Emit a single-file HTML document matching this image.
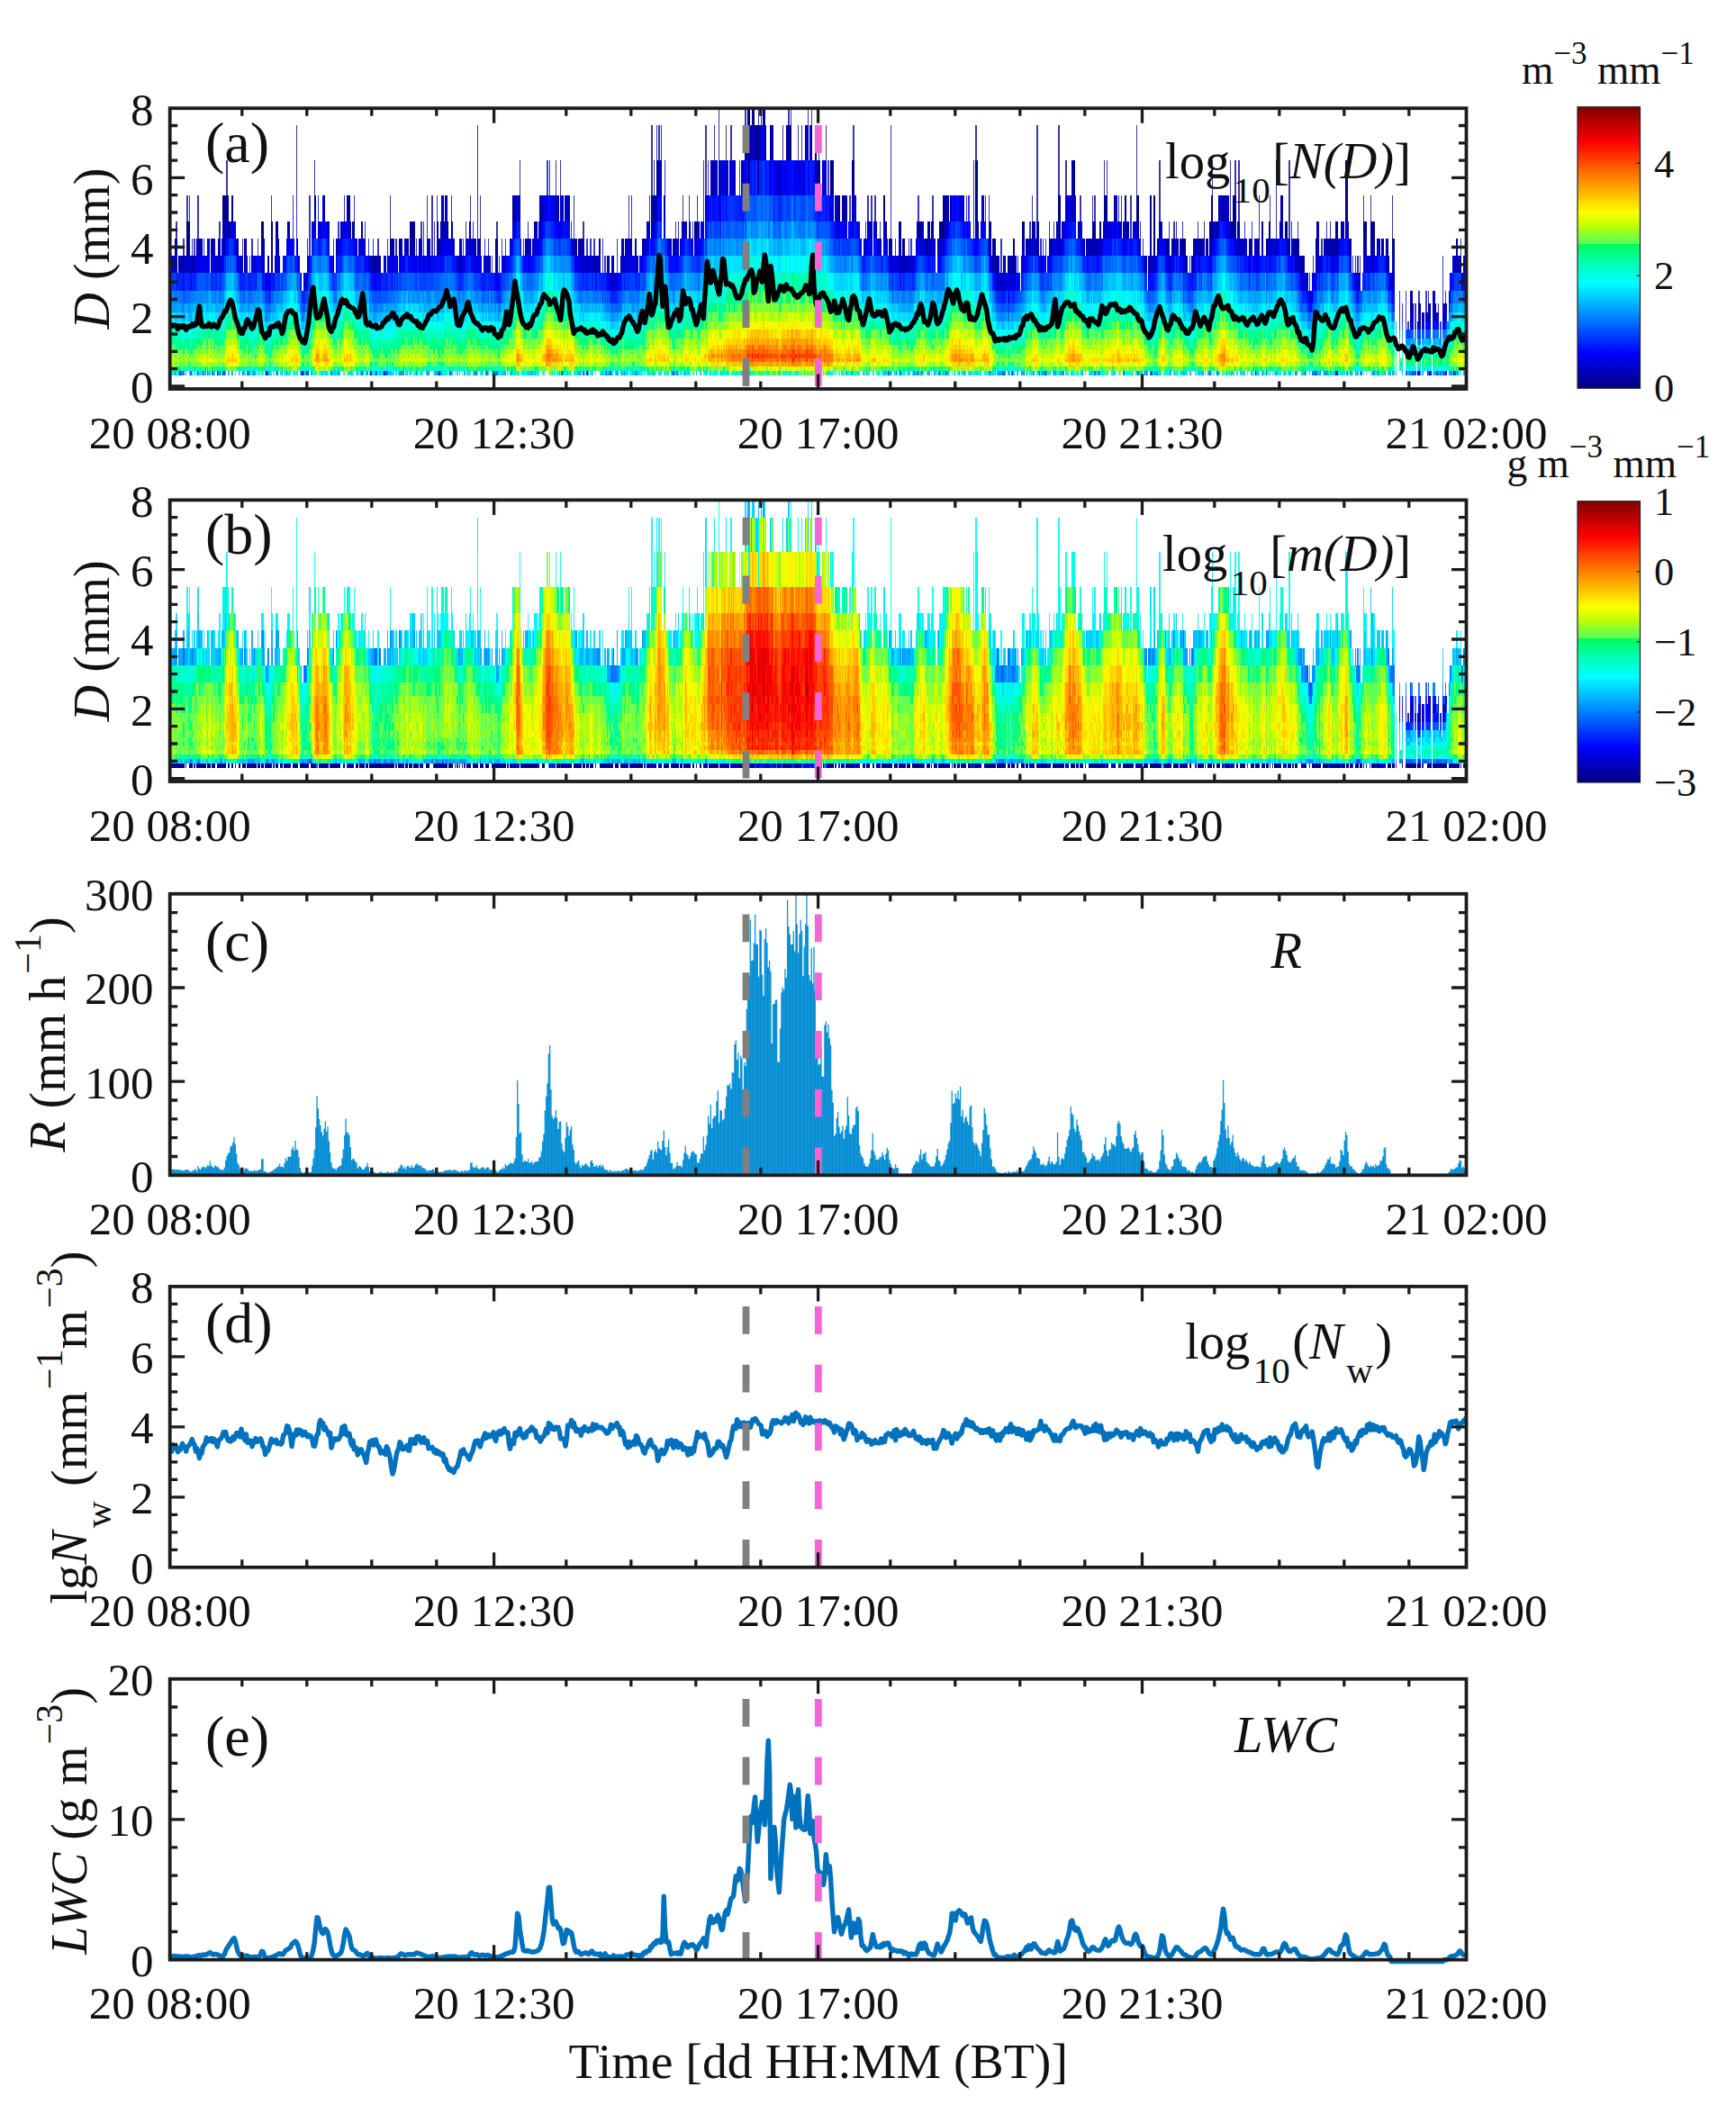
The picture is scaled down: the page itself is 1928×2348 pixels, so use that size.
<!DOCTYPE html>
<html lang="en"><head><meta charset="utf-8"><title>Figure</title><style>html,body{margin:0;padding:0;background:#fff}svg{display:block}</style></head><body>
<svg width="1928" height="2348" viewBox="0 0 1928 2348" font-family="'Liberation Serif', 'Times New Roman', serif" fill="#111">
<defs>
<clipPath id="clipa"><rect x="188.7" y="120.2" width="1439.8" height="311.8"/></clipPath>
<clipPath id="clipb"><rect x="188.7" y="555.4" width="1439.8" height="312.6"/></clipPath>
<clipPath id="clipc"><rect x="188.7" y="992.8" width="1439.8" height="312.5"/></clipPath>
<clipPath id="clipd"><rect x="188.7" y="1428.9" width="1439.8" height="311.9"/></clipPath>
<clipPath id="clipe"><rect x="188.7" y="1864.8" width="1439.8" height="311.9"/></clipPath>
<linearGradient id="jet" x1="0" y1="1" x2="0" y2="0"><stop offset="0.0000" stop-color="#000080"/><stop offset="0.1250" stop-color="#0000ff"/><stop offset="0.3750" stop-color="#00ffff"/><stop offset="0.4263" stop-color="#00ffc8"/><stop offset="0.4596" stop-color="#00ffa0"/><stop offset="0.5120" stop-color="#00fa5a"/><stop offset="0.5121" stop-color="#5fff55"/><stop offset="0.5228" stop-color="#64ff50"/><stop offset="0.5430" stop-color="#82ff37"/><stop offset="0.5760" stop-color="#beff00"/><stop offset="0.6245" stop-color="#ffff00"/><stop offset="0.8750" stop-color="#ff0000"/><stop offset="1.0000" stop-color="#800000"/></linearGradient>
</defs>
<rect width="1928" height="2348" fill="#fff"/>
<g clip-path="url(#clipa)" shape-rendering="crispEdges" fill="none">
<g transform="translate(188.7,414.5) scale(1.33315,1)" stroke-width="5">
<path stroke="#0000d9" d="M1035,0h1M1040,0h1"/>
<path stroke="#0000f2" d="M904,0h1M972,0h1M1049,0h1M1069,0h1"/>
<path stroke="#000dff" d="M39,0h1M80,0h1M110,0h1M178,0h1M817,0h1M971,0h1M1039,0h1"/>
<path stroke="#0026ff" d="M8,0h1M167,0h1M224,0h1M347,0h1M1047,0h1M1050,0h1M1062,0h2"/>
<path stroke="#0040ff" d="M27,0h1M115,0h1M171,0h1M179,0h1M363,0h1M366,0h1M388,0h1M598,0h1M694,0h1M729,0h1M1037,0h1M1055,0h1"/>
<path stroke="#0059ff" d="M44,0h1M69,0h1M114,0h1M181,0h1M269,0h1M640,0h1M646,0h1M701,0h1M711,0h1M813,0h1M822,0h1M913,0h1M953,0h1M955,0h1M1006,0h1M1029,0h1M1032,0h1M1061,0h1M1070,0h1"/>
<path stroke="#0073ff" d="M17,0h1M31,0h1M35,0h1M45,0h1M60,0h1M64,0h2M89,0h1M109,0h1M113,0h1M160,0h1M172,0h1M180,0h1M192,0h1M194,0h1M233,0h1M254,0h1M263,0h1M272,0h1M326,0h1M344,0h1M372,0h1M419,0h1M608,0h1M622,0h1M636,0h1M693,0h1M724,0h1M760,0h1M770,0h1M794,0h1M806,0h1M872,0h1M910,0h1M945,0h1M951,0h1M992,0h1M1034,0h1M1048,0h1M1053,0h1M1058,0h1M1060,0h1M1072,0h1"/>
<path stroke="#008cff" d="M4,0h1M10,0h2M23,0h1M41,0h1M51,0h1M81,0h1M93,0h1M97,0h1M111,0h1M156,0h1M159,0h1M205,0h1M215,0h1M223,0h1M252,0h1M264,0h1M270,0h2M276,0h1M367,0h1M378,0h1M418,0h1M422,0h1M568,0h1M580,0h1M619,0h1M682,0h1M691,0h1M695,0h1M709,0h1M726,0h1M728,0h1M743,0h1M774,0h1M816,0h1M856,0h1M866,0h1M933,0h1M937,0h1M954,0h1M958,0h1M962,0h1M1002,0h2M1012,0h1M1030,0h1M1033,0h1M1041,0h1M1056,0h1M1065,0h1M1067,0h1"/>
<path stroke="#00a6ff" d="M9,0h1M29,0h1M33,0h1M37,0h1M40,0h1M46,0h1M48,0h1M70,0h1M82,0h1M117,0h1M134,0h1M140,0h1M164,0h1M175,0h1M177,0h1M183,0h1M191,0h1M221,0h1M226,0h1M255,0h1M279,0h1M284,0h1M298,0h1M300,0h1M327,0h1M339,0h1M348,0h1M360,0h1M376,0h1M402,0h1M420,0h1M428,0h1M477,0h1M563,0h1M595,0h1M599,0h1M620,0h1M623,0h1M626,0h1M631,0h1M641,0h1M647,0h1M657,0h1M661,0h1M666,0h1M683,0h1M687,0h1M689,0h1M692,0h1M699,0h1M706,0h1M719,0h1M723,0h1M737,0h1M741,0h1M744,0h1M773,0h1M818,0h1M820,0h2M833,0h1M844,0h1M860,0h1M864,0h2M892,0h1M894,0h1M921,0h1M938,0h1M952,0h1M957,0h1M964,0h1M969,0h1M980,0h1M983,0h1M987,0h1M1018,0h1M1077,0h2"/>
<path stroke="#00bfff" d="M1,0h1M22,0h1M61,0h1M126,0h1M130,0h1M135,0h1M137,0h1M139,0h1M150,0h1M184,0h1M186,0h1M213,0h2M222,0h1M225,0h1M234,0h2M247,0h1M274,0h1M278,0h1M294,0h1M301,0h1M304,0h1M324,0h1M331,0h1M340,0h3M352,0h1M365,0h1M373,0h1M386,0h1M442,0h1M447,0h1M459,0h1M476,0h1M577,0h1M600,0h1M603,0h1M605,0h1M615,0h1M625,0h1M632,0h1M644,0h1M685,0h1M690,0h1M698,0h1M702,0h1M710,0h1M727,0h1M733,0h1M735,0h2M751,0h1M767,0h1M786,0h2M804,0h1M809,0h1M811,0h2M845,0h1M849,0h2M884,0h1M886,0h1M900,0h1M905,0h1M928,0h1M942,0h1M944,0h1M963,0h1M967,0h1M976,0h1M989,0h1M1001,0h1M1015,0h2M1019,0h1M1031,0h1M1036,0h1M1057,0h1M1059,0h1M1066,0h1M1079,0h1"/>
<path stroke="#00d9ff" d="M3,0h1M7,0h1M18,0h1M25,0h1M32,0h1M52,0h1M57,0h1M62,0h1M66,0h1M71,0h1M76,0h1M83,0h1M100,0h1M118,0h1M127,0h1M141,0h1M149,0h1M158,0h1M170,0h1M182,0h1M196,0h2M199,0h1M230,0h1M249,0h1M260,0h1M265,0h1M287,0h1M302,0h1M307,0h1M318,0h1M322,0h1M336,0h1M359,0h1M362,0h1M368,0h1M371,0h1M375,0h1M377,0h1M380,0h2M385,0h1M389,0h2M393,0h1M398,0h1M408,0h1M426,0h1M431,0h1M446,0h1M454,0h1M464,0h1M482,0h1M508,0h1M548,0h1M582,0h1M594,0h1M596,0h1M612,0h1M616,0h1M662,0h1M671,0h2M675,0h1M703,0h1M705,0h1M717,0h1M730,0h1M771,0h2M781,0h1M784,0h1M824,0h1M836,0h1M842,0h2M847,0h1M857,0h3M880,0h1M882,0h1M906,0h1M920,0h1M922,0h1M932,0h1M946,0h1M956,0h1M961,0h1M966,0h1M978,0h1M984,0h1M988,0h1M991,0h1M1005,0h1M1014,0h1M1054,0h1M1071,0h1M1073,0h1"/>
<path stroke="#00f2ff" d="M6,0h1M16,0h1M26,0h1M58,0h1M68,0h1M74,0h1M84,0h1M88,0h1M92,0h1M95,0h1M102,0h1M108,0h1M128,0h2M151,0h2M163,0h1M166,0h1M169,0h1M173,0h2M185,0h1M203,0h1M220,0h1M227,0h1M232,0h1M248,0h1M259,0h1M286,0h1M297,0h1M299,0h1M303,0h1M305,0h1M323,0h1M334,0h1M350,0h2M379,0h1M387,0h1M391,0h1M423,0h1M441,0h1M444,0h1M453,0h1M455,0h1M462,0h2M485,0h1M496,0h1M507,0h1M516,0h1M551,0h1M586,0h1M588,0h1M593,0h1M637,0h1M659,0h1M668,0h1M670,0h1M742,0h1M759,0h1M765,0h1M776,0h1M796,0h1M828,0h5M837,0h2M867,0h1M873,0h1M889,0h1M893,0h1M923,0h2M974,0h1M977,0h1"/>
<path stroke="#00fff2" d="M49,0h1M103,0h3M120,0h1M136,0h1M155,0h1M176,0h1M190,0h1M200,0h2M208,0h1M210,0h1M229,0h1M253,0h1M292,0h2M295,0h1M310,0h2M358,0h1M384,0h1M392,0h1M397,0h1M404,0h1M412,0h1M421,0h1M430,0h1M435,0h1M449,0h1M452,0h1M469,0h1M479,0h1M499,0h1M523,0h1M534,0h1M550,0h1M564,0h1M591,0h1M607,0h1M610,0h2M618,0h1M621,0h1M642,0h1M649,0h1M653,0h1M680,0h1M684,0h1M722,0h1M752,0h2M778,0h1M780,0h1M798,0h1M814,0h1M823,0h1M841,0h1M879,0h1M881,0h1M888,0h1M891,0h1M902,0h1M907,0h1M909,0h1M911,0h1M960,0h1M968,0h1"/>
<path stroke="#00ffd7" d="M2,0h1M24,0h1M28,0h1M43,0h1M73,0h1M96,0h1M112,0h1M119,0h1M124,0h2M131,0h1M145,0h1M161,0h1M168,0h1M204,0h1M256,0h1M258,0h1M273,0h1M275,0h1M283,0h1M296,0h1M332,0h2M338,0h1M345,0h1M361,0h1M401,0h1M413,0h1M425,0h1M450,0h1M456,0h1M461,0h1M471,0h1M473,0h1M478,0h1M484,0h1M489,0h1M512,0h2M517,0h1M521,0h1M538,0h2M552,0h1M566,0h1M569,0h1M581,0h1M589,0h1M597,0h1M614,0h1M624,0h1M627,0h1M638,0h1M643,0h1M656,0h1M660,0h1M681,0h1M686,0h1M713,0h1M718,0h1M732,0h1M738,0h1M740,0h1M748,0h1M755,0h1M758,0h1M766,0h1M768,0h1M790,0h1M795,0h1M797,0h1M799,0h1M802,0h1M819,0h1M825,0h1M846,0h1M895,0h1M914,0h1M927,0h1M931,0h1M973,0h1M1009,0h1M1052,0h1"/>
<path stroke="#00ffbb" d="M5,0h1M42,0h1M67,0h1M77,0h1M98,0h1M138,0h1M206,0h1M228,0h1M250,0h1M268,0h1M277,0h1M316,0h1M320,0h1M329,0h2M337,0h1M383,0h1M433,0h1M436,0h1M445,0h1M451,0h1M458,0h1M460,0h1M468,0h1M470,0h1M474,0h2M497,0h1M510,0h2M515,0h1M520,0h1M525,0h1M542,0h1M544,0h1M549,0h1M561,0h1M565,0h1M571,0h2M601,0h1M604,0h1M630,0h1M645,0h1M648,0h1M665,0h1M673,0h2M678,0h1M716,0h1M725,0h1M739,0h1M747,0h1M775,0h1M800,0h2M805,0h1M807,0h1M839,0h1M874,0h1M901,0h1M925,0h1M981,0h1M1007,0h1M1068,0h1"/>
<path stroke="#00ff9c" d="M79,0h1M99,0h1M106,0h1M121,0h1M133,0h1M193,0h1M209,0h1M289,0h2M328,0h1M364,0h1M399,0h1M407,0h1M409,0h1M411,0h1M414,0h2M486,0h1M501,0h1M506,0h1M528,0h1M541,0h1M547,0h1M560,0h1M573,0h2M578,0h1M585,0h1M590,0h1M609,0h1M714,0h1M746,0h1M750,0h1M769,0h1M777,0h1M785,0h1M970,0h1M1004,0h1M1008,0h1M1011,0h1"/>
<path stroke="#00fc7b" d="M36,0h1M285,0h1M400,0h1M403,0h1M417,0h1M429,0h1M432,0h1M465,0h1M472,0h1M483,0h1M491,0h1M493,0h1M498,0h1M503,0h1M522,0h1M540,0h1M559,0h1M567,0h1M679,0h1M731,0h1M756,0h1M808,0h1M876,0h1M929,0h1M943,0h1M965,0h1M1010,0h1"/>
<path stroke="#5fff55" d="M144,0h1M147,0h2M219,0h1M288,0h1M317,0h1M467,0h1M490,0h1M494,0h1M504,0h1M514,0h1M524,0h1M530,0h3M537,0h1M570,0h1M779,0h1M877,0h1M885,0h1M975,0h1"/>
<path stroke="#7aff3e" d="M122,0h1M306,0h1M325,0h1M487,0h2M495,0h1M500,0h1M518,0h2M527,0h1M529,0h1M533,0h1M535,0h1M546,0h1M628,0h1M667,0h1M791,0h1M878,0h1M883,0h1M985,0h1"/>
<path stroke="#a5ff16" d="M319,0h1M480,0h2M492,0h1M502,0h1M509,0h1M536,0h1M669,0h1M827,0h1"/>
<path stroke="#cdff00" d="M526,0h1M545,0h1M654,0h1"/>
<path stroke="#efff00" d="M315,0h1M505,0h1"/>
<path stroke="#387eff" d="M13,0h1M916,0h1"/>
<path stroke="#38a5ff" d="M245,0h1M438,0h1M949,0h1M1021,0h1M1026,0h1M1043,0h1M1075,0h1"/>
<path stroke="#38b9ff" d="M239,0h1M241,0h1M918,0h1"/>
<path stroke="#38cdff" d="M188,0h1M854,0h1M862,0h1M994,0h1"/>
<path stroke="#38e1ff" d="M20,0h1M237,0h1M395,0h1M554,0h1M634,0h1M651,0h1M897,0h1"/>
<path stroke="#38f5ff" d="M86,0h1M243,0h1M354,0h1M869,0h1M996,0h1"/>
<path stroke="#38fff5" d="M281,0h1M935,0h1"/>
<path stroke="#38ffe0" d="M54,0h1M557,0h1"/>
<path stroke="#38ffca" d="M762,0h1"/>
<path stroke="#97ff68" d="M999,0h1"/>
</g>
<g transform="translate(188.7,409.5) scale(1.33315,1)" stroke-width="5">
<path stroke="#00bfff" d="M1032,0h1"/>
<path stroke="#00d9ff" d="M1040,0h2"/>
<path stroke="#00f2ff" d="M688,0h1M693,0h1M989,0h2M1026,0h1M1030,0h1M1044,0h1M1046,0h1M1048,0h1M1050,0h1M1062,0h1"/>
<path stroke="#00fff2" d="M17,0h1M111,0h1M114,0h1M116,0h1M170,0h2M179,0h1M183,0h1M218,0h1M222,0h1M227,0h1M691,0h1M694,0h1M699,0h1M701,0h1M849,0h1M952,0h1M957,0h1M988,0h1M991,0h1M1024,0h1M1029,0h1M1031,0h1M1033,0h2M1036,0h1M1043,0h1M1045,0h1M1053,0h1M1055,0h4M1060,0h2M1063,0h1"/>
<path stroke="#00ffd7" d="M9,0h1M23,0h2M42,0h1M65,0h1M67,0h2M70,0h1M80,0h2M85,0h2M110,0h1M115,0h1M117,0h2M138,0h1M159,0h1M167,0h1M173,0h1M175,0h1M184,0h2M187,0h1M197,0h1M229,0h2M236,0h1M242,0h1M244,0h2M258,0h1M267,0h1M270,0h1M272,0h1M274,0h1M374,0h1M388,0h1M391,0h1M446,0h1M690,0h1M692,0h1M696,0h1M707,0h1M709,0h2M820,0h1M847,0h1M948,0h1M950,0h1M954,0h1M1018,0h1M1025,0h1M1035,0h1M1037,0h1M1039,0h1M1052,0h1M1054,0h1M1059,0h1M1067,0h1"/>
<path stroke="#00ffbb" d="M3,0h1M12,0h1M14,0h2M19,0h1M21,0h1M30,0h1M38,0h1M43,0h1M45,0h1M56,0h1M58,0h1M60,0h1M63,0h1M72,0h2M82,0h1M84,0h1M108,0h1M112,0h2M136,0h1M141,0h1M157,0h2M161,0h1M165,0h2M169,0h1M172,0h1M174,0h1M177,0h2M181,0h2M189,0h2M212,0h1M215,0h1M221,0h1M223,0h4M231,0h1M233,0h1M237,0h3M241,0h1M246,0h1M262,0h1M266,0h1M273,0h1M278,0h1M342,0h3M360,0h1M363,0h3M368,0h2M371,0h3M376,0h1M378,0h2M382,0h1M384,0h1M386,0h1M393,0h1M395,0h1M419,0h2M426,0h1M610,0h1M618,0h1M635,0h1M644,0h1M689,0h1M698,0h1M702,0h3M706,0h1M708,0h1M727,0h1M822,0h2M831,0h2M852,0h1M854,0h1M868,0h1M920,0h1M924,0h1M942,0h1M945,0h3M949,0h1M951,0h1M955,0h1M985,0h2M992,0h1M1006,0h1M1019,0h1M1047,0h1M1049,0h1M1064,0h3"/>
<path stroke="#00ff9c" d="M1,0h1M5,0h1M11,0h1M13,0h1M18,0h1M22,0h1M31,0h1M36,0h1M39,0h1M41,0h1M46,0h1M59,0h1M61,0h2M66,0h1M69,0h1M71,0h1M74,0h1M83,0h1M87,0h3M92,0h1M109,0h1M137,0h1M142,0h1M156,0h1M160,0h1M162,0h1M168,0h1M176,0h1M180,0h1M186,0h1M188,0h1M191,0h1M193,0h1M195,0h2M198,0h1M200,0h1M202,0h1M204,0h1M210,0h2M213,0h2M216,0h2M219,0h2M232,0h1M234,0h2M240,0h1M243,0h1M247,0h1M253,0h1M256,0h1M259,0h1M261,0h1M264,0h1M268,0h1M271,0h1M275,0h1M277,0h1M285,0h1M347,0h1M349,0h1M353,0h1M362,0h1M370,0h1M380,0h2M383,0h1M385,0h1M387,0h1M389,0h2M396,0h1M401,0h1M418,0h1M421,0h1M427,0h1M440,0h1M553,0h1M583,0h1M599,0h1M602,0h1M606,0h1M613,0h1M615,0h1M619,0h2M623,0h1M633,0h1M637,0h1M695,0h1M700,0h1M705,0h1M716,0h1M725,0h2M729,0h1M737,0h1M762,0h1M771,0h1M776,0h1M812,0h1M815,0h5M821,0h1M824,0h1M830,0h1M833,0h2M845,0h1M848,0h1M850,0h2M858,0h1M867,0h1M904,0h1M906,0h1M909,0h1M913,0h4M941,0h1M956,0h1M959,0h1M961,0h1M963,0h1M966,0h1M971,0h1M983,0h1M987,0h1M995,0h1M997,0h1M1005,0h1M1014,0h2M1017,0h1M1068,0h1M1072,0h1M1078,0h2"/>
<path stroke="#00fc7b" d="M0,0h1M2,0h1M6,0h3M16,0h1M20,0h1M25,0h1M27,0h1M29,0h1M34,0h2M37,0h1M40,0h1M44,0h1M57,0h1M64,0h1M75,0h1M77,0h3M90,0h1M93,0h1M96,0h1M99,0h1M119,0h1M135,0h1M140,0h1M143,0h2M151,0h1M155,0h1M163,0h1M194,0h1M201,0h1M205,0h2M208,0h1M228,0h1M248,0h2M251,0h1M255,0h1M257,0h1M260,0h1M263,0h1M265,0h1M269,0h1M281,0h2M284,0h1M286,0h2M303,0h4M328,0h2M338,0h2M341,0h1M346,0h1M348,0h1M351,0h2M354,0h1M358,0h1M361,0h1M366,0h2M375,0h1M392,0h1M394,0h1M397,0h2M403,0h1M405,0h2M409,0h1M416,0h1M423,0h1M425,0h1M428,0h1M430,0h3M441,0h1M444,0h1M447,0h1M461,0h1M561,0h1M579,0h2M582,0h1M593,0h1M596,0h1M607,0h2M611,0h1M614,0h1M616,0h2M622,0h1M626,0h1M629,0h1M634,0h1M636,0h1M638,0h1M641,0h3M646,0h1M648,0h2M675,0h1M685,0h3M697,0h1M712,0h1M714,0h1M736,0h1M741,0h1M746,0h1M760,0h1M765,0h1M767,0h1M785,0h1M813,0h2M829,0h1M844,0h1M846,0h1M853,0h1M855,0h1M857,0h1M859,0h1M866,0h1M869,0h1M887,0h1M891,0h2M898,0h1M902,0h2M905,0h1M908,0h1M917,0h2M922,0h2M925,0h1M933,0h1M939,0h1M943,0h2M953,0h1M958,0h1M960,0h1M970,0h1M972,0h3M977,0h1M982,0h1M993,0h1M998,0h2M1002,0h2M1010,0h1M1016,0h1M1069,0h1M1071,0h1M1077,0h1"/>
<path stroke="#5fff55" d="M4,0h1M10,0h1M26,0h1M28,0h1M32,0h2M51,0h2M54,0h2M76,0h1M91,0h1M95,0h1M97,0h1M100,0h2M106,0h2M132,0h1M139,0h1M146,0h1M152,0h3M199,0h1M203,0h1M207,0h1M209,0h1M252,0h1M254,0h1M276,0h1M279,0h2M283,0h1M291,0h1M293,0h1M295,0h2M299,0h4M309,0h1M311,0h1M320,0h1M327,0h1M331,0h1M337,0h1M340,0h1M345,0h1M355,0h3M377,0h1M408,0h1M410,0h1M413,0h1M417,0h1M422,0h1M433,0h2M438,0h1M445,0h1M449,0h2M453,0h3M460,0h1M464,0h1M483,0h1M508,0h1M568,0h1M575,0h1M577,0h2M581,0h1M591,0h1M595,0h1M597,0h1M601,0h1M604,0h2M612,0h1M628,0h1M631,0h2M639,0h2M645,0h1M647,0h1M677,0h1M679,0h1M711,0h1M715,0h1M728,0h1M731,0h1M734,0h2M738,0h1M740,0h1M742,0h2M745,0h1M764,0h1M766,0h1M769,0h1M774,0h2M781,0h1M784,0h1M787,0h1M794,0h2M798,0h1M801,0h1M803,0h1M811,0h1M835,0h2M838,0h2M841,0h3M856,0h1M860,0h1M862,0h1M864,0h1M872,0h1M880,0h1M882,0h2M896,0h2M899,0h3M907,0h1M910,0h1M912,0h1M919,0h1M921,0h1M927,0h2M930,0h2M934,0h3M938,0h1M940,0h1M962,0h1M968,0h2M975,0h2M978,0h1M981,0h1M984,0h1M996,0h1M1000,0h2M1004,0h1M1009,0h1M1011,0h1M1070,0h1M1073,0h4"/>
<path stroke="#7aff3e" d="M47,0h2M50,0h1M53,0h1M94,0h1M120,0h1M124,0h1M128,0h2M134,0h1M147,0h1M150,0h1M164,0h1M192,0h1M250,0h1M288,0h1M298,0h1M307,0h2M310,0h1M313,0h1M317,0h2M321,0h1M330,0h1M350,0h1M359,0h1M400,0h1M402,0h1M407,0h1M411,0h2M414,0h1M424,0h1M435,0h2M439,0h1M442,0h2M448,0h1M457,0h2M462,0h1M466,0h1M507,0h1M554,0h2M559,0h2M562,0h1M567,0h1M569,0h1M576,0h1M585,0h1M587,0h4M592,0h1M594,0h1M598,0h1M603,0h1M609,0h1M621,0h1M624,0h1M627,0h1M630,0h1M650,0h1M670,0h2M673,0h2M676,0h1M682,0h1M717,0h2M721,0h1M723,0h1M730,0h1M732,0h2M744,0h1M747,0h1M750,0h1M752,0h2M758,0h1M761,0h1M768,0h1M773,0h1M777,0h1M779,0h2M782,0h1M786,0h1M793,0h1M796,0h1M799,0h2M804,0h1M807,0h2M810,0h1M825,0h3M837,0h1M840,0h1M865,0h1M871,0h1M881,0h1M886,0h1M890,0h1M893,0h1M895,0h1M911,0h1M926,0h1M929,0h1M932,0h1M937,0h1M967,0h1M979,0h1M994,0h1M1007,0h2M1012,0h2"/>
<path stroke="#a5ff16" d="M49,0h1M98,0h1M104,0h2M121,0h1M125,0h2M133,0h1M148,0h2M294,0h1M297,0h1M312,0h1M324,0h3M332,0h1M334,0h1M336,0h1M399,0h1M404,0h1M429,0h1M437,0h1M451,0h2M456,0h1M463,0h1M465,0h1M468,0h1M480,0h1M486,0h1M488,0h1M496,0h2M513,0h1M516,0h1M525,0h1M528,0h1M532,0h1M537,0h1M543,0h1M548,0h2M552,0h1M557,0h2M563,0h1M565,0h1M570,0h2M573,0h2M584,0h1M586,0h1M600,0h1M651,0h3M655,0h2M658,0h5M664,0h2M668,0h2M672,0h1M680,0h1M683,0h1M713,0h1M720,0h1M722,0h1M724,0h1M739,0h1M749,0h1M751,0h1M759,0h1M763,0h1M778,0h1M783,0h1M788,0h2M791,0h2M805,0h2M809,0h1M828,0h1M861,0h1M863,0h1M870,0h1M873,0h1M876,0h2M884,0h1M888,0h2M894,0h1M964,0h2"/>
<path stroke="#cdff00" d="M102,0h2M123,0h1M131,0h1M145,0h1M289,0h1M292,0h1M314,0h2M319,0h1M322,0h2M333,0h1M335,0h1M415,0h1M469,0h3M475,0h1M477,0h3M481,0h1M487,0h1M491,0h1M493,0h1M495,0h1M500,0h2M503,0h1M509,0h1M514,0h1M517,0h1M521,0h1M523,0h1M526,0h2M529,0h1M534,0h1M536,0h1M538,0h3M542,0h1M544,0h1M546,0h1M550,0h1M556,0h1M564,0h1M625,0h1M657,0h1M681,0h1M684,0h1M719,0h1M748,0h1M754,0h4M770,0h1M772,0h1M790,0h1M797,0h1M802,0h1M874,0h1M878,0h2M885,0h1M980,0h1"/>
<path stroke="#efff00" d="M122,0h1M127,0h1M130,0h1M290,0h1M459,0h1M467,0h1M472,0h3M476,0h1M482,0h1M484,0h1M492,0h1M498,0h2M504,0h3M511,0h2M515,0h1M518,0h3M522,0h1M530,0h1M533,0h1M535,0h1M545,0h1M547,0h1M551,0h1M566,0h1M572,0h1M654,0h1M663,0h1M666,0h2M678,0h1M875,0h1"/>
<path stroke="#fff200" d="M489,0h2M494,0h1M502,0h1M510,0h1M524,0h1M531,0h1M541,0h1"/>
<path stroke="#ffd800" d="M316,0h1M485,0h1"/>
<path stroke="#38ffe0" d="M1021,0h1"/>
</g>
<g transform="translate(188.7,404.5) scale(1.33315,1)" stroke-width="5">
<path stroke="#00ffbb" d="M1024,0h1M1032,0h1M1040,0h1M1062,0h1"/>
<path stroke="#00ff9c" d="M83,0h1M115,0h1M172,0h1M224,0h1M698,0h1M702,0h1M948,0h1M1018,0h1M1026,0h1M1029,0h3M1034,0h3M1039,0h1M1041,0h1M1043,0h2M1046,0h3M1050,0h1M1053,0h2M1057,0h1M1059,0h3M1063,0h1"/>
<path stroke="#00fc7b" d="M15,0h1M79,0h1M110,0h2M114,0h1M167,0h2M170,0h2M180,0h2M183,0h1M185,0h1M215,0h1M217,0h1M222,0h1M225,0h3M241,0h1M274,0h1M368,0h1M373,0h1M385,0h2M689,0h1M693,0h2M699,0h1M701,0h1M706,0h1M820,0h1M849,0h1M851,0h2M945,0h1M950,0h2M957,0h1M988,0h2M1025,0h1M1033,0h1M1049,0h1M1052,0h1M1056,0h1M1058,0h1M1064,0h1"/>
<path stroke="#5fff55" d="M3,0h1M8,0h2M11,0h1M16,0h3M25,0h1M44,0h1M65,0h1M67,0h1M71,0h1M80,0h3M84,0h3M112,0h2M116,0h1M138,0h1M166,0h1M173,0h2M176,0h4M182,0h1M186,0h2M189,0h1M216,0h1M218,0h3M223,0h1M228,0h4M234,0h1M237,0h1M239,0h1M244,0h2M247,0h1M258,0h1M263,0h1M266,0h1M268,0h2M271,0h1M273,0h1M275,0h1M366,0h2M369,0h4M375,0h1M379,0h1M381,0h2M390,0h1M393,0h1M420,0h1M426,0h1M606,0h1M688,0h1M690,0h3M695,0h2M700,0h1M703,0h2M707,0h1M709,0h1M712,0h1M819,0h1M821,0h1M832,0h1M850,0h1M853,0h1M942,0h2M947,0h1M949,0h1M952,0h1M954,0h3M986,0h2M990,0h2M1017,0h1M1037,0h1M1045,0h1M1055,0h1M1065,0h1M1067,0h1"/>
<path stroke="#7aff3e" d="M5,0h1M7,0h1M10,0h1M12,0h2M19,0h6M35,0h1M40,0h2M43,0h1M46,0h1M58,0h1M60,0h2M64,0h1M66,0h1M68,0h1M70,0h1M72,0h1M77,0h1M88,0h2M93,0h1M108,0h2M117,0h2M137,0h1M158,0h4M169,0h1M175,0h1M184,0h1M190,0h1M194,0h2M199,0h2M202,0h1M210,0h2M213,0h2M221,0h1M233,0h1M235,0h2M238,0h1M240,0h1M242,0h2M246,0h1M250,0h1M253,0h1M256,0h1M260,0h1M262,0h1M265,0h1M267,0h1M270,0h1M272,0h1M277,0h1M303,0h1M342,0h1M344,0h1M349,0h1M354,0h1M362,0h1M364,0h2M374,0h1M376,0h3M380,0h1M383,0h2M388,0h2M391,0h1M394,0h2M417,0h1M419,0h1M581,0h2M601,0h2M604,0h1M610,0h1M614,0h1M616,0h4M636,0h1M642,0h1M644,0h1M686,0h1M705,0h1M708,0h1M711,0h1M726,0h1M734,0h1M815,0h2M818,0h1M822,0h1M831,0h1M833,0h2M844,0h1M847,0h1M854,0h1M867,0h1M902,0h1M916,0h1M920,0h1M939,0h1M941,0h1M944,0h1M953,0h1M958,0h1M968,0h1M971,0h1M985,0h1M992,0h1M1004,0h2M1015,0h1M1019,0h1M1066,0h1M1068,0h4"/>
<path stroke="#a5ff16" d="M0,0h2M4,0h1M6,0h1M14,0h1M30,0h3M34,0h1M36,0h4M42,0h1M59,0h1M62,0h2M69,0h1M73,0h3M78,0h1M87,0h1M90,0h2M96,0h2M136,0h1M140,0h3M154,0h4M162,0h1M164,0h1M188,0h1M191,0h1M197,0h2M201,0h1M203,0h5M209,0h1M212,0h1M232,0h1M248,0h2M251,0h1M254,0h2M257,0h1M259,0h1M264,0h1M276,0h1M278,0h2M281,0h1M287,0h1M341,0h1M347,0h1M352,0h2M355,0h2M359,0h1M363,0h1M387,0h1M392,0h1M403,0h1M405,0h1M416,0h1M421,0h1M423,0h1M425,0h1M432,0h2M440,0h1M446,0h1M579,0h1M589,0h1M603,0h1M607,0h2M611,0h3M615,0h1M620,0h1M632,0h4M637,0h1M641,0h1M643,0h1M685,0h1M687,0h1M697,0h1M710,0h1M714,0h1M716,0h1M727,0h1M741,0h2M801,0h1M813,0h2M823,0h1M845,0h2M848,0h1M856,0h1M858,0h2M866,0h1M893,0h1M899,0h1M903,0h4M908,0h1M913,0h1M915,0h1M917,0h3M923,0h2M933,0h1M938,0h1M946,0h1M959,0h4M970,0h1M972,0h2M977,0h1M983,0h2M993,0h1M998,0h1M1000,0h2M1003,0h1M1006,0h1M1014,0h1M1016,0h1M1072,0h1M1077,0h3"/>
<path stroke="#cdff00" d="M2,0h1M26,0h4M33,0h1M45,0h1M47,0h1M92,0h1M95,0h1M99,0h1M103,0h1M106,0h1M135,0h1M139,0h1M143,0h2M151,0h1M163,0h1M165,0h1M192,0h2M196,0h1M208,0h1M252,0h1M261,0h1M280,0h1M282,0h1M284,0h3M295,0h2M298,0h1M301,0h2M305,0h1M307,0h3M337,0h3M343,0h1M345,0h2M348,0h1M350,0h1M357,0h2M360,0h2M396,0h3M402,0h1M413,0h1M418,0h1M422,0h1M424,0h1M427,0h2M434,0h1M441,0h1M444,0h1M447,0h1M577,0h2M580,0h1M583,0h1M590,0h1M592,0h1M594,0h2M599,0h1M605,0h1M609,0h1M621,0h1M624,0h1M626,0h1M630,0h2M639,0h2M646,0h1M674,0h2M713,0h1M715,0h1M717,0h1M724,0h2M728,0h6M736,0h2M740,0h1M743,0h1M760,0h3M764,0h2M769,0h1M774,0h3M781,0h1M799,0h1M812,0h1M817,0h1M824,0h2M829,0h2M835,0h2M838,0h1M841,0h1M843,0h1M855,0h1M857,0h1M860,0h1M864,0h2M868,0h2M871,0h1M891,0h2M894,0h3M898,0h1M900,0h2M907,0h1M914,0h1M921,0h1M925,0h1M929,0h4M934,0h4M940,0h1M963,0h2M966,0h1M969,0h1M976,0h1M981,0h1M994,0h2M997,0h1M999,0h1M1002,0h1M1007,0h3M1013,0h1M1075,0h2"/>
<path stroke="#efff00" d="M48,0h1M53,0h2M56,0h2M76,0h1M94,0h1M98,0h1M100,0h2M119,0h2M125,0h2M132,0h1M134,0h1M147,0h1M149,0h1M152,0h2M283,0h1M293,0h2M297,0h1M299,0h2M304,0h1M306,0h1M310,0h1M327,0h3M331,0h1M340,0h1M351,0h1M399,0h1M401,0h1M406,0h2M409,0h3M429,0h3M436,0h4M442,0h1M458,0h1M559,0h1M568,0h1M571,0h1M575,0h2M587,0h2M591,0h1M593,0h1M596,0h2M600,0h1M622,0h2M625,0h1M627,0h1M629,0h1M638,0h1M645,0h1M648,0h1M673,0h1M676,0h1M683,0h2M718,0h1M721,0h1M723,0h1M735,0h1M739,0h1M744,0h3M763,0h1M766,0h2M770,0h2M777,0h2M780,0h1M787,0h1M793,0h2M800,0h1M803,0h1M805,0h1M808,0h2M811,0h1M826,0h1M828,0h1M837,0h1M840,0h1M842,0h1M861,0h2M870,0h1M882,0h2M886,0h1M889,0h2M897,0h1M909,0h2M922,0h1M926,0h3M967,0h1M974,0h2M978,0h1M982,0h1M996,0h1M1010,0h1M1012,0h1M1073,0h2"/>
<path stroke="#fff200" d="M49,0h4M55,0h1M104,0h1M107,0h1M121,0h1M124,0h1M127,0h2M133,0h1M145,0h2M150,0h1M288,0h1M291,0h1M311,0h2M325,0h1M330,0h1M332,0h1M336,0h1M408,0h1M412,0h1M414,0h2M435,0h1M443,0h1M445,0h1M448,0h3M454,0h1M457,0h1M460,0h3M466,0h1M552,0h3M557,0h1M560,0h2M566,0h2M573,0h1M584,0h1M586,0h1M598,0h1M628,0h1M647,0h1M649,0h3M661,0h1M671,0h2M677,0h1M679,0h1M682,0h1M719,0h2M738,0h1M747,0h1M753,0h1M758,0h2M768,0h1M772,0h2M779,0h1M782,0h3M786,0h1M788,0h1M791,0h1M795,0h1M797,0h2M802,0h1M804,0h1M806,0h1M810,0h1M827,0h1M839,0h1M863,0h1M872,0h2M879,0h2M884,0h1M887,0h2M911,0h2M979,0h2M1011,0h1"/>
<path stroke="#ffd800" d="M102,0h1M105,0h1M122,0h1M129,0h3M148,0h1M292,0h1M318,0h7M326,0h1M334,0h2M400,0h1M404,0h1M452,0h2M455,0h1M463,0h1M468,0h1M473,0h1M476,0h2M507,0h1M543,0h1M555,0h2M558,0h1M562,0h4M569,0h2M572,0h1M585,0h1M653,0h3M658,0h2M662,0h1M666,0h5M680,0h1M722,0h1M748,0h5M754,0h4M785,0h1M789,0h2M792,0h1M796,0h1M807,0h1M874,0h1M881,0h1M885,0h1M965,0h1"/>
<path stroke="#ffbf00" d="M123,0h1M289,0h2M315,0h1M317,0h1M333,0h1M451,0h1M456,0h1M459,0h1M464,0h2M467,0h1M469,0h4M475,0h1M478,0h2M486,0h1M491,0h1M496,0h1M503,0h1M505,0h1M508,0h1M511,0h1M514,0h1M527,0h2M536,0h1M539,0h2M542,0h1M544,0h1M546,0h1M549,0h1M551,0h1M574,0h1M652,0h1M656,0h1M660,0h1M663,0h3M678,0h1M681,0h1M875,0h1M878,0h1"/>
<path stroke="#ffa500" d="M313,0h2M316,0h1M474,0h1M480,0h4M488,0h3M492,0h4M497,0h3M501,0h2M504,0h1M509,0h1M512,0h2M516,0h2M525,0h1M529,0h1M531,0h2M534,0h1M538,0h1M541,0h1M545,0h1M547,0h1M550,0h1M657,0h1M876,0h2"/>
<path stroke="#ff8c00" d="M484,0h2M487,0h1M500,0h1M506,0h1M510,0h1M515,0h1M519,0h6M526,0h1M530,0h1M533,0h1M537,0h1M548,0h1"/>
<path stroke="#ff7300" d="M518,0h1M535,0h1"/>
<path stroke="#38fd98" d="M1021,0h1"/>
</g>
<g transform="translate(188.7,400) scale(1.33315,1)" stroke-width="4">
<path stroke="#00ff9c" d="M1024,0h1M1039,0h2M1043,0h2M1053,0h1"/>
<path stroke="#00fc7b" d="M1026,0h1M1030,0h5M1036,0h2M1041,0h1M1047,0h4M1052,0h1M1054,0h1M1057,0h4M1062,0h1M1064,0h1"/>
<path stroke="#5fff55" d="M81,0h1M83,0h1M172,0h3M181,0h1M183,0h1M186,0h1M373,0h2M689,0h1M698,0h2M701,0h1M820,0h1M948,0h1M953,0h1M957,0h1M988,0h1M990,0h1M1018,0h1M1025,0h1M1029,0h1M1035,0h1M1045,0h2M1055,0h2M1061,0h1M1063,0h1"/>
<path stroke="#7aff3e" d="M8,0h1M11,0h1M15,0h2M18,0h1M22,0h1M65,0h1M67,0h1M70,0h1M79,0h2M82,0h1M85,0h1M110,0h7M166,0h3M170,0h2M176,0h2M179,0h1M182,0h1M184,0h2M187,0h1M189,0h1M219,0h1M222,0h5M231,0h1M241,0h1M244,0h1M266,0h1M273,0h2M366,0h4M375,0h1M378,0h1M384,0h1M392,0h1M690,0h7M703,0h2M707,0h4M712,0h1M818,0h2M844,0h1M849,0h3M942,0h1M949,0h4M954,0h1M989,0h1M991,0h1M1017,0h1M1019,0h1M1067,0h1"/>
<path stroke="#a5ff16" d="M0,0h1M3,0h1M5,0h1M7,0h1M9,0h1M12,0h3M17,0h1M19,0h3M25,0h1M41,0h2M59,0h4M64,0h1M66,0h1M68,0h1M71,0h3M84,0h1M86,0h1M88,0h1M109,0h1M117,0h2M138,0h1M160,0h1M169,0h1M175,0h1M178,0h1M180,0h1M188,0h1M190,0h2M215,0h3M220,0h2M227,0h2M230,0h1M234,0h4M239,0h2M242,0h1M245,0h3M253,0h1M258,0h1M260,0h1M263,0h1M265,0h1M267,0h2M270,0h1M272,0h1M275,0h1M344,0h1M364,0h1M370,0h3M379,0h1M381,0h3M385,0h2M388,0h4M393,0h1M395,0h1M419,0h2M602,0h1M606,0h1M617,0h3M686,0h3M700,0h1M702,0h1M705,0h2M815,0h2M821,0h2M832,0h3M847,0h1M852,0h3M867,0h1M941,0h1M943,0h3M947,0h1M955,0h2M963,0h1M986,0h2M992,0h1M1005,0h1M1014,0h3M1065,0h2M1079,0h1"/>
<path stroke="#cdff00" d="M1,0h2M6,0h1M10,0h1M23,0h2M27,0h1M30,0h2M36,0h1M38,0h3M44,0h1M46,0h1M58,0h1M63,0h1M74,0h1M77,0h1M87,0h1M89,0h3M93,0h1M108,0h1M137,0h1M141,0h2M156,0h4M161,0h2M194,0h4M199,0h6M206,0h4M211,0h1M213,0h2M218,0h1M229,0h1M233,0h1M238,0h1M243,0h1M248,0h2M251,0h1M254,0h3M261,0h2M264,0h1M269,0h1M271,0h1M277,0h1M279,0h1M339,0h1M341,0h1M347,0h1M349,0h1M353,0h3M359,0h2M362,0h2M365,0h1M376,0h2M380,0h1M387,0h1M394,0h1M422,0h1M426,0h1M581,0h2M601,0h1M607,0h2M610,0h3M615,0h2M623,0h1M631,0h1M633,0h1M641,0h3M711,0h1M713,0h1M727,0h1M729,0h1M731,0h1M734,0h1M765,0h1M776,0h1M813,0h2M817,0h1M823,0h1M830,0h2M835,0h1M838,0h1M845,0h2M848,0h1M856,0h1M899,0h1M902,0h7M913,0h1M916,0h2M919,0h2M924,0h1M934,0h1M939,0h1M946,0h1M958,0h2M961,0h1M968,0h1M971,0h1M973,0h1M983,0h1M985,0h1M993,0h1M999,0h1M1001,0h1M1004,0h1M1006,0h1M1069,0h1M1071,0h1M1077,0h1"/>
<path stroke="#efff00" d="M4,0h1M26,0h1M28,0h1M32,0h1M34,0h2M37,0h1M43,0h1M45,0h1M69,0h1M75,0h2M78,0h1M94,0h1M96,0h2M135,0h2M140,0h1M155,0h1M165,0h1M192,0h2M198,0h1M205,0h1M210,0h1M212,0h1M232,0h1M250,0h1M252,0h1M257,0h1M259,0h1M276,0h1M278,0h1M280,0h3M284,0h4M295,0h1M301,0h2M309,0h1M337,0h2M342,0h2M345,0h1M348,0h1M350,0h3M361,0h1M403,0h1M417,0h2M421,0h1M423,0h2M427,0h2M432,0h1M439,0h2M579,0h2M583,0h1M589,0h2M603,0h3M609,0h1M613,0h2M620,0h1M622,0h1M624,0h1M629,0h2M632,0h1M634,0h4M640,0h1M685,0h1M697,0h1M714,0h1M716,0h1M723,0h1M725,0h2M728,0h1M733,0h1M736,0h2M741,0h1M744,0h1M760,0h1M764,0h1M812,0h1M824,0h1M829,0h1M842,0h2M858,0h3M864,0h3M868,0h2M891,0h5M898,0h1M900,0h2M914,0h2M921,0h1M923,0h1M933,0h1M938,0h1M940,0h1M960,0h1M967,0h1M969,0h2M972,0h1M977,0h1M981,0h1M984,0h1M994,0h2M997,0h2M1002,0h2M1008,0h2M1068,0h1M1070,0h1M1072,0h2M1076,0h1M1078,0h1"/>
<path stroke="#fff200" d="M29,0h1M33,0h1M56,0h2M92,0h1M95,0h1M98,0h3M103,0h1M106,0h1M119,0h1M134,0h1M139,0h1M143,0h2M151,0h4M163,0h2M283,0h1M294,0h1M296,0h5M303,0h6M328,0h1M346,0h1M356,0h3M396,0h1M401,0h1M405,0h1M413,0h1M416,0h1M425,0h1M433,0h4M438,0h1M441,0h2M444,0h1M446,0h1M576,0h3M588,0h1M591,0h3M597,0h1M599,0h2M626,0h1M638,0h2M644,0h2M647,0h2M683,0h2M721,0h1M724,0h1M730,0h1M732,0h1M735,0h1M738,0h1M742,0h2M762,0h2M767,0h1M774,0h1M801,0h1M809,0h1M811,0h1M825,0h1M836,0h1M839,0h1M855,0h1M857,0h1M862,0h1M883,0h1M887,0h1M890,0h1M896,0h1M909,0h2M918,0h1M922,0h1M925,0h1M929,0h1M931,0h2M935,0h3M962,0h1M964,0h1M966,0h1M974,0h2M982,0h1M996,0h1M1000,0h1M1007,0h1M1010,0h4M1074,0h2"/>
<path stroke="#ffd800" d="M47,0h2M50,0h2M53,0h2M101,0h1M104,0h1M107,0h1M125,0h1M127,0h1M132,0h2M147,0h1M149,0h1M327,0h1M331,0h1M334,0h1M336,0h1M340,0h1M397,0h3M402,0h1M406,0h5M430,0h2M437,0h1M443,0h1M447,0h2M454,0h1M458,0h1M559,0h1M561,0h1M568,0h1M594,0h3M598,0h1M621,0h1M625,0h1M627,0h1M646,0h1M649,0h1M671,0h1M673,0h3M682,0h1M715,0h1M717,0h1M719,0h1M722,0h1M740,0h1M745,0h1M761,0h1M766,0h1M769,0h5M775,0h1M777,0h6M784,0h1M786,0h3M793,0h4M799,0h2M804,0h1M807,0h2M826,0h1M828,0h1M837,0h1M841,0h1M861,0h1M863,0h1M870,0h3M882,0h1M886,0h1M889,0h1M897,0h1M911,0h2M926,0h3M930,0h1M965,0h1M976,0h1M978,0h1"/>
<path stroke="#ffbf00" d="M49,0h1M52,0h1M55,0h1M102,0h1M105,0h1M120,0h1M124,0h1M126,0h1M145,0h2M148,0h1M150,0h1M288,0h1M291,0h1M293,0h1M310,0h3M326,0h1M329,0h1M332,0h1M404,0h1M411,0h1M414,0h2M429,0h1M445,0h1M450,0h1M452,0h2M455,0h1M457,0h1M460,0h3M553,0h3M558,0h1M562,0h2M567,0h1M571,0h1M575,0h1M584,0h2M587,0h1M628,0h1M650,0h1M665,0h1M670,0h1M672,0h1M676,0h2M679,0h1M718,0h1M720,0h1M739,0h1M746,0h3M751,0h1M755,0h1M758,0h2M768,0h1M783,0h1M785,0h1M791,0h2M797,0h1M805,0h2M810,0h1M827,0h1M840,0h1M873,0h1M880,0h1M884,0h2M888,0h1M979,0h2"/>
<path stroke="#ffa500" d="M121,0h2M128,0h4M292,0h1M317,0h1M322,0h4M330,0h1M333,0h1M335,0h1M400,0h1M412,0h1M449,0h1M451,0h1M456,0h1M463,0h2M466,0h1M473,0h1M477,0h1M507,0h1M552,0h1M557,0h1M560,0h1M565,0h2M569,0h2M586,0h1M651,0h2M656,0h1M660,0h1M662,0h2M666,0h1M669,0h1M678,0h1M680,0h2M749,0h2M754,0h1M757,0h1M789,0h1M798,0h1M802,0h2M874,0h2M877,0h1M879,0h1M881,0h1"/>
<path stroke="#ff8c00" d="M123,0h1M289,0h2M313,0h2M318,0h4M467,0h2M470,0h2M475,0h2M478,0h2M481,0h2M500,0h1M503,0h1M508,0h1M516,0h2M526,0h2M532,0h1M536,0h1M539,0h2M542,0h3M546,0h1M549,0h2M556,0h1M564,0h1M572,0h3M653,0h3M659,0h1M661,0h1M664,0h1M667,0h2M752,0h2M756,0h1M790,0h1M876,0h1M878,0h1"/>
<path stroke="#ff7300" d="M315,0h2M459,0h1M465,0h1M469,0h1M472,0h1M484,0h1M486,0h1M488,0h2M493,0h1M495,0h5M502,0h1M505,0h1M509,0h1M511,0h1M513,0h3M521,0h1M523,0h1M525,0h1M529,0h1M531,0h1M533,0h1M537,0h2M541,0h1M547,0h2M551,0h1M657,0h2"/>
<path stroke="#ff5900" d="M474,0h1M480,0h1M483,0h1M485,0h1M487,0h1M490,0h3M494,0h1M501,0h1M504,0h1M506,0h1M510,0h1M512,0h1M522,0h1M524,0h1M528,0h1M534,0h2M545,0h1"/>
<path stroke="#ff4000" d="M519,0h2M530,0h1"/>
<path stroke="#ff2600" d="M518,0h1"/>
<path stroke="#82ff7a" d="M1021,0h1"/>
</g>
<g transform="translate(188.7,395.5) scale(1.33315,1)" stroke-width="5">
<path stroke="#00ffd7" d="M1030,0h1M1032,0h1M1034,0h1M1039,0h2"/>
<path stroke="#00ffbb" d="M1031,0h1M1035,0h1M1041,0h1M1043,0h2M1048,0h3M1053,0h1M1056,0h4M1061,0h2"/>
<path stroke="#00ff9c" d="M1029,0h1M1033,0h1M1036,0h2M1045,0h3M1052,0h1M1054,0h1M1060,0h1M1063,0h1"/>
<path stroke="#00fc7b" d="M71,0h1M81,0h1M83,0h1M110,0h2M170,0h1M172,0h2M179,0h3M183,0h1M224,0h1M273,0h2M373,0h1M691,0h1M694,0h1M696,0h1M698,0h2M819,0h1M821,0h1M849,0h1M852,0h1M947,0h6M988,0h3M1018,0h1M1055,0h1M1064,0h1"/>
<path stroke="#5fff55" d="M13,0h1M15,0h2M18,0h1M60,0h1M65,0h1M68,0h1M70,0h1M79,0h2M82,0h1M84,0h1M86,0h1M112,0h5M168,0h2M171,0h1M174,0h1M176,0h1M182,0h1M184,0h4M189,0h2M215,0h1M217,0h1M219,0h1M222,0h2M225,0h3M229,0h1M231,0h1M239,0h1M241,0h1M244,0h2M260,0h1M267,0h1M270,0h1M368,0h1M370,0h1M374,0h2M385,0h1M390,0h1M420,0h1M689,0h2M692,0h2M695,0h1M701,0h7M709,0h2M712,0h1M816,0h1M818,0h1M820,0h1M850,0h2M942,0h2M954,0h1M957,0h1M991,0h1M1017,0h1M1019,0h1M1065,0h2"/>
<path stroke="#7aff3e" d="M3,0h1M5,0h1M7,0h6M17,0h1M19,0h3M34,0h1M38,0h1M41,0h2M44,0h1M59,0h1M61,0h2M66,0h2M72,0h1M85,0h1M88,0h1M93,0h1M109,0h1M117,0h1M138,0h1M158,0h1M161,0h1M166,0h2M175,0h1M177,0h2M188,0h1M199,0h1M204,0h1M208,0h1M211,0h2M214,0h1M216,0h1M220,0h2M228,0h1M234,0h1M237,0h1M240,0h1M242,0h2M246,0h2M253,0h1M258,0h1M262,0h1M265,0h2M271,0h2M342,0h1M344,0h1M360,0h1M362,0h1M364,0h4M369,0h1M371,0h2M376,0h1M378,0h5M384,0h1M388,0h2M391,0h3M602,0h1M606,0h1M608,0h1M617,0h1M687,0h2M700,0h1M708,0h1M711,0h1M815,0h1M822,0h1M832,0h3M844,0h1M847,0h1M905,0h1M913,0h1M941,0h1M944,0h2M953,0h1M955,0h2M958,0h2M972,0h1M986,0h2M1014,0h2M1067,0h1M1069,0h1"/>
<path stroke="#a5ff16" d="M0,0h3M4,0h1M6,0h1M14,0h1M22,0h4M30,0h2M35,0h1M37,0h1M39,0h2M58,0h1M63,0h2M69,0h1M73,0h2M77,0h1M87,0h1M89,0h1M91,0h1M108,0h1M118,0h1M134,0h1M136,0h2M141,0h2M156,0h2M159,0h2M162,0h1M191,0h1M193,0h2M196,0h1M198,0h1M205,0h1M210,0h1M213,0h1M218,0h1M230,0h1M232,0h2M235,0h2M238,0h1M248,0h3M254,0h1M256,0h2M261,0h1M263,0h2M268,0h2M275,0h4M339,0h1M341,0h1M343,0h1M349,0h1M352,0h1M354,0h2M363,0h1M383,0h1M386,0h2M394,0h2M426,0h2M601,0h1M604,0h2M607,0h1M610,0h2M613,0h4M618,0h2M636,0h1M686,0h1M697,0h1M726,0h2M734,0h1M812,0h3M817,0h1M823,0h1M845,0h1M848,0h1M853,0h2M859,0h1M866,0h3M892,0h1M898,0h1M908,0h1M917,0h1M920,0h1M924,0h1M933,0h1M939,0h2M946,0h1M960,0h2M963,0h1M968,0h1M983,0h3M992,0h4M1003,0h3M1016,0h1M1068,0h1M1070,0h2M1077,0h1M1079,0h1"/>
<path stroke="#cdff00" d="M26,0h2M29,0h1M32,0h2M36,0h1M43,0h1M45,0h1M75,0h1M78,0h1M90,0h1M92,0h1M94,0h1M96,0h1M100,0h1M135,0h1M140,0h1M143,0h1M151,0h1M153,0h1M155,0h1M164,0h2M195,0h1M197,0h1M200,0h4M206,0h2M209,0h1M251,0h2M255,0h1M259,0h1M279,0h3M285,0h1M295,0h1M298,0h2M301,0h4M306,0h1M337,0h2M345,0h4M353,0h1M356,0h1M358,0h2M361,0h1M377,0h1M416,0h4M421,0h5M432,0h1M440,0h1M580,0h3M599,0h1M603,0h1M609,0h1M612,0h1M620,0h1M622,0h2M629,0h1M631,0h5M637,0h1M640,0h5M685,0h1M713,0h4M725,0h1M728,0h5M736,0h1M741,0h1M760,0h1M763,0h1M771,0h1M774,0h3M811,0h1M824,0h1M829,0h3M835,0h1M846,0h1M856,0h1M858,0h1M860,0h1M864,0h2M891,0h1M893,0h1M896,0h1M899,0h2M902,0h3M906,0h2M914,0h3M919,0h1M921,0h1M935,0h1M938,0h1M962,0h1M967,0h1M969,0h3M973,0h2M981,0h1M997,0h3M1001,0h2M1006,0h1M1008,0h2M1013,0h1M1072,0h2M1076,0h1M1078,0h1"/>
<path stroke="#efff00" d="M28,0h1M46,0h1M56,0h2M95,0h1M97,0h2M106,0h2M132,0h1M139,0h1M152,0h1M154,0h1M163,0h1M192,0h1M282,0h3M287,0h1M294,0h1M296,0h1M305,0h1M307,0h3M350,0h2M357,0h1M396,0h3M405,0h1M433,0h1M435,0h5M577,0h1M579,0h1M583,0h1M587,0h4M592,0h5M598,0h1M624,0h1M630,0h1M638,0h2M645,0h1M671,0h1M717,0h1M721,0h1M723,0h1M733,0h1M737,0h2M742,0h1M761,0h2M764,0h2M767,0h1M801,0h1M809,0h1M825,0h1M836,0h1M838,0h2M841,0h3M855,0h1M857,0h1M862,0h1M869,0h1M890,0h1M894,0h1M901,0h1M909,0h2M918,0h1M923,0h1M925,0h1M929,0h1M931,0h2M934,0h1M936,0h2M964,0h1M966,0h1M976,0h1M996,0h1M1000,0h1M1007,0h1M1010,0h1M1012,0h1M1074,0h2"/>
<path stroke="#fff200" d="M47,0h1M49,0h2M53,0h3M76,0h1M99,0h1M101,0h1M103,0h1M119,0h1M125,0h1M127,0h1M133,0h1M144,0h1M286,0h1M297,0h1M300,0h1M328,0h1M336,0h1M340,0h1M399,0h1M401,0h3M413,0h1M415,0h1M428,0h1M430,0h2M434,0h1M441,0h4M447,0h1M561,0h1M568,0h1M576,0h1M578,0h1M584,0h2M591,0h1M597,0h1M600,0h1M621,0h1M625,0h2M646,0h3M673,0h3M682,0h3M718,0h2M724,0h1M735,0h1M739,0h2M743,0h3M766,0h1M768,0h3M772,0h2M777,0h6M784,0h1M793,0h2M799,0h1M806,0h3M826,0h1M837,0h1M840,0h1M861,0h1M863,0h1M871,0h1M882,0h3M886,0h2M895,0h1M897,0h1M911,0h2M922,0h1M926,0h3M930,0h1M965,0h1M977,0h1M982,0h1M1011,0h1"/>
<path stroke="#ffd800" d="M48,0h1M51,0h1M102,0h1M104,0h2M120,0h2M145,0h3M149,0h1M291,0h1M293,0h1M310,0h1M324,0h1M326,0h2M329,0h1M331,0h2M334,0h1M400,0h1M404,0h1M406,0h7M414,0h1M429,0h1M553,0h1M558,0h3M575,0h1M586,0h1M627,0h2M649,0h1M670,0h1M672,0h1M676,0h1M720,0h1M722,0h1M746,0h2M757,0h1M759,0h1M783,0h1M785,0h4M791,0h2M795,0h4M800,0h1M802,0h4M810,0h1M827,0h2M870,0h1M872,0h1M879,0h1M881,0h1M885,0h1M888,0h2M975,0h1M978,0h2"/>
<path stroke="#ffbf00" d="M52,0h1M124,0h1M126,0h1M129,0h3M148,0h1M150,0h1M288,0h1M292,0h1M311,0h1M330,0h1M333,0h1M335,0h1M445,0h2M554,0h4M562,0h3M566,0h2M569,0h1M650,0h1M659,0h1M661,0h2M664,0h3M669,0h1M677,0h1M679,0h3M748,0h1M750,0h1M753,0h1M755,0h1M758,0h1M789,0h1M873,0h2M880,0h1M980,0h1"/>
<path stroke="#ffa500" d="M128,0h1M312,0h1M319,0h2M322,0h2M325,0h1M448,0h3M453,0h3M457,0h2M460,0h2M463,0h1M466,0h1M552,0h1M565,0h1M570,0h5M651,0h1M653,0h1M656,0h1M658,0h1M663,0h1M668,0h1M678,0h1M749,0h1M751,0h1M754,0h1M756,0h1M790,0h1"/>
<path stroke="#ff8c00" d="M122,0h2M289,0h2M313,0h1M317,0h2M321,0h1M451,0h2M462,0h1M464,0h2M471,0h1M476,0h2M479,0h1M507,0h1M543,0h2M551,0h1M652,0h1M655,0h1M657,0h1M660,0h1M667,0h1M752,0h1M875,0h4"/>
<path stroke="#ff7300" d="M314,0h3M456,0h1M459,0h1M467,0h2M470,0h1M472,0h2M475,0h1M478,0h1M539,0h2M542,0h1M545,0h6M654,0h1"/>
<path stroke="#ff5900" d="M469,0h1M474,0h1M483,0h1M486,0h1M491,0h1M496,0h1M498,0h1M501,0h3M505,0h2M508,0h1M511,0h1M513,0h3M522,0h1M525,0h1M538,0h1M541,0h1"/>
<path stroke="#ff4000" d="M480,0h3M484,0h1M488,0h1M493,0h3M497,0h1M499,0h2M504,0h1M509,0h1M512,0h1M516,0h5M523,0h1M526,0h12"/>
<path stroke="#ff2600" d="M485,0h1M487,0h1M489,0h2M492,0h1M510,0h1M521,0h1M524,0h1"/>
<path stroke="#38ffca" d="M1024,0h1M1026,0h1"/>
<path stroke="#38ffb2" d="M1021,0h1"/>
</g>
<g transform="translate(188.7,390.5) scale(1.33315,1)" stroke-width="5">
<path stroke="#00d9ff" d="M1030,0h2M1040,0h1"/>
<path stroke="#00f2ff" d="M1032,0h1M1048,0h1"/>
<path stroke="#00fff2" d="M1034,0h2M1039,0h1M1043,0h1M1046,0h1M1049,0h2M1053,0h1M1055,0h1M1057,0h5"/>
<path stroke="#00ffd7" d="M1029,0h1M1033,0h1M1036,0h2M1041,0h1M1044,0h2M1047,0h1M1052,0h1M1056,0h1M1062,0h1"/>
<path stroke="#00ffbb" d="M951,0h1M988,0h3M1054,0h1M1063,0h1"/>
<path stroke="#00ff9c" d="M70,0h1M80,0h2M83,0h1M110,0h2M113,0h1M171,0h1M173,0h1M180,0h2M183,0h1M244,0h1M274,0h1M373,0h1M694,0h3M698,0h2M701,0h3M819,0h2M947,0h3M952,0h1M987,0h1M1019,0h1M1064,0h1"/>
<path stroke="#00fc7b" d="M3,0h1M11,0h1M15,0h1M17,0h2M62,0h1M65,0h1M67,0h1M79,0h1M82,0h1M84,0h1M112,0h1M114,0h2M168,0h3M172,0h1M174,0h2M177,0h3M182,0h1M186,0h1M189,0h2M219,0h2M223,0h2M226,0h2M239,0h1M241,0h2M268,0h1M270,0h1M273,0h1M364,0h1M367,0h3M371,0h2M375,0h1M688,0h6M705,0h3M709,0h1M816,0h1M821,0h1M849,0h4M942,0h2M945,0h1M950,0h1M954,0h2M957,0h1M1017,0h2M1065,0h2"/>
<path stroke="#5fff55" d="M4,0h7M12,0h2M16,0h1M19,0h3M24,0h1M30,0h2M38,0h2M41,0h1M44,0h1M60,0h2M66,0h1M68,0h2M71,0h2M85,0h2M108,0h2M116,0h1M138,0h1M160,0h1M166,0h2M176,0h1M184,0h2M187,0h1M195,0h1M211,0h1M214,0h5M222,0h1M225,0h1M231,0h1M233,0h2M236,0h1M240,0h1M243,0h1M245,0h3M253,0h1M258,0h1M260,0h1M262,0h4M267,0h1M271,0h2M275,0h1M342,0h1M344,0h1M360,0h1M362,0h1M365,0h2M370,0h1M374,0h1M376,0h1M380,0h1M382,0h1M384,0h3M388,0h3M393,0h1M395,0h1M420,0h1M606,0h3M610,0h1M618,0h1M687,0h1M697,0h1M700,0h1M704,0h1M708,0h1M710,0h1M815,0h1M818,0h1M822,0h1M831,0h2M834,0h1M844,0h2M853,0h2M906,0h1M941,0h1M944,0h1M946,0h1M953,0h1M956,0h1M958,0h2M969,0h1M991,0h2M1003,0h1M1005,0h1M1015,0h2M1067,0h1M1069,0h1M1079,0h1"/>
<path stroke="#7aff3e" d="M0,0h3M14,0h1M22,0h2M25,0h3M34,0h1M36,0h2M40,0h1M42,0h2M45,0h1M58,0h2M63,0h2M73,0h3M77,0h2M87,0h4M93,0h1M96,0h1M117,0h1M136,0h2M141,0h2M156,0h4M161,0h2M165,0h1M188,0h1M191,0h1M198,0h2M201,0h2M204,0h4M212,0h2M221,0h1M228,0h3M232,0h1M235,0h1M237,0h2M248,0h2M251,0h1M255,0h3M259,0h1M266,0h1M269,0h1M277,0h2M339,0h1M341,0h1M343,0h1M345,0h1M347,0h1M353,0h2M359,0h1M363,0h1M378,0h2M381,0h1M383,0h1M391,0h2M394,0h1M419,0h1M425,0h2M440,0h1M601,0h3M609,0h1M611,0h2M614,0h4M619,0h1M641,0h2M711,0h2M726,0h1M729,0h1M734,0h1M813,0h2M817,0h1M830,0h1M833,0h1M847,0h2M900,0h1M902,0h2M907,0h1M913,0h1M917,0h1M919,0h2M939,0h2M960,0h2M963,0h1M970,0h3M983,0h1M985,0h2M993,0h3M998,0h1M1001,0h2M1004,0h1M1006,0h1M1014,0h1M1068,0h1M1072,0h1M1076,0h3"/>
<path stroke="#a5ff16" d="M28,0h2M32,0h1M35,0h1M46,0h1M57,0h1M91,0h2M94,0h2M97,0h1M107,0h1M118,0h1M140,0h1M153,0h1M155,0h1M163,0h2M192,0h3M196,0h2M200,0h1M203,0h1M208,0h3M250,0h1M252,0h1M254,0h1M261,0h1M276,0h1M279,0h4M284,0h1M295,0h1M298,0h1M302,0h3M338,0h1M346,0h1M348,0h2M352,0h1M355,0h2M358,0h1M361,0h1M377,0h1M387,0h1M416,0h3M421,0h3M433,0h1M577,0h1M579,0h4M588,0h1M599,0h1M604,0h2M613,0h1M620,0h1M623,0h2M629,0h1M631,0h8M640,0h1M644,0h1M685,0h2M713,0h2M716,0h1M725,0h1M727,0h2M730,0h1M732,0h2M737,0h1M741,0h3M769,0h1M771,0h1M775,0h2M812,0h1M823,0h1M829,0h1M838,0h1M843,0h1M846,0h1M856,0h4M864,0h5M890,0h1M892,0h2M896,0h1M898,0h2M901,0h1M904,0h2M908,0h2M914,0h3M923,0h2M933,0h2M938,0h1M962,0h1M968,0h1M973,0h1M982,0h1M984,0h1M997,0h1M999,0h1M1008,0h2M1012,0h2M1070,0h2M1073,0h3"/>
<path stroke="#cdff00" d="M48,0h1M56,0h1M104,0h1M106,0h1M132,0h1M134,0h2M139,0h1M143,0h2M154,0h1M283,0h1M285,0h1M294,0h1M297,0h1M299,0h3M306,0h3M337,0h1M340,0h1M350,0h2M357,0h1M396,0h1M398,0h1M403,0h1M405,0h1M424,0h1M427,0h1M432,0h1M434,0h1M436,0h1M438,0h2M441,0h1M446,0h1M576,0h1M578,0h1M583,0h1M589,0h5M598,0h1M600,0h1M621,0h2M625,0h2M630,0h1M639,0h1M643,0h1M646,0h1M675,0h1M682,0h2M715,0h1M717,0h1M721,0h1M723,0h2M731,0h1M736,0h1M738,0h1M744,0h1M760,0h2M764,0h2M767,0h1M772,0h1M774,0h1M794,0h1M801,0h1M808,0h1M811,0h1M824,0h1M835,0h3M839,0h1M841,0h2M855,0h1M860,0h3M870,0h1M886,0h1M891,0h1M894,0h1M897,0h1M911,0h1M918,0h1M921,0h1M926,0h1M931,0h2M935,0h3M964,0h1M966,0h2M974,0h1M977,0h1M996,0h1M1000,0h1M1007,0h1"/>
<path stroke="#efff00" d="M33,0h1M47,0h1M51,0h1M53,0h3M76,0h1M98,0h4M119,0h1M133,0h1M147,0h1M149,0h1M151,0h2M286,0h2M293,0h1M296,0h1M305,0h1M309,0h1M324,0h1M327,0h3M331,0h1M336,0h1M397,0h1M399,0h1M401,0h2M413,0h1M428,0h1M430,0h2M435,0h1M437,0h1M442,0h3M561,0h1M568,0h1M575,0h1M584,0h1M587,0h1M594,0h4M627,0h1M645,0h1M648,0h1M671,0h1M673,0h2M676,0h1M684,0h1M718,0h3M722,0h1M735,0h1M739,0h2M762,0h2M766,0h1M768,0h1M770,0h1M778,0h1M780,0h3M786,0h2M793,0h1M795,0h3M799,0h1M806,0h2M809,0h2M825,0h1M827,0h1M840,0h1M863,0h1M869,0h1M871,0h1M882,0h2M887,0h1M889,0h1M895,0h1M910,0h1M912,0h1M922,0h1M925,0h1M929,0h2M965,0h1M975,0h2M978,0h1M981,0h1M1010,0h2"/>
<path stroke="#fff200" d="M49,0h2M52,0h1M102,0h2M105,0h1M120,0h2M125,0h2M145,0h2M148,0h1M291,0h1M310,0h2M325,0h1M334,0h2M400,0h1M404,0h1M407,0h1M409,0h4M414,0h2M429,0h1M445,0h1M447,0h1M454,0h1M553,0h1M557,0h1M559,0h2M567,0h1M571,0h1M585,0h1M628,0h1M647,0h1M649,0h1M669,0h2M672,0h1M677,0h1M679,0h2M745,0h3M755,0h1M757,0h3M773,0h1M777,0h1M779,0h1M783,0h3M788,0h1M791,0h2M798,0h1M800,0h1M803,0h2M826,0h1M828,0h1M872,0h3M880,0h1M884,0h2M888,0h1M927,0h2M980,0h1"/>
<path stroke="#ffd800" d="M124,0h1M127,0h2M131,0h1M150,0h1M288,0h1M292,0h1M312,0h1M326,0h1M330,0h1M332,0h2M406,0h1M408,0h1M448,0h1M450,0h1M552,0h1M554,0h2M558,0h1M562,0h3M566,0h1M569,0h1M572,0h2M586,0h1M650,0h1M662,0h1M664,0h5M681,0h1M748,0h3M753,0h2M756,0h1M802,0h1M805,0h1M875,0h1M879,0h1M881,0h1M979,0h1"/>
<path stroke="#ffbf00" d="M122,0h2M129,0h2M289,0h2M313,0h1M319,0h5M449,0h1M452,0h2M455,0h1M457,0h2M460,0h2M550,0h1M556,0h1M565,0h1M574,0h1M651,0h3M655,0h2M658,0h4M663,0h1M678,0h1M751,0h2M789,0h2M876,0h2"/>
<path stroke="#ffa500" d="M315,0h1M317,0h2M456,0h1M459,0h1M462,0h3M466,0h1M470,0h1M472,0h2M476,0h1M507,0h1M539,0h2M543,0h1M549,0h1M551,0h1M570,0h1M654,0h1M657,0h1M878,0h1"/>
<path stroke="#ff8c00" d="M314,0h1M451,0h1M467,0h3M475,0h1M477,0h1M479,0h1M501,0h1M503,0h1M508,0h2M537,0h1M541,0h1M544,0h1M546,0h3"/>
<path stroke="#ff7300" d="M316,0h1M465,0h1M471,0h1M474,0h1M478,0h1M482,0h1M484,0h1M488,0h2M491,0h1M493,0h1M495,0h2M498,0h3M502,0h1M505,0h2M511,0h4M516,0h2M521,0h1M525,0h3M529,0h1M536,0h1M538,0h1M542,0h1M545,0h1"/>
<path stroke="#ff5900" d="M480,0h1M483,0h1M485,0h3M492,0h1M497,0h1M504,0h1M510,0h1M515,0h1M522,0h3M528,0h1M531,0h5"/>
<path stroke="#ff4000" d="M481,0h1M490,0h1M494,0h1M518,0h3M530,0h1"/>
<path stroke="#38f5ff" d="M1024,0h1"/>
<path stroke="#38fff5" d="M1026,0h1"/>
<path stroke="#38ffca" d="M1021,0h1"/>
</g>
<g transform="translate(188.7,385.5) scale(1.33315,1)" stroke-width="5">
<path stroke="#00a6ff" d="M1033,0h1"/>
<path stroke="#00bfff" d="M1030,0h1M1032,0h1M1034,0h1M1053,0h1"/>
<path stroke="#00d9ff" d="M1029,0h1M1031,0h1M1036,0h2M1039,0h3M1043,0h1M1046,0h3M1052,0h1M1057,0h4M1062,0h1"/>
<path stroke="#00f2ff" d="M1035,0h1M1044,0h2M1049,0h2M1054,0h3M1061,0h1"/>
<path stroke="#00fff2" d="M1063,0h1"/>
<path stroke="#00ffd7" d="M699,0h1M948,0h1M989,0h1M1064,0h1"/>
<path stroke="#00ffbb" d="M17,0h1M82,0h2M110,0h2M113,0h1M170,0h1M172,0h1M183,0h1M370,0h2M693,0h3M698,0h1M701,0h1M820,0h1M850,0h1M949,0h4M957,0h1M988,0h1M990,0h1M1018,0h2"/>
<path stroke="#00ff9c" d="M3,0h1M7,0h1M11,0h1M15,0h1M65,0h1M68,0h1M70,0h1M79,0h3M112,0h1M114,0h1M168,0h1M171,0h1M173,0h2M176,0h2M179,0h4M185,0h1M189,0h3M217,0h1M222,0h1M226,0h1M231,0h1M239,0h1M241,0h1M244,0h1M265,0h1M267,0h1M270,0h1M274,0h2M366,0h4M372,0h2M375,0h1M386,0h1M388,0h2M688,0h5M696,0h1M702,0h5M709,0h1M819,0h1M849,0h1M851,0h1M941,0h3M945,0h1M947,0h1M953,0h4M987,0h1M991,0h1M1015,0h1M1017,0h1M1065,0h3M1079,0h1"/>
<path stroke="#00fc7b" d="M5,0h2M8,0h3M12,0h1M14,0h1M16,0h1M18,0h3M22,0h1M25,0h1M30,0h1M36,0h1M40,0h1M58,0h5M66,0h2M72,0h2M84,0h3M89,0h1M109,0h1M115,0h2M138,0h1M166,0h2M169,0h1M175,0h1M178,0h1M184,0h1M186,0h3M202,0h1M211,0h1M216,0h1M218,0h4M223,0h3M227,0h1M229,0h1M234,0h1M240,0h1M242,0h2M245,0h1M247,0h1M253,0h1M256,0h1M258,0h1M260,0h1M262,0h1M266,0h1M268,0h2M271,0h3M277,0h1M344,0h1M347,0h1M362,0h1M364,0h2M374,0h1M376,0h1M378,0h8M393,0h1M395,0h1M419,0h2M606,0h1M608,0h1M614,0h1M617,0h2M635,0h1M685,0h2M707,0h2M710,0h1M712,0h1M815,0h3M821,0h2M832,0h1M844,0h1M847,0h2M852,0h1M854,0h1M902,0h1M944,0h1M946,0h1M958,0h2M968,0h1M986,0h1M992,0h1M1005,0h1M1014,0h1M1016,0h1M1068,0h1M1077,0h1"/>
<path stroke="#5fff55" d="M0,0h3M13,0h1M21,0h1M23,0h2M27,0h1M31,0h1M34,0h2M37,0h2M41,0h5M63,0h2M69,0h1M71,0h1M74,0h1M77,0h2M87,0h2M91,0h3M108,0h1M117,0h2M135,0h3M141,0h1M156,0h1M158,0h3M162,0h2M165,0h1M193,0h4M198,0h3M206,0h1M208,0h1M213,0h3M228,0h1M230,0h1M232,0h2M235,0h4M246,0h1M249,0h3M255,0h1M257,0h1M261,0h1M263,0h2M276,0h1M278,0h1M281,0h1M285,0h1M341,0h3M349,0h1M354,0h2M359,0h3M377,0h1M390,0h2M394,0h1M418,0h1M421,0h2M424,0h1M601,0h1M609,0h5M616,0h1M619,0h1M633,0h1M642,0h1M687,0h1M700,0h1M711,0h1M727,0h3M734,0h1M813,0h2M818,0h1M831,0h1M834,0h3M845,0h2M853,0h1M865,0h3M906,0h1M908,0h1M913,0h1M915,0h3M920,0h1M940,0h1M960,0h1M969,0h4M985,0h1M993,0h1M995,0h1M998,0h1M1001,0h1M1003,0h1M1069,0h2M1072,0h1M1078,0h1"/>
<path stroke="#7aff3e" d="M4,0h1M26,0h1M28,0h1M32,0h2M39,0h1M46,0h1M56,0h1M75,0h2M90,0h1M94,0h3M142,0h1M153,0h3M157,0h1M161,0h1M192,0h1M197,0h1M201,0h1M203,0h3M207,0h1M209,0h2M212,0h1M248,0h1M252,0h1M254,0h1M259,0h1M279,0h2M282,0h1M284,0h1M295,0h1M298,0h6M338,0h3M345,0h2M348,0h1M352,0h2M356,0h3M363,0h1M387,0h1M392,0h1M396,0h1M398,0h1M416,0h1M423,0h1M425,0h2M432,0h1M440,0h1M579,0h4M589,0h1M602,0h4M607,0h1M615,0h1M620,0h1M623,0h1M630,0h1M632,0h1M634,0h1M636,0h2M643,0h2M697,0h1M713,0h1M716,0h1M723,0h1M725,0h2M733,0h1M736,0h1M741,0h1M765,0h1M767,0h1M801,0h1M812,0h1M823,0h2M829,0h2M833,0h1M838,0h1M841,0h1M843,0h1M856,0h1M858,0h3M864,0h1M869,0h1M891,0h2M894,0h1M898,0h4M903,0h3M907,0h1M909,0h1M914,0h1M918,0h2M921,0h1M923,0h2M933,0h2M937,0h3M961,0h1M963,0h1M973,0h1M982,0h3M994,0h1M997,0h1M999,0h2M1002,0h1M1004,0h1M1006,0h1M1008,0h2M1071,0h1M1074,0h1M1076,0h1"/>
<path stroke="#a5ff16" d="M29,0h1M57,0h1M97,0h1M103,0h1M106,0h2M119,0h1M132,0h1M134,0h1M139,0h2M143,0h1M151,0h1M164,0h1M283,0h1M286,0h2M294,0h1M296,0h2M305,0h3M337,0h1M350,0h2M397,0h1M402,0h2M417,0h1M427,0h2M433,0h1M435,0h2M438,0h2M441,0h1M576,0h3M583,0h1M591,0h1M593,0h2M599,0h1M621,0h2M626,0h1M629,0h1M631,0h1M638,0h4M646,0h1M671,0h1M684,0h1M714,0h2M721,0h1M724,0h1M730,0h3M735,0h1M737,0h1M742,0h3M760,0h2M763,0h2M769,0h1M771,0h2M774,0h3M780,0h1M808,0h2M811,0h1M837,0h1M839,0h1M842,0h1M855,0h1M857,0h1M862,0h1M868,0h1M871,0h1M886,0h1M889,0h2M893,0h1M895,0h3M911,0h1M926,0h1M928,0h2M931,0h1M936,0h1M962,0h1M964,0h4M977,0h1M981,0h1M996,0h1M1010,0h4M1073,0h1M1075,0h1"/>
<path stroke="#cdff00" d="M47,0h2M54,0h1M98,0h5M104,0h2M120,0h1M133,0h1M144,0h1M149,0h1M152,0h1M293,0h1M304,0h1M308,0h2M328,0h1M331,0h1M336,0h1M399,0h1M401,0h1M405,0h1M413,0h1M415,0h1M430,0h2M434,0h1M437,0h1M442,0h1M444,0h1M446,0h2M568,0h1M584,0h2M587,0h2M590,0h1M592,0h1M595,0h4M600,0h1M624,0h2M627,0h2M645,0h1M647,0h1M682,0h2M717,0h4M738,0h3M745,0h1M759,0h1M762,0h1M768,0h1M770,0h1M773,0h1M778,0h1M781,0h2M784,0h1M786,0h1M791,0h1M793,0h1M795,0h2M799,0h1M804,0h1M807,0h1M810,0h1M825,0h1M827,0h2M840,0h1M861,0h1M863,0h1M870,0h1M872,0h1M883,0h1M910,0h1M922,0h1M925,0h1M927,0h1M930,0h1M932,0h1M935,0h1M974,0h3M978,0h2M1007,0h1"/>
<path stroke="#efff00" d="M49,0h3M53,0h1M55,0h1M124,0h2M127,0h1M146,0h3M150,0h1M288,0h1M292,0h1M310,0h1M326,0h2M329,0h1M332,0h1M334,0h1M408,0h4M414,0h1M429,0h1M443,0h1M445,0h1M460,0h1M553,0h1M559,0h3M575,0h1M648,0h1M670,0h1M672,0h6M722,0h1M746,0h2M751,0h1M766,0h1M777,0h1M779,0h1M785,0h1M787,0h2M792,0h1M794,0h1M797,0h2M800,0h1M806,0h1M826,0h1M879,0h1M881,0h2M884,0h2M887,0h2M912,0h1M980,0h1"/>
<path stroke="#fff200" d="M52,0h1M121,0h1M126,0h1M130,0h2M145,0h1M290,0h2M311,0h1M320,0h1M323,0h1M333,0h1M335,0h1M400,0h1M404,0h1M406,0h2M412,0h1M449,0h2M454,0h1M458,0h1M552,0h1M554,0h5M563,0h2M566,0h2M569,0h1M571,0h1M574,0h1M586,0h1M649,0h1M651,0h1M659,0h1M662,0h1M665,0h2M668,0h2M678,0h4M750,0h1M753,0h3M757,0h2M783,0h1M789,0h2M802,0h2M805,0h1M873,0h2M880,0h1"/>
<path stroke="#ffd800" d="M122,0h2M128,0h2M312,0h1M318,0h2M321,0h2M324,0h2M330,0h1M448,0h1M451,0h3M455,0h1M457,0h1M462,0h1M473,0h1M475,0h1M477,0h1M507,0h1M551,0h1M562,0h1M572,0h2M650,0h1M653,0h1M655,0h2M660,0h2M663,0h2M667,0h1M748,0h2M756,0h1M875,0h1M877,0h1"/>
<path stroke="#ffbf00" d="M289,0h1M313,0h1M315,0h1M317,0h1M456,0h1M459,0h1M461,0h1M463,0h2M466,0h1M468,0h1M470,0h1M476,0h1M478,0h1M508,0h1M539,0h2M542,0h2M548,0h3M565,0h1M570,0h1M652,0h1M654,0h1M657,0h2M752,0h1M876,0h1M878,0h1"/>
<path stroke="#ffa500" d="M314,0h1M316,0h1M465,0h1M467,0h1M469,0h1M472,0h1M474,0h1M479,0h1M488,0h1M501,0h1M503,0h1M509,0h1M514,0h2M521,0h1M527,0h1M529,0h1M538,0h1M544,0h1M546,0h2"/>
<path stroke="#ff8c00" d="M471,0h1M481,0h1M484,0h1M486,0h2M489,0h1M493,0h1M495,0h6M504,0h3M511,0h1M517,0h1M519,0h1M525,0h1M528,0h1M532,0h2M536,0h2M541,0h1M545,0h1"/>
<path stroke="#ff7300" d="M480,0h1M482,0h2M490,0h3M494,0h1M502,0h1M510,0h1M512,0h2M516,0h1M520,0h1M522,0h3M526,0h1M530,0h2M534,0h2"/>
<path stroke="#ff5900" d="M485,0h1M518,0h1"/>
<path stroke="#38e1ff" d="M1024,0h1M1026,0h1"/>
<path stroke="#38fff5" d="M1021,0h1"/>
</g>
<g transform="translate(188.7,379.5) scale(1.33315,1)" stroke-width="7">
<path stroke="#0073ff" d="M1040,0h2"/>
<path stroke="#008cff" d="M1030,0h3M1058,0h1"/>
<path stroke="#00a6ff" d="M1033,0h2M1036,0h1M1039,0h1M1043,0h1M1048,0h2M1053,0h1M1057,0h1M1060,0h1"/>
<path stroke="#00bfff" d="M1029,0h1M1035,0h1M1037,0h1M1044,0h4M1050,0h1M1052,0h1M1054,0h3M1061,0h2"/>
<path stroke="#00f2ff" d="M1063,0h1"/>
<path stroke="#00fff2" d="M691,0h1M693,0h1M699,0h1M701,0h1M948,0h5M1064,0h1"/>
<path stroke="#00ffd7" d="M79,0h1M81,0h3M110,0h6M170,0h1M173,0h1M368,0h1M370,0h1M372,0h1M689,0h2M695,0h1M698,0h1M702,0h1M820,0h1M849,0h1M942,0h1M947,0h1M954,0h1M988,0h2M1017,0h2M1065,0h2"/>
<path stroke="#00ffbb" d="M6,0h1M9,0h3M17,0h2M67,0h2M70,0h1M80,0h1M116,0h1M167,0h2M172,0h1M177,0h3M181,0h2M184,0h1M186,0h2M189,0h1M215,0h1M226,0h1M243,0h1M268,0h1M273,0h2M364,0h1M366,0h2M369,0h1M371,0h1M373,0h3M388,0h1M688,0h1M692,0h1M694,0h1M696,0h1M703,0h8M712,0h1M816,0h1M819,0h1M832,0h1M847,0h1M850,0h3M941,0h1M944,0h1M946,0h1M953,0h1M957,0h1M990,0h1M1015,0h1M1019,0h1"/>
<path stroke="#00ff9c" d="M0,0h1M3,0h3M8,0h1M12,0h2M15,0h2M19,0h1M21,0h1M30,0h2M34,0h1M39,0h1M41,0h2M44,0h1M58,0h3M65,0h2M71,0h2M74,0h1M84,0h1M86,0h1M88,0h1M93,0h1M108,0h2M137,0h2M166,0h1M169,0h1M171,0h1M174,0h3M180,0h1M183,0h1M185,0h1M190,0h2M195,0h1M211,0h1M214,0h1M216,0h2M219,0h2M222,0h4M231,0h1M234,0h1M236,0h1M239,0h4M244,0h2M253,0h1M260,0h1M262,0h1M266,0h2M269,0h4M275,0h1M342,0h1M354,0h1M360,0h3M365,0h1M376,0h1M378,0h3M382,0h1M384,0h3M389,0h1M391,0h3M395,0h1M420,0h1M601,0h2M605,0h2M610,0h1M612,0h1M615,0h1M617,0h3M642,0h1M687,0h1M700,0h1M711,0h1M813,0h3M817,0h2M821,0h1M833,0h2M844,0h1M854,0h1M940,0h1M943,0h1M945,0h1M955,0h2M959,0h1M972,0h1M985,0h3M991,0h2M1016,0h1M1067,0h3M1076,0h2M1079,0h1"/>
<path stroke="#00fc7b" d="M1,0h2M7,0h1M14,0h1M20,0h1M22,0h5M37,0h2M40,0h1M43,0h1M61,0h4M69,0h1M73,0h1M77,0h2M85,0h1M87,0h1M89,0h2M92,0h1M94,0h1M96,0h2M136,0h1M142,0h1M156,0h4M161,0h2M164,0h2M188,0h1M192,0h3M198,0h5M204,0h1M206,0h2M210,0h1M212,0h2M218,0h1M221,0h1M227,0h3M232,0h1M235,0h1M237,0h2M246,0h2M250,0h2M255,0h5M261,0h1M263,0h3M276,0h3M280,0h2M339,0h1M341,0h1M343,0h5M349,0h1M352,0h2M355,0h1M359,0h1M363,0h1M381,0h1M383,0h1M387,0h1M390,0h1M394,0h1M418,0h2M426,0h1M582,0h1M599,0h1M603,0h2M607,0h2M613,0h2M616,0h1M620,0h1M631,0h1M633,0h1M686,0h1M697,0h1M726,0h1M729,0h1M812,0h1M822,0h1M841,0h1M845,0h2M848,0h1M853,0h1M866,0h2M899,0h1M902,0h5M908,0h1M913,0h1M915,0h3M939,0h1M958,0h1M960,0h2M968,0h2M971,0h1M983,0h1M993,0h1M998,0h1M1001,0h2M1004,0h1M1014,0h1M1072,0h1M1078,0h1"/>
<path stroke="#5fff55" d="M27,0h1M29,0h1M33,0h1M35,0h2M45,0h1M56,0h1M91,0h1M95,0h1M107,0h1M117,0h2M135,0h1M141,0h1M154,0h1M160,0h1M196,0h2M205,0h1M208,0h2M230,0h1M233,0h1M248,0h2M252,0h1M254,0h1M279,0h1M284,0h2M295,0h1M298,0h2M301,0h1M303,0h2M306,0h1M338,0h1M348,0h1M350,0h1M356,0h3M377,0h1M396,0h1M416,0h1M421,0h3M427,0h1M439,0h2M577,0h1M579,0h3M600,0h1M611,0h1M622,0h1M630,0h1M632,0h1M634,0h5M640,0h2M643,0h2M685,0h1M713,0h4M723,0h1M725,0h1M727,0h2M730,0h3M734,0h1M741,0h1M743,0h1M760,0h1M765,0h1M767,0h1M774,0h1M823,0h1M829,0h1M831,0h1M835,0h2M843,0h1M855,0h3M859,0h1M862,0h1M864,0h1M868,0h2M892,0h1M896,0h3M900,0h1M907,0h1M909,0h1M914,0h1M919,0h2M923,0h2M933,0h1M938,0h1M963,0h1M966,0h2M970,0h1M973,0h1M984,0h1M994,0h2M997,0h1M999,0h2M1003,0h1M1005,0h2M1008,0h2M1013,0h1M1070,0h2M1073,0h1"/>
<path stroke="#7aff3e" d="M28,0h1M32,0h1M46,0h1M57,0h1M75,0h2M98,0h3M106,0h1M119,0h1M132,0h1M134,0h1M139,0h2M143,0h1M152,0h2M155,0h1M163,0h1M203,0h1M282,0h1M287,0h1M294,0h1M296,0h1M300,0h1M302,0h1M307,0h2M337,0h1M340,0h1M351,0h1M397,0h2M401,0h1M403,0h1M424,0h2M432,0h2M438,0h1M441,0h1M447,0h1M578,0h1M588,0h2M591,0h2M594,0h1M596,0h1M609,0h1M621,0h1M623,0h2M629,0h1M639,0h1M646,0h1M684,0h1M717,0h1M721,0h1M724,0h1M733,0h1M736,0h2M742,0h1M745,0h1M764,0h1M770,0h2M776,0h1M782,0h1M794,0h1M799,0h3M808,0h1M811,0h1M824,0h2M830,0h1M837,0h2M842,0h1M858,0h1M861,0h1M865,0h1M889,0h3M894,0h1M901,0h1M910,0h2M918,0h1M921,0h2M925,0h1M931,0h2M934,0h1M936,0h2M962,0h1M964,0h1M974,0h1M977,0h1M982,0h1M996,0h1M1007,0h1M1010,0h1M1012,0h1M1074,0h2"/>
<path stroke="#a5ff16" d="M47,0h4M53,0h2M101,0h1M103,0h2M124,0h1M133,0h1M144,0h1M149,0h1M151,0h1M283,0h1M286,0h1M297,0h1M305,0h1M310,0h1M331,0h1M336,0h1M399,0h1M402,0h1M405,0h2M410,0h1M412,0h2M417,0h1M428,0h1M430,0h1M434,0h4M442,0h3M446,0h1M561,0h1M568,0h1M575,0h2M583,0h1M587,0h1M590,0h1M593,0h1M595,0h1M597,0h2M626,0h3M645,0h1M647,0h2M671,0h1M675,0h2M682,0h2M718,0h1M735,0h1M738,0h3M747,0h1M761,0h3M766,0h1M768,0h2M772,0h2M775,0h1M778,0h1M780,0h2M784,0h1M787,0h1M793,0h1M795,0h3M806,0h2M809,0h2M828,0h1M839,0h1M860,0h1M863,0h1M870,0h1M872,0h1M883,0h1M886,0h3M893,0h1M895,0h1M912,0h1M926,0h2M929,0h2M935,0h1M965,0h1M975,0h2M979,0h1M981,0h1M1011,0h1"/>
<path stroke="#cdff00" d="M51,0h1M55,0h1M102,0h1M105,0h1M120,0h1M123,0h1M126,0h1M131,0h1M147,0h2M150,0h1M292,0h2M309,0h1M325,0h1M327,0h3M334,0h1M409,0h1M411,0h1M414,0h2M429,0h1M431,0h1M445,0h1M555,0h1M560,0h1M584,0h3M625,0h1M649,0h2M662,0h1M670,0h1M672,0h3M719,0h2M744,0h1M748,0h1M758,0h2M777,0h1M779,0h1M785,0h2M791,0h1M798,0h1M803,0h2M826,0h2M840,0h1M871,0h1M873,0h1M879,0h4M885,0h1M928,0h1M978,0h1"/>
<path stroke="#efff00" d="M52,0h1M121,0h1M125,0h1M127,0h2M145,0h2M288,0h1M291,0h1M311,0h2M320,0h1M322,0h1M324,0h1M326,0h1M330,0h1M332,0h2M335,0h1M404,0h1M407,0h2M448,0h1M451,0h1M453,0h2M458,0h1M460,0h1M552,0h2M556,0h4M562,0h3M566,0h2M569,0h1M571,0h1M574,0h1M660,0h2M665,0h2M668,0h2M677,0h5M722,0h1M746,0h1M750,0h2M753,0h1M755,0h3M783,0h1M788,0h3M792,0h1M802,0h1M805,0h1M874,0h1M884,0h1M980,0h1"/>
<path stroke="#fff200" d="M122,0h1M129,0h2M289,0h2M313,0h1M318,0h2M321,0h1M323,0h1M400,0h1M449,0h2M452,0h1M455,0h3M459,0h1M461,0h1M463,0h1M466,0h1M554,0h1M565,0h1M570,0h1M572,0h1M653,0h2M656,0h1M659,0h1M663,0h2M667,0h1M749,0h1M754,0h1"/>
<path stroke="#ffd800" d="M315,0h1M317,0h1M462,0h1M464,0h1M467,0h5M473,0h1M475,0h3M479,0h1M507,0h2M539,0h1M542,0h3M546,0h1M548,0h4M573,0h1M651,0h2M655,0h1M658,0h1M752,0h1M875,0h4"/>
<path stroke="#ffbf00" d="M314,0h1M316,0h1M465,0h1M472,0h1M474,0h1M482,0h1M484,0h1M486,0h1M491,0h1M495,0h1M499,0h2M503,0h1M509,0h1M516,0h1M532,0h1M536,0h3M540,0h2M545,0h1M547,0h1M657,0h1"/>
<path stroke="#ffa500" d="M478,0h1M480,0h2M485,0h1M488,0h2M492,0h3M496,0h2M501,0h2M504,0h3M511,0h5M521,0h2M524,0h6M531,0h1M533,0h1M535,0h1"/>
<path stroke="#ff8c00" d="M483,0h1M487,0h1M490,0h1M498,0h1M510,0h1M517,0h4M523,0h1M530,0h1M534,0h1"/>
<path stroke="#38b9ff" d="M1026,0h1"/>
<path stroke="#38cdff" d="M1024,0h1"/>
<path stroke="#38e1ff" d="M1021,0h1"/>
</g>
<g transform="translate(188.7,371) scale(1.33315,1)" stroke-width="10">
<path stroke="#0040ff" d="M1030,0h3M1039,0h3M1048,0h1"/>
<path stroke="#0059ff" d="M1033,0h2M1043,0h2M1046,0h2M1049,0h1M1053,0h1"/>
<path stroke="#0073ff" d="M1029,0h1M1035,0h1M1052,0h1M1055,0h2M1060,0h3"/>
<path stroke="#008cff" d="M1054,0h1"/>
<path stroke="#00a6ff" d="M1063,0h1"/>
<path stroke="#00d9ff" d="M949,0h2M1064,0h1"/>
<path stroke="#00f2ff" d="M81,0h1M110,0h2M367,0h1M371,0h1M373,0h1M693,0h2M698,0h2M703,0h1M820,0h1M947,0h2M952,0h1M988,0h1M990,0h1M1018,0h2"/>
<path stroke="#00fff2" d="M11,0h1M15,0h1M17,0h1M70,0h1M79,0h2M82,0h2M112,0h3M116,0h1M168,0h1M170,0h4M178,0h3M182,0h2M185,0h1M274,0h1M364,0h1M366,0h1M369,0h2M372,0h1M382,0h1M688,0h5M695,0h2M701,0h2M704,0h4M849,0h3M951,0h1M953,0h2M957,0h1M989,0h1M991,0h1M1015,0h1M1017,0h1M1065,0h2"/>
<path stroke="#00ffd7" d="M1,0h1M3,0h1M7,0h1M9,0h2M13,0h1M16,0h1M18,0h1M21,0h1M60,0h3M65,0h1M67,0h1M72,0h1M85,0h2M88,0h1M108,0h2M115,0h1M166,0h1M169,0h1M174,0h4M181,0h1M186,0h2M189,0h1M215,0h1M219,0h1M222,0h2M226,0h2M240,0h2M243,0h2M258,0h1M260,0h1M262,0h2M266,0h2M270,0h4M275,0h1M355,0h1M363,0h1M365,0h1M368,0h1M374,0h2M379,0h1M384,0h1M388,0h1M390,0h1M602,0h1M617,0h1M687,0h1M700,0h1M709,0h2M815,0h2M819,0h1M832,0h1M844,0h1M847,0h1M852,0h1M942,0h5M956,0h1M959,0h1M987,0h1M992,0h1M1067,0h1M1078,0h2"/>
<path stroke="#00ffbb" d="M0,0h1M5,0h1M8,0h1M12,0h1M14,0h1M19,0h2M22,0h5M31,0h1M35,0h1M41,0h2M44,0h1M58,0h1M66,0h1M68,0h2M71,0h1M77,0h2M84,0h1M89,0h2M93,0h1M117,0h1M135,0h1M137,0h2M156,0h1M167,0h1M184,0h1M188,0h1M191,0h1M196,0h1M199,0h1M202,0h1M205,0h1M211,0h4M216,0h2M220,0h2M224,0h1M228,0h1M231,0h1M234,0h1M236,0h1M238,0h2M242,0h1M245,0h1M247,0h1M255,0h2M259,0h1M265,0h1M268,0h1M277,0h1M339,0h1M342,0h1M347,0h1M349,0h1M354,0h1M358,0h5M376,0h1M378,0h1M380,0h2M385,0h3M389,0h1M391,0h2M420,0h1M426,0h1M601,0h1M604,0h1M606,0h1M608,0h1M610,0h5M616,0h1M618,0h2M632,0h1M686,0h1M697,0h1M708,0h1M711,0h2M727,0h1M734,0h1M813,0h2M817,0h2M821,0h2M830,0h1M833,0h2M845,0h2M848,0h1M853,0h2M913,0h1M939,0h3M955,0h1M958,0h1M968,0h1M986,0h1M993,0h1M995,0h1M1001,0h1M1003,0h1M1005,0h1M1013,0h2M1016,0h1M1069,0h2M1072,0h1M1077,0h1"/>
<path stroke="#00ff9c" d="M2,0h1M4,0h1M6,0h1M27,0h1M29,0h2M34,0h1M36,0h5M43,0h1M46,0h1M59,0h1M63,0h2M73,0h2M87,0h1M96,0h2M106,0h1M136,0h1M140,0h3M157,0h5M163,0h3M190,0h1M192,0h4M197,0h2M201,0h1M203,0h2M206,0h2M210,0h1M218,0h1M225,0h1M229,0h2M232,0h2M235,0h1M237,0h1M246,0h1M249,0h1M251,0h1M253,0h1M257,0h1M261,0h1M264,0h1M269,0h1M276,0h1M278,0h3M282,0h1M284,0h1M298,0h1M301,0h2M341,0h1M343,0h4M348,0h1M352,0h2M356,0h1M377,0h1M383,0h1M393,0h3M417,0h1M419,0h1M423,0h1M582,0h1M603,0h1M607,0h1M609,0h1M615,0h1M620,0h1M635,0h1M641,0h2M685,0h1M716,0h1M725,0h2M728,0h1M771,0h1M812,0h1M823,0h1M829,0h1M831,0h1M838,0h1M856,0h1M859,0h1M864,0h2M867,0h1M898,0h2M902,0h2M905,0h2M908,0h1M914,0h4M919,0h1M960,0h1M963,0h1M969,0h1M971,0h3M983,0h3M997,0h4M1002,0h1M1006,0h1M1068,0h1M1071,0h1M1073,0h1M1076,0h1"/>
<path stroke="#00fc7b" d="M28,0h1M32,0h2M45,0h1M56,0h2M76,0h1M91,0h2M94,0h2M107,0h1M118,0h1M134,0h1M143,0h1M153,0h3M162,0h1M200,0h1M208,0h2M248,0h1M250,0h1M252,0h1M254,0h1M281,0h1M283,0h1M294,0h3M303,0h3M337,0h2M340,0h1M350,0h1M357,0h1M416,0h1M418,0h1M421,0h2M424,0h2M427,0h1M434,0h1M440,0h1M576,0h1M579,0h3M583,0h1M591,0h2M597,0h1M599,0h2M605,0h1M622,0h3M629,0h1M631,0h1M633,0h2M636,0h2M640,0h1M643,0h2M647,0h1M684,0h1M713,0h2M717,0h1M723,0h1M729,0h1M731,0h3M736,0h2M741,0h1M743,0h1M760,0h1M763,0h3M776,0h1M801,0h1M811,0h1M824,0h2M835,0h2M841,0h3M855,0h1M857,0h2M860,0h1M862,0h1M866,0h1M890,0h4M896,0h1M900,0h2M904,0h1M907,0h1M909,0h1M911,0h1M920,0h2M924,0h1M930,0h1M933,0h3M937,0h2M961,0h2M964,0h1M967,0h1M970,0h1M977,0h1M982,0h1M994,0h1M996,0h1M1004,0h1M1007,0h2M1012,0h1M1075,0h1"/>
<path stroke="#5fff55" d="M75,0h1M98,0h1M100,0h1M104,0h1M119,0h1M132,0h2M139,0h1M151,0h1M285,0h1M299,0h2M306,0h4M351,0h1M396,0h2M402,0h2M415,0h1M428,0h1M432,0h2M436,0h1M438,0h2M441,0h2M577,0h2M588,0h3M593,0h1M595,0h2M598,0h1M621,0h1M625,0h3M630,0h1M638,0h2M645,0h1M648,0h1M671,0h1M674,0h1M682,0h1M719,0h1M721,0h1M724,0h1M730,0h1M735,0h1M738,0h1M742,0h1M744,0h1M761,0h2M767,0h4M772,0h4M777,0h1M781,0h1M793,0h1M796,0h1M810,0h1M828,0h1M837,0h1M839,0h2M861,0h1M868,0h3M883,0h1M886,0h2M889,0h1M894,0h2M897,0h1M910,0h1M912,0h1M918,0h1M922,0h1M925,0h3M929,0h1M932,0h1M936,0h1M966,0h1M974,0h1M976,0h1M981,0h1M1009,0h3M1074,0h1"/>
<path stroke="#7aff3e" d="M47,0h5M54,0h2M99,0h1M101,0h1M103,0h1M120,0h1M131,0h1M144,0h1M147,0h1M149,0h1M286,0h2M292,0h2M297,0h1M310,0h1M327,0h2M331,0h1M336,0h1M398,0h4M405,0h1M409,0h2M413,0h2M429,0h3M435,0h1M437,0h1M444,0h1M446,0h2M561,0h1M568,0h1M575,0h1M584,0h4M594,0h1M628,0h1M646,0h1M672,0h2M675,0h2M683,0h1M715,0h1M718,0h1M720,0h1M722,0h1M740,0h1M747,0h1M778,0h3M782,0h4M787,0h1M791,0h1M794,0h2M799,0h2M803,0h1M805,0h5M827,0h1M863,0h1M871,0h2M882,0h1M888,0h1M923,0h1M928,0h1M931,0h1M965,0h1M975,0h1M978,0h1"/>
<path stroke="#a5ff16" d="M52,0h2M102,0h1M105,0h1M125,0h4M145,0h2M148,0h1M150,0h1M152,0h1M291,0h1M322,0h1M325,0h1M329,0h1M334,0h2M404,0h1M406,0h3M411,0h2M443,0h1M445,0h1M458,0h1M553,0h3M559,0h2M562,0h1M567,0h1M569,0h1M649,0h1M665,0h2M669,0h2M680,0h2M739,0h1M745,0h1M748,0h1M750,0h1M753,0h1M755,0h1M757,0h3M766,0h1M786,0h1M788,0h1M792,0h1M797,0h2M802,0h1M804,0h1M826,0h1M873,0h2M880,0h2M884,0h2M979,0h2"/>
<path stroke="#cdff00" d="M121,0h4M130,0h1M288,0h2M311,0h2M319,0h3M323,0h2M326,0h1M330,0h1M332,0h2M448,0h3M454,0h1M457,0h1M460,0h1M552,0h1M556,0h3M563,0h2M566,0h1M570,0h2M573,0h2M650,0h1M652,0h2M658,0h7M667,0h2M677,0h1M679,0h1M746,0h1M749,0h1M751,0h2M789,0h2M875,0h1M879,0h1"/>
<path stroke="#efff00" d="M129,0h1M290,0h1M313,0h1M316,0h3M451,0h3M455,0h1M461,0h3M466,0h2M476,0h2M479,0h1M507,0h1M539,0h1M550,0h2M565,0h1M572,0h1M651,0h1M654,0h3M678,0h1M754,0h1M756,0h1M876,0h3"/>
<path stroke="#fff200" d="M314,0h2M456,0h1M464,0h2M468,0h2M471,0h2M475,0h1M478,0h1M503,0h1M505,0h2M508,0h1M516,0h1M540,0h1M543,0h3M547,0h3M657,0h1"/>
<path stroke="#ffd800" d="M459,0h1M470,0h1M473,0h2M480,0h4M486,0h1M492,0h2M495,0h1M498,0h5M509,0h2M512,0h2M519,0h2M525,0h5M531,0h1M536,0h1M538,0h1M541,0h2M546,0h1"/>
<path stroke="#ffbf00" d="M484,0h2M487,0h5M494,0h1M496,0h2M504,0h1M511,0h1M514,0h2M522,0h1M524,0h1M530,0h1M532,0h3M537,0h1"/>
<path stroke="#ffa500" d="M517,0h2M521,0h1M523,0h1M535,0h1"/>
<path stroke="#386aff" d="M1058,0h1"/>
<path stroke="#387eff" d="M1037,0h1"/>
<path stroke="#3892ff" d="M1024,0h1M1026,0h1"/>
<path stroke="#38b9ff" d="M1021,0h1"/>
</g>
<g transform="translate(188.7,361.5) scale(1.33315,1)" stroke-width="9">
<path stroke="#0000a6" d="M1033,0h1M1039,0h3"/>
<path stroke="#0000d9" d="M1043,0h1M1048,0h1M1060,0h1"/>
<path stroke="#0000f2" d="M1034,0h1M1049,0h1M1055,0h1"/>
<path stroke="#000dff" d="M1035,0h1M1044,0h1M1046,0h2M1052,0h2M1056,0h1M1061,0h2"/>
<path stroke="#0026ff" d="M1054,0h1"/>
<path stroke="#0059ff" d="M1063,0h1"/>
<path stroke="#008cff" d="M948,0h1M1064,0h1"/>
<path stroke="#00a6ff" d="M693,0h2M949,0h4M1065,0h1"/>
<path stroke="#00bfff" d="M81,0h1M110,0h2M113,0h2M170,0h1M368,0h2M373,0h1M689,0h1M691,0h1M698,0h2M701,0h1M947,0h1M988,0h2M1018,0h1"/>
<path stroke="#00d9ff" d="M65,0h1M79,0h2M82,0h2M109,0h1M112,0h1M172,0h2M175,0h1M273,0h1M364,0h1M366,0h2M370,0h3M690,0h1M692,0h1M695,0h2M702,0h1M705,0h2M709,0h1M819,0h1M849,0h1M851,0h1M942,0h5M953,0h2M987,0h1M990,0h2M1017,0h1M1019,0h1M1066,0h1"/>
<path stroke="#00f2ff" d="M7,0h5M13,0h1M15,0h1M17,0h1M20,0h1M60,0h1M66,0h2M70,0h2M84,0h3M108,0h1M115,0h1M166,0h3M171,0h1M174,0h1M176,0h12M189,0h1M222,0h2M241,0h1M244,0h1M260,0h1M267,0h1M269,0h3M274,0h2M363,0h1M365,0h1M374,0h3M378,0h1M384,0h1M388,0h1M390,0h2M617,0h1M619,0h1M687,0h2M697,0h1M700,0h1M703,0h2M707,0h1M710,0h1M813,0h1M815,0h2M818,0h1M820,0h1M832,0h1M844,0h1M850,0h1M852,0h1M957,0h1M986,0h1M992,0h1M1015,0h2M1067,0h1M1069,0h1M1079,0h1"/>
<path stroke="#00fff2" d="M0,0h4M5,0h2M12,0h1M14,0h1M16,0h1M18,0h2M21,0h2M27,0h1M30,0h2M35,0h1M37,0h2M40,0h3M44,0h1M58,0h2M61,0h3M68,0h2M72,0h1M78,0h1M87,0h3M91,0h1M93,0h1M116,0h1M137,0h2M160,0h1M169,0h1M190,0h2M194,0h1M199,0h1M205,0h1M211,0h1M213,0h1M215,0h3M219,0h3M224,0h4M235,0h1M239,0h2M242,0h2M245,0h1M253,0h1M256,0h3M262,0h2M265,0h2M268,0h1M272,0h1M276,0h3M281,0h1M342,0h1M355,0h1M359,0h4M381,0h2M385,0h3M389,0h1M392,0h2M601,0h2M606,0h1M608,0h1M610,0h1M615,0h2M618,0h1M685,0h2M708,0h1M712,0h1M812,0h1M814,0h1M817,0h1M821,0h2M847,0h2M854,0h1M902,0h1M939,0h3M955,0h2M968,0h1M997,0h1M1003,0h1M1014,0h1M1068,0h1M1071,0h1M1076,0h3"/>
<path stroke="#00ffd7" d="M4,0h1M23,0h4M29,0h1M32,0h1M39,0h1M43,0h1M45,0h1M64,0h1M73,0h3M77,0h1M90,0h1M92,0h1M94,0h1M107,0h1M117,0h1M135,0h2M159,0h1M161,0h2M164,0h2M188,0h1M192,0h2M195,0h1M198,0h1M200,0h1M202,0h3M208,0h3M212,0h1M214,0h1M218,0h1M229,0h1M231,0h1M233,0h2M236,0h3M246,0h4M251,0h1M254,0h2M259,0h1M261,0h1M264,0h1M279,0h1M301,0h2M337,0h3M341,0h1M343,0h3M347,0h3M352,0h3M356,0h1M358,0h1M377,0h1M379,0h2M383,0h1M394,0h2M417,0h1M419,0h2M424,0h3M604,0h1M607,0h1M609,0h1M611,0h4M633,0h1M639,0h1M642,0h2M711,0h1M713,0h2M725,0h5M734,0h1M736,0h1M831,0h1M833,0h2M845,0h2M853,0h1M864,0h4M894,0h1M899,0h1M903,0h1M905,0h4M913,0h1M915,0h2M938,0h1M958,0h3M963,0h1M969,0h5M983,0h3M993,0h3M1000,0h2M1004,0h3M1013,0h1M1070,0h1M1072,0h1M1075,0h1"/>
<path stroke="#00ffbb" d="M28,0h1M33,0h2M36,0h1M46,0h1M56,0h2M76,0h1M95,0h3M106,0h1M118,0h1M134,0h1M139,0h4M153,0h1M155,0h4M163,0h1M196,0h2M201,0h1M206,0h2M228,0h1M230,0h1M232,0h1M250,0h1M252,0h1M280,0h1M282,0h1M284,0h1M294,0h3M298,0h1M303,0h4M340,0h1M346,0h1M350,0h2M357,0h1M398,0h1M416,0h1M418,0h1M421,0h3M427,0h1M432,0h1M440,0h1M577,0h1M579,0h4M588,0h2M592,0h1M596,0h1M599,0h2M603,0h1M605,0h1M620,0h1M623,0h1M629,0h4M634,0h4M640,0h2M644,0h1M683,0h2M716,0h1M723,0h1M730,0h4M740,0h2M760,0h1M762,0h1M764,0h1M767,0h1M769,0h1M771,0h1M774,0h3M809,0h1M823,0h2M829,0h2M835,0h1M838,0h1M841,0h3M855,0h6M868,0h1M891,0h3M895,0h1M898,0h1M901,0h1M904,0h1M909,0h1M911,0h1M914,0h1M917,0h1M919,0h3M923,0h1M933,0h3M937,0h1M961,0h2M964,0h1M967,0h1M996,0h1M998,0h2M1002,0h1M1007,0h1M1009,0h1M1012,0h1M1073,0h2"/>
<path stroke="#00ff9c" d="M47,0h1M98,0h3M132,0h1M143,0h1M151,0h1M154,0h1M283,0h1M285,0h3M297,0h1M299,0h2M307,0h3M336,0h1M396,0h2M401,0h3M405,0h1M428,0h1M431,0h1M434,0h1M436,0h1M438,0h2M441,0h2M444,0h1M576,0h1M578,0h1M583,0h1M587,0h1M590,0h2M593,0h1M595,0h1M598,0h1M621,0h2M624,0h2M638,0h1M646,0h1M675,0h1M682,0h1M715,0h1M717,0h5M724,0h1M737,0h1M739,0h1M742,0h1M744,0h1M761,0h1M763,0h1M765,0h1M768,0h1M770,0h1M772,0h1M782,0h1M795,0h1M801,0h1M806,0h1M808,0h1M811,0h1M828,0h1M836,0h2M861,0h3M869,0h2M886,0h1M889,0h2M896,0h2M900,0h1M910,0h1M912,0h1M922,0h1M924,0h2M929,0h4M936,0h1M966,0h1M974,0h1M976,0h2M981,0h1M1008,0h1M1010,0h2"/>
<path stroke="#00fc7b" d="M48,0h3M53,0h3M101,0h5M119,0h2M133,0h1M144,0h1M149,0h1M152,0h1M310,0h1M328,0h1M331,0h1M334,0h1M399,0h1M408,0h1M413,0h1M415,0h1M430,0h1M433,0h1M435,0h1M437,0h1M443,0h1M446,0h1M559,0h1M561,0h1M575,0h1M584,0h3M594,0h1M597,0h1M626,0h2M645,0h1M647,0h2M670,0h2M673,0h2M722,0h1M735,0h1M738,0h1M743,0h1M745,0h1M747,0h1M766,0h1M773,0h1M777,0h5M784,0h1M787,0h1M791,0h1M793,0h2M797,0h1M799,0h2M807,0h1M810,0h1M825,0h2M839,0h2M871,0h1M873,0h1M882,0h2M887,0h1M918,0h1M926,0h1M928,0h1M965,0h1M975,0h1M978,0h1M982,0h1"/>
<path stroke="#5fff55" d="M51,0h2M121,0h1M124,0h4M145,0h3M150,0h1M291,0h3M324,0h1M326,0h2M329,0h1M332,0h2M335,0h1M400,0h1M404,0h1M406,0h1M409,0h3M414,0h1M429,0h1M447,0h1M553,0h1M555,0h1M557,0h1M564,0h1M567,0h3M628,0h1M649,0h2M662,0h1M666,0h1M669,0h1M672,0h1M676,0h2M680,0h1M746,0h1M748,0h1M755,0h1M757,0h3M783,0h1M785,0h2M788,0h1M792,0h1M796,0h1M798,0h1M802,0h4M827,0h1M872,0h1M880,0h2M884,0h2M888,0h1M927,0h1M979,0h2"/>
<path stroke="#7aff3e" d="M122,0h2M128,0h4M148,0h1M288,0h1M311,0h2M320,0h3M325,0h1M330,0h1M407,0h1M412,0h1M445,0h1M448,0h3M453,0h3M457,0h2M460,0h2M552,0h1M554,0h1M558,0h1M560,0h1M562,0h2M565,0h2M570,0h1M572,0h3M652,0h1M661,0h1M663,0h3M667,0h1M679,0h1M681,0h1M750,0h2M753,0h2M756,0h1M874,0h1M877,0h3"/>
<path stroke="#a5ff16" d="M289,0h2M313,0h1M315,0h1M317,0h3M323,0h1M452,0h1M462,0h3M466,0h1M468,0h1M477,0h1M543,0h1M549,0h3M556,0h1M571,0h1M653,0h8M668,0h1M678,0h1M749,0h1M752,0h1M789,0h2M875,0h2"/>
<path stroke="#cdff00" d="M314,0h1M316,0h1M451,0h1M456,0h1M459,0h1M465,0h1M469,0h5M475,0h2M479,0h1M507,0h1M516,0h1M536,0h1M539,0h2M545,0h4M651,0h1"/>
<path stroke="#efff00" d="M467,0h1M474,0h1M478,0h1M480,0h1M482,0h1M485,0h2M489,0h1M493,0h1M495,0h2M499,0h3M503,0h1M505,0h2M508,0h2M511,0h1M513,0h2M525,0h4M531,0h3M538,0h1M542,0h1M544,0h1"/>
<path stroke="#fff200" d="M481,0h1M483,0h2M487,0h2M490,0h3M497,0h2M502,0h1M504,0h1M512,0h1M515,0h1M517,0h2M520,0h5M529,0h2M534,0h1M537,0h1M541,0h1"/>
<path stroke="#ffd800" d="M494,0h1M510,0h1M519,0h1M535,0h1"/>
<path stroke="#3838ba" d="M1058,0h1"/>
<path stroke="#3838cd" d="M1031,0h1M1037,0h1"/>
<path stroke="#3838f5" d="M1029,0h1"/>
<path stroke="#3842ff" d="M1024,0h1"/>
<path stroke="#3856ff" d="M1026,0h1"/>
<path stroke="#3892ff" d="M1021,0h1"/>
</g>
<g transform="translate(188.7,352) scale(1.33315,1)" stroke-width="10">
<path stroke="#0000a6" d="M1033,0h1M1040,0h1M1043,0h1M1047,0h1M1049,0h1M1053,0h2M1061,0h1"/>
<path stroke="#0000c0" d="M1034,0h2M1041,0h1M1044,0h1M1046,0h1M1048,0h1M1056,0h1M1060,0h1M1062,0h1"/>
<path stroke="#0000d9" d="M1052,0h1M1055,0h1"/>
<path stroke="#000dff" d="M1063,0h1"/>
<path stroke="#0059ff" d="M948,0h2M1018,0h1"/>
<path stroke="#0073ff" d="M110,0h1M691,0h1M693,0h1M698,0h1M950,0h1M952,0h1M1019,0h1M1065,0h1"/>
<path stroke="#008cff" d="M79,0h3M111,0h1M170,0h1M368,0h1M370,0h1M373,0h1M689,0h1M692,0h1M694,0h3M701,0h1M944,0h1M947,0h1M951,0h1M989,0h1M1017,0h1M1066,0h1"/>
<path stroke="#00a6ff" d="M11,0h1M15,0h1M17,0h1M82,0h2M109,0h1M112,0h1M114,0h2M172,0h1M174,0h1M180,0h1M270,0h1M273,0h2M366,0h2M369,0h1M371,0h2M375,0h1M690,0h1M699,0h1M702,0h6M820,0h1M849,0h1M851,0h1M942,0h2M945,0h2M953,0h1M987,0h2M990,0h1M1067,0h1"/>
<path stroke="#00bfff" d="M5,0h1M7,0h1M9,0h1M12,0h1M16,0h1M21,0h1M41,0h1M67,0h1M70,0h1M85,0h2M88,0h1M113,0h1M166,0h4M171,0h1M173,0h1M175,0h3M179,0h1M182,0h2M185,0h1M187,0h1M189,0h1M222,0h2M241,0h1M245,0h1M260,0h1M263,0h1M265,0h4M271,0h2M275,0h1M344,0h1M362,0h4M374,0h1M376,0h1M378,0h1M381,0h1M389,0h1M606,0h1M687,0h2M697,0h1M700,0h1M708,0h2M814,0h4M819,0h1M832,0h1M844,0h2M850,0h1M941,0h1M954,0h2M957,0h1M986,0h1M991,0h1M1015,0h1M1068,0h1M1077,0h1"/>
<path stroke="#00d9ff" d="M3,0h2M8,0h1M10,0h1M13,0h2M18,0h3M23,0h2M30,0h1M38,0h3M42,0h2M58,0h5M65,0h2M68,0h1M71,0h1M78,0h1M84,0h1M87,0h1M89,0h2M108,0h1M165,0h1M178,0h1M181,0h1M184,0h1M186,0h1M190,0h2M199,0h1M210,0h2M215,0h1M218,0h3M224,0h1M226,0h2M239,0h2M242,0h1M244,0h1M247,0h1M254,0h1M258,0h2M261,0h2M269,0h1M341,0h2M347,0h1M354,0h1M359,0h3M377,0h1M379,0h1M382,0h1M384,0h3M388,0h1M390,0h2M393,0h1M395,0h1M602,0h1M608,0h1M610,0h3M614,0h6M685,0h2M710,0h1M712,0h1M727,0h1M812,0h1M818,0h1M821,0h2M833,0h1M846,0h3M852,0h3M865,0h1M905,0h1M913,0h1M939,0h1M956,0h1M958,0h2M992,0h2M1001,0h1M1014,0h1M1016,0h1M1069,0h3M1076,0h1M1078,0h2"/>
<path stroke="#00f2ff" d="M0,0h3M6,0h1M22,0h1M25,0h1M27,0h1M29,0h1M31,0h2M34,0h3M44,0h1M63,0h2M69,0h1M72,0h1M74,0h1M77,0h1M91,0h4M96,0h1M116,0h2M136,0h3M157,0h2M160,0h1M188,0h1M194,0h2M197,0h1M200,0h1M202,0h2M205,0h4M212,0h3M216,0h2M221,0h1M225,0h1M228,0h1M231,0h1M234,0h5M243,0h1M246,0h1M251,0h1M253,0h1M255,0h3M264,0h1M276,0h3M282,0h1M302,0h1M338,0h2M343,0h1M345,0h2M348,0h3M352,0h2M355,0h4M380,0h1M383,0h1M387,0h1M392,0h1M394,0h1M419,0h2M423,0h1M425,0h2M601,0h1M603,0h3M607,0h1M609,0h1M613,0h1M620,0h1M639,0h1M711,0h1M725,0h2M728,0h2M731,0h1M813,0h1M830,0h2M834,0h2M858,0h1M864,0h1M867,0h1M899,0h1M902,0h1M906,0h3M915,0h1M917,0h1M940,0h1M960,0h1M968,0h5M983,0h3M994,0h2M997,0h4M1002,0h2M1072,0h4"/>
<path stroke="#00fff2" d="M26,0h1M28,0h1M33,0h1M37,0h1M45,0h2M57,0h1M73,0h1M75,0h2M95,0h1M97,0h1M106,0h2M118,0h1M132,0h1M134,0h2M139,0h5M153,0h1M155,0h2M159,0h1M161,0h4M192,0h2M196,0h1M198,0h1M201,0h1M204,0h1M209,0h1M229,0h2M233,0h1M248,0h3M252,0h1M279,0h3M284,0h1M296,0h4M301,0h1M305,0h1M337,0h1M340,0h1M351,0h1M397,0h1M416,0h3M421,0h2M424,0h1M427,0h1M440,0h1M578,0h1M580,0h2M589,0h2M592,0h1M599,0h2M624,0h1M629,0h1M631,0h3M635,0h1M637,0h2M640,0h5M683,0h2M713,0h2M716,0h1M723,0h2M730,0h1M732,0h3M736,0h1M741,0h1M764,0h2M769,0h1M772,0h1M774,0h1M801,0h1M811,0h1M829,0h1M836,0h1M838,0h1M842,0h2M856,0h2M859,0h1M866,0h1M868,0h1M892,0h1M898,0h1M900,0h1M903,0h2M914,0h1M916,0h1M919,0h2M924,0h2M933,0h2M937,0h2M961,0h3M966,0h1M996,0h1M1004,0h5M1013,0h1"/>
<path stroke="#00ffd7" d="M53,0h1M56,0h1M99,0h2M104,0h1M133,0h1M154,0h1M232,0h1M283,0h1M285,0h1M294,0h2M300,0h1M303,0h2M306,0h1M336,0h1M396,0h1M401,0h1M403,0h1M433,0h4M438,0h1M441,0h1M575,0h3M579,0h1M582,0h1M584,0h1M588,0h1M591,0h1M593,0h1M595,0h1M622,0h2M625,0h1M630,0h1M634,0h1M636,0h1M645,0h1M671,0h1M682,0h1M717,0h1M720,0h2M737,0h2M742,0h2M761,0h3M766,0h2M770,0h2M773,0h1M775,0h2M794,0h1M799,0h1M808,0h1M810,0h1M823,0h3M839,0h3M860,0h2M869,0h1M889,0h3M893,0h5M901,0h1M909,0h2M918,0h1M921,0h1M929,0h4M935,0h1M964,0h1M967,0h1M973,0h2M982,0h1M1009,0h4"/>
<path stroke="#00ffbb" d="M47,0h2M50,0h1M54,0h2M98,0h1M101,0h1M103,0h1M105,0h1M119,0h1M144,0h1M149,0h4M286,0h2M293,0h1M307,0h3M327,0h2M398,0h1M402,0h1M405,0h1M413,0h1M415,0h1M428,0h1M430,0h3M437,0h1M439,0h1M442,0h1M444,0h1M583,0h1M586,0h2M594,0h1M596,0h3M621,0h1M626,0h3M646,0h2M670,0h1M673,0h3M715,0h1M718,0h2M722,0h1M735,0h1M739,0h2M744,0h2M760,0h1M768,0h1M778,0h1M780,0h2M783,0h2M787,0h1M791,0h1M795,0h1M798,0h1M800,0h1M803,0h1M806,0h2M809,0h1M826,0h1M828,0h1M837,0h1M855,0h1M862,0h2M870,0h1M883,0h1M887,0h1M911,0h2M922,0h2M926,0h1M928,0h1M936,0h1M965,0h1M975,0h3M981,0h1"/>
<path stroke="#00ff9c" d="M49,0h1M51,0h1M102,0h1M120,0h2M124,0h4M131,0h1M145,0h1M147,0h2M292,0h1M310,0h2M324,0h1M329,0h1M331,0h1M333,0h3M399,0h1M404,0h1M408,0h1M410,0h2M414,0h1M429,0h1M443,0h1M446,0h2M557,0h1M559,0h3M567,0h2M585,0h1M648,0h2M669,0h1M672,0h1M676,0h1M679,0h3M757,0h3M777,0h1M779,0h1M782,0h1M785,0h2M788,0h2M792,0h2M796,0h1M802,0h1M805,0h1M827,0h1M871,0h3M879,0h2M882,0h1M884,0h1M886,0h1M888,0h1M927,0h1M978,0h3"/>
<path stroke="#00fc7b" d="M52,0h1M123,0h1M128,0h1M130,0h1M146,0h1M288,0h1M291,0h1M320,0h1M322,0h2M325,0h2M330,0h1M332,0h1M400,0h1M407,0h1M409,0h1M412,0h1M445,0h1M451,0h1M457,0h2M460,0h1M552,0h4M558,0h1M562,0h5M571,0h1M573,0h1M650,0h1M661,0h2M665,0h4M677,0h1M746,0h6M753,0h3M790,0h1M797,0h1M804,0h1M874,0h1M877,0h1M881,0h1M885,0h1"/>
<path stroke="#5fff55" d="M122,0h1M129,0h1M289,0h2M312,0h1M321,0h1M406,0h1M448,0h3M453,0h4M461,0h2M464,0h1M466,0h1M477,0h1M507,0h1M556,0h1M569,0h2M572,0h1M574,0h1M651,0h3M656,0h1M658,0h2M663,0h2M678,0h1M752,0h1M756,0h1M875,0h2"/>
<path stroke="#7aff3e" d="M313,0h3M317,0h3M452,0h1M459,0h1M463,0h1M468,0h2M472,0h2M475,0h2M479,0h1M481,0h1M539,0h2M542,0h1M544,0h1M546,0h1M548,0h4M654,0h2M657,0h1M660,0h1M878,0h1"/>
<path stroke="#a5ff16" d="M316,0h1M465,0h1M467,0h1M470,0h2M474,0h1M478,0h1M486,0h3M493,0h2M499,0h5M506,0h1M508,0h2M511,0h1M513,0h2M525,0h3M532,0h1M536,0h3M543,0h1M545,0h1"/>
<path stroke="#cdff00" d="M480,0h1M482,0h3M489,0h1M491,0h2M495,0h4M504,0h2M510,0h1M512,0h1M516,0h2M519,0h6M528,0h2M531,0h1M533,0h3M541,0h1M547,0h1"/>
<path stroke="#efff00" d="M485,0h1M490,0h1M515,0h1M518,0h1M530,0h1"/>
<path stroke="#3838a6" d="M1024,0h1"/>
<path stroke="#3838cd" d="M1026,0h1M1029,0h1"/>
<path stroke="#3838f5" d="M1037,0h1"/>
</g>
<g transform="translate(188.7,342) scale(1.33315,1)" stroke-width="10">
<path stroke="#0000a6" d="M1033,0h3M1040,0h2M1048,0h2M1062,0h2"/>
<path stroke="#0000c0" d="M1052,0h3M1060,0h2"/>
<path stroke="#000dff" d="M948,0h1M950,0h1"/>
<path stroke="#0026ff" d="M949,0h1M1019,0h1M1065,0h1"/>
<path stroke="#0040ff" d="M111,0h1M693,0h1M698,0h1M947,0h1M951,0h1M1018,0h1"/>
<path stroke="#0059ff" d="M81,0h1M110,0h1M112,0h1M368,0h1M371,0h1M373,0h1M375,0h1M689,0h1M691,0h2M694,0h3M699,0h1M701,0h2M942,0h2M952,0h1M988,0h2M1017,0h1M1066,0h1"/>
<path stroke="#0073ff" d="M10,0h1M79,0h2M82,0h2M108,0h2M113,0h2M170,0h3M175,0h1M273,0h2M364,0h2M367,0h1M369,0h2M372,0h1M374,0h1M688,0h1M690,0h1M697,0h1M700,0h1M703,0h2M816,0h1M849,0h1M851,0h1M941,0h1M944,0h3M953,0h2M987,0h1M990,0h2M1015,0h1M1067,0h1"/>
<path stroke="#008cff" d="M3,0h1M11,0h1M15,0h2M58,0h1M60,0h1M65,0h1M70,0h1M84,0h1M86,0h1M115,0h1M166,0h2M169,0h1M173,0h2M176,0h2M180,0h2M183,0h1M241,0h1M260,0h1M265,0h1M267,0h1M270,0h2M275,0h1M342,0h1M362,0h2M366,0h1M376,0h1M385,0h2M389,0h1M687,0h1M705,0h3M709,0h1M815,0h1M817,0h2M820,0h1M844,0h1M847,0h1M850,0h1M852,0h1M955,0h3M992,0h1M1016,0h1M1079,0h1"/>
<path stroke="#00a6ff" d="M1,0h2M4,0h6M13,0h2M17,0h3M21,0h1M25,0h1M27,0h1M30,0h2M38,0h2M41,0h1M44,0h1M59,0h1M61,0h3M66,0h3M71,0h1M73,0h1M78,0h1M85,0h1M87,0h2M93,0h1M116,0h1M138,0h1M168,0h1M178,0h2M182,0h1M184,0h6M212,0h1M215,0h1M217,0h1M222,0h2M225,0h1M227,0h1M239,0h1M242,0h3M257,0h2M262,0h2M266,0h1M268,0h2M272,0h1M278,0h1M343,0h1M345,0h1M347,0h1M349,0h1M352,0h1M354,0h2M357,0h1M360,0h2M378,0h2M381,0h1M384,0h1M388,0h1M390,0h1M393,0h1M606,0h1M608,0h1M610,0h3M614,0h5M685,0h2M708,0h1M710,0h1M712,0h1M726,0h1M728,0h1M813,0h2M819,0h1M821,0h1M832,0h1M848,0h1M853,0h2M939,0h2M969,0h1M985,0h2M995,0h1M1014,0h1M1068,0h5M1077,0h2"/>
<path stroke="#00bfff" d="M0,0h1M12,0h1M20,0h1M22,0h2M26,0h1M32,0h4M37,0h1M40,0h1M42,0h2M64,0h1M69,0h1M72,0h1M74,0h2M77,0h1M89,0h4M136,0h2M156,0h1M158,0h1M163,0h1M190,0h2M194,0h2M199,0h1M207,0h3M211,0h1M213,0h2M216,0h1M218,0h4M224,0h1M226,0h1M231,0h1M238,0h1M240,0h1M245,0h1M247,0h1M253,0h2M256,0h1M259,0h1M261,0h1M264,0h1M276,0h2M279,0h1M281,0h1M344,0h1M346,0h1M348,0h1M350,0h2M353,0h1M356,0h1M358,0h2M377,0h1M380,0h1M382,0h2M387,0h1M391,0h2M394,0h2M420,0h1M601,0h2M604,0h1M607,0h1M609,0h1M613,0h1M619,0h1M633,0h1M639,0h1M711,0h1M725,0h1M727,0h1M729,0h1M812,0h1M822,0h1M831,0h1M833,0h2M841,0h1M845,0h2M902,0h1M904,0h2M913,0h1M915,0h1M938,0h1M958,0h4M963,0h1M966,0h1M970,0h2M984,0h1M993,0h2M997,0h9M1073,0h4"/>
<path stroke="#00d9ff" d="M24,0h1M28,0h2M36,0h1M56,0h2M76,0h1M94,0h4M106,0h2M117,0h1M134,0h2M139,0h1M141,0h2M155,0h1M157,0h1M160,0h1M164,0h2M192,0h2M196,0h1M198,0h1M200,0h1M202,0h5M210,0h1M228,0h1M230,0h1M232,0h6M246,0h1M248,0h5M255,0h1M280,0h1M282,0h1M284,0h1M295,0h5M301,0h2M337,0h5M396,0h1M416,0h4M421,0h3M425,0h2M440,0h1M579,0h1M589,0h1M597,0h1M599,0h2M603,0h1M605,0h1M629,0h1M631,0h2M634,0h3M638,0h1M641,0h3M684,0h1M713,0h1M715,0h2M723,0h2M730,0h2M733,0h2M740,0h1M823,0h1M829,0h2M835,0h1M843,0h1M856,0h5M864,0h1M866,0h2M892,0h1M896,0h1M898,0h4M903,0h1M906,0h3M916,0h1M933,0h5M968,0h1M972,0h2M981,0h3M996,0h1M1006,0h1M1008,0h2M1012,0h2"/>
<path stroke="#00f2ff" d="M45,0h1M98,0h2M104,0h1M118,0h1M132,0h2M140,0h1M143,0h1M153,0h1M159,0h1M161,0h2M197,0h1M201,0h1M229,0h1M300,0h1M303,0h2M307,0h1M336,0h1M403,0h1M424,0h1M436,0h1M439,0h1M441,0h1M576,0h3M580,0h3M588,0h1M591,0h1M593,0h1M598,0h1M620,0h5M627,0h1M630,0h1M637,0h1M640,0h1M644,0h1M683,0h1M714,0h1M717,0h1M721,0h1M732,0h1M735,0h3M741,0h1M744,0h1M760,0h6M767,0h1M769,0h1M771,0h1M774,0h3M808,0h1M810,0h2M825,0h1M836,0h3M842,0h1M855,0h1M862,0h1M865,0h1M868,0h3M889,0h3M893,0h3M909,0h4M914,0h1M917,0h5M924,0h1M929,0h1M931,0h2M967,0h1M974,0h1M976,0h1M1007,0h1M1010,0h2"/>
<path stroke="#00fff2" d="M46,0h3M53,0h3M100,0h2M103,0h1M105,0h1M151,0h1M154,0h1M283,0h1M285,0h1M293,0h2M305,0h2M308,0h2M335,0h1M397,0h2M401,0h2M413,0h2M427,0h2M431,0h5M438,0h1M442,0h1M583,0h2M590,0h1M592,0h1M595,0h2M625,0h2M628,0h1M646,0h1M670,0h4M675,0h1M682,0h1M718,0h3M722,0h1M738,0h2M742,0h2M766,0h1M768,0h1M770,0h1M772,0h2M778,0h2M782,0h1M793,0h1M800,0h1M806,0h2M809,0h1M824,0h1M828,0h1M839,0h2M861,0h1M863,0h1M883,0h1M886,0h2M897,0h1M922,0h1M930,0h1M962,0h1M964,0h2M975,0h1M977,0h2"/>
<path stroke="#00ffd7" d="M49,0h4M102,0h1M119,0h2M124,0h1M131,0h1M144,0h3M149,0h2M152,0h1M286,0h2M327,0h1M329,0h1M332,0h3M399,0h1M404,0h2M415,0h1M429,0h2M437,0h1M443,0h1M447,0h1M557,0h1M559,0h2M568,0h1M575,0h1M586,0h2M594,0h1M645,0h1M647,0h2M662,0h1M666,0h1M674,0h1M676,0h1M679,0h1M745,0h1M755,0h1M759,0h1M777,0h1M780,0h2M784,0h2M787,0h1M794,0h6M801,0h1M803,0h3M826,0h2M882,0h1M884,0h2M888,0h1M923,0h1M925,0h4M979,0h1"/>
<path stroke="#00ffbb" d="M123,0h1M125,0h4M147,0h2M291,0h2M310,0h2M323,0h4M328,0h1M331,0h1M400,0h1M406,0h7M444,0h3M552,0h3M558,0h1M561,0h4M566,0h2M571,0h1M573,0h2M585,0h1M649,0h2M660,0h2M665,0h1M668,0h2M677,0h1M680,0h2M746,0h3M750,0h1M754,0h1M757,0h2M783,0h1M786,0h1M788,0h2M791,0h2M802,0h1M871,0h3M879,0h3M980,0h1"/>
<path stroke="#00ff9c" d="M121,0h2M129,0h2M288,0h1M290,0h1M312,0h1M317,0h1M319,0h4M330,0h1M448,0h3M453,0h1M455,0h1M458,0h1M460,0h4M507,0h1M555,0h2M565,0h1M569,0h2M572,0h1M653,0h3M658,0h2M664,0h1M667,0h1M678,0h1M751,0h3M756,0h1M790,0h1M874,0h2M878,0h1"/>
<path stroke="#00fc7b" d="M289,0h1M313,0h2M318,0h1M451,0h2M454,0h1M457,0h1M459,0h1M465,0h2M468,0h1M470,0h1M472,0h1M476,0h1M508,0h1M539,0h2M543,0h3M549,0h3M651,0h2M656,0h1M663,0h1M749,0h1M876,0h2"/>
<path stroke="#5fff55" d="M315,0h2M456,0h1M464,0h1M467,0h1M469,0h1M471,0h1M473,0h3M477,0h5M486,0h1M493,0h1M496,0h1M500,0h1M503,0h1M509,0h1M516,0h2M521,0h1M527,0h2M538,0h1M542,0h1M546,0h3M657,0h1"/>
<path stroke="#7aff3e" d="M482,0h3M487,0h3M491,0h2M495,0h1M497,0h1M499,0h1M504,0h1M506,0h1M512,0h1M514,0h2M518,0h3M524,0h3M529,0h1M532,0h2M536,0h2"/>
<path stroke="#a5ff16" d="M485,0h1M490,0h1M494,0h1M498,0h1M501,0h2M505,0h1M510,0h2M513,0h1M522,0h2M530,0h2M534,0h2M541,0h1"/>
<path stroke="#3838a6" d="M1024,0h1"/>
<path stroke="#3838cd" d="M1029,0h1M1037,0h1M1046,0h1M1056,0h1"/>
<path stroke="#3838e1" d="M1026,0h1"/>
</g>
<g transform="translate(188.7,330) scale(1.33315,1)" stroke-width="14">
<path stroke="#0000c0" d="M1033,0h2M1053,0h1"/>
<path stroke="#0000d9" d="M949,0h2M1052,0h1"/>
<path stroke="#0000f2" d="M948,0h1M951,0h1M1018,0h1M1065,0h1"/>
<path stroke="#000dff" d="M693,0h2M698,0h2M947,0h1M989,0h1M1019,0h1M1066,0h1"/>
<path stroke="#0026ff" d="M81,0h1M83,0h1M110,0h3M274,0h1M367,0h5M373,0h1M689,0h4M695,0h2M701,0h3M849,0h1M943,0h4M952,0h1M988,0h1M1017,0h1"/>
<path stroke="#0040ff" d="M79,0h2M82,0h1M113,0h2M171,0h1M174,0h1M272,0h2M275,0h1M360,0h1M364,0h1M366,0h1M372,0h1M375,0h1M687,0h2M704,0h3M844,0h1M942,0h1M953,0h1M990,0h2M1015,0h2M1079,0h1"/>
<path stroke="#0059ff" d="M11,0h2M15,0h1M61,0h1M66,0h1M85,0h1M109,0h1M115,0h1M168,0h3M172,0h2M175,0h7M183,0h1M260,0h1M262,0h1M265,0h1M267,0h1M270,0h2M362,0h1M365,0h1M374,0h1M606,0h1M700,0h1M707,0h3M814,0h3M818,0h1M820,0h1M847,0h2M851,0h1M941,0h1M954,0h2M986,0h2M992,0h1M1014,0h1M1067,0h2M1077,0h2"/>
<path stroke="#0073ff" d="M1,0h1M3,0h3M7,0h4M13,0h2M16,0h2M19,0h1M27,0h1M37,0h1M41,0h2M58,0h3M62,0h1M65,0h1M67,0h2M70,0h1M77,0h2M84,0h1M86,0h1M89,0h1M108,0h1M137,0h2M166,0h2M182,0h1M184,0h4M189,0h1M215,0h1M222,0h1M240,0h2M244,0h1M255,0h2M261,0h1M263,0h2M268,0h2M276,0h2M341,0h3M347,0h1M349,0h1M352,0h5M358,0h2M361,0h1M363,0h1M376,0h3M383,0h4M388,0h3M602,0h1M610,0h2M615,0h1M617,0h1M619,0h1M686,0h1M697,0h1M710,0h1M726,0h2M813,0h1M817,0h1M819,0h1M833,0h1M845,0h2M850,0h1M852,0h1M939,0h2M957,0h3M968,0h1M1069,0h1M1071,0h1M1073,0h1M1076,0h1"/>
<path stroke="#008cff" d="M0,0h1M2,0h1M6,0h1M18,0h1M20,0h7M29,0h3M34,0h3M38,0h1M40,0h1M43,0h2M63,0h2M69,0h1M71,0h5M87,0h2M90,0h4M107,0h1M136,0h1M188,0h1M190,0h2M195,0h1M198,0h2M201,0h1M203,0h1M205,0h4M210,0h2M213,0h2M216,0h2M220,0h2M223,0h5M239,0h1M242,0h2M245,0h1M247,0h1M251,0h1M253,0h2M257,0h3M266,0h1M278,0h1M301,0h1M339,0h2M344,0h3M348,0h1M350,0h2M357,0h1M379,0h4M387,0h1M391,0h1M393,0h1M419,0h2M601,0h1M604,0h2M608,0h2M612,0h3M616,0h1M618,0h1M685,0h1M711,0h2M725,0h1M728,0h1M812,0h1M821,0h2M830,0h3M834,0h1M843,0h1M853,0h2M904,0h1M913,0h1M956,0h1M961,0h1M969,0h1M971,0h2M984,0h2M993,0h2M997,0h4M1002,0h3M1070,0h1M1072,0h1M1074,0h2"/>
<path stroke="#00a6ff" d="M28,0h1M32,0h1M39,0h1M56,0h2M76,0h1M94,0h1M96,0h1M106,0h1M116,0h2M135,0h1M139,0h1M155,0h1M160,0h1M162,0h4M192,0h3M196,0h1M200,0h1M202,0h1M204,0h1M209,0h1M212,0h1M218,0h2M229,0h1M231,0h1M236,0h2M246,0h1M250,0h1M279,0h3M284,0h1M295,0h3M299,0h2M302,0h1M337,0h2M392,0h1M394,0h2M416,0h1M418,0h1M577,0h1M582,0h1M599,0h2M603,0h1M607,0h1M620,0h1M623,0h1M631,0h1M633,0h1M635,0h1M639,0h4M683,0h2M713,0h1M723,0h1M729,0h3M733,0h1M736,0h1M764,0h2M769,0h1M774,0h1M811,0h1M829,0h1M836,0h1M842,0h1M856,0h2M859,0h1M864,0h4M891,0h2M898,0h6M905,0h4M915,0h3M938,0h1M960,0h1M962,0h2M966,0h2M973,0h1M983,0h1M995,0h2M1001,0h1M1005,0h4M1012,0h2"/>
<path stroke="#00bfff" d="M33,0h1M45,0h2M55,0h1M95,0h1M97,0h1M104,0h1M118,0h1M133,0h2M140,0h3M156,0h4M161,0h1M197,0h1M228,0h1M230,0h1M232,0h4M238,0h1M248,0h2M252,0h1M282,0h2M294,0h1M298,0h1M303,0h3M336,0h1M396,0h2M417,0h1M422,0h3M426,0h1M439,0h2M576,0h1M579,0h2M583,0h1M589,0h1M592,0h1M595,0h1M597,0h2M621,0h2M629,0h2M632,0h1M634,0h1M637,0h2M643,0h2M714,0h4M721,0h1M724,0h1M732,0h1M734,0h2M740,0h1M760,0h1M763,0h1M767,0h1M770,0h4M775,0h1M808,0h1M823,0h2M835,0h1M837,0h3M841,0h1M855,0h1M858,0h1M860,0h4M868,0h1M889,0h2M893,0h5M909,0h4M914,0h1M918,0h4M929,0h3M933,0h5M964,0h1M970,0h1M981,0h2M1010,0h2"/>
<path stroke="#00d9ff" d="M53,0h2M98,0h2M103,0h1M119,0h1M132,0h1M143,0h1M151,0h1M153,0h2M285,0h2M309,0h1M334,0h2M398,0h2M401,0h3M415,0h1M421,0h1M425,0h1M427,0h2M432,0h7M441,0h2M578,0h1M581,0h1M587,0h2M590,0h2M593,0h2M596,0h1M624,0h1M626,0h1M628,0h1M636,0h1M646,0h1M671,0h1M675,0h1M682,0h1M719,0h2M722,0h1M737,0h2M741,0h4M761,0h2M766,0h1M776,0h2M781,0h1M801,0h1M803,0h1M806,0h1M809,0h2M825,0h4M840,0h1M869,0h2M886,0h2M922,0h1M924,0h2M927,0h1M932,0h1M965,0h1M974,0h5M1009,0h1"/>
<path stroke="#00f2ff" d="M47,0h2M52,0h1M100,0h3M105,0h1M125,0h1M144,0h1M147,0h1M152,0h1M292,0h2M306,0h3M328,0h1M410,0h1M413,0h1M430,0h2M443,0h2M446,0h1M555,0h1M559,0h2M568,0h1M575,0h1M584,0h2M625,0h1M627,0h1M645,0h1M647,0h1M669,0h1M672,0h3M676,0h1M718,0h1M739,0h1M745,0h1M755,0h1M759,0h1M768,0h1M778,0h3M782,0h1M784,0h1M787,0h1M791,0h6M798,0h3M804,0h1M807,0h1M871,0h1M882,0h2M885,0h1M888,0h1M923,0h1M926,0h1M928,0h1M979,0h2"/>
<path stroke="#00fff2" d="M49,0h3M120,0h2M124,0h1M126,0h1M128,0h2M131,0h1M145,0h2M148,0h3M287,0h1M310,0h2M323,0h1M326,0h2M329,0h1M331,0h3M400,0h1M405,0h2M409,0h1M414,0h1M429,0h1M445,0h1M447,0h1M554,0h1M556,0h1M558,0h1M561,0h2M567,0h1M569,0h1M573,0h1M586,0h1M648,0h3M661,0h2M666,0h1M668,0h1M670,0h1M677,0h1M679,0h1M681,0h1M747,0h1M750,0h2M757,0h2M785,0h2M789,0h1M797,0h1M802,0h1M805,0h1M872,0h3M880,0h1M884,0h1"/>
<path stroke="#00ffd7" d="M122,0h2M127,0h1M130,0h1M288,0h1M291,0h1M312,0h1M317,0h1M320,0h2M324,0h2M330,0h1M404,0h1M407,0h2M411,0h2M450,0h1M453,0h3M458,0h1M460,0h3M552,0h2M557,0h1M563,0h4M570,0h3M574,0h1M659,0h1M665,0h1M680,0h1M746,0h1M748,0h1M753,0h2M756,0h1M783,0h1M788,0h1M790,0h1M877,0h1M879,0h1M881,0h1"/>
<path stroke="#00ffbb" d="M289,0h2M313,0h1M319,0h1M322,0h1M448,0h2M451,0h2M456,0h2M466,0h1M473,0h1M477,0h1M507,0h1M549,0h1M651,0h2M654,0h1M656,0h1M660,0h1M663,0h2M667,0h1M678,0h1M749,0h1M752,0h1M875,0h1M878,0h1"/>
<path stroke="#00ff9c" d="M314,0h3M318,0h1M463,0h1M468,0h3M472,0h1M474,0h3M479,0h1M506,0h1M508,0h1M527,0h1M537,0h1M539,0h6M546,0h1M548,0h1M550,0h2M653,0h1M655,0h1M657,0h2M876,0h1"/>
<path stroke="#00fc7b" d="M459,0h1M464,0h2M467,0h1M471,0h1M478,0h1M480,0h2M484,0h1M486,0h1M489,0h1M491,0h1M493,0h1M499,0h1M501,0h1M503,0h3M509,0h1M513,0h4M519,0h2M525,0h2M528,0h1M532,0h3M536,0h1M538,0h1M547,0h1"/>
<path stroke="#5fff55" d="M482,0h2M485,0h1M487,0h2M490,0h1M492,0h1M495,0h4M500,0h1M502,0h1M511,0h2M517,0h1M521,0h4M529,0h1M535,0h1M545,0h1"/>
<path stroke="#7aff3e" d="M510,0h1M518,0h1M530,0h2"/>
<path stroke="#a5ff16" d="M494,0h1"/>
<path stroke="#3838ba" d="M1040,0h1"/>
<path stroke="#3838cd" d="M1024,0h1M1048,0h1M1060,0h1M1062,0h1"/>
<path stroke="#3838e1" d="M1046,0h1"/>
<path stroke="#3838f5" d="M1029,0h1"/>
</g>
<g transform="translate(188.7,313) scale(1.33315,1)" stroke-width="20">
<path stroke="#0000a6" d="M1076,0h1"/>
<path stroke="#0000c0" d="M112,0h1M368,0h2M689,0h1M692,0h3M702,0h1M943,0h1M947,0h1M952,0h1M989,0h2M1017,0h1M1019,0h1M1066,0h1"/>
<path stroke="#0000d9" d="M81,0h1M111,0h1M113,0h1M367,0h1M370,0h2M373,0h1M688,0h1M690,0h2M695,0h2M698,0h2M701,0h1M703,0h1M942,0h1M945,0h2M988,0h1M1018,0h1"/>
<path stroke="#0000f2" d="M79,0h2M82,0h2M109,0h1M114,0h1M168,0h1M170,0h1M175,0h1M270,0h1M272,0h3M364,0h3M372,0h1M375,0h1M687,0h1M697,0h1M700,0h1M704,0h1M706,0h1M815,0h1M944,0h1M951,0h1M953,0h1M987,0h1M991,0h1M1015,0h2M1079,0h1"/>
<path stroke="#000dff" d="M11,0h1M17,0h1M58,0h1M77,0h1M86,0h1M171,0h4M180,0h1M260,0h1M267,0h1M271,0h1M354,0h2M363,0h1M374,0h1M388,0h1M390,0h1M608,0h1M686,0h1M705,0h1M707,0h1M709,0h1M816,0h3M820,0h1M849,0h1M851,0h1M941,0h1M954,0h2M957,0h1M986,0h1M1067,0h1M1069,0h1M1077,0h2"/>
<path stroke="#0026ff" d="M3,0h1M5,0h6M12,0h1M14,0h3M18,0h4M35,0h1M38,0h1M41,0h1M59,0h4M65,0h4M70,0h2M78,0h1M84,0h2M90,0h1M93,0h1M108,0h1M115,0h1M136,0h1M167,0h1M169,0h1M176,0h4M181,0h1M183,0h3M187,0h1M189,0h1M240,0h4M258,0h1M261,0h3M265,0h2M268,0h2M275,0h1M342,0h1M344,0h1M346,0h2M349,0h1M351,0h2M357,0h6M376,0h1M378,0h2M381,0h1M601,0h1M606,0h1M610,0h2M615,0h1M618,0h2M685,0h1M710,0h1M727,0h1M813,0h1M819,0h1M832,0h2M844,0h1M847,0h2M850,0h1M852,0h3M940,0h1M985,0h1M993,0h3M998,0h1M1002,0h1M1014,0h1M1068,0h1"/>
<path stroke="#0040ff" d="M0,0h3M13,0h1M22,0h1M30,0h2M34,0h1M36,0h2M39,0h1M42,0h2M63,0h2M69,0h1M72,0h1M87,0h3M91,0h1M106,0h1M116,0h1M135,0h1M137,0h2M166,0h1M182,0h1M188,0h1M191,0h2M204,0h2M208,0h6M215,0h1M217,0h2M239,0h1M244,0h1M247,0h1M254,0h4M259,0h1M264,0h1M276,0h3M339,0h3M343,0h1M345,0h1M348,0h1M350,0h1M353,0h1M356,0h1M377,0h1M380,0h1M382,0h6M389,0h1M391,0h1M393,0h1M395,0h1M599,0h1M602,0h1M604,0h2M609,0h1M612,0h3M616,0h2M620,0h1M712,0h1M725,0h2M729,0h1M731,0h1M812,0h1M821,0h2M831,0h1M834,0h1M845,0h2M859,0h1M867,0h1M899,0h1M905,0h1M907,0h1M938,0h2M956,0h1M959,0h1M968,0h2M972,0h1M984,0h1M996,0h2M999,0h1M1005,0h1M1013,0h1M1070,0h6"/>
<path stroke="#0059ff" d="M4,0h1M23,0h7M32,0h2M40,0h1M44,0h1M57,0h1M74,0h1M76,0h1M92,0h1M94,0h3M134,0h1M155,0h1M157,0h1M161,0h3M165,0h1M186,0h1M190,0h1M193,0h5M199,0h2M202,0h2M206,0h2M214,0h1M216,0h1M219,0h6M226,0h1M237,0h2M245,0h1M252,0h2M279,0h3M297,0h2M300,0h1M337,0h2M392,0h1M394,0h1M417,0h2M420,0h1M577,0h1M600,0h1M603,0h1M607,0h1M630,0h1M635,0h1M711,0h1M713,0h1M728,0h1M730,0h1M732,0h3M765,0h1M774,0h1M811,0h1M829,0h2M835,0h1M841,0h1M857,0h2M864,0h3M892,0h1M898,0h1M902,0h1M904,0h1M906,0h1M913,0h2M933,0h3M937,0h1M958,0h1M960,0h4M966,0h2M970,0h1M983,0h1M1000,0h2M1003,0h1"/>
<path stroke="#0073ff" d="M45,0h2M56,0h1M73,0h1M75,0h1M97,0h1M107,0h1M117,0h1M133,0h1M139,0h3M154,0h1M156,0h1M158,0h3M164,0h1M198,0h1M201,0h1M225,0h1M227,0h5M233,0h4M246,0h1M248,0h4M282,0h3M294,0h2M299,0h1M301,0h3M336,0h1M416,0h1M419,0h1M421,0h5M440,0h1M578,0h3M582,0h1M589,0h1M621,0h2M629,0h1M631,0h1M633,0h2M636,0h9M683,0h2M714,0h3M723,0h2M736,0h1M741,0h2M763,0h2M766,0h2M770,0h3M776,0h1M823,0h1M836,0h1M838,0h3M842,0h2M855,0h2M861,0h1M863,0h1M891,0h1M893,0h5M900,0h2M903,0h1M908,0h4M915,0h3M919,0h2M930,0h3M936,0h1M964,0h1M971,0h1M973,0h1M982,0h1M1004,0h1M1006,0h5M1012,0h1"/>
<path stroke="#008cff" d="M54,0h2M98,0h1M100,0h1M105,0h1M118,0h1M132,0h1M153,0h1M232,0h1M285,0h1M296,0h1M304,0h3M396,0h2M415,0h1M426,0h2M434,0h1M436,0h4M441,0h1M575,0h2M581,0h1M591,0h3M595,0h2M598,0h1M623,0h2M632,0h1M682,0h1M717,0h1M720,0h2M737,0h4M762,0h1M768,0h2M773,0h1M801,0h1M808,0h3M824,0h2M837,0h1M860,0h1M862,0h1M868,0h1M889,0h2M918,0h1M921,0h1M929,0h1M965,0h1M981,0h1M1011,0h1"/>
<path stroke="#00a6ff" d="M48,0h1M53,0h1M99,0h1M101,0h2M104,0h1M142,0h2M151,0h1M287,0h1M293,0h1M307,0h1M309,0h1M334,0h2M398,0h2M402,0h2M414,0h1M428,0h1M430,0h4M443,0h1M583,0h1M585,0h1M587,0h2M590,0h1M594,0h1M597,0h1M625,0h4M645,0h1M647,0h1M671,0h2M674,0h1M718,0h2M722,0h1M735,0h1M743,0h2M760,0h2M775,0h1M779,0h1M794,0h2M798,0h1M800,0h1M804,0h1M806,0h2M827,0h2M869,0h3M883,0h1M886,0h3M912,0h1M922,0h5M974,0h5"/>
<path stroke="#00bfff" d="M47,0h1M49,0h3M103,0h1M119,0h2M124,0h4M131,0h1M144,0h1M149,0h1M152,0h1M286,0h1M292,0h1M308,0h1M310,0h1M327,0h2M331,0h1M401,0h1M412,0h2M435,0h1M442,0h1M444,0h1M559,0h1M561,0h1M584,0h1M586,0h1M646,0h1M648,0h1M659,0h1M669,0h2M673,0h1M675,0h1M681,0h1M745,0h1M753,0h1M757,0h3M777,0h2M780,0h3M784,0h4M793,0h1M796,0h2M799,0h1M802,0h2M805,0h1M826,0h1M872,0h1M880,0h1M882,0h1M884,0h2M927,0h2M979,0h2"/>
<path stroke="#00d9ff" d="M52,0h1M121,0h1M123,0h1M128,0h3M145,0h4M150,0h1M291,0h1M311,0h1M320,0h1M323,0h4M329,0h1M332,0h2M400,0h1M404,0h3M409,0h3M429,0h1M445,0h3M458,0h1M553,0h6M560,0h1M563,0h2M566,0h3M574,0h1M650,0h1M661,0h2M666,0h3M676,0h2M680,0h1M746,0h3M751,0h1M754,0h2M783,0h1M788,0h5M873,0h3M879,0h1M881,0h1"/>
<path stroke="#00f2ff" d="M122,0h1M288,0h1M312,0h1M319,0h1M321,0h2M330,0h1M407,0h2M450,0h1M454,0h1M457,0h1M507,0h1M552,0h1M562,0h1M565,0h1M569,0h5M649,0h1M651,0h2M656,0h1M660,0h1M663,0h3M678,0h2M750,0h1M752,0h1M756,0h1M877,0h1"/>
<path stroke="#00fff2" d="M289,0h2M313,0h2M317,0h2M448,0h1M451,0h3M455,0h1M460,0h4M477,0h1M548,0h4M653,0h3M657,0h2M749,0h1M876,0h1M878,0h1"/>
<path stroke="#00ffd7" d="M316,0h1M449,0h1M456,0h1M459,0h1M464,0h1M466,0h6M473,0h1M475,0h2M478,0h2M481,0h2M502,0h1M506,0h1M508,0h1M515,0h1M532,0h1M539,0h2M542,0h2M546,0h2"/>
<path stroke="#00ffbb" d="M315,0h1M465,0h1M472,0h1M474,0h1M480,0h1M486,0h1M488,0h2M493,0h1M496,0h1M501,0h1M503,0h1M505,0h1M509,0h1M512,0h3M516,0h2M521,0h1M524,0h2M527,0h3M534,0h5M541,0h1M544,0h2"/>
<path stroke="#00ff9c" d="M483,0h3M491,0h2M495,0h1M497,0h4M504,0h1M510,0h2M519,0h2M522,0h2M526,0h1M530,0h2M533,0h1"/>
<path stroke="#00fc7b" d="M487,0h1M490,0h1M494,0h1M518,0h1"/>
<path stroke="#3838cd" d="M949,0h1M1060,0h1"/>
</g>
<g transform="translate(188.7,293.5) scale(1.33315,1)" stroke-width="19">
<path stroke="#00008d" d="M170,0h1M174,0h1M698,0h1M701,0h1M1014,0h1M1072,0h1"/>
<path stroke="#0000a6" d="M11,0h1M18,0h2M62,0h1M85,0h1M114,0h1M168,0h1M171,0h2M175,0h1M189,0h1M219,0h1M261,0h1M266,0h1M272,0h1M352,0h1M357,0h1M365,0h1M369,0h1M601,0h1M685,0h2M688,0h2M694,0h2M699,0h1M816,0h1M820,0h1M844,0h1M851,0h1M937,0h1M941,0h1M944,0h1M954,0h1M1015,0h1M1077,0h1"/>
<path stroke="#0000c0" d="M0,0h1M3,0h3M7,0h4M12,0h1M14,0h2M17,0h1M21,0h1M41,0h1M60,0h1M70,0h1M77,0h2M81,0h2M87,0h1M115,0h1M136,0h1M173,0h1M181,0h1M240,0h2M263,0h1M265,0h1M271,0h1M276,0h1M342,0h1M347,0h1M349,0h1M353,0h4M358,0h1M364,0h1M368,0h1M375,0h1M377,0h1M388,0h2M608,0h5M614,0h3M687,0h1M700,0h1M702,0h3M709,0h1M812,0h2M815,0h1M818,0h1M832,0h1M845,0h3M852,0h1M939,0h2M942,0h2M958,0h1M1001,0h1M1018,0h2M1070,0h2M1073,0h3"/>
<path stroke="#0000d9" d="M1,0h2M13,0h1M16,0h1M20,0h1M23,0h1M28,0h1M30,0h1M34,0h1M36,0h5M42,0h1M58,0h2M68,0h2M76,0h1M84,0h1M88,0h2M91,0h1M107,0h1M135,0h1M165,0h3M169,0h1M178,0h2M182,0h2M185,0h1M205,0h1M208,0h1M211,0h1M215,0h1M217,0h1M239,0h1M242,0h3M254,0h1M256,0h1M258,0h2M262,0h1M264,0h1M277,0h3M341,0h1M343,0h4M348,0h1M350,0h2M376,0h1M378,0h3M382,0h1M384,0h2M387,0h1M393,0h1M602,0h1M605,0h2M613,0h1M617,0h3M690,0h1M710,0h1M712,0h1M725,0h3M729,0h1M817,0h1M819,0h1M833,0h2M938,0h1M955,0h2M968,0h2M995,0h3M999,0h1M1004,0h1M1013,0h1M1068,0h2M1078,0h1"/>
<path stroke="#0000f2" d="M22,0h1M24,0h4M29,0h1M31,0h2M35,0h1M44,0h1M56,0h2M63,0h2M71,0h1M74,0h1M90,0h1M94,0h1M106,0h1M134,0h1M138,0h1M163,0h1M184,0h1M186,0h3M191,0h5M198,0h1M200,0h1M202,0h3M207,0h1M209,0h2M212,0h3M216,0h1M245,0h1M251,0h1M253,0h1M255,0h1M257,0h1M282,0h1M295,0h1M298,0h2M337,0h4M381,0h1M383,0h1M386,0h1M391,0h2M599,0h2M603,0h2M607,0h1M620,0h1M641,0h1M683,0h2M711,0h1M723,0h1M731,0h1M733,0h1M811,0h1M821,0h1M829,0h3M842,0h1M853,0h2M856,0h2M864,0h1M866,0h2M898,0h2M903,0h5M913,0h1M934,0h1M957,0h1M959,0h1M963,0h1M971,0h2M983,0h1M994,0h1M998,0h1M1000,0h1M1002,0h2M1005,0h1M1012,0h1"/>
<path stroke="#000dff" d="M43,0h1M72,0h2M75,0h1M95,0h2M116,0h1M133,0h1M162,0h1M164,0h1M199,0h1M201,0h1M206,0h1M218,0h1M220,0h8M236,0h2M247,0h1M252,0h1M280,0h2M294,0h1M296,0h2M300,0h3M394,0h2M416,0h8M577,0h1M631,0h3M635,0h1M637,0h1M639,0h2M713,0h2M724,0h1M728,0h1M732,0h1M734,0h1M764,0h1M769,0h1M771,0h1M773,0h1M822,0h1M835,0h2M838,0h1M841,0h1M843,0h1M859,0h1M862,0h1M865,0h1M895,0h2M900,0h1M902,0h1M908,0h1M910,0h1M915,0h3M919,0h1M931,0h3M935,0h2M964,0h1M966,0h2M970,0h1M973,0h1M1006,0h1"/>
<path stroke="#0026ff" d="M46,0h1M55,0h1M97,0h1M104,0h2M117,0h1M132,0h1M139,0h4M155,0h4M161,0h1M196,0h2M228,0h1M231,0h1M234,0h2M238,0h1M246,0h1M248,0h3M283,0h2M303,0h2M336,0h1M396,0h1M415,0h1M424,0h2M436,0h1M438,0h1M440,0h1M578,0h2M592,0h2M597,0h2M621,0h2M629,0h2M636,0h1M642,0h2M682,0h1M715,0h2M718,0h1M721,0h1M741,0h1M761,0h3M765,0h4M770,0h1M772,0h1M774,0h2M809,0h2M823,0h1M839,0h2M855,0h1M858,0h1M860,0h2M863,0h1M868,0h1M889,0h1M891,0h4M897,0h1M901,0h1M909,0h1M911,0h2M914,0h1M918,0h1M920,0h2M924,0h1M960,0h3M965,0h1M982,0h1M1007,0h5"/>
<path stroke="#0040ff" d="M45,0h1M100,0h2M118,0h1M143,0h1M153,0h2M159,0h2M229,0h2M232,0h2M285,0h1M293,0h1M305,0h3M335,0h1M397,0h1M399,0h1M426,0h2M434,0h1M437,0h1M439,0h1M441,0h2M576,0h1M580,0h3M587,0h5M595,0h2M623,0h1M626,0h3M634,0h1M644,0h1M671,0h1M717,0h1M720,0h1M722,0h1M735,0h5M742,0h1M760,0h1M776,0h1M794,0h1M806,0h3M825,0h1M827,0h2M837,0h1M869,0h2M886,0h1M888,0h1M890,0h1M923,0h1M929,0h2M975,0h2M981,0h1"/>
<path stroke="#0059ff" d="M47,0h2M50,0h1M53,0h2M98,0h2M103,0h1M149,0h1M151,0h1M286,0h1M308,0h1M310,0h1M334,0h1M398,0h1M402,0h2M413,0h1M432,0h1M435,0h1M443,0h2M575,0h1M583,0h1M585,0h2M594,0h1M624,0h2M645,0h1M670,0h1M672,0h3M719,0h1M740,0h1M743,0h1M759,0h1M779,0h2M782,0h1M795,0h2M799,0h3M803,0h1M824,0h1M826,0h1M871,0h1M882,0h1M884,0h2M887,0h1M922,0h1M928,0h1M974,0h1M977,0h2M980,0h1"/>
<path stroke="#0073ff" d="M49,0h1M51,0h2M102,0h1M120,0h1M123,0h3M131,0h1M144,0h1M147,0h1M150,0h1M152,0h1M287,0h1M292,0h1M309,0h1M331,0h1M333,0h1M401,0h1M405,0h1M414,0h1M428,0h1M430,0h2M433,0h1M558,0h1M561,0h1M563,0h1M568,0h1M574,0h1M584,0h1M646,0h3M661,0h1M666,0h1M668,0h2M675,0h1M681,0h1M744,0h4M751,0h1M757,0h2M777,0h2M781,0h1M783,0h6M791,0h3M797,0h2M802,0h1M804,0h2M881,0h1M883,0h1M925,0h3M979,0h1"/>
<path stroke="#008cff" d="M119,0h1M122,0h1M126,0h5M145,0h2M148,0h1M291,0h1M320,0h1M322,0h1M324,0h6M332,0h1M400,0h1M404,0h1M409,0h2M412,0h1M429,0h1M445,0h2M554,0h4M559,0h2M562,0h1M565,0h1M567,0h1M573,0h1M650,0h1M662,0h1M665,0h1M667,0h1M676,0h2M679,0h2M748,0h1M750,0h1M753,0h4M789,0h2M872,0h3M879,0h2"/>
<path stroke="#00a6ff" d="M121,0h1M288,0h1M311,0h1M317,0h1M319,0h1M321,0h1M323,0h1M330,0h1M406,0h1M408,0h1M411,0h1M447,0h1M549,0h1M551,0h3M564,0h1M566,0h1M569,0h4M649,0h1M651,0h1M660,0h1M663,0h2M749,0h1M875,0h3"/>
<path stroke="#00bfff" d="M289,0h2M312,0h2M318,0h1M407,0h1M449,0h2M453,0h4M458,0h1M460,0h2M463,0h1M507,0h1M550,0h1M652,0h4M658,0h2M678,0h1M752,0h1M878,0h1"/>
<path stroke="#00d9ff" d="M314,0h3M448,0h1M451,0h2M457,0h1M462,0h1M465,0h2M468,0h1M470,0h1M472,0h2M475,0h3M479,0h1M516,0h1M539,0h3M543,0h2M546,0h3M656,0h2"/>
<path stroke="#00f2ff" d="M459,0h1M464,0h1M467,0h1M469,0h1M471,0h1M474,0h1M478,0h1M481,0h1M488,0h1M499,0h2M502,0h2M505,0h2M508,0h2M513,0h1M521,0h1M525,0h2M536,0h3M542,0h1M545,0h1"/>
<path stroke="#00fff2" d="M484,0h1M486,0h1M489,0h1M492,0h2M496,0h3M501,0h1M504,0h1M510,0h2M514,0h2M517,0h4M522,0h3M527,0h3M531,0h5"/>
<path stroke="#00ffd7" d="M480,0h1M482,0h2M485,0h1M487,0h1M490,0h2M494,0h2M512,0h1M530,0h1"/>
<path stroke="#3838a6" d="M989,0h1"/>
<path stroke="#3838ba" d="M268,0h1M274,0h1M706,0h1M849,0h1M952,0h1M987,0h1M1060,0h1"/>
<path stroke="#3838cd" d="M360,0h1M362,0h1M372,0h1M991,0h1"/>
<path stroke="#3838e1" d="M692,0h1M985,0h1"/>
<path stroke="#3838f5" d="M66,0h1"/>
</g>
<g transform="translate(188.7,274.5) scale(1.33315,1)" stroke-width="19">
<path stroke="#00008d" d="M4,0h1M14,0h2M22,0h1M77,0h1M85,0h1M138,0h1M183,0h1M191,0h1M200,0h1M254,0h1M272,0h1M297,0h1M338,0h1M358,0h1M379,0h1M599,0h1M610,0h2M629,0h1M686,0h1M702,0h1M819,0h2M829,0h1M835,0h1M842,0h1M844,0h2M858,0h1M907,0h1M922,0h1M937,0h2M966,0h1M969,0h1M971,0h1M995,0h1M1000,0h1M1018,0h1"/>
<path stroke="#0000a6" d="M5,0h1M16,0h1M24,0h3M35,0h1M40,0h1M43,0h2M56,0h1M62,0h2M76,0h1M88,0h3M106,0h1M157,0h1M184,0h2M203,0h1M215,0h1M222,0h1M251,0h1M256,0h1M271,0h1M298,0h1M340,0h5M357,0h1M377,0h1M382,0h1M388,0h1M393,0h3M420,0h1M601,0h1M608,0h1M631,0h1M633,0h1M640,0h1M685,0h1M687,0h1M703,0h1M713,0h1M716,0h1M733,0h1M741,0h1M763,0h1M767,0h1M771,0h2M816,0h2M830,0h1M832,0h1M836,0h1M843,0h1M852,0h3M857,0h1M859,0h1M863,0h2M866,0h1M892,0h1M899,0h2M904,0h1M906,0h1M913,0h3M934,0h1M940,0h1M954,0h2M961,0h1M963,0h1M967,0h1M972,0h1M983,0h1M1003,0h1M1005,0h1M1010,0h1M1013,0h2M1019,0h1M1072,0h1"/>
<path stroke="#0000c0" d="M23,0h1M31,0h1M34,0h1M37,0h1M41,0h1M45,0h1M55,0h1M84,0h1M162,0h1M186,0h1M192,0h1M195,0h4M201,0h2M207,0h3M214,0h1M216,0h1M223,0h3M236,0h1M241,0h2M246,0h1M250,0h1M257,0h2M296,0h1M299,0h1M302,0h2M336,0h2M380,0h1M383,0h2M396,0h1M416,0h2M419,0h1M421,0h2M578,0h1M589,0h1M600,0h1M607,0h1M622,0h1M630,0h1M635,0h1M639,0h1M642,0h1M683,0h1M710,0h1M714,0h1M719,0h1M721,0h3M732,0h1M734,0h1M760,0h2M764,0h3M768,0h3M773,0h2M822,0h2M831,0h1M834,0h1M838,0h2M841,0h1M855,0h2M860,0h2M867,0h1M889,0h3M893,0h1M895,0h1M903,0h1M905,0h1M917,0h1M930,0h3M935,0h2M939,0h1M956,0h1M962,0h1M964,0h2M968,0h1M970,0h1M973,0h1M982,0h1M1001,0h2M1006,0h2M1009,0h1M1071,0h1"/>
<path stroke="#0000d9" d="M32,0h1M36,0h1M46,0h1M54,0h1M78,0h1M97,0h1M105,0h1M132,0h1M139,0h2M154,0h2M158,0h4M193,0h1M226,0h3M231,0h1M233,0h3M247,0h1M249,0h1M252,0h2M283,0h2M300,0h1M304,0h2M334,0h2M376,0h1M381,0h1M387,0h1M415,0h1M423,0h1M425,0h1M437,0h3M579,0h2M590,0h3M596,0h2M621,0h1M624,0h1M626,0h1M632,0h1M634,0h1M636,0h1M641,0h1M643,0h2M682,0h1M711,0h1M715,0h1M717,0h1M720,0h1M735,0h2M738,0h3M775,0h2M807,0h2M837,0h1M868,0h1M887,0h1M894,0h1M896,0h1M901,0h1M909,0h2M916,0h1M919,0h3M976,0h1M981,0h1M996,0h1"/>
<path stroke="#0000f2" d="M98,0h4M118,0h1M141,0h2M153,0h1M229,0h2M232,0h1M248,0h1M306,0h3M397,0h2M402,0h1M426,0h1M434,0h2M440,0h3M575,0h1M581,0h1M583,0h2M588,0h1M594,0h2M625,0h1M627,0h2M637,0h1M671,0h1M718,0h1M737,0h1M742,0h2M794,0h3M801,0h1M806,0h1M824,0h2M827,0h2M869,0h1M886,0h1M888,0h1M918,0h1M924,0h1M974,0h1M994,0h1"/>
<path stroke="#000dff" d="M47,0h2M53,0h1M102,0h2M124,0h1M131,0h1M143,0h1M149,0h1M151,0h2M285,0h1M292,0h1M309,0h1M400,0h2M403,0h1M414,0h1M427,0h2M432,0h1M443,0h1M574,0h1M582,0h1M586,0h2M623,0h1M645,0h2M669,0h2M672,0h2M681,0h1M744,0h1M758,0h2M777,0h8M787,0h1M792,0h2M797,0h1M799,0h2M804,0h1M826,0h1M870,0h2M882,0h4M923,0h1M926,0h4M977,0h2M980,0h1"/>
<path stroke="#0026ff" d="M49,0h1M51,0h1M119,0h1M123,0h1M125,0h2M130,0h1M144,0h4M150,0h1M286,0h1M310,0h1M324,0h1M333,0h1M404,0h1M413,0h1M431,0h1M433,0h1M444,0h1M557,0h1M561,0h1M564,0h1M647,0h1M667,0h2M674,0h1M745,0h1M747,0h1M755,0h3M786,0h1M789,0h3M798,0h1M802,0h2M805,0h1M872,0h1M881,0h1M925,0h1M975,0h1M979,0h1"/>
<path stroke="#0040ff" d="M50,0h1M52,0h1M120,0h3M129,0h1M148,0h1M287,0h1M291,0h1M320,0h1M323,0h1M325,0h1M327,0h1M330,0h3M399,0h1M405,0h1M412,0h1M429,0h2M446,0h1M552,0h4M559,0h2M562,0h2M565,0h2M572,0h2M648,0h1M650,0h1M661,0h1M664,0h3M675,0h3M679,0h1M746,0h1M751,0h1M753,0h1M785,0h1M788,0h1M873,0h2M879,0h2"/>
<path stroke="#0059ff" d="M127,0h2M288,0h3M311,0h2M321,0h2M326,0h1M328,0h2M406,0h1M409,0h3M447,0h1M550,0h1M556,0h1M558,0h1M567,0h5M649,0h1M659,0h1M662,0h1M678,0h1M680,0h1M748,0h3M754,0h1M875,0h3"/>
<path stroke="#0073ff" d="M317,0h3M408,0h1M445,0h1M453,0h2M458,0h1M472,0h1M549,0h1M551,0h1M651,0h3M656,0h3M660,0h1M663,0h1M752,0h1M878,0h1"/>
<path stroke="#008cff" d="M313,0h4M407,0h1M449,0h4M455,0h3M460,0h2M463,0h1M465,0h2M468,0h1M473,0h1M475,0h3M507,0h1M540,0h1M543,0h1M546,0h3M654,0h2"/>
<path stroke="#00a6ff" d="M448,0h1M459,0h1M462,0h1M464,0h1M467,0h1M469,0h3M474,0h1M478,0h2M502,0h2M506,0h1M509,0h1M514,0h1M525,0h1M527,0h1M538,0h2M541,0h2M544,0h2"/>
<path stroke="#00bfff" d="M481,0h1M486,0h2M493,0h1M496,0h1M499,0h2M504,0h2M508,0h1M511,0h3M515,0h2M519,0h2M522,0h1M528,0h2M537,0h1"/>
<path stroke="#00d9ff" d="M480,0h1M482,0h1M484,0h2M488,0h2M491,0h2M494,0h1M498,0h1M501,0h1M510,0h1M517,0h2M521,0h1M523,0h2M526,0h1M530,0h3M534,0h3"/>
<path stroke="#00f2ff" d="M490,0h1M495,0h1M497,0h1M533,0h1"/>
<path stroke="#00fff2" d="M483,0h1"/>
<path stroke="#3838a6" d="M11,0h1M114,0h1M188,0h1M360,0h1M372,0h1M1075,0h1"/>
<path stroke="#3838ba" d="M18,0h1M60,0h1M68,0h1M116,0h1M165,0h1M173,0h1M181,0h1M205,0h1M211,0h1M244,0h1M262,0h1M265,0h1M276,0h1M294,0h1M347,0h1M350,0h1M604,0h1M692,0h1M725,0h1M959,0h1"/>
<path stroke="#3838cd" d="M20,0h1M73,0h1M136,0h1M169,0h1M218,0h1M220,0h1M353,0h1M615,0h1M617,0h1M727,0h1M810,0h1"/>
<path stroke="#3838e1" d="M28,0h1M279,0h1M729,0h1"/>
</g>
<g transform="translate(188.7,255.5) scale(1.33315,1)" stroke-width="19">
<path stroke="#00008d" d="M14,0h3M46,0h1M48,0h1M76,0h2M84,0h2M88,0h2M132,0h1M152,0h1M159,0h1M200,0h3M225,0h1M231,0h1M249,0h1M426,0h1M437,0h2M596,0h1M608,0h1M623,0h1M632,0h1M635,0h1M641,0h4M672,0h1M710,0h1M718,0h1M723,0h1M738,0h1M741,0h1M757,0h1M769,0h1M774,0h2M797,0h1M806,0h1M816,0h1M819,0h2M866,0h3M872,0h1M884,0h1M886,0h1M890,0h1M915,0h2M929,0h2M955,0h1M971,0h2M995,0h2M1001,0h3"/>
<path stroke="#0000a6" d="M45,0h1M98,0h2M142,0h1M153,0h1M203,0h1M227,0h1M229,0h1M234,0h2M303,0h1M397,0h1M427,0h1M440,0h1M584,0h1M588,0h1M607,0h1M622,0h1M624,0h2M631,0h1M671,0h1M673,0h1M683,0h1M711,0h1M719,0h2M756,0h1M768,0h1M770,0h1M795,0h1M817,0h1M824,0h1M889,0h1M909,0h2M924,0h1M977,0h1M981,0h1M994,0h1M1000,0h1"/>
<path stroke="#0000c0" d="M44,0h1M47,0h1M49,0h1M54,0h1M118,0h1M131,0h1M143,0h1M149,0h1M160,0h1M222,0h2M226,0h1M228,0h1M230,0h1M250,0h1M285,0h1M304,0h2M307,0h2M399,0h1M401,0h3M430,0h1M432,0h2M439,0h1M444,0h1M581,0h3M595,0h1M626,0h2M645,0h2M682,0h1M739,0h2M743,0h2M777,0h2M780,0h2M792,0h1M794,0h1M796,0h1M798,0h1M804,0h1M825,0h1M869,0h2M882,0h2M885,0h1M887,0h1M925,0h1M956,0h1M975,0h2M979,0h2"/>
<path stroke="#0000d9" d="M50,0h1M52,0h2M123,0h3M145,0h1M150,0h1M286,0h1M324,0h2M398,0h1M428,0h1M442,0h2M555,0h2M559,0h1M568,0h1M574,0h1M586,0h2M594,0h1M634,0h1M647,0h1M675,0h1M722,0h1M745,0h1M758,0h2M779,0h1M782,0h3M787,0h1M790,0h2M802,0h2M805,0h1M826,0h1M871,0h1M926,0h1"/>
<path stroke="#0000f2" d="M51,0h1M119,0h3M126,0h1M128,0h1M130,0h1M144,0h1M146,0h3M287,0h1M291,0h1M309,0h2M322,0h2M326,0h1M331,0h1M404,0h1M411,0h2M429,0h1M557,0h1M560,0h4M565,0h1M567,0h1M573,0h1M648,0h1M661,0h1M664,0h1M666,0h1M677,0h1M679,0h1M746,0h2M785,0h2M788,0h1M873,0h1M879,0h3"/>
<path stroke="#000dff" d="M127,0h1M129,0h1M288,0h1M311,0h1M320,0h2M327,0h4M332,0h1M405,0h1M446,0h1M553,0h2M558,0h1M566,0h1M569,0h1M571,0h2M649,0h1M660,0h1M662,0h2M665,0h1M676,0h1M678,0h1M748,0h4M753,0h2M789,0h1M874,0h1M877,0h2"/>
<path stroke="#0026ff" d="M289,0h2M312,0h1M317,0h3M408,0h1M447,0h1M450,0h1M458,0h1M551,0h2M570,0h1M650,0h1M652,0h2M658,0h2M752,0h1M875,0h2"/>
<path stroke="#0040ff" d="M313,0h4M406,0h2M409,0h1M448,0h1M453,0h4M466,0h1M477,0h1M539,0h1M549,0h2M651,0h1M655,0h3"/>
<path stroke="#0059ff" d="M449,0h1M451,0h2M457,0h1M460,0h2M463,0h3M468,0h1M470,0h4M475,0h2M479,0h1M503,0h1M507,0h2M540,0h9M654,0h1"/>
<path stroke="#0073ff" d="M459,0h1M462,0h1M467,0h1M469,0h1M474,0h1M484,0h1M489,0h1M498,0h2M504,0h3M512,0h2M524,0h2M527,0h1M532,0h1M538,0h1"/>
<path stroke="#008cff" d="M478,0h1M480,0h1M485,0h4M493,0h1M496,0h1M502,0h1M509,0h1M511,0h1M514,0h4M520,0h4M526,0h1M528,0h2M531,0h1M533,0h2M536,0h2"/>
<path stroke="#00a6ff" d="M481,0h3M491,0h1M494,0h2M497,0h1M500,0h2M510,0h1M519,0h1M530,0h1M535,0h1"/>
<path stroke="#00bfff" d="M490,0h1M492,0h1M518,0h1"/>
<path stroke="#3838a6" d="M5,0h1M23,0h1M41,0h1M116,0h1M183,0h1M209,0h1M220,0h1M256,0h1M258,0h1M272,0h1M298,0h1M344,0h1M384,0h1M579,0h1M600,0h1M732,0h1M832,0h1M838,0h1M843,0h1M856,0h1M861,0h1M907,0h1M939,0h1M963,0h1M966,0h1M1018,0h1"/>
<path stroke="#3838ba" d="M162,0h1M211,0h1M214,0h1M246,0h1M382,0h1M423,0h1M716,0h1M736,0h1M895,0h1M934,0h1"/>
<path stroke="#3838cd" d="M102,0h1M140,0h1M218,0h1M252,0h1M334,0h1M421,0h1M435,0h1M591,0h1M669,0h1M800,0h1M836,0h1M921,0h1M932,0h1"/>
<path stroke="#3838e1" d="M105,0h1M336,0h1M808,0h1M901,0h1"/>
</g>
<g transform="translate(188.7,231.5) scale(1.33315,1)" stroke-width="29">
<path stroke="#00008d" d="M44,0h5M51,0h1M147,0h3M226,0h1M229,0h1M285,0h2M291,0h1M403,0h2M557,0h1M561,0h1M568,0h1M594,0h2M644,0h2M671,0h2M740,0h2M747,0h1M778,0h2M786,0h1M795,0h2M805,0h2M816,0h2M819,0h2M867,0h2M873,0h1M877,0h1M885,0h3M979,0h2"/>
<path stroke="#0000a6" d="M120,0h1M308,0h1M322,0h1M401,0h1M411,0h1M560,0h1M646,0h2M661,0h1M780,0h1M926,0h1"/>
<path stroke="#0000c0" d="M52,0h1M121,0h1M128,0h1M227,0h1M230,0h1M287,0h1M309,0h2M323,0h1M325,0h3M329,0h4M412,0h1M552,0h1M554,0h1M556,0h1M562,0h2M648,0h1M650,0h1M676,0h2M751,0h4M787,0h1M874,0h1M876,0h1M878,0h4M925,0h1"/>
<path stroke="#0000d9" d="M127,0h1M288,0h3M311,0h1M320,0h2M402,0h1M405,0h1M446,0h2M456,0h1M549,0h1M551,0h1M555,0h1M569,0h3M658,0h3M746,0h1M749,0h2M788,0h1M875,0h1"/>
<path stroke="#0000f2" d="M312,0h3M317,0h3M406,0h1M408,0h2M454,0h1M458,0h1M507,0h1M550,0h1M653,0h1M657,0h1M748,0h1"/>
<path stroke="#000dff" d="M315,0h2M407,0h1M448,0h3M452,0h2M457,0h1M460,0h1M463,0h1M472,0h1M475,0h1M477,0h1M540,0h2M546,0h2M651,0h2M654,0h3"/>
<path stroke="#0026ff" d="M451,0h1M455,0h1M461,0h2M464,0h1M466,0h1M468,0h1M470,0h1M473,0h2M476,0h1M478,0h1M503,0h1M509,0h1M520,0h1M537,0h3M542,0h4M548,0h1"/>
<path stroke="#0040ff" d="M459,0h1M465,0h1M467,0h1M469,0h1M471,0h1M479,0h1M486,0h1M505,0h2M508,0h1M511,0h1M513,0h4M525,0h1M527,0h1M529,0h1M536,0h1"/>
<path stroke="#0059ff" d="M481,0h2M484,0h2M487,0h2M492,0h2M496,0h1M499,0h4M504,0h1M510,0h1M512,0h1M517,0h1M519,0h1M521,0h2M524,0h1M526,0h1M528,0h1M531,0h5"/>
<path stroke="#0073ff" d="M480,0h1M483,0h1M489,0h3M494,0h2M497,0h2M518,0h1M523,0h1M530,0h1"/>
<path stroke="#3838a6" d="M14,0h1M16,0h1M23,0h1M84,0h1M102,0h1M116,0h1M145,0h1M153,0h1M183,0h1M214,0h1M218,0h1M222,0h1M234,0h1M250,0h1M256,0h1M258,0h1M336,0h1M382,0h1M384,0h1M399,0h1M427,0h1M439,0h1M444,0h1M581,0h1M584,0h1M587,0h1M600,0h1M635,0h1M669,0h1M682,0h1M718,0h1M722,0h1M758,0h1M768,0h1M770,0h1M800,0h1M824,0h1M883,0h1M890,0h1M907,0h1M916,0h1M921,0h1M932,0h1M994,0h1M1000,0h1M1018,0h1"/>
<path stroke="#3838ba" d="M432,0h1"/>
<path stroke="#3838cd" d="M105,0h1M123,0h1M566,0h1M623,0h1M679,0h1M790,0h1M792,0h1"/>
<path stroke="#3838e1" d="M663,0h1M665,0h1"/>
</g>
<g transform="translate(188.7,197.5) scale(1.33315,1)" stroke-width="39">
<path stroke="#00008d" d="M405,0h2M409,0h1M452,0h1M469,0h1M482,0h1M490,0h1M507,0h1M539,0h2M550,0h3M568,0h2M671,0h2M751,0h3M979,0h2"/>
<path stroke="#0000c0" d="M407,0h2M454,0h2M457,0h2M460,0h1M463,0h1M466,0h1M470,0h1M476,0h2M541,0h1M544,0h1M546,0h1"/>
<path stroke="#0000d9" d="M450,0h2M453,0h1M467,0h2M479,0h1M505,0h2M508,0h2M524,0h1M527,0h1M537,0h2M543,0h1M545,0h1"/>
<path stroke="#0000f2" d="M461,0h2M464,0h1M478,0h1M499,0h2M503,0h2M511,0h4M516,0h1M520,0h3M525,0h1M528,0h1M532,0h1"/>
<path stroke="#000dff" d="M459,0h1M480,0h2M484,0h1M486,0h1M489,0h1M496,0h1M501,0h2M510,0h1M515,0h1M517,0h3M523,0h1M526,0h1M529,0h1M531,0h1M534,0h1M536,0h1"/>
<path stroke="#0026ff" d="M483,0h1M485,0h1M487,0h2M491,0h3M495,0h1M497,0h2M530,0h1M533,0h1M535,0h1"/>
<path stroke="#0040ff" d="M494,0h1"/>
<path stroke="#3838a6" d="M47,0h1M105,0h1M120,0h1M256,0h1M291,0h1M321,0h1M325,0h1M401,0h1M403,0h1M412,0h1M444,0h1M446,0h1M600,0h1M669,0h1M722,0h1M740,0h1M746,0h1M778,0h1M780,0h1M805,0h1M824,0h1M868,0h1M883,0h1M887,0h1M890,0h1M921,0h1M932,0h1"/>
<path stroke="#3838cd" d="M316,0h1M448,0h1"/>
<path stroke="#3838e1" d="M314,0h1M474,0h1M548,0h1"/>
</g>
<g transform="translate(188.7,158.5) scale(1.33315,1)" stroke-width="39">
<path stroke="#00008d" d="M479,0h1M482,0h1M484,0h1M488,0h3M500,0h1M502,0h1M513,0h2M516,0h2M529,0h1M531,0h1M534,0h1M537,0h2"/>
<path stroke="#0000a6" d="M486,0h1M515,0h1"/>
<path stroke="#0000c0" d="M480,0h2M485,0h1M487,0h1M494,0h1M496,0h1M533,0h1"/>
<path stroke="#0000d9" d="M483,0h1M491,0h3M495,0h1M530,0h1"/>
<path stroke="#0000f2" d="M501,0h1"/>
<path stroke="#3838a6" d="M105,0h1M256,0h1M401,0h1M405,0h1M407,0h1M409,0h1M446,0h1M453,0h1M457,0h1M463,0h1M467,0h1M510,0h1M523,0h1M526,0h1M540,0h1M546,0h1M569,0h1M600,0h1M671,0h1M722,0h1M740,0h1M805,0h1"/>
</g>
<g transform="translate(188.7,129.5) scale(1.33315,1)" stroke-width="19">
<path stroke="#00008d" d="M481,0h2M485,0h2M494,0h2"/>
<path stroke="#3838a6" d="M457,0h1M479,0h1M490,0h1M492,0h1M515,0h1M517,0h1M531,0h1M534,0h1"/>
</g>
</g>
<g clip-path="url(#clipb)" shape-rendering="crispEdges" fill="none">
<g transform="translate(188.7,850.5) scale(1.33315,1)" stroke-width="5">
<path stroke="#00008d" d="M1,0h1M3,0h2M6,0h6M16,0h3M22,0h6M29,0h1M31,0h3M35,0h1M37,0h1M39,0h3M43,0h4M48,0h2M51,0h2M57,0h2M60,0h3M64,0h3M68,0h4M74,0h1M76,0h1M80,0h5M88,0h2M92,0h2M95,0h1M97,0h1M100,0h1M102,0h4M108,0h4M113,0h3M117,0h4M126,0h5M134,0h4M139,0h3M149,0h4M155,0h2M158,0h3M163,0h2M166,0h21M190,0h3M194,0h1M196,0h2M199,0h3M203,0h1M205,0h1M208,0h1M210,0h1M213,0h3M220,0h8M229,0h2M232,0h4M247,0h3M252,0h5M258,0h3M263,0h3M269,0h4M274,0h3M278,0h2M284,0h1M286,0h2M292,0h4M297,0h9M307,0h1M310,0h2M318,0h1M322,0h3M326,0h2M331,0h1M334,0h1M336,0h1M339,0h4M344,0h1M347,0h2M350,0h3M358,0h3M362,0h2M365,0h4M371,0h3M375,0h7M384,0h10M397,0h2M402,0h1M404,0h1M408,0h1M412,0h2M418,0h6M425,0h2M428,0h1M430,0h2M435,0h1M441,0h2M444,0h1M446,0h2M449,0h2M452,0h4M459,0h1M461,0h4M469,0h1M471,0h1M473,0h1M476,0h4M482,0h1M484,0h2M489,0h1M496,0h1M499,0h1M507,0h2M512,0h2M515,0h3M521,0h1M523,0h1M534,0h1M538,0h2M548,0h1M550,0h3M563,0h2M568,0h1M577,0h1M580,0h3M586,0h1M588,0h2M591,0h1M593,0h4M598,0h3M603,0h1M605,0h1M607,0h2M610,0h3M615,0h2M618,0h6M625,0h2M631,0h2M636,0h2M640,0h5M646,0h2M649,0h1M653,0h1M656,0h2M659,0h1M661,0h2M666,0h1M668,0h1M670,0h3M675,0h1M680,0h1M682,0h4M687,0h1M689,0h7M698,0h2M701,0h3M705,0h2M709,0h3M717,0h1M719,0h1M722,0h3M726,0h5M733,0h1M735,0h3M741,0h4M751,0h3M759,0h2M765,0h1M767,0h1M770,0h5M776,0h1M778,0h1M780,0h2M784,0h1M786,0h2M794,0h1M796,0h4M804,0h1M806,0h1M809,0h1M811,0h4M816,0h9M828,0h6M836,0h3M841,0h7M849,0h2M856,0h5M864,0h4M872,0h2M879,0h4M884,0h1M886,0h1M888,0h2M891,0h4M900,0h1M902,0h1M904,0h4M909,0h3M913,0h2M920,0h5M928,0h1M932,0h2M937,0h2M942,0h1M944,0h3M951,0h8M960,0h5M966,0h4M971,0h4M976,0h3M980,0h1M983,0h2M987,0h3M991,0h2M1001,0h3M1005,0h2M1012,0h1M1014,0h3M1018,0h2M1029,0h9M1039,0h3M1047,0h4M1053,0h11M1065,0h3M1069,0h5M1077,0h3"/>
<path stroke="#0000a6" d="M2,0h1M28,0h1M73,0h1M96,0h1M112,0h1M124,0h2M138,0h1M145,0h1M161,0h1M204,0h1M268,0h1M273,0h1M283,0h1M296,0h1M316,0h1M329,0h1M332,0h2M338,0h1M345,0h1M361,0h1M401,0h1M433,0h1M456,0h1M458,0h1M470,0h1M474,0h2M497,0h1M501,0h1M510,0h2M520,0h1M525,0h1M542,0h1M566,0h1M569,0h1M601,0h1M614,0h1M624,0h1M627,0h1M638,0h1M660,0h1M681,0h1M686,0h1M713,0h1M718,0h1M732,0h1M738,0h1M740,0h1M748,0h1M755,0h1M758,0h1M766,0h1M768,0h1M790,0h1M795,0h1M802,0h1M825,0h1M895,0h1M927,0h1M931,0h1M1009,0h1M1052,0h1"/>
<path stroke="#0000c0" d="M5,0h1M42,0h1M67,0h1M77,0h1M131,0h1M206,0h1M228,0h1M250,0h1M277,0h1M328,0h1M330,0h1M337,0h1M383,0h1M409,0h1M445,0h1M451,0h1M460,0h1M468,0h1M486,0h1M506,0h1M541,0h1M544,0h1M549,0h1M561,0h1M565,0h1M571,0h1M597,0h1M604,0h1M630,0h1M645,0h1M648,0h1M665,0h1M673,0h2M678,0h1M716,0h1M725,0h1M739,0h1M775,0h1M800,0h2M807,0h1M839,0h1M901,0h1M925,0h1M981,0h1M1007,0h1M1068,0h1"/>
<path stroke="#0000d9" d="M79,0h1M98,0h2M133,0h1M209,0h1M289,0h1M320,0h1M364,0h1M399,0h1M407,0h1M411,0h1M436,0h1M465,0h1M472,0h1M483,0h1M498,0h1M522,0h1M528,0h1M547,0h1M560,0h1M572,0h3M590,0h1M714,0h1M746,0h2M777,0h1M805,0h1M874,0h1M970,0h1M1008,0h1"/>
<path stroke="#0000f2" d="M36,0h1M106,0h1M121,0h1M193,0h1M285,0h1M290,0h1M414,0h2M432,0h1M467,0h1M490,0h2M493,0h1M503,0h1M514,0h1M524,0h1M530,0h1M532,0h1M540,0h1M559,0h1M578,0h1M585,0h1M609,0h1M750,0h1M769,0h1M785,0h1M876,0h1M943,0h1M1004,0h1M1010,0h2"/>
<path stroke="#000dff" d="M144,0h1M147,0h1M288,0h1M400,0h1M403,0h1M417,0h1M429,0h1M488,0h1M494,0h2M504,0h1M529,0h1M531,0h1M535,0h1M537,0h1M567,0h1M679,0h1M731,0h1M756,0h1M808,0h1M929,0h1M965,0h1"/>
<path stroke="#0026ff" d="M148,0h1M219,0h1M317,0h1M481,0h1M487,0h1M500,0h1M518,0h2M527,0h1M533,0h1M570,0h1M779,0h1M877,0h1M885,0h1M975,0h1"/>
<path stroke="#0040ff" d="M306,0h1M325,0h1M480,0h1M492,0h1M502,0h1M509,0h1M536,0h1M546,0h1M628,0h1M791,0h1M878,0h1M883,0h1M985,0h1"/>
<path stroke="#0059ff" d="M122,0h1M319,0h1M667,0h1M669,0h1"/>
<path stroke="#0073ff" d="M505,0h1M526,0h1M545,0h1M654,0h1M827,0h1"/>
<path stroke="#008cff" d="M315,0h1"/>
<path stroke="#1f1f9a" d="M13,0h1M20,0h1M86,0h1M188,0h1M237,0h1M239,0h1M241,0h1M243,0h1M245,0h1M281,0h1M354,0h1M395,0h1M438,0h1M554,0h1M634,0h1M651,0h1M854,0h1M862,0h1M869,0h1M897,0h1M916,0h1M918,0h1M935,0h1M949,0h1M994,0h1M996,0h1M1021,0h1M1026,0h1M1043,0h1M1075,0h1"/>
<path stroke="#1f1fb1" d="M54,0h1M557,0h1"/>
<path stroke="#1f1fc7" d="M762,0h1"/>
<path stroke="#1f40ff" d="M999,0h1"/>
</g>
<g transform="translate(188.7,845.5) scale(1.33315,1)" stroke-width="5">
<path stroke="#0026ff" d="M1032,0h1M1041,0h1"/>
<path stroke="#0040ff" d="M989,0h1M1030,0h1M1040,0h1M1044,0h1M1048,0h1M1050,0h1"/>
<path stroke="#0059ff" d="M116,0h1M227,0h1M688,0h1M693,0h2M990,0h1M1026,0h1M1034,0h1M1036,0h1M1046,0h1M1055,0h2M1058,0h1M1062,0h1"/>
<path stroke="#0073ff" d="M17,0h1M111,0h1M114,0h1M117,0h1M170,0h2M179,0h1M183,0h1M218,0h1M222,0h1M242,0h1M691,0h1M699,0h1M701,0h1M849,0h1M948,0h1M952,0h1M957,0h1M988,0h1M991,0h1M1024,0h1M1029,0h1M1031,0h1M1033,0h1M1043,0h1M1045,0h1M1053,0h1M1057,0h1M1060,0h2M1063,0h1"/>
<path stroke="#008cff" d="M9,0h1M23,0h2M42,0h1M65,0h1M67,0h2M70,0h1M80,0h2M86,0h1M110,0h1M115,0h1M118,0h1M138,0h1M159,0h1M167,0h1M173,0h1M175,0h1M184,0h2M229,0h2M233,0h1M236,0h1M244,0h2M258,0h1M267,0h1M270,0h1M274,0h1M374,0h1M388,0h1M391,0h1M446,0h1M690,0h1M692,0h1M696,0h1M707,0h1M709,0h2M820,0h1M847,0h1M950,0h1M1025,0h1M1035,0h1M1037,0h1M1039,0h1M1052,0h1M1054,0h1M1059,0h1M1067,0h1"/>
<path stroke="#00a6ff" d="M3,0h1M12,0h1M15,0h1M43,0h1M45,0h1M58,0h1M60,0h1M82,0h1M85,0h1M108,0h1M113,0h1M158,0h1M161,0h1M165,0h1M172,0h1M174,0h1M177,0h2M181,0h1M187,0h1M189,0h2M197,0h1M212,0h1M215,0h1M221,0h1M223,0h4M231,0h1M239,0h1M241,0h1M246,0h1M262,0h1M272,0h2M343,0h2M365,0h1M368,0h2M372,0h2M378,0h2M386,0h1M395,0h1M419,0h2M426,0h1M618,0h1M635,0h1M644,0h1M703,0h2M706,0h1M822,0h1M832,0h1M854,0h1M868,0h1M924,0h1M942,0h1M947,0h1M949,0h1M951,0h1M954,0h2M992,0h1M1018,0h2M1047,0h1M1049,0h1M1064,0h1M1066,0h1"/>
<path stroke="#00bfff" d="M5,0h1M13,0h2M18,0h2M21,0h2M30,0h2M38,0h1M41,0h1M56,0h1M63,0h1M66,0h1M69,0h1M72,0h3M84,0h1M87,0h2M109,0h1M112,0h1M136,0h1M141,0h1M157,0h1M166,0h1M168,0h2M180,0h1M182,0h1M186,0h1M195,0h1M198,0h1M213,0h2M216,0h2M219,0h1M232,0h1M234,0h2M237,0h2M243,0h1M247,0h1M253,0h1M256,0h1M266,0h1M271,0h1M278,0h1M342,0h1M349,0h1M360,0h1M362,0h3M370,0h2M376,0h1M380,0h3M384,0h2M387,0h1M390,0h1M393,0h1M421,0h1M610,0h1M615,0h1M689,0h1M695,0h1M698,0h1M700,0h1M702,0h1M705,0h1M708,0h1M727,0h1M729,0h1M776,0h1M812,0h1M815,0h2M821,0h1M823,0h1M831,0h1M833,0h2M850,0h3M867,0h1M915,0h2M920,0h1M941,0h1M945,0h2M959,0h1M961,0h1M983,0h1M985,0h3M1005,0h2M1017,0h1M1065,0h1M1079,0h1"/>
<path stroke="#00d9ff" d="M0,0h2M6,0h3M11,0h1M16,0h1M25,0h1M27,0h1M36,0h1M39,0h1M46,0h1M59,0h1M61,0h2M71,0h1M75,0h1M78,0h1M83,0h1M89,0h1M92,0h2M137,0h1M142,0h1M144,0h1M156,0h1M160,0h1M162,0h1M176,0h1M188,0h1M191,0h1M193,0h2M196,0h1M200,0h1M202,0h1M204,0h1M210,0h2M220,0h1M228,0h1M240,0h1M249,0h1M259,0h1M261,0h1M264,0h2M268,0h1M275,0h1M277,0h1M285,0h3M305,0h1M328,0h1M347,0h1M353,0h1M366,0h1M383,0h1M389,0h1M396,0h1M401,0h1M405,0h1M418,0h1M427,0h1M440,0h1M447,0h1M461,0h1M553,0h1M580,0h1M583,0h1M599,0h1M602,0h1M606,0h1M608,0h1M613,0h2M619,0h2M622,0h2M633,0h1M637,0h1M642,0h2M712,0h1M716,0h1M725,0h2M737,0h1M741,0h1M762,0h1M771,0h1M813,0h1M817,0h3M824,0h1M830,0h1M845,0h1M848,0h1M853,0h1M858,0h1M902,0h1M904,0h1M906,0h1M908,0h2M913,0h2M918,0h1M923,0h1M939,0h1M943,0h1M956,0h1M958,0h1M963,0h1M966,0h1M971,0h1M995,0h1M997,0h1M1003,0h1M1014,0h2M1068,0h1M1072,0h1M1078,0h1"/>
<path stroke="#00f2ff" d="M2,0h1M20,0h1M29,0h1M34,0h2M37,0h1M40,0h1M44,0h1M57,0h1M64,0h1M79,0h1M90,0h1M99,0h1M119,0h1M135,0h1M140,0h1M143,0h1M151,0h1M155,0h1M163,0h1M205,0h2M208,0h1M248,0h1M251,0h1M254,0h2M257,0h1M260,0h1M263,0h1M269,0h1M281,0h2M284,0h1M303,0h2M306,0h1M329,0h1M339,0h1M341,0h1M348,0h1M352,0h1M354,0h1M358,0h1M361,0h1M367,0h1M375,0h1M392,0h1M394,0h1M397,0h2M403,0h1M406,0h1M408,0h2M413,0h1M423,0h1M425,0h1M428,0h1M430,0h3M441,0h1M444,0h1M454,0h2M460,0h1M483,0h1M508,0h1M561,0h1M579,0h1M581,0h2M593,0h1M605,0h1M607,0h1M611,0h1M616,0h2M626,0h1M629,0h1M634,0h1M636,0h1M641,0h1M646,0h1M648,0h2M675,0h1M685,0h3M697,0h1M714,0h1M736,0h1M746,0h1M760,0h1M765,0h1M767,0h1M814,0h1M829,0h1M844,0h1M846,0h1M855,0h1M857,0h1M859,0h1M866,0h1M869,0h1M891,0h2M898,0h1M903,0h1M905,0h1M917,0h1M922,0h1M925,0h1M933,0h1M944,0h1M953,0h1M960,0h1M972,0h3M977,0h1M982,0h1M993,0h1M998,0h2M1002,0h1M1010,0h1M1016,0h1M1069,0h1M1071,0h1M1077,0h1"/>
<path stroke="#00fff2" d="M4,0h1M10,0h1M26,0h1M32,0h2M76,0h2M91,0h1M95,0h3M100,0h1M139,0h1M146,0h1M152,0h3M199,0h1M201,0h1M203,0h1M207,0h1M209,0h1M252,0h1M276,0h1M279,0h2M293,0h1M295,0h2M299,0h1M301,0h2M309,0h1M311,0h1M331,0h1M337,0h2M345,0h2M351,0h1M355,0h2M377,0h1M410,0h1M416,0h2M422,0h1M433,0h2M445,0h1M449,0h2M453,0h1M464,0h1M507,0h1M575,0h1M591,0h1M595,0h3M601,0h1M604,0h1M612,0h1M631,0h1M638,0h2M647,0h1M677,0h1M711,0h1M715,0h1M734,0h2M738,0h1M774,0h2M781,0h1M785,0h1M794,0h1M811,0h1M835,0h1M841,0h1M843,0h1M856,0h1M860,0h1M872,0h1M880,0h1M882,0h1M887,0h1M896,0h1M899,0h3M907,0h1M912,0h1M919,0h1M921,0h1M927,0h2M930,0h1M934,0h1M936,0h1M938,0h1M940,0h1M968,0h3M976,0h1M978,0h1M984,0h1M996,0h1M1000,0h2M1004,0h1M1009,0h1M1070,0h1M1073,0h1M1076,0h1"/>
<path stroke="#00ffd7" d="M28,0h1M47,0h2M50,0h3M54,0h2M101,0h1M106,0h2M120,0h1M132,0h1M147,0h1M164,0h1M250,0h1M283,0h1M288,0h1M291,0h1M298,0h1M300,0h1M307,0h2M310,0h1M313,0h1M317,0h2M320,0h1M327,0h1M340,0h1M357,0h1M359,0h1M400,0h1M402,0h1M407,0h1M414,0h1M424,0h1M438,0h2M442,0h2M448,0h1M457,0h2M462,0h1M466,0h1M496,0h1M513,0h1M554,0h1M559,0h1M568,0h1M577,0h2M587,0h1M589,0h2M594,0h1M603,0h1M624,0h1M628,0h1M630,0h1M632,0h1M640,0h1M645,0h1M676,0h1M679,0h1M723,0h1M728,0h1M730,0h4M740,0h1M742,0h2M745,0h1M753,0h1M761,0h1M764,0h1M766,0h1M768,0h2M777,0h1M780,0h1M784,0h1M787,0h1M793,0h1M795,0h2M798,0h4M803,0h1M836,0h4M842,0h1M862,0h1M864,0h2M883,0h1M895,0h1M897,0h1M910,0h2M926,0h1M931,0h2M935,0h1M962,0h1M967,0h1M975,0h1M981,0h1M994,0h1M1007,0h2M1011,0h1M1013,0h1M1074,0h2"/>
<path stroke="#00ffbb" d="M53,0h1M94,0h1M124,0h1M128,0h2M134,0h1M149,0h2M192,0h1M294,0h1M321,0h1M330,0h1M332,0h1M350,0h1M411,0h2M429,0h1M435,0h2M451,0h2M463,0h1M465,0h1M468,0h1M480,0h1M486,0h1M488,0h1M495,0h1M497,0h1M500,0h1M516,0h1M521,0h1M525,0h1M527,0h2M532,0h1M537,0h1M555,0h1M558,0h1M560,0h1M562,0h1M567,0h1M569,0h1M571,0h1M574,0h1M576,0h1M585,0h1M588,0h1M592,0h1M598,0h1M600,0h1M609,0h1M621,0h1M627,0h1M650,0h1M653,0h1M659,0h1M661,0h1M670,0h2M673,0h2M682,0h1M717,0h2M721,0h1M744,0h1M747,0h1M750,0h1M752,0h1M758,0h1M773,0h1M779,0h1M782,0h2M786,0h1M804,0h1M807,0h2M810,0h1M825,0h3M840,0h1M871,0h1M881,0h1M886,0h1M890,0h1M893,0h1M929,0h1M937,0h1M979,0h1"/>
<path stroke="#00ff9c" d="M49,0h1M98,0h1M104,0h2M121,0h1M125,0h2M148,0h1M297,0h1M312,0h1M315,0h1M324,0h3M334,0h1M399,0h1M404,0h1M437,0h1M456,0h1M469,0h1M471,0h1M475,0h1M477,0h1M479,0h1M481,0h1M484,0h1M487,0h1M491,0h1M493,0h1M498,0h1M501,0h1M503,0h1M509,0h1M514,0h2M517,0h1M523,0h1M526,0h1M529,0h1M533,0h2M536,0h1M538,0h2M543,0h2M546,0h1M548,0h2M552,0h1M563,0h1M565,0h1M570,0h1M573,0h1M584,0h1M586,0h1M651,0h2M655,0h2M658,0h1M660,0h1M662,0h1M664,0h1M668,0h2M672,0h1M680,0h1M683,0h1M713,0h1M722,0h1M739,0h1M749,0h1M751,0h1M759,0h1M763,0h1M778,0h1M788,0h2M791,0h2M805,0h2M809,0h1M828,0h1M861,0h1M863,0h1M870,0h1M873,0h2M876,0h2M884,0h1M888,0h2M894,0h1M964,0h2M1012,0h1"/>
<path stroke="#00fc7b" d="M102,0h2M123,0h1M131,0h1M133,0h1M145,0h1M289,0h1M292,0h1M314,0h1M319,0h1M322,0h2M333,0h1M335,0h2M415,0h1M459,0h1M470,0h1M472,0h3M478,0h1M482,0h1M492,0h1M499,0h1M506,0h1M511,0h2M518,0h3M530,0h1M535,0h1M540,0h1M542,0h1M547,0h1M550,0h1M556,0h2M564,0h1M625,0h1M657,0h1M665,0h1M681,0h1M684,0h1M719,0h2M724,0h1M748,0h1M755,0h3M770,0h1M772,0h1M790,0h1M797,0h1M802,0h1M879,0h1"/>
<path stroke="#5fff55" d="M122,0h1M127,0h1M290,0h1M467,0h1M476,0h1M489,0h2M494,0h1M502,0h1M504,0h2M510,0h1M522,0h1M531,0h1M545,0h1M551,0h1M566,0h1M572,0h1M654,0h1M663,0h1M666,0h2M754,0h1M875,0h1M878,0h1M885,0h1M980,0h1"/>
<path stroke="#7aff3e" d="M130,0h1M485,0h1M524,0h1M541,0h1M678,0h1"/>
<path stroke="#cdff00" d="M316,0h1"/>
<path stroke="#1f9aff" d="M1021,0h1"/>
</g>
<g transform="translate(188.7,840.5) scale(1.33315,1)" stroke-width="5">
<path stroke="#00d9ff" d="M1040,0h1"/>
<path stroke="#00f2ff" d="M1024,0h1M1026,0h1M1031,0h2M1036,0h1M1039,0h1M1041,0h1M1043,0h1M1048,0h1M1062,0h1"/>
<path stroke="#00fff2" d="M83,0h1M115,0h1M172,0h1M224,0h1M698,0h1M702,0h1M948,0h1M1018,0h1M1029,0h2M1033,0h3M1044,0h1M1046,0h2M1050,0h1M1053,0h2M1057,0h5M1063,0h1"/>
<path stroke="#00ffd7" d="M110,0h2M114,0h1M168,0h1M170,0h2M180,0h1M185,0h1M217,0h1M222,0h1M225,0h3M229,0h1M241,0h1M368,0h1M373,0h1M386,0h1M689,0h1M693,0h2M699,0h1M701,0h1M706,0h1M820,0h1M849,0h1M851,0h2M945,0h1M950,0h2M957,0h1M988,0h2M1025,0h1M1049,0h1M1052,0h1M1056,0h1M1064,0h1"/>
<path stroke="#00ffbb" d="M11,0h1M15,0h3M44,0h1M65,0h1M79,0h3M84,0h1M112,0h2M116,0h1M138,0h1M167,0h1M173,0h2M176,0h3M181,0h3M186,0h2M215,0h2M219,0h1M223,0h1M228,0h1M230,0h2M234,0h1M239,0h1M244,0h2M247,0h1M266,0h1M271,0h1M273,0h2M367,0h1M369,0h3M375,0h1M385,0h1M393,0h1M688,0h1M690,0h3M695,0h2M700,0h1M703,0h2M709,0h1M819,0h1M821,0h1M850,0h1M853,0h1M947,0h1M949,0h1M952,0h1M954,0h1M987,0h1M990,0h2M1037,0h1M1045,0h1M1055,0h1M1065,0h1M1067,0h1"/>
<path stroke="#00ff9c" d="M3,0h1M7,0h4M12,0h2M18,0h1M24,0h2M40,0h2M58,0h1M61,0h1M64,0h1M66,0h2M70,0h2M82,0h1M85,0h2M88,0h1M93,0h1M108,0h1M158,0h1M160,0h2M166,0h1M169,0h1M179,0h1M184,0h1M189,0h2M195,0h1M199,0h1M213,0h1M218,0h1M220,0h1M236,0h2M240,0h1M242,0h2M246,0h1M258,0h1M260,0h1M262,0h2M268,0h3M272,0h1M275,0h1M366,0h1M372,0h1M374,0h1M376,0h9M388,0h3M420,0h1M426,0h1M582,0h1M606,0h1M616,0h3M705,0h1M707,0h1M712,0h1M815,0h1M822,0h1M832,0h1M854,0h1M942,0h2M953,0h1M955,0h2M958,0h1M986,0h1M1017,0h1M1019,0h1M1066,0h1"/>
<path stroke="#00fc7b" d="M5,0h1M14,0h1M19,0h5M32,0h1M35,0h1M42,0h2M46,0h1M60,0h1M63,0h1M68,0h2M72,0h3M77,0h1M87,0h1M89,0h1M109,0h1M117,0h2M137,0h1M142,0h1M156,0h1M159,0h1M175,0h1M194,0h1M200,0h1M202,0h1M210,0h2M214,0h1M221,0h1M233,0h1M235,0h1M238,0h1M248,0h3M253,0h1M256,0h1M265,0h1M267,0h1M277,0h1M303,0h1M342,0h1M344,0h1M349,0h1M354,0h1M356,0h1M359,0h1M362,0h1M364,0h2M391,0h1M394,0h2M405,0h1M417,0h1M419,0h1M421,0h1M432,0h1M581,0h1M601,0h2M604,0h1M610,0h2M614,0h1M619,0h1M635,0h3M642,0h1M644,0h1M686,0h2M708,0h1M710,0h2M726,0h1M734,0h1M813,0h1M816,0h1M818,0h1M823,0h1M831,0h1M833,0h2M844,0h1M847,0h1M866,0h2M902,0h1M904,0h1M916,0h1M920,0h1M939,0h1M941,0h1M944,0h1M968,0h1M971,0h1M984,0h2M992,0h1M1001,0h1M1004,0h2M1015,0h2M1068,0h4M1077,0h3"/>
<path stroke="#5fff55" d="M0,0h2M4,0h1M6,0h1M30,0h2M34,0h1M36,0h4M59,0h1M62,0h1M75,0h1M78,0h1M90,0h1M96,0h1M136,0h1M140,0h2M154,0h2M157,0h1M162,0h1M188,0h1M191,0h1M197,0h2M203,0h3M207,0h1M212,0h1M232,0h1M251,0h1M254,0h2M257,0h1M259,0h1M261,0h1M264,0h1M276,0h1M278,0h2M281,0h1M285,0h1M287,0h1M347,0h1M352,0h2M355,0h1M363,0h1M387,0h1M392,0h1M403,0h1M423,0h1M425,0h1M433,0h1M440,0h1M446,0h1M579,0h2M589,0h1M603,0h1M607,0h2M612,0h2M615,0h1M620,0h1M633,0h2M643,0h1M685,0h1M697,0h1M714,0h1M716,0h1M727,0h1M737,0h1M741,0h2M812,0h1M814,0h1M845,0h2M848,0h1M858,0h1M899,0h1M903,0h1M905,0h2M908,0h1M913,0h1M915,0h1M917,0h3M923,0h2M933,0h1M938,0h1M946,0h1M959,0h3M970,0h1M972,0h2M977,0h1M983,0h1M993,0h1M998,0h1M1000,0h1M1003,0h1M1006,0h1M1014,0h1M1072,0h1"/>
<path stroke="#7aff3e" d="M2,0h1M26,0h4M45,0h1M47,0h1M91,0h2M97,0h1M99,0h1M135,0h1M139,0h1M143,0h2M151,0h1M163,0h3M192,0h2M196,0h1M201,0h1M206,0h1M208,0h2M252,0h1M280,0h1M282,0h1M284,0h1M286,0h1M295,0h1M298,0h1M305,0h1M307,0h2M337,0h3M341,0h1M343,0h1M345,0h1M348,0h1M358,0h1M360,0h2M396,0h3M402,0h1M406,0h1M409,0h1M413,0h1M416,0h1M418,0h1M422,0h1M424,0h1M427,0h1M444,0h1M447,0h1M578,0h1M590,0h1M592,0h1M594,0h2M605,0h1M609,0h1M624,0h1M626,0h1M632,0h1M641,0h1M646,0h1M675,0h1M713,0h1M715,0h1M717,0h1M725,0h1M728,0h3M736,0h1M761,0h1M764,0h1M774,0h3M781,0h1M801,0h1M817,0h1M824,0h1M829,0h2M835,0h2M838,0h1M841,0h1M843,0h1M856,0h2M859,0h2M864,0h2M868,0h2M871,0h1M892,0h3M898,0h1M900,0h2M914,0h1M921,0h1M925,0h1M940,0h1M962,0h2M969,0h1M976,0h1M994,0h1M997,0h1M999,0h1M1002,0h1M1008,0h1M1075,0h2"/>
<path stroke="#a5ff16" d="M33,0h1M56,0h2M94,0h2M100,0h1M103,0h1M106,0h1M119,0h1M147,0h1M153,0h1M283,0h1M293,0h1M296,0h1M299,0h1M301,0h2M304,0h1M306,0h1M309,0h1M327,0h3M340,0h1M346,0h1M350,0h1M357,0h1M401,0h1M407,0h1M428,0h4M434,0h1M436,0h1M438,0h2M441,0h2M458,0h1M568,0h1M577,0h1M583,0h1M587,0h1M593,0h1M596,0h1M599,0h1M621,0h3M625,0h1M630,0h2M638,0h3M645,0h1M674,0h1M676,0h1M684,0h1M721,0h1M723,0h2M731,0h3M740,0h1M743,0h3M760,0h1M762,0h1M765,0h2M769,0h1M771,0h1M787,0h1M794,0h1M799,0h1M825,0h1M855,0h1M862,0h1M870,0h1M883,0h1M891,0h1M895,0h2M907,0h1M909,0h1M926,0h2M929,0h4M934,0h4M964,0h1M966,0h1M974,0h1M981,0h2M995,0h1M1007,0h1M1009,0h2M1013,0h1M1073,0h1"/>
<path stroke="#cdff00" d="M48,0h1M53,0h1M76,0h1M98,0h1M101,0h1M120,0h1M125,0h2M132,0h1M134,0h1M149,0h1M152,0h1M294,0h1M297,0h1M300,0h1M310,0h1M331,0h1M351,0h1M399,0h1M408,0h1M410,0h3M437,0h1M443,0h1M445,0h1M448,0h3M454,0h1M460,0h3M466,0h1M559,0h1M561,0h1M571,0h1M575,0h2M588,0h1M591,0h1M597,0h1M600,0h1M627,0h1M629,0h1M647,0h3M673,0h1M683,0h1M718,0h1M735,0h1M738,0h1M746,0h1M763,0h1M767,0h1M770,0h1M772,0h2M777,0h2M780,0h1M784,0h1M793,0h1M798,0h1M800,0h1M803,0h1M808,0h2M811,0h1M826,0h1M828,0h1M837,0h1M840,0h1M842,0h1M861,0h1M882,0h1M886,0h1M889,0h2M897,0h1M910,0h1M922,0h1M928,0h1M967,0h1M975,0h1M978,0h1M996,0h1M1012,0h1M1074,0h1"/>
<path stroke="#efff00" d="M49,0h4M54,0h2M107,0h1M121,0h1M124,0h1M127,0h2M133,0h1M145,0h2M150,0h1M288,0h1M311,0h2M325,0h1M330,0h1M332,0h1M336,0h1M414,0h2M435,0h1M452,0h2M455,0h1M457,0h1M463,0h1M468,0h1M477,0h1M507,0h1M552,0h3M560,0h1M566,0h2M573,0h1M584,0h1M586,0h1M598,0h1M628,0h1M650,0h2M653,0h1M661,0h2M677,0h1M679,0h1M682,0h1M719,0h2M739,0h1M747,0h1M753,0h1M759,0h1M768,0h1M782,0h2M786,0h1M788,0h1M791,0h1M795,0h1M797,0h1M802,0h1M804,0h3M827,0h1M839,0h1M863,0h1M872,0h2M879,0h2M884,0h1M887,0h2M911,0h2M979,0h2M1011,0h1"/>
<path stroke="#fff200" d="M102,0h1M104,0h2M130,0h2M148,0h1M291,0h2M318,0h4M323,0h2M326,0h1M335,0h1M400,0h1M404,0h1M451,0h1M456,0h1M459,0h1M464,0h1M467,0h1M469,0h1M473,0h1M476,0h1M478,0h2M486,0h1M491,0h1M496,0h1M508,0h1M514,0h1M527,0h2M536,0h1M543,0h1M546,0h1M555,0h1M557,0h2M562,0h1M569,0h2M572,0h1M585,0h1M652,0h1M654,0h2M658,0h2M666,0h7M722,0h1M748,0h3M752,0h1M755,0h1M757,0h2M779,0h1M785,0h1M790,0h1M792,0h1M796,0h1M807,0h1M810,0h1M874,0h1M881,0h1M885,0h1M965,0h1"/>
<path stroke="#ffd800" d="M122,0h1M129,0h1M290,0h1M315,0h1M317,0h1M322,0h1M333,0h2M465,0h1M470,0h3M475,0h1M480,0h4M488,0h1M492,0h4M497,0h2M502,0h2M505,0h1M511,0h1M513,0h1M516,0h1M525,0h1M529,0h1M532,0h1M534,0h1M538,0h3M542,0h1M544,0h1M549,0h1M551,0h1M556,0h1M563,0h3M574,0h1M656,0h1M660,0h1M663,0h3M680,0h2M751,0h1M754,0h1M756,0h1M789,0h1M875,0h1M878,0h1"/>
<path stroke="#ffbf00" d="M123,0h1M289,0h1M313,0h2M484,0h2M487,0h1M489,0h2M499,0h3M504,0h1M509,0h1M512,0h1M517,0h1M520,0h5M531,0h1M533,0h1M537,0h1M541,0h1M545,0h1M547,0h1M550,0h1M657,0h1M678,0h1M876,0h2"/>
<path stroke="#ffa500" d="M316,0h1M474,0h1M506,0h1M510,0h1M515,0h1M519,0h1M526,0h1M530,0h1M548,0h1"/>
<path stroke="#ff8c00" d="M518,0h1M535,0h1"/>
<path stroke="#1fffdc" d="M1021,0h1"/>
</g>
<g transform="translate(188.7,835.5) scale(1.33315,1)" stroke-width="5">
<path stroke="#00ffd7" d="M1024,0h1M1039,0h2M1043,0h1M1053,0h1"/>
<path stroke="#00ffbb" d="M1026,0h1M1030,0h5M1037,0h1M1041,0h1M1044,0h1M1049,0h2M1057,0h1M1059,0h1M1062,0h1M1064,0h1"/>
<path stroke="#00ff9c" d="M81,0h1M183,0h1M374,0h1M699,0h1M820,0h1M953,0h1M1018,0h1M1025,0h1M1035,0h2M1046,0h3M1052,0h1M1054,0h2M1058,0h1M1060,0h2M1063,0h1"/>
<path stroke="#00fc7b" d="M16,0h1M79,0h1M83,0h1M110,0h1M116,0h1M170,0h5M179,0h1M181,0h1M186,0h1M189,0h1M223,0h2M231,0h1M244,0h1M266,0h1M273,0h1M373,0h1M384,0h1M689,0h1M693,0h1M695,0h1M698,0h1M701,0h1M703,0h1M709,0h1M850,0h2M948,0h1M952,0h1M957,0h1M988,0h1M990,0h1M1019,0h1M1029,0h1M1045,0h1M1056,0h1"/>
<path stroke="#5fff55" d="M8,0h1M11,0h1M15,0h1M18,0h1M22,0h1M65,0h1M67,0h2M70,0h1M80,0h1M82,0h1M85,0h1M88,0h1M111,0h5M166,0h3M176,0h2M180,0h1M182,0h1M184,0h2M187,0h1M215,0h1M219,0h1M222,0h1M225,0h4M234,0h1M241,0h1M274,0h1M366,0h6M375,0h1M378,0h1M385,0h1M388,0h2M392,0h1M617,0h1M690,0h3M694,0h1M696,0h1M702,0h1M704,0h1M707,0h2M710,0h1M712,0h1M818,0h2M821,0h2M844,0h1M849,0h1M854,0h1M942,0h1M945,0h1M949,0h3M954,0h1M989,0h1M991,0h1M1017,0h1M1066,0h2"/>
<path stroke="#7aff3e" d="M0,0h1M3,0h1M5,0h1M7,0h1M9,0h1M12,0h2M17,0h1M19,0h3M25,0h1M41,0h2M59,0h3M64,0h1M66,0h1M71,0h3M84,0h1M86,0h1M109,0h1M117,0h2M138,0h1M160,0h1M169,0h1M175,0h1M178,0h1M188,0h1M190,0h2M217,0h1M220,0h2M230,0h1M235,0h3M239,0h2M242,0h1M245,0h3M258,0h1M260,0h1M263,0h1M265,0h1M267,0h1M270,0h1M272,0h1M275,0h1M344,0h1M364,0h1M372,0h1M379,0h1M381,0h2M386,0h1M390,0h2M393,0h1M395,0h1M419,0h2M602,0h1M606,0h1M618,0h1M686,0h3M700,0h1M705,0h1M815,0h2M832,0h3M847,0h1M852,0h2M867,0h1M941,0h1M943,0h2M947,0h1M955,0h2M986,0h2M992,0h1M1014,0h2M1065,0h1M1079,0h1"/>
<path stroke="#a5ff16" d="M1,0h2M6,0h1M10,0h1M14,0h1M23,0h2M27,0h1M36,0h1M38,0h3M44,0h1M58,0h1M62,0h2M87,0h1M89,0h1M93,0h1M108,0h1M137,0h1M141,0h2M156,0h4M161,0h2M195,0h1M197,0h1M199,0h2M202,0h3M206,0h1M211,0h1M213,0h2M216,0h1M218,0h1M229,0h1M233,0h1M238,0h1M243,0h1M248,0h2M253,0h1M255,0h2M262,0h1M264,0h1M268,0h1M271,0h1M277,0h1M349,0h1M353,0h1M359,0h1M362,0h1M365,0h1M376,0h2M380,0h1M383,0h1M387,0h1M426,0h1M581,0h2M601,0h1M608,0h1M610,0h3M615,0h2M619,0h1M641,0h1M706,0h1M711,0h1M729,0h1M734,0h1M814,0h1M817,0h1M823,0h1M831,0h1M835,0h1M845,0h1M848,0h1M902,0h1M904,0h4M913,0h1M916,0h2M919,0h2M924,0h1M939,0h1M946,0h1M958,0h2M961,0h1M963,0h1M971,0h1M973,0h1M993,0h1M999,0h1M1001,0h1M1005,0h2M1016,0h1"/>
<path stroke="#cdff00" d="M30,0h2M35,0h1M37,0h1M43,0h1M46,0h1M69,0h1M74,0h2M77,0h2M90,0h2M136,0h1M155,0h1M192,0h1M194,0h1M196,0h1M201,0h1M205,0h1M207,0h4M212,0h1M232,0h1M250,0h2M254,0h1M257,0h1M259,0h1M261,0h1M269,0h1M278,0h3M282,0h1M285,0h3M339,0h1M341,0h2M345,0h1M347,0h1M354,0h2M360,0h2M363,0h1M394,0h1M417,0h1M422,0h1M427,0h1M432,0h1M440,0h1M580,0h1M607,0h1M609,0h1M614,0h1M620,0h1M623,0h1M631,0h1M633,0h5M642,0h2M685,0h1M697,0h1M713,0h1M727,0h1M731,0h1M737,0h1M744,0h1M765,0h1M776,0h1M813,0h1M830,0h1M838,0h1M843,0h1M846,0h1M856,0h1M858,0h1M866,0h1M868,0h1M892,0h1M899,0h1M901,0h1M903,0h1M908,0h1M933,0h2M940,0h1M960,0h1M968,0h2M972,0h1M983,0h3M994,0h1M1002,0h3M1068,0h5M1077,0h2"/>
<path stroke="#efff00" d="M4,0h1M26,0h1M28,0h1M32,0h1M34,0h1M45,0h1M56,0h1M76,0h1M92,0h1M94,0h1M96,0h2M135,0h1M139,0h2M143,0h1M163,0h1M165,0h1M193,0h1M198,0h1M252,0h1M276,0h1M281,0h1M284,0h1M295,0h1M301,0h2M309,0h1M328,0h1M337,0h2M343,0h1M346,0h1M348,0h1M350,0h3M357,0h1M396,0h1M403,0h1M405,0h1M418,0h1M421,0h1M423,0h3M428,0h1M433,0h1M439,0h1M446,0h1M579,0h1M583,0h1M589,0h2M603,0h3M613,0h1M622,0h1M624,0h1M629,0h2M632,0h1M640,0h1M644,0h1M714,0h1M716,0h1M723,0h1M725,0h2M728,0h1M733,0h1M736,0h1M741,0h1M743,0h1M760,0h1M764,0h1M811,0h2M824,0h1M829,0h1M842,0h1M855,0h1M859,0h2M864,0h2M869,0h1M891,0h1M893,0h3M898,0h1M900,0h1M914,0h2M918,0h1M921,0h1M923,0h1M938,0h1M962,0h1M967,0h1M970,0h1M974,0h1M977,0h1M981,0h2M995,0h1M997,0h2M1008,0h2M1073,0h1M1076,0h1"/>
<path stroke="#fff200" d="M29,0h1M33,0h1M57,0h1M95,0h1M98,0h3M119,0h1M134,0h1M144,0h1M151,0h4M164,0h1M283,0h1M294,0h1M296,0h5M303,0h6M356,0h1M358,0h1M398,0h1M401,0h2M407,0h3M413,0h1M416,0h1M431,0h1M434,0h2M441,0h2M444,0h1M447,0h1M576,0h3M588,0h1M591,0h3M597,0h1M599,0h1M626,0h1M638,0h2M645,0h1M647,0h3M684,0h1M724,0h1M730,0h1M732,0h1M735,0h1M738,0h1M742,0h1M762,0h2M767,0h1M774,0h1M801,0h1M836,0h1M839,0h1M857,0h1M862,0h1M871,0h1M887,0h1M890,0h1M909,0h2M922,0h1M925,0h1M931,0h2M935,0h3M964,0h1M966,0h1M996,0h1M1000,0h1M1007,0h1M1010,0h1M1012,0h2M1075,0h1"/>
<path stroke="#ffd800" d="M47,0h2M50,0h1M54,0h1M101,0h1M103,0h2M106,0h2M149,0h1M327,0h1M331,0h1M336,0h1M340,0h1M397,0h1M399,0h1M406,0h1M410,0h1M430,0h1M436,0h1M438,0h1M448,0h1M454,0h1M458,0h1M561,0h1M594,0h3M600,0h1M621,0h1M627,0h1M646,0h1M673,0h3M683,0h1M715,0h1M717,0h1M721,0h1M740,0h1M761,0h1M766,0h1M770,0h4M775,0h1M778,0h1M781,0h2M784,0h1M787,0h1M794,0h3M799,0h1M809,0h1M825,0h1M828,0h1M837,0h1M841,0h1M861,0h1M863,0h1M870,0h1M882,0h2M886,0h1M889,0h1M896,0h2M911,0h2M926,0h1M928,0h3M965,0h1M975,0h2M978,0h1M1011,0h1M1074,0h1"/>
<path stroke="#ffbf00" d="M49,0h1M51,0h1M53,0h1M55,0h1M120,0h1M125,0h1M127,0h1M132,0h2M146,0h2M150,0h1M288,0h1M310,0h2M329,0h1M332,0h1M334,0h1M404,0h1M411,0h1M414,0h1M429,0h1M437,0h1M443,0h1M445,0h1M449,0h2M452,0h2M455,0h1M457,0h1M460,0h3M553,0h1M559,0h1M568,0h1M575,0h1M584,0h1M587,0h1M598,0h1M625,0h1M628,0h1M650,0h1M671,0h2M676,0h1M682,0h1M718,0h2M722,0h1M745,0h1M747,0h2M751,0h1M768,0h2M777,0h1M779,0h2M786,0h1M788,0h1M791,0h1M793,0h1M797,0h1M800,0h1M804,0h1M807,0h2M810,0h1M826,0h2M840,0h1M872,0h1M880,0h1M888,0h1M927,0h1M979,0h2"/>
<path stroke="#ffa500" d="M52,0h1M102,0h1M105,0h1M124,0h1M126,0h1M130,0h1M145,0h1M148,0h1M291,0h1M293,0h1M312,0h1M325,0h2M330,0h1M400,0h1M412,0h1M456,0h1M463,0h2M466,0h1M473,0h1M477,0h1M507,0h1M552,0h1M554,0h2M557,0h2M560,0h1M562,0h2M566,0h2M570,0h2M585,0h2M652,0h1M662,0h1M665,0h1M670,0h1M677,0h1M679,0h1M720,0h1M739,0h1M746,0h1M754,0h2M758,0h2M783,0h1M785,0h1M792,0h1M798,0h1M802,0h2M805,0h2M873,0h2M879,0h1M884,0h2"/>
<path stroke="#ff8c00" d="M121,0h2M128,0h2M131,0h1M289,0h1M292,0h1M313,0h2M317,0h1M319,0h1M322,0h3M333,0h1M335,0h1M415,0h1M451,0h1M468,0h1M470,0h2M475,0h1M478,0h2M481,0h2M484,0h1M486,0h1M495,0h1M498,0h1M500,0h1M503,0h1M508,0h1M514,0h1M516,0h2M526,0h2M532,0h1M536,0h1M539,0h2M543,0h2M546,0h1M549,0h1M565,0h1M569,0h1M572,0h1M651,0h1M653,0h1M655,0h2M660,0h1M663,0h1M666,0h1M669,0h1M678,0h1M680,0h1M749,0h2M752,0h2M757,0h1M789,0h1M875,0h1M877,0h1M881,0h1"/>
<path stroke="#ff7300" d="M123,0h1M290,0h1M318,0h1M320,0h2M459,0h1M465,0h1M467,0h1M472,0h1M476,0h1M487,0h3M493,0h1M496,0h2M499,0h1M502,0h1M509,0h1M513,0h1M515,0h1M523,0h1M525,0h1M529,0h1M531,0h1M533,0h1M535,0h1M541,0h2M550,0h1M556,0h1M564,0h1M573,0h2M654,0h1M657,0h1M659,0h1M661,0h1M664,0h1M667,0h2M681,0h1M756,0h1M790,0h1M876,0h1M878,0h1"/>
<path stroke="#ff5900" d="M315,0h2M469,0h1M480,0h1M483,0h1M485,0h1M491,0h2M494,0h1M501,0h1M504,0h3M511,0h2M521,0h2M524,0h1M528,0h1M534,0h1M537,0h2M545,0h1M547,0h2M551,0h1M658,0h1"/>
<path stroke="#ff4000" d="M474,0h1M490,0h1M510,0h1M520,0h1M530,0h1"/>
<path stroke="#ff2600" d="M519,0h1"/>
<path stroke="#ff0d00" d="M518,0h1"/>
<path stroke="#1fffa8" d="M1021,0h1"/>
</g>
<g transform="translate(188.7,830.5) scale(1.33315,1)" stroke-width="5">
<path stroke="#00f2ff" d="M1030,0h1M1032,0h1M1034,0h1M1039,0h1"/>
<path stroke="#00fff2" d="M1031,0h1M1040,0h2M1043,0h2M1048,0h3M1062,0h1"/>
<path stroke="#00ffd7" d="M1035,0h3M1045,0h2M1053,0h2M1056,0h4M1061,0h1"/>
<path stroke="#00ffbb" d="M694,0h1M698,0h2M948,0h1M1029,0h1M1033,0h1M1047,0h1M1052,0h1M1055,0h1M1060,0h1M1063,0h1"/>
<path stroke="#00ff9c" d="M71,0h1M81,0h1M83,0h1M110,0h2M170,0h1M172,0h2M179,0h3M183,0h1M223,0h2M273,0h2M373,0h1M691,0h1M696,0h1M819,0h1M821,0h1M849,0h1M852,0h1M947,0h1M949,0h4M988,0h3M1018,0h1M1064,0h1"/>
<path stroke="#00fc7b" d="M16,0h1M18,0h1M65,0h1M70,0h1M79,0h2M82,0h1M84,0h1M112,0h5M169,0h1M174,0h1M176,0h1M182,0h1M184,0h2M187,0h1M189,0h1M217,0h1M219,0h1M225,0h3M229,0h1M231,0h1M239,0h1M241,0h1M245,0h1M260,0h1M270,0h1M368,0h1M370,0h1M374,0h2M390,0h1M420,0h1M689,0h2M692,0h2M695,0h1M702,0h2M706,0h1M709,0h1M712,0h1M816,0h1M820,0h1M850,0h2M954,0h1M957,0h1M991,0h1M1017,0h1M1019,0h1M1065,0h2"/>
<path stroke="#5fff55" d="M5,0h1M7,0h3M11,0h1M13,0h1M15,0h1M17,0h1M19,0h2M41,0h2M44,0h1M59,0h3M66,0h3M72,0h1M86,0h1M93,0h1M117,0h1M158,0h1M161,0h1M168,0h1M171,0h1M177,0h2M186,0h1M188,0h1M190,0h1M215,0h1M220,0h3M228,0h1M237,0h1M240,0h1M242,0h3M246,0h2M253,0h1M258,0h1M262,0h1M266,0h2M272,0h1M360,0h1M366,0h2M369,0h1M371,0h2M376,0h1M378,0h3M382,0h1M384,0h2M388,0h2M391,0h1M602,0h1M606,0h1M688,0h1M701,0h1M704,0h2M707,0h1M710,0h2M818,0h1M822,0h1M832,0h1M834,0h1M844,0h1M942,0h2M953,0h1M956,0h1M959,0h1M987,0h1M1015,0h1M1067,0h1"/>
<path stroke="#7aff3e" d="M0,0h4M10,0h1M12,0h1M14,0h1M21,0h2M34,0h2M38,0h2M58,0h1M62,0h3M69,0h1M74,0h1M85,0h1M87,0h2M109,0h1M118,0h1M137,0h2M142,0h1M156,0h2M159,0h2M166,0h2M175,0h1M191,0h1M193,0h1M199,0h1M204,0h1M208,0h1M210,0h5M216,0h1M218,0h1M230,0h1M234,0h3M249,0h1M256,0h1M263,0h1M265,0h1M269,0h1M271,0h1M275,0h1M342,0h1M344,0h1M362,0h4M381,0h1M383,0h1M386,0h1M392,0h2M426,0h1M607,0h2M611,0h1M616,0h4M636,0h1M687,0h1M700,0h1M708,0h1M813,0h1M815,0h1M817,0h1M833,0h1M847,0h1M853,0h2M905,0h1M908,0h1M913,0h1M917,0h1M924,0h1M941,0h1M944,0h3M955,0h1M958,0h1M960,0h2M972,0h1M985,0h2M992,0h1M1005,0h1M1014,0h1M1069,0h1M1079,0h1"/>
<path stroke="#a5ff16" d="M4,0h1M6,0h1M23,0h3M30,0h2M37,0h1M40,0h1M43,0h1M45,0h1M73,0h1M77,0h1M89,0h1M91,0h1M108,0h1M136,0h1M140,0h2M162,0h1M165,0h1M194,0h3M198,0h1M205,0h1M232,0h2M238,0h1M248,0h1M250,0h1M254,0h2M257,0h1M261,0h1M264,0h1M268,0h1M276,0h3M280,0h2M339,0h1M341,0h1M343,0h1M349,0h1M352,0h1M354,0h2M377,0h1M387,0h1M394,0h2M419,0h1M427,0h1M432,0h1M582,0h1M601,0h1M604,0h2M610,0h1M613,0h3M642,0h1M686,0h1M697,0h1M726,0h2M734,0h1M736,0h1M812,0h1M814,0h1M823,0h1M831,0h1M845,0h1M848,0h1M866,0h3M892,0h1M898,0h1M902,0h2M920,0h1M933,0h1M939,0h2M963,0h1M968,0h1M971,0h1M983,0h2M993,0h3M1001,0h1M1003,0h2M1016,0h1M1068,0h1M1070,0h2M1077,0h1"/>
<path stroke="#cdff00" d="M26,0h2M29,0h1M32,0h1M36,0h1M75,0h1M78,0h1M90,0h1M92,0h1M94,0h1M96,0h1M134,0h2M143,0h1M151,0h1M153,0h1M155,0h1M164,0h1M197,0h1M200,0h4M206,0h2M209,0h1M251,0h2M259,0h1M279,0h1M285,0h1M295,0h1M302,0h3M306,0h1M337,0h2M345,0h1M347,0h2M353,0h1M356,0h1M358,0h2M361,0h1M417,0h1M421,0h5M440,0h1M580,0h2M599,0h1M603,0h1M609,0h1M612,0h1M620,0h1M623,0h1M629,0h1M631,0h1M633,0h3M637,0h1M641,0h1M643,0h2M685,0h1M713,0h2M716,0h1M728,0h4M741,0h1M829,0h2M835,0h1M846,0h1M856,0h1M858,0h3M864,0h1M891,0h1M893,0h1M899,0h2M904,0h1M906,0h2M914,0h3M919,0h1M921,0h1M962,0h1M969,0h2M973,0h1M997,0h3M1002,0h1M1006,0h1M1008,0h2M1013,0h1M1072,0h2M1076,0h1M1078,0h1"/>
<path stroke="#efff00" d="M33,0h1M46,0h1M56,0h2M97,0h2M100,0h1M139,0h1M154,0h1M163,0h1M192,0h1M282,0h3M287,0h1M296,0h1M298,0h2M301,0h1M307,0h3M346,0h1M350,0h1M357,0h1M396,0h3M405,0h1M416,0h1M418,0h1M438,0h2M579,0h1M589,0h2M592,0h4M622,0h1M624,0h1M630,0h1M632,0h1M638,0h1M640,0h1M715,0h1M723,0h1M725,0h1M732,0h2M738,0h1M760,0h4M765,0h1M771,0h1M774,0h3M811,0h1M824,0h1M836,0h1M841,0h3M857,0h1M865,0h1M869,0h1M896,0h1M901,0h1M909,0h1M918,0h1M925,0h1M929,0h1M931,0h2M934,0h2M938,0h1M967,0h1M974,0h1M976,0h1M981,0h1M996,0h1M1000,0h1M1007,0h1"/>
<path stroke="#fff200" d="M28,0h1M47,0h1M95,0h1M99,0h1M101,0h1M103,0h1M106,0h2M119,0h1M132,0h1M152,0h1M286,0h1M294,0h1M305,0h1M340,0h1M351,0h1M402,0h2M428,0h1M431,0h1M433,0h5M447,0h1M577,0h1M583,0h1M587,0h2M591,0h1M596,0h1M598,0h1M600,0h1M625,0h2M639,0h1M645,0h3M671,0h1M675,0h1M717,0h1M721,0h1M735,0h1M737,0h1M740,0h1M742,0h2M745,0h1M764,0h1M767,0h1M769,0h1M781,0h1M801,0h1M808,0h2M825,0h1M838,0h2M855,0h1M862,0h1M871,0h1M884,0h1M887,0h1M890,0h1M894,0h1M897,0h1M910,0h1M912,0h1M922,0h2M936,0h2M964,0h3M977,0h1M982,0h1M1010,0h1M1012,0h1M1074,0h2"/>
<path stroke="#ffd800" d="M49,0h2M53,0h1M55,0h1M76,0h1M120,0h1M125,0h1M127,0h1M133,0h1M144,0h1M297,0h1M300,0h1M326,0h4M336,0h1M399,0h1M401,0h1M408,0h2M412,0h2M415,0h1M430,0h1M441,0h4M561,0h1M568,0h1M576,0h1M578,0h1M584,0h2M597,0h1M621,0h1M648,0h1M673,0h2M676,0h1M682,0h3M718,0h2M724,0h1M744,0h1M766,0h1M768,0h1M770,0h1M772,0h2M777,0h4M782,0h1M784,0h1M793,0h2M796,0h1M799,0h1M806,0h2M837,0h1M840,0h1M861,0h1M863,0h1M870,0h1M882,0h2M886,0h1M895,0h1M911,0h1M926,0h3M930,0h1M1011,0h1"/>
<path stroke="#ffbf00" d="M48,0h1M51,0h1M54,0h1M102,0h1M104,0h1M145,0h3M149,0h1M291,0h1M293,0h1M310,0h1M331,0h2M400,0h1M404,0h1M406,0h2M410,0h2M414,0h1M429,0h1M446,0h1M553,0h1M558,0h2M575,0h1M586,0h1M627,0h2M649,0h1M670,0h1M720,0h1M722,0h1M739,0h1M746,0h2M783,0h1M785,0h4M791,0h2M795,0h1M797,0h2M800,0h1M802,0h4M810,0h1M826,0h3M872,0h2M885,0h1M888,0h2M975,0h1M978,0h2"/>
<path stroke="#ffa500" d="M52,0h1M105,0h1M121,0h1M124,0h1M126,0h1M129,0h1M131,0h1M148,0h1M150,0h1M288,0h1M311,0h1M324,0h1M330,0h1M333,0h3M445,0h1M453,0h2M458,0h1M461,0h1M463,0h1M554,0h2M560,0h1M562,0h1M564,0h1M567,0h1M569,0h1M650,0h1M656,0h1M661,0h2M665,0h2M669,0h1M672,0h1M677,0h1M679,0h3M748,0h1M750,0h1M753,0h1M755,0h1M757,0h3M874,0h1M879,0h3M980,0h1"/>
<path stroke="#ff8c00" d="M130,0h1M292,0h1M312,0h1M319,0h2M325,0h1M448,0h3M455,0h1M457,0h1M460,0h1M466,0h1M477,0h1M552,0h1M556,0h2M563,0h1M565,0h2M570,0h4M653,0h1M658,0h2M664,0h1M749,0h1M751,0h1M754,0h1M789,0h1"/>
<path stroke="#ff7300" d="M122,0h2M128,0h1M290,0h1M313,0h1M317,0h2M321,0h3M451,0h2M462,0h1M464,0h2M471,0h1M476,0h1M479,0h1M507,0h1M543,0h2M574,0h1M651,0h2M660,0h1M663,0h1M668,0h1M678,0h1M752,0h1M756,0h1M790,0h1M875,0h1"/>
<path stroke="#ff5900" d="M289,0h1M314,0h3M456,0h1M459,0h1M467,0h2M470,0h1M472,0h2M475,0h1M478,0h1M539,0h1M546,0h4M551,0h1M654,0h2M657,0h1M667,0h1M876,0h3"/>
<path stroke="#ff4000" d="M469,0h1M483,0h1M486,0h1M491,0h1M496,0h1M498,0h1M501,0h1M503,0h1M508,0h1M511,0h1M513,0h3M522,0h1M525,0h1M534,0h1M540,0h3M545,0h1M550,0h1"/>
<path stroke="#ff2600" d="M474,0h1M480,0h3M484,0h1M488,0h1M493,0h1M495,0h1M499,0h2M502,0h1M505,0h2M509,0h1M512,0h1M516,0h2M519,0h2M526,0h4M531,0h3M535,0h4"/>
<path stroke="#ff0d00" d="M485,0h1M487,0h1M489,0h2M492,0h1M494,0h1M497,0h1M504,0h1M510,0h1M518,0h1M521,0h1M523,0h2M530,0h1"/>
<path stroke="#1ffff3" d="M1024,0h1M1026,0h1"/>
<path stroke="#1fffc3" d="M1021,0h1"/>
</g>
<g transform="translate(188.7,826) scale(1.33315,1)" stroke-width="4">
<path stroke="#00a6ff" d="M1031,0h1M1040,0h1"/>
<path stroke="#00bfff" d="M1030,0h1M1048,0h1"/>
<path stroke="#00d9ff" d="M1032,0h1M1043,0h1"/>
<path stroke="#00f2ff" d="M1033,0h3M1039,0h1M1041,0h1M1044,0h1M1046,0h1M1049,0h2M1053,0h1M1055,0h1M1057,0h5"/>
<path stroke="#00fff2" d="M1029,0h1M1036,0h2M1045,0h1M1047,0h1M1052,0h1M1056,0h1M1062,0h1"/>
<path stroke="#00ffd7" d="M951,0h1M1054,0h1M1063,0h1"/>
<path stroke="#00ffbb" d="M110,0h1M180,0h1M695,0h1M698,0h2M948,0h1M988,0h3M1064,0h1"/>
<path stroke="#00ff9c" d="M65,0h1M70,0h1M79,0h3M83,0h1M111,0h3M169,0h6M179,0h1M181,0h1M183,0h1M219,0h1M227,0h1M244,0h1M273,0h2M364,0h1M373,0h1M693,0h2M696,0h1M701,0h3M705,0h2M819,0h2M849,0h1M851,0h2M945,0h1M947,0h1M949,0h2M952,0h1M987,0h1M1018,0h2M1066,0h1"/>
<path stroke="#00fc7b" d="M3,0h1M11,0h1M15,0h1M17,0h2M62,0h1M67,0h1M82,0h1M84,0h1M114,0h3M168,0h1M175,0h1M177,0h2M182,0h1M184,0h4M189,0h2M215,0h1M220,0h1M222,0h3M226,0h1M231,0h1M239,0h1M241,0h2M245,0h1M268,0h1M270,0h1M366,0h4M371,0h2M375,0h2M382,0h1M687,0h6M707,0h1M709,0h2M816,0h1M821,0h1M850,0h1M942,0h2M954,0h4M1017,0h1M1065,0h1"/>
<path stroke="#5fff55" d="M4,0h7M12,0h1M19,0h3M24,0h1M30,0h2M44,0h1M60,0h2M66,0h1M68,0h2M71,0h2M85,0h2M108,0h2M138,0h1M159,0h2M166,0h2M176,0h1M195,0h1M211,0h1M214,0h1M216,0h3M225,0h1M228,0h2M233,0h2M236,0h1M240,0h1M243,0h1M246,0h2M258,0h1M260,0h1M262,0h3M267,0h1M271,0h2M275,0h1M342,0h1M344,0h1M362,0h1M365,0h1M370,0h1M374,0h1M380,0h1M384,0h3M388,0h3M393,0h1M395,0h1M420,0h1M608,0h1M610,0h1M618,0h1M697,0h1M700,0h1M704,0h1M708,0h1M815,0h1M818,0h1M822,0h1M831,0h2M834,0h1M844,0h2M853,0h2M906,0h1M941,0h1M944,0h1M946,0h1M953,0h1M958,0h2M991,0h1M1005,0h1M1015,0h2M1067,0h1M1069,0h1M1079,0h1"/>
<path stroke="#7aff3e" d="M0,0h3M13,0h2M16,0h1M22,0h2M25,0h1M34,0h1M36,0h1M38,0h6M45,0h1M58,0h2M64,0h1M73,0h3M87,0h3M93,0h1M117,0h1M137,0h1M142,0h1M156,0h3M161,0h2M165,0h1M188,0h1M191,0h1M198,0h1M201,0h1M205,0h1M212,0h2M221,0h1M230,0h1M232,0h1M235,0h1M238,0h1M248,0h2M253,0h1M255,0h2M259,0h1M265,0h2M269,0h1M278,0h1M339,0h1M354,0h1M359,0h2M363,0h1M378,0h2M381,0h1M383,0h1M391,0h2M394,0h1M419,0h1M426,0h1M602,0h2M606,0h2M609,0h1M611,0h2M616,0h2M619,0h1M711,0h2M729,0h1M734,0h1M813,0h2M817,0h1M833,0h1M847,0h2M900,0h1M902,0h1M907,0h1M913,0h1M920,0h1M939,0h1M960,0h2M969,0h1M972,0h1M985,0h2M992,0h2M995,0h1M998,0h1M1001,0h3M1006,0h1M1014,0h1M1072,0h1M1076,0h3"/>
<path stroke="#a5ff16" d="M26,0h2M37,0h1M63,0h1M77,0h2M90,0h1M96,0h2M118,0h1M136,0h1M141,0h1M193,0h2M196,0h1M199,0h1M202,0h3M206,0h3M210,0h1M237,0h1M251,0h1M254,0h1M257,0h1M261,0h1M276,0h2M279,0h1M302,0h1M341,0h1M343,0h1M345,0h1M347,0h2M352,0h2M355,0h1M361,0h1M377,0h1M387,0h1M417,0h1M421,0h1M423,0h1M425,0h1M440,0h1M582,0h1M601,0h1M604,0h2M613,0h3M620,0h1M633,0h1M635,0h1M637,0h1M641,0h2M685,0h1M713,0h1M726,0h1M741,0h1M812,0h1M823,0h1M829,0h2M843,0h1M846,0h1M866,0h3M898,0h2M901,0h1M903,0h3M908,0h1M914,0h4M919,0h1M924,0h1M940,0h1M963,0h1M968,0h1M970,0h2M983,0h2M994,0h1M999,0h1M1004,0h1M1068,0h1M1070,0h2"/>
<path stroke="#cdff00" d="M28,0h2M32,0h1M35,0h1M46,0h1M57,0h1M91,0h2M94,0h2M107,0h1M135,0h1M140,0h1M143,0h1M153,0h1M155,0h1M163,0h2M192,0h1M197,0h1M200,0h1M209,0h1M250,0h1M252,0h1M280,0h3M284,0h2M295,0h1M298,0h1M300,0h1M303,0h2M338,0h1M346,0h1M349,0h1M356,0h1M358,0h1M396,0h1M403,0h1M405,0h1M416,0h1M418,0h1M422,0h1M424,0h1M427,0h1M432,0h2M577,0h1M579,0h3M588,0h2M623,0h2M629,0h1M631,0h2M634,0h1M636,0h1M640,0h1M643,0h2M646,0h1M686,0h1M714,0h1M716,0h1M725,0h1M727,0h2M730,0h1M732,0h2M736,0h2M742,0h2M769,0h1M771,0h1M775,0h2M824,0h1M838,0h1M855,0h5M864,0h2M890,0h1M892,0h2M896,0h1M909,0h1M923,0h1M933,0h2M938,0h1M962,0h1M973,0h1M982,0h1M997,0h1M1000,0h1M1008,0h2M1012,0h2M1073,0h3"/>
<path stroke="#efff00" d="M56,0h1M134,0h1M139,0h1M144,0h1M154,0h1M283,0h1M287,0h1M294,0h1M299,0h1M301,0h1M306,0h3M337,0h1M340,0h1M350,0h2M357,0h1M398,0h1M438,0h2M441,0h1M446,0h1M576,0h1M578,0h1M583,0h1M591,0h3M599,0h2M621,0h2M626,0h1M630,0h1M638,0h1M675,0h1M715,0h1M717,0h1M724,0h1M731,0h1M738,0h1M744,0h1M760,0h2M764,0h2M767,0h1M772,0h1M774,0h1M801,0h1M811,0h1M835,0h2M839,0h1M841,0h2M861,0h2M870,0h1M891,0h1M894,0h1M897,0h1M911,0h1M918,0h1M921,0h1M925,0h2M931,0h2M935,0h3M964,0h1M966,0h2M974,0h1M977,0h1M996,0h1M1007,0h1"/>
<path stroke="#fff200" d="M33,0h1M48,0h1M53,0h3M76,0h1M98,0h4M104,0h1M106,0h1M119,0h1M132,0h2M149,0h1M151,0h2M286,0h1M293,0h1M297,0h1M305,0h1M309,0h1M327,0h2M397,0h1M399,0h1M401,0h2M413,0h1M428,0h1M431,0h1M434,0h1M436,0h1M442,0h1M575,0h1M590,0h1M595,0h1M597,0h2M625,0h1M639,0h1M645,0h1M671,0h1M673,0h2M676,0h1M682,0h3M721,0h1M723,0h1M735,0h1M740,0h1M762,0h2M781,0h1M786,0h2M793,0h3M806,0h1M808,0h2M825,0h1M837,0h1M860,0h1M869,0h1M871,0h1M886,0h1M895,0h1M910,0h1M912,0h1M922,0h1M929,0h2M976,0h1M978,0h1M981,0h1M1010,0h2"/>
<path stroke="#ffd800" d="M47,0h1M49,0h3M103,0h1M105,0h1M125,0h1M145,0h1M147,0h1M296,0h1M311,0h1M324,0h1M329,0h1M331,0h1M336,0h1M407,0h1M409,0h1M429,0h2M435,0h1M437,0h1M443,0h3M447,0h1M454,0h1M553,0h1M561,0h1M568,0h1M584,0h1M587,0h1M594,0h1M596,0h1M627,0h2M647,0h2M672,0h1M718,0h3M722,0h1M739,0h1M745,0h1M747,0h1M766,0h1M768,0h1M770,0h1M773,0h1M777,0h4M782,0h1M784,0h1M791,0h1M796,0h5M807,0h1M810,0h1M827,0h2M840,0h1M863,0h1M872,0h1M882,0h2M887,0h3M927,0h2M965,0h1M975,0h1"/>
<path stroke="#ffbf00" d="M52,0h1M102,0h1M120,0h2M126,0h2M146,0h1M148,0h1M150,0h1M291,0h1M310,0h1M334,0h2M400,0h1M404,0h1M406,0h1M408,0h1M410,0h3M414,0h2M448,0h1M450,0h1M557,0h4M567,0h1M571,0h1M585,0h1M649,0h2M662,0h1M669,0h2M677,0h1M679,0h2M746,0h1M753,0h1M755,0h1M757,0h3M783,0h1M785,0h1M788,0h1M792,0h1M803,0h2M873,0h2M880,0h1M884,0h2M980,0h1"/>
<path stroke="#ffa500" d="M124,0h1M128,0h1M288,0h1M292,0h1M312,0h1M325,0h2M330,0h1M332,0h2M449,0h1M453,0h1M458,0h1M460,0h1M554,0h2M562,0h1M564,0h1M566,0h1M569,0h1M586,0h1M656,0h1M664,0h1M666,0h1M681,0h1M748,0h3M754,0h1M802,0h1M805,0h1M826,0h1M875,0h1M879,0h1M881,0h1M979,0h1"/>
<path stroke="#ff8c00" d="M122,0h1M129,0h3M289,0h2M313,0h1M319,0h1M321,0h3M452,0h1M455,0h1M457,0h1M461,0h1M466,0h1M507,0h1M550,0h1M552,0h1M556,0h1M563,0h1M565,0h1M572,0h3M651,0h3M655,0h1M658,0h4M663,0h1M665,0h1M667,0h2M678,0h1M751,0h2M756,0h1M789,0h2M877,0h1"/>
<path stroke="#ff7300" d="M123,0h1M315,0h1M317,0h2M320,0h1M456,0h1M459,0h1M462,0h3M470,0h1M472,0h2M476,0h1M479,0h1M539,0h1M543,0h1M549,0h1M551,0h1M570,0h1M654,0h1M657,0h1M876,0h1"/>
<path stroke="#ff5900" d="M314,0h1M451,0h1M467,0h3M475,0h1M477,0h1M488,0h1M501,0h1M503,0h1M508,0h2M516,0h1M537,0h1M540,0h1M544,0h1M546,0h1M548,0h1M878,0h1"/>
<path stroke="#ff4000" d="M316,0h1M465,0h1M478,0h1M482,0h3M489,0h1M491,0h1M493,0h1M495,0h2M498,0h3M502,0h1M511,0h4M517,0h1M521,0h1M525,0h3M529,0h1M536,0h1M538,0h1M541,0h1M545,0h1M547,0h1"/>
<path stroke="#ff2600" d="M471,0h1M474,0h1M480,0h1M485,0h3M492,0h1M497,0h1M505,0h2M510,0h1M515,0h1M522,0h3M528,0h1M531,0h5M542,0h1"/>
<path stroke="#ff0d00" d="M481,0h1M490,0h1M494,0h1M504,0h1M519,0h2M530,0h1"/>
<path stroke="#f20000" d="M518,0h1"/>
<path stroke="#1fc7ff" d="M1024,0h1"/>
<path stroke="#1ff4ff" d="M1026,0h1"/>
<path stroke="#1fffdc" d="M1021,0h1"/>
</g>
<g transform="translate(188.7,821.5) scale(1.33315,1)" stroke-width="5">
<path stroke="#00a6ff" d="M1033,0h1"/>
<path stroke="#00bfff" d="M1029,0h2M1032,0h1M1034,0h1M1039,0h1M1048,0h1M1053,0h1"/>
<path stroke="#00d9ff" d="M1031,0h1M1036,0h2M1040,0h2M1043,0h1M1046,0h2M1052,0h1M1057,0h4M1062,0h1"/>
<path stroke="#00f2ff" d="M1035,0h1M1044,0h2M1049,0h2M1054,0h3M1061,0h1"/>
<path stroke="#00ffd7" d="M948,0h1M1063,0h2"/>
<path stroke="#00ffbb" d="M113,0h1M698,0h2M950,0h1M989,0h1"/>
<path stroke="#00ff9c" d="M17,0h1M82,0h2M110,0h2M170,0h1M172,0h1M183,0h1M370,0h2M693,0h3M701,0h1M820,0h1M850,0h1M949,0h1M951,0h2M957,0h1M988,0h1M990,0h1M1018,0h2"/>
<path stroke="#00fc7b" d="M15,0h1M65,0h1M68,0h1M70,0h1M79,0h3M112,0h1M114,0h1M168,0h1M171,0h1M173,0h2M176,0h2M179,0h1M181,0h2M185,0h1M189,0h1M226,0h1M231,0h1M239,0h1M241,0h1M244,0h1M267,0h1M274,0h1M366,0h4M373,0h1M375,0h1M386,0h1M388,0h1M689,0h4M696,0h1M702,0h5M709,0h1M819,0h1M851,0h1M941,0h3M945,0h1M947,0h1M953,0h3M987,0h1M991,0h1M1015,0h1M1017,0h1M1065,0h1M1067,0h1"/>
<path stroke="#5fff55" d="M3,0h1M5,0h1M7,0h6M14,0h1M16,0h1M58,0h1M66,0h2M72,0h1M84,0h2M109,0h1M115,0h2M138,0h1M166,0h2M169,0h1M178,0h1M180,0h1M184,0h1M186,0h3M190,0h2M216,0h2M219,0h7M227,0h1M229,0h1M240,0h1M243,0h1M247,0h1M253,0h1M260,0h1M262,0h1M265,0h2M269,0h5M275,0h1M362,0h1M364,0h2M372,0h1M374,0h1M378,0h1M381,0h2M385,0h1M389,0h1M393,0h1M395,0h1M420,0h1M606,0h1M617,0h1M686,0h1M688,0h1M707,0h2M710,0h1M712,0h1M817,0h1M821,0h2M832,0h1M844,0h1M847,0h1M849,0h1M852,0h1M946,0h1M956,0h1M959,0h1M986,0h1M992,0h1M1014,0h1M1016,0h1M1066,0h1M1068,0h1M1079,0h1"/>
<path stroke="#7aff3e" d="M0,0h2M6,0h1M18,0h5M24,0h2M30,0h1M34,0h3M40,0h2M44,0h2M59,0h5M73,0h2M86,0h4M93,0h1M117,0h1M136,0h2M158,0h1M165,0h1M175,0h1M202,0h1M208,0h1M211,0h1M213,0h3M218,0h1M230,0h1M233,0h2M236,0h3M242,0h1M245,0h2M256,0h1M258,0h1M263,0h1M268,0h1M276,0h2M344,0h1M347,0h1M354,0h2M360,0h1M376,0h2M379,0h2M383,0h2M390,0h2M419,0h1M608,0h1M611,0h2M614,0h1M618,0h1M635,0h1M642,0h1M685,0h1M700,0h1M711,0h1M729,0h1M815,0h2M818,0h1M845,0h1M848,0h1M853,0h2M902,0h1M913,0h1M940,0h1M944,0h1M958,0h1M968,0h1M970,0h1M972,0h1M1005,0h1M1069,0h1M1077,0h2"/>
<path stroke="#a5ff16" d="M2,0h1M4,0h1M13,0h1M23,0h1M26,0h2M31,0h1M37,0h3M42,0h2M64,0h1M69,0h1M71,0h1M77,0h2M91,0h2M108,0h1M118,0h1M135,0h1M141,0h2M156,0h1M159,0h5M193,0h4M198,0h3M206,0h1M210,0h1M228,0h1M232,0h1M235,0h1M249,0h3M255,0h1M257,0h1M261,0h1M264,0h1M278,0h1M281,0h1M285,0h1M341,0h3M349,0h1M353,0h1M359,0h1M361,0h1M394,0h1M418,0h1M421,0h4M426,0h1M601,0h2M605,0h1M609,0h2M613,0h1M615,0h2M619,0h1M633,0h1M637,0h1M687,0h1M697,0h1M726,0h3M734,0h1M812,0h3M831,0h1M833,0h4M846,0h1M865,0h3M904,0h1M906,0h3M915,0h4M920,0h1M939,0h1M960,0h1M969,0h1M971,0h1M973,0h1M983,0h1M985,0h1M993,0h3M998,0h1M1001,0h3M1070,0h3M1076,0h1"/>
<path stroke="#cdff00" d="M28,0h1M32,0h1M46,0h1M75,0h2M90,0h1M94,0h3M155,0h1M157,0h1M192,0h1M197,0h1M201,0h1M203,0h3M207,0h1M209,0h1M212,0h1M248,0h1M252,0h1M254,0h1M259,0h1M279,0h2M282,0h1M284,0h1M295,0h1M298,0h2M301,0h3M338,0h2M345,0h2M348,0h1M356,0h2M363,0h1M387,0h1M392,0h1M396,0h1M425,0h1M432,0h1M440,0h1M579,0h4M603,0h2M607,0h1M620,0h1M623,0h1M632,0h1M634,0h1M636,0h1M643,0h2M713,0h1M723,0h1M725,0h1M733,0h1M736,0h1M741,0h1M823,0h1M829,0h2M838,0h1M843,0h1M856,0h1M858,0h2M864,0h1M869,0h1M891,0h2M898,0h4M903,0h1M905,0h1M909,0h1M914,0h1M919,0h1M921,0h1M923,0h2M933,0h2M961,0h1M963,0h1M982,0h1M984,0h1M997,0h1M999,0h2M1004,0h1M1006,0h1M1009,0h1"/>
<path stroke="#efff00" d="M29,0h1M33,0h1M56,0h2M134,0h1M139,0h2M143,0h1M151,0h1M153,0h2M164,0h1M286,0h2M294,0h1M300,0h1M305,0h2M337,0h1M340,0h1M350,0h3M358,0h1M397,0h2M416,0h2M427,0h2M439,0h1M578,0h1M583,0h1M589,0h1M630,0h2M638,0h1M640,0h2M714,0h3M731,0h2M737,0h1M742,0h3M764,0h2M767,0h1M774,0h3M801,0h1M824,0h1M841,0h1M855,0h1M860,0h1M868,0h1M894,0h1M896,0h1M928,0h2M937,0h2M962,0h1M977,0h1M996,0h1M1008,0h1M1010,0h1M1013,0h1M1073,0h3"/>
<path stroke="#fff200" d="M97,0h2M103,0h1M106,0h2M119,0h1M132,0h1M283,0h1M296,0h2M304,0h1M307,0h2M401,0h3M405,0h1M413,0h1M430,0h1M433,0h1M435,0h2M438,0h1M441,0h2M447,0h1M568,0h1M576,0h2M587,0h1M590,0h5M599,0h2M621,0h2M626,0h1M629,0h1M639,0h1M645,0h3M671,0h1M684,0h1M717,0h1M721,0h1M724,0h1M730,0h1M735,0h1M738,0h1M760,0h2M763,0h1M769,0h1M771,0h2M780,0h1M808,0h2M811,0h1M837,0h1M839,0h1M842,0h1M857,0h1M861,0h3M870,0h2M886,0h1M889,0h2M893,0h1M895,0h1M897,0h1M911,0h1M925,0h2M930,0h3M936,0h1M964,0h4M981,0h1M1007,0h1M1011,0h2"/>
<path stroke="#ffd800" d="M47,0h2M54,0h1M99,0h3M104,0h1M120,0h1M133,0h1M144,0h1M149,0h1M152,0h1M293,0h1M309,0h1M328,0h1M336,0h1M399,0h1M408,0h1M431,0h1M434,0h1M437,0h1M444,0h1M446,0h1M584,0h2M588,0h1M595,0h4M624,0h2M627,0h2M682,0h1M718,0h2M740,0h1M745,0h1M762,0h1M768,0h1M770,0h1M773,0h1M778,0h1M781,0h2M784,0h1M786,0h2M791,0h1M793,0h1M795,0h2M799,0h2M807,0h1M810,0h1M825,0h1M828,0h1M840,0h1M872,0h1M883,0h1M910,0h1M912,0h1M922,0h1M927,0h1M935,0h1M974,0h3M978,0h1"/>
<path stroke="#ffbf00" d="M49,0h3M53,0h1M55,0h1M102,0h1M105,0h1M124,0h1M146,0h3M288,0h1M310,0h1M327,0h1M329,0h1M331,0h2M406,0h1M409,0h3M415,0h1M429,0h1M443,0h1M445,0h1M460,0h1M559,0h1M561,0h1M648,0h1M670,0h1M673,0h4M683,0h1M720,0h1M722,0h1M739,0h1M759,0h1M766,0h1M777,0h1M785,0h1M788,0h1M794,0h1M797,0h2M804,0h1M806,0h1M826,0h2M879,0h1M882,0h1M884,0h2M887,0h2M979,0h2"/>
<path stroke="#ffa500" d="M52,0h1M125,0h3M145,0h1M150,0h1M291,0h2M311,0h1M326,0h1M334,0h2M400,0h1M404,0h1M407,0h1M412,0h1M414,0h1M449,0h2M454,0h1M458,0h1M552,0h2M557,0h1M560,0h1M563,0h1M566,0h2M569,0h1M571,0h1M575,0h1M586,0h1M649,0h1M669,0h1M672,0h1M677,0h1M679,0h3M746,0h2M751,0h1M753,0h1M755,0h1M757,0h2M779,0h1M783,0h1M792,0h1M802,0h2M805,0h1M873,0h2M880,0h2"/>
<path stroke="#ff8c00" d="M121,0h1M128,0h1M130,0h2M290,0h1M312,0h1M318,0h3M322,0h4M330,0h1M333,0h1M448,0h1M452,0h2M455,0h1M462,0h1M477,0h1M554,0h3M558,0h1M562,0h1M564,0h1M573,0h2M650,0h2M653,0h1M656,0h1M659,0h2M662,0h5M668,0h1M678,0h1M749,0h2M754,0h1M789,0h2"/>
<path stroke="#ff7300" d="M122,0h2M129,0h1M313,0h1M315,0h1M317,0h1M321,0h1M451,0h1M457,0h1M459,0h1M461,0h1M463,0h2M466,0h1M473,0h1M475,0h1M478,0h1M507,0h1M540,0h1M543,0h1M551,0h1M570,0h1M572,0h1M652,0h1M655,0h1M658,0h1M661,0h1M667,0h1M748,0h1M752,0h1M756,0h1M875,0h4"/>
<path stroke="#ff5900" d="M289,0h1M456,0h1M467,0h4M476,0h1M479,0h1M508,0h1M539,0h1M542,0h1M544,0h1M547,0h4M565,0h1M654,0h1M657,0h1"/>
<path stroke="#ff4000" d="M314,0h1M316,0h1M465,0h1M471,0h2M474,0h1M484,0h1M486,0h1M488,0h2M493,0h1M495,0h1M499,0h1M501,0h1M503,0h1M509,0h1M514,0h2M521,0h1M525,0h1M527,0h3M532,0h1M538,0h1M546,0h1"/>
<path stroke="#ff2600" d="M481,0h1M483,0h1M487,0h1M491,0h1M496,0h3M500,0h1M504,0h3M511,0h1M516,0h2M519,0h1M522,0h1M524,0h1M530,0h1M533,0h5M541,0h1M545,0h1"/>
<path stroke="#ff0d00" d="M480,0h1M482,0h1M490,0h1M492,0h1M494,0h1M502,0h1M510,0h1M512,0h2M520,0h1M523,0h1M526,0h1M531,0h1"/>
<path stroke="#f20000" d="M485,0h1M518,0h1"/>
<path stroke="#1fddff" d="M1024,0h1M1026,0h1"/>
<path stroke="#1fffdc" d="M1021,0h1"/>
</g>
<g transform="translate(188.7,815) scale(1.33315,1)" stroke-width="8">
<path stroke="#0026ff" d="M1040,0h1"/>
<path stroke="#0073ff" d="M1039,0h1"/>
<path stroke="#008cff" d="M1030,0h3M1041,0h1"/>
<path stroke="#00a6ff" d="M1043,0h1M1058,0h1"/>
<path stroke="#00bfff" d="M1033,0h2M1036,0h1M1048,0h2M1053,0h1M1057,0h1M1060,0h1"/>
<path stroke="#00d9ff" d="M1029,0h1M1035,0h1M1037,0h1M1044,0h4M1050,0h1M1052,0h1M1054,0h3M1061,0h2"/>
<path stroke="#00ffd7" d="M693,0h1M1063,0h1"/>
<path stroke="#00ffbb" d="M691,0h1M699,0h1M701,0h1M948,0h5M1018,0h1M1064,0h1"/>
<path stroke="#00ff9c" d="M81,0h2M110,0h1M114,0h1M170,0h1M173,0h1M368,0h1M370,0h1M372,0h1M689,0h2M695,0h1M698,0h1M702,0h1M820,0h1M849,0h1M942,0h1M947,0h1M988,0h2M1017,0h1M1065,0h2"/>
<path stroke="#00fc7b" d="M11,0h1M18,0h1M79,0h2M83,0h1M111,0h3M115,0h1M168,0h1M172,0h1M177,0h1M179,0h1M182,0h1M186,0h1M189,0h1M268,0h1M273,0h2M364,0h1M367,0h1M371,0h1M373,0h2M688,0h1M692,0h1M694,0h1M696,0h1M703,0h3M707,0h1M712,0h1M819,0h1M850,0h2M944,0h1M946,0h1M953,0h2M1015,0h1M1019,0h1"/>
<path stroke="#5fff55" d="M3,0h2M6,0h1M8,0h3M15,0h1M17,0h1M19,0h1M41,0h1M44,0h1M65,0h1M67,0h2M70,0h2M86,0h1M88,0h1M108,0h2M116,0h1M167,0h1M169,0h1M171,0h1M174,0h3M178,0h1M180,0h2M183,0h3M187,0h1M215,0h1M222,0h1M224,0h1M226,0h1M231,0h1M239,0h7M262,0h1M267,0h1M270,0h1M272,0h1M366,0h1M369,0h1M375,0h1M382,0h1M385,0h1M388,0h1M420,0h1M601,0h2M619,0h1M700,0h1M706,0h1M708,0h4M815,0h2M818,0h1M821,0h1M832,0h1M834,0h1M847,0h1M852,0h1M854,0h1M941,0h1M956,0h2M986,0h2M990,0h3M1067,0h1"/>
<path stroke="#7aff3e" d="M0,0h1M5,0h1M7,0h1M12,0h3M16,0h1M21,0h1M30,0h2M34,0h1M39,0h1M42,0h1M58,0h4M66,0h1M72,0h1M74,0h1M84,0h2M93,0h1M137,0h2M159,0h1M166,0h1M188,0h1M190,0h2M195,0h1M200,0h1M211,0h1M213,0h2M216,0h5M223,0h1M225,0h1M229,0h1M234,0h1M236,0h2M246,0h2M253,0h1M258,0h3M263,0h1M266,0h1M269,0h1M271,0h1M275,0h1M342,0h1M354,0h1M360,0h3M365,0h1M376,0h1M378,0h3M384,0h1M386,0h1M389,0h5M395,0h1M605,0h2M610,0h1M612,0h1M614,0h2M617,0h2M642,0h1M687,0h1M697,0h1M813,0h2M817,0h1M833,0h1M844,0h2M853,0h1M867,0h1M939,0h2M943,0h1M945,0h1M955,0h1M959,0h1M972,0h1M983,0h1M985,0h1M1016,0h1M1068,0h2M1072,0h1M1076,0h4"/>
<path stroke="#a5ff16" d="M1,0h2M20,0h1M22,0h5M37,0h2M40,0h1M43,0h1M62,0h3M69,0h1M73,0h1M78,0h1M87,0h1M89,0h2M92,0h1M94,0h1M96,0h1M117,0h1M135,0h2M142,0h1M156,0h3M161,0h2M164,0h2M193,0h2M199,0h1M202,0h1M204,0h1M206,0h1M210,0h1M212,0h1M221,0h1M227,0h2M232,0h1M235,0h1M238,0h1M250,0h2M255,0h3M261,0h1M264,0h2M276,0h3M280,0h2M341,0h1M343,0h2M346,0h2M349,0h1M352,0h2M355,0h1M359,0h1M363,0h1M381,0h1M383,0h1M387,0h1M394,0h1M418,0h2M426,0h1M582,0h1M603,0h2M607,0h2M613,0h1M616,0h1M620,0h1M633,0h1M686,0h1M729,0h1M812,0h1M822,0h1M841,0h1M846,0h1M848,0h1M866,0h1M899,0h1M902,0h2M905,0h2M908,0h1M913,0h1M915,0h3M958,0h1M960,0h2M968,0h2M971,0h1M993,0h2M998,0h1M1001,0h2M1004,0h1M1014,0h1"/>
<path stroke="#cdff00" d="M27,0h1M33,0h1M35,0h2M45,0h1M77,0h1M91,0h1M95,0h1M97,0h1M107,0h1M118,0h1M141,0h1M154,0h1M160,0h1M192,0h1M196,0h3M201,0h1M205,0h1M207,0h3M230,0h1M233,0h1M248,0h2M252,0h1M254,0h1M279,0h1M284,0h2M304,0h1M338,0h2M345,0h1M348,0h1M356,0h1M358,0h1M377,0h1M396,0h1M421,0h3M427,0h1M580,0h2M599,0h1M611,0h1M630,0h3M634,0h5M641,0h1M643,0h2M685,0h1M713,0h1M715,0h2M723,0h1M725,0h3M730,0h1M734,0h1M774,0h1M823,0h1M831,0h1M835,0h1M857,0h1M864,0h1M898,0h1M904,0h1M907,0h1M914,0h1M919,0h2M924,0h1M933,0h1M938,0h1M963,0h1M967,0h1M970,0h1M973,0h1M984,0h1M1003,0h1M1005,0h2M1013,0h1M1070,0h2"/>
<path stroke="#efff00" d="M29,0h1M32,0h1M46,0h1M56,0h1M75,0h1M98,0h1M134,0h1M139,0h2M153,0h1M155,0h1M163,0h1M203,0h1M282,0h1M287,0h1M295,0h2M298,0h6M306,0h1M340,0h1M350,0h1M357,0h1M416,0h1M424,0h2M432,0h1M439,0h3M577,0h1M579,0h1M588,0h1M600,0h1M609,0h1M621,0h2M624,0h1M640,0h1M684,0h1M714,0h1M728,0h1M731,0h3M736,0h2M741,0h3M760,0h1M765,0h1M767,0h1M776,0h1M824,0h1M829,0h2M836,0h2M843,0h1M855,0h2M858,0h2M862,0h1M865,0h1M868,0h2M890,0h1M892,0h1M896,0h2M900,0h2M909,0h1M918,0h1M921,0h1M923,0h1M925,0h1M934,0h1M962,0h1M966,0h1M974,0h1M977,0h1M982,0h1M995,0h1M997,0h1M999,0h2M1007,0h3M1073,0h1M1075,0h1"/>
<path stroke="#fff200" d="M28,0h1M57,0h1M76,0h1M99,0h2M106,0h1M119,0h1M132,0h1M143,0h1M152,0h1M283,0h1M286,0h1M294,0h1M305,0h1M307,0h2M337,0h1M351,0h1M397,0h2M401,0h1M403,0h1M417,0h1M433,0h1M438,0h1M447,0h1M578,0h1M589,0h1M591,0h2M594,0h3M623,0h1M629,0h1M639,0h1M645,0h2M717,0h1M721,0h1M724,0h1M745,0h1M764,0h1M770,0h2M775,0h1M782,0h1M799,0h3M808,0h1M811,0h1M825,0h1M838,0h1M842,0h1M861,0h1M889,0h1M891,0h1M894,0h1M910,0h2M922,0h1M931,0h2M936,0h2M964,0h1M996,0h1M1010,0h1M1012,0h1M1074,0h1"/>
<path stroke="#ffd800" d="M47,0h3M101,0h1M103,0h2M124,0h1M133,0h1M144,0h1M149,0h1M151,0h1M297,0h1M402,0h1M405,0h2M410,0h1M413,0h1M428,0h1M430,0h1M434,0h1M436,0h2M442,0h2M446,0h1M575,0h2M583,0h1M587,0h1M590,0h1M593,0h1M597,0h2M626,0h1M628,0h1M647,0h2M675,0h2M682,0h2M735,0h1M738,0h3M747,0h1M761,0h3M766,0h1M768,0h2M772,0h2M780,0h2M787,0h1M793,0h5M806,0h1M809,0h2M839,0h1M860,0h1M863,0h1M870,0h1M872,0h1M883,0h1M887,0h2M893,0h1M895,0h1M912,0h1M926,0h2M929,0h2M935,0h1M965,0h1M976,0h1M981,0h1M1011,0h1"/>
<path stroke="#ffbf00" d="M50,0h1M53,0h3M105,0h1M120,0h1M147,0h1M150,0h1M293,0h1M309,0h2M328,0h2M331,0h1M336,0h1M399,0h1M409,0h1M412,0h1M414,0h1M429,0h1M431,0h1M435,0h1M444,0h1M561,0h1M568,0h1M584,0h1M586,0h1M625,0h1M627,0h1M670,0h3M674,0h1M718,0h1M720,0h1M744,0h1M748,0h1M759,0h1M777,0h3M784,0h3M807,0h1M827,0h2M840,0h1M871,0h1M882,0h1M886,0h1M928,0h1M975,0h1M978,0h2"/>
<path stroke="#ffa500" d="M51,0h2M102,0h1M123,0h1M125,0h2M131,0h1M145,0h1M148,0h1M288,0h1M292,0h1M311,0h1M324,0h2M327,0h1M330,0h1M332,0h1M334,0h1M404,0h1M407,0h2M411,0h1M415,0h1M445,0h1M553,0h1M555,0h1M559,0h2M567,0h1M574,0h1M585,0h1M649,0h2M662,0h1M673,0h1M677,0h1M679,0h2M719,0h1M722,0h1M746,0h1M757,0h2M791,0h1M798,0h1M802,0h3M826,0h1M873,0h1M879,0h3M884,0h2"/>
<path stroke="#ff8c00" d="M121,0h1M127,0h2M146,0h1M291,0h1M312,0h1M320,0h1M322,0h1M326,0h1M333,0h1M335,0h1M400,0h1M448,0h7M458,0h1M460,0h2M552,0h1M556,0h3M562,0h3M566,0h1M569,0h1M571,0h1M660,0h2M665,0h2M668,0h2M678,0h1M750,0h2M753,0h1M755,0h2M783,0h1M788,0h3M792,0h1M805,0h1M874,0h1M980,0h1"/>
<path stroke="#ff7300" d="M122,0h1M129,0h2M289,0h2M313,0h1M318,0h2M321,0h1M323,0h1M455,0h3M459,0h1M462,0h2M466,0h1M507,0h1M554,0h1M565,0h1M570,0h1M572,0h1M653,0h2M656,0h1M659,0h1M663,0h2M667,0h1M681,0h1M749,0h1M754,0h1"/>
<path stroke="#ff5900" d="M317,0h1M464,0h1M467,0h4M473,0h1M475,0h3M479,0h1M508,0h1M539,0h1M542,0h1M544,0h1M546,0h1M548,0h4M573,0h1M651,0h2M658,0h1M752,0h1M875,0h4"/>
<path stroke="#ff4000" d="M314,0h3M465,0h1M471,0h1M482,0h1M484,0h1M486,0h1M491,0h1M495,0h1M499,0h2M516,0h1M532,0h1M537,0h2M540,0h2M543,0h1M545,0h1M655,0h1M657,0h1"/>
<path stroke="#ff2600" d="M472,0h1M474,0h1M478,0h1M480,0h2M488,0h2M492,0h3M496,0h2M501,0h1M503,0h1M505,0h2M509,0h1M511,0h5M521,0h1M524,0h1M526,0h4M531,0h1M533,0h1M536,0h1M547,0h1"/>
<path stroke="#ff0d00" d="M483,0h1M485,0h1M487,0h1M498,0h1M502,0h1M504,0h1M517,0h1M520,0h1M522,0h2M525,0h1M534,0h2"/>
<path stroke="#f20000" d="M490,0h1M510,0h1M518,0h2M530,0h1"/>
<path stroke="#1fc7ff" d="M1026,0h1"/>
<path stroke="#1fddff" d="M1024,0h1"/>
<path stroke="#1ff4ff" d="M1021,0h1"/>
</g>
<g transform="translate(188.7,806.5) scale(1.33315,1)" stroke-width="9">
<path stroke="#000dff" d="M1030,0h1M1039,0h3"/>
<path stroke="#0026ff" d="M1031,0h2M1043,0h1M1047,0h2"/>
<path stroke="#0040ff" d="M1033,0h2M1044,0h1M1049,0h1M1053,0h1"/>
<path stroke="#0059ff" d="M1029,0h1M1035,0h1M1046,0h1M1052,0h1M1055,0h2M1060,0h1"/>
<path stroke="#0073ff" d="M1054,0h1M1061,0h1"/>
<path stroke="#00a6ff" d="M1062,0h1"/>
<path stroke="#00f2ff" d="M1063,0h1"/>
<path stroke="#00ffd7" d="M949,0h2M1064,0h1"/>
<path stroke="#00ffbb" d="M371,0h1M373,0h1M698,0h2M703,0h1M820,0h1M948,0h1M952,0h1M1018,0h2"/>
<path stroke="#00ff9c" d="M81,0h1M110,0h3M114,0h1M170,0h1M274,0h1M367,0h1M688,0h1M691,0h1M693,0h2M696,0h1M701,0h2M705,0h1M849,0h1M947,0h1M951,0h1M988,0h3M1065,0h1"/>
<path stroke="#00fc7b" d="M11,0h1M15,0h1M17,0h1M60,0h1M70,0h1M79,0h2M82,0h2M109,0h1M113,0h1M116,0h1M168,0h1M171,0h3M178,0h3M182,0h2M185,0h1M241,0h1M364,0h1M366,0h1M369,0h2M372,0h1M382,0h1M388,0h1M689,0h2M692,0h1M695,0h1M704,0h1M706,0h2M816,0h1M850,0h2M942,0h1M946,0h1M953,0h2M957,0h1M991,0h1M1015,0h1M1017,0h1M1066,0h1"/>
<path stroke="#5fff55" d="M3,0h1M7,0h1M9,0h2M18,0h1M21,0h1M61,0h1M65,0h1M67,0h1M72,0h1M85,0h1M88,0h1M108,0h1M115,0h1M166,0h1M169,0h1M174,0h4M181,0h1M186,0h2M189,0h1M215,0h1M219,0h1M222,0h2M226,0h1M240,0h1M243,0h2M260,0h1M262,0h2M266,0h2M270,0h4M363,0h1M365,0h1M368,0h1M374,0h2M384,0h1M390,0h1M617,0h1M687,0h1M700,0h1M709,0h2M815,0h1M819,0h1M832,0h1M847,0h1M852,0h1M943,0h3M956,0h1M959,0h1M987,0h1M992,0h1M1067,0h1M1078,0h2"/>
<path stroke="#7aff3e" d="M0,0h2M5,0h1M12,0h3M16,0h1M19,0h1M22,0h2M25,0h1M41,0h2M58,0h1M62,0h1M66,0h1M68,0h1M71,0h1M84,0h1M86,0h1M90,0h1M117,0h1M137,0h1M167,0h1M184,0h1M191,0h1M196,0h1M205,0h1M211,0h1M213,0h2M216,0h2M221,0h1M224,0h1M227,0h1M231,0h1M234,0h1M236,0h1M239,0h1M245,0h1M247,0h1M256,0h1M258,0h1M265,0h1M268,0h1M275,0h1M342,0h1M355,0h1M360,0h1M362,0h1M376,0h1M378,0h4M385,0h2M389,0h1M392,0h1M420,0h1M601,0h2M606,0h1M610,0h2M614,0h1M616,0h1M618,0h2M708,0h1M712,0h1M813,0h2M821,0h2M844,0h1M854,0h1M913,0h1M939,0h1M941,0h1M955,0h1M958,0h1M986,0h1M993,0h1M1001,0h1M1003,0h1M1014,0h1M1016,0h1M1072,0h1M1077,0h1"/>
<path stroke="#a5ff16" d="M2,0h1M4,0h1M6,0h1M8,0h1M20,0h1M24,0h1M26,0h2M30,0h2M35,0h1M38,0h1M43,0h2M59,0h1M63,0h2M69,0h1M73,0h2M77,0h2M87,0h1M89,0h1M93,0h1M135,0h2M138,0h1M141,0h2M156,0h3M160,0h2M188,0h1M190,0h1M194,0h2M198,0h2M202,0h1M206,0h1M210,0h1M212,0h1M218,0h1M220,0h1M225,0h1M228,0h3M235,0h1M238,0h1M242,0h1M246,0h1M251,0h1M253,0h1M255,0h1M259,0h1M261,0h1M264,0h1M269,0h1M277,0h2M339,0h1M344,0h1M346,0h2M349,0h1M352,0h3M356,0h1M358,0h2M361,0h1M377,0h1M383,0h1M387,0h1M391,0h1M393,0h3M417,0h1M419,0h1M426,0h1M604,0h1M607,0h2M612,0h2M615,0h1M632,0h1M635,0h1M686,0h1M697,0h1M711,0h1M727,0h2M734,0h1M812,0h1M817,0h2M829,0h2M833,0h2M845,0h2M848,0h1M853,0h1M899,0h1M902,0h1M905,0h1M915,0h1M940,0h1M960,0h1M968,0h1M971,0h1M973,0h1M983,0h1M985,0h1M995,0h1M998,0h1M1005,0h1M1013,0h1M1068,0h4M1076,0h1"/>
<path stroke="#cdff00" d="M29,0h1M32,0h1M34,0h1M36,0h2M39,0h2M46,0h1M94,0h1M96,0h2M106,0h1M140,0h1M159,0h1M162,0h4M192,0h2M197,0h1M201,0h1M203,0h2M207,0h1M232,0h2M237,0h1M248,0h2M252,0h1M254,0h1M257,0h1M276,0h1M279,0h4M284,0h1M298,0h1M301,0h2M341,0h1M343,0h1M345,0h1M348,0h1M357,0h1M418,0h1M423,0h1M440,0h1M582,0h1M603,0h1M605,0h1M609,0h1M620,0h1M633,0h2M636,0h1M641,0h2M685,0h1M716,0h1M725,0h2M729,0h1M736,0h1M771,0h1M823,0h1M831,0h1M835,0h1M838,0h1M856,0h1M859,0h1M864,0h4M898,0h1M903,0h2M906,0h3M914,0h1M916,0h2M919,0h1M921,0h1M924,0h1M961,0h1M963,0h1M969,0h1M972,0h1M984,0h1M994,0h1M997,0h1M999,0h2M1002,0h1M1004,0h1M1006,0h1M1073,0h1"/>
<path stroke="#efff00" d="M28,0h1M33,0h1M45,0h1M56,0h2M76,0h1M91,0h2M95,0h1M107,0h1M118,0h1M143,0h1M153,0h3M200,0h1M208,0h2M250,0h1M283,0h1M294,0h3M303,0h3M338,0h1M340,0h1M350,0h1M416,0h1M421,0h2M424,0h2M427,0h1M579,0h3M583,0h1M592,0h1M599,0h1M623,0h2M631,0h1M637,0h1M643,0h2M713,0h2M731,0h3M737,0h1M741,0h1M763,0h3M776,0h1M801,0h1M811,0h1M824,0h1M841,0h3M855,0h1M857,0h2M860,0h1M891,0h2M896,0h1M900,0h2M933,0h2M937,0h2M962,0h1M964,0h1M967,0h1M970,0h1M982,0h1M1007,0h2M1012,0h1M1075,0h1"/>
<path stroke="#fff200" d="M75,0h1M119,0h1M134,0h1M139,0h1M151,0h1M285,0h1M299,0h2M306,0h2M337,0h1M351,0h1M396,0h2M402,0h1M428,0h1M434,0h1M438,0h2M576,0h1M578,0h1M589,0h1M591,0h1M593,0h1M595,0h4M600,0h1M622,0h1M626,0h1M629,0h2M638,0h3M645,0h1M647,0h1M684,0h1M717,0h1M723,0h2M730,0h1M735,0h1M743,0h2M760,0h2M767,0h1M769,0h2M773,0h1M781,0h1M796,0h1M825,0h1M836,0h1M839,0h2M861,0h2M868,0h1M886,0h2M890,0h1M893,0h3M897,0h1M909,0h4M918,0h1M920,0h1M922,0h1M925,0h2M929,0h2M932,0h1M935,0h2M966,0h1M976,0h2M981,0h1M996,0h1M1009,0h2M1074,0h1"/>
<path stroke="#ffd800" d="M48,0h1M98,0h1M100,0h1M103,0h2M132,0h2M286,0h2M297,0h1M308,0h2M403,0h1M430,0h4M435,0h3M441,0h2M577,0h1M588,0h1M590,0h1M594,0h1M621,0h1M625,0h1M627,0h1M646,0h1M648,0h1M671,0h1M674,0h2M682,0h1M715,0h1M719,0h1M721,0h1M738,0h1M742,0h1M762,0h1M768,0h1M772,0h1M774,0h2M777,0h1M793,0h1M808,0h1M810,0h1M828,0h1M837,0h1M869,0h2M872,0h1M883,0h1M888,0h2M923,0h1M927,0h2M931,0h1M965,0h1M974,0h1M1011,0h1"/>
<path stroke="#ffbf00" d="M47,0h1M49,0h3M54,0h2M99,0h1M101,0h1M120,0h1M144,0h1M147,0h1M149,0h1M152,0h1M293,0h1M310,0h1M327,0h2M331,0h1M336,0h1M398,0h4M405,0h1M409,0h1M413,0h3M429,0h1M444,0h1M446,0h1M561,0h1M568,0h1M575,0h1M584,0h1M586,0h2M628,0h1M672,0h2M676,0h1M683,0h1M718,0h1M720,0h1M722,0h1M740,0h1M745,0h1M747,0h1M766,0h1M778,0h3M782,0h3M787,0h1M791,0h1M795,0h1M799,0h2M803,0h1M807,0h1M809,0h1M863,0h1M871,0h1M882,0h1M975,0h1M978,0h1"/>
<path stroke="#ffa500" d="M52,0h2M102,0h1M105,0h1M125,0h3M131,0h1M145,0h2M148,0h1M150,0h1M292,0h1M322,0h1M329,0h1M334,0h2M404,0h1M406,0h3M410,0h1M412,0h1M443,0h1M445,0h1M447,0h1M559,0h2M585,0h1M649,0h1M669,0h2M739,0h1M748,0h1M757,0h1M759,0h1M785,0h2M788,0h1M792,0h1M794,0h1M797,0h2M802,0h1M804,0h3M827,0h1M873,0h1M880,0h2M884,0h2M980,0h1"/>
<path stroke="#ff8c00" d="M121,0h1M128,0h1M289,0h1M291,0h1M312,0h1M324,0h3M330,0h1M332,0h1M411,0h1M450,0h1M454,0h1M458,0h1M460,0h1M552,0h5M558,0h1M562,0h3M566,0h2M569,0h3M650,0h1M665,0h2M668,0h1M677,0h1M679,0h3M746,0h1M749,0h2M753,0h1M755,0h1M758,0h1M826,0h1M874,0h1M879,0h1M979,0h1"/>
<path stroke="#ff7300" d="M122,0h3M130,0h1M288,0h1M311,0h1M319,0h3M323,0h1M333,0h1M448,0h2M453,0h1M457,0h1M461,0h3M557,0h1M572,0h3M651,0h3M658,0h7M667,0h1M678,0h1M751,0h2M789,0h2M875,0h1"/>
<path stroke="#ff5900" d="M129,0h1M290,0h1M313,0h1M316,0h3M451,0h2M455,0h1M466,0h2M476,0h2M479,0h1M507,0h1M539,0h1M550,0h2M654,0h3M754,0h1M756,0h1M876,0h3"/>
<path stroke="#ff4000" d="M314,0h2M456,0h1M464,0h2M468,0h2M471,0h2M475,0h1M478,0h1M503,0h1M505,0h1M508,0h1M540,0h1M543,0h3M547,0h3M565,0h1M657,0h1"/>
<path stroke="#ff2600" d="M459,0h1M470,0h1M473,0h1M481,0h2M486,0h1M492,0h1M495,0h1M499,0h4M506,0h1M509,0h2M512,0h2M516,0h1M520,0h1M525,0h1M527,0h1M529,0h1M536,0h1M538,0h1M541,0h2M546,0h1"/>
<path stroke="#ff0d00" d="M474,0h1M480,0h1M483,0h2M487,0h2M490,0h2M493,0h2M496,0h1M498,0h1M511,0h1M514,0h2M519,0h1M522,0h1M526,0h1M528,0h1M530,0h5M537,0h1"/>
<path stroke="#f20000" d="M485,0h1M489,0h1M497,0h1M504,0h1M517,0h2M521,0h1M523,0h2M535,0h1"/>
<path stroke="#1f40ff" d="M1058,0h1"/>
<path stroke="#1f57ff" d="M1037,0h1"/>
<path stroke="#1fb0ff" d="M1024,0h1"/>
<path stroke="#1fc7ff" d="M1026,0h1"/>
<path stroke="#1ff4ff" d="M1021,0h1"/>
</g>
<g transform="translate(188.7,797) scale(1.33315,1)" stroke-width="10">
<path stroke="#00008d" d="M1033,0h1"/>
<path stroke="#0000a6" d="M1039,0h3"/>
<path stroke="#0000c0" d="M1043,0h1"/>
<path stroke="#0000d9" d="M1048,0h1M1060,0h1"/>
<path stroke="#0000f2" d="M1034,0h1M1055,0h1"/>
<path stroke="#000dff" d="M1035,0h1M1046,0h2M1049,0h1M1053,0h1M1061,0h1"/>
<path stroke="#0026ff" d="M1044,0h1M1052,0h1M1054,0h1M1056,0h1M1062,0h1"/>
<path stroke="#00bfff" d="M1063,0h1"/>
<path stroke="#00fff2" d="M948,0h2M1064,0h1"/>
<path stroke="#00ffd7" d="M693,0h2M950,0h3M1065,0h1"/>
<path stroke="#00ffbb" d="M110,0h1M113,0h1M368,0h2M373,0h1M698,0h2M947,0h1M1018,0h1"/>
<path stroke="#00ff9c" d="M79,0h5M111,0h2M114,0h1M170,0h1M172,0h2M364,0h1M366,0h1M372,0h1M689,0h3M695,0h1M701,0h2M709,0h1M819,0h1M849,0h1M942,0h1M946,0h1M953,0h1M988,0h4M1017,0h1M1019,0h1M1066,0h1"/>
<path stroke="#00fc7b" d="M15,0h1M60,0h1M65,0h1M67,0h1M84,0h1M86,0h1M109,0h1M115,0h1M174,0h3M179,0h4M184,0h1M244,0h1M273,0h2M365,0h1M367,0h1M370,0h2M375,0h2M388,0h1M688,0h1M692,0h1M696,0h1M703,0h4M818,0h1M820,0h1M850,0h2M943,0h3M954,0h1M957,0h1M986,0h2"/>
<path stroke="#5fff55" d="M3,0h1M7,0h7M16,0h3M20,0h1M30,0h1M41,0h1M66,0h1M70,0h2M85,0h1M108,0h1M166,0h3M171,0h1M177,0h2M183,0h1M185,0h3M189,0h1M199,0h1M220,0h5M240,0h2M260,0h1M263,0h1M267,0h6M275,0h1M362,0h2M374,0h1M378,0h1M384,0h2M390,0h2M601,0h1M617,0h1M619,0h1M687,0h1M697,0h1M700,0h1M707,0h1M710,0h1M813,0h5M832,0h1M844,0h1M852,0h1M939,0h1M992,0h1M1015,0h2M1067,0h1M1069,0h1M1071,0h1M1079,0h1"/>
<path stroke="#7aff3e" d="M0,0h3M5,0h1M14,0h1M19,0h1M21,0h2M27,0h1M31,0h1M35,0h1M38,0h1M40,0h1M42,0h1M44,0h1M58,0h2M61,0h3M68,0h2M72,0h1M78,0h1M87,0h3M93,0h1M116,0h1M137,0h2M160,0h1M169,0h1M190,0h2M194,0h1M211,0h1M213,0h1M215,0h3M219,0h1M225,0h3M235,0h1M239,0h1M242,0h2M245,0h1M253,0h1M256,0h1M258,0h1M262,0h1M265,0h2M276,0h3M281,0h1M342,0h1M355,0h1M359,0h3M381,0h2M386,0h2M389,0h1M392,0h2M602,0h1M606,0h1M608,0h1M610,0h1M615,0h2M618,0h1M685,0h2M708,0h1M712,0h1M812,0h1M821,0h2M847,0h2M854,0h1M902,0h1M941,0h1M955,0h2M997,0h1M1003,0h1M1014,0h1M1068,0h1M1076,0h3"/>
<path stroke="#a5ff16" d="M4,0h1M6,0h1M23,0h3M37,0h1M39,0h1M43,0h1M45,0h1M64,0h1M73,0h2M91,0h2M107,0h1M135,0h2M161,0h2M165,0h1M188,0h1M192,0h1M195,0h1M200,0h1M202,0h1M204,0h2M209,0h2M212,0h1M214,0h1M218,0h1M231,0h1M233,0h2M236,0h3M246,0h2M254,0h2M257,0h1M259,0h1M261,0h1M264,0h1M279,0h1M301,0h1M341,0h1M343,0h3M347,0h2M353,0h2M356,0h1M358,0h1M377,0h1M379,0h2M383,0h1M394,0h2M419,0h2M426,0h1M607,0h1M609,0h1M611,0h4M633,0h1M642,0h1M711,0h1M726,0h1M729,0h1M734,0h1M831,0h1M833,0h1M845,0h1M853,0h1M866,0h2M905,0h3M913,0h1M915,0h2M940,0h1M958,0h3M968,0h6M983,0h3M993,0h2M1001,0h1M1005,0h2M1070,0h1M1072,0h1"/>
<path stroke="#cdff00" d="M26,0h1M29,0h1M32,0h3M36,0h1M56,0h1M75,0h1M77,0h1M90,0h1M94,0h3M117,0h1M139,0h3M155,0h2M158,0h2M163,0h2M193,0h1M196,0h1M198,0h1M203,0h1M206,0h3M228,0h3M248,0h5M280,0h1M282,0h1M295,0h1M302,0h1M304,0h1M337,0h3M346,0h1M349,0h1M352,0h1M357,0h1M417,0h1M422,0h1M424,0h2M579,0h1M581,0h1M603,0h3M631,0h2M637,0h1M643,0h1M713,0h2M716,0h1M725,0h1M727,0h2M736,0h1M829,0h1M834,0h1M843,0h1M846,0h1M855,0h2M858,0h2M864,0h2M868,0h1M894,0h1M899,0h1M903,0h2M908,0h1M914,0h1M917,0h1M919,0h2M933,0h2M938,0h1M961,0h3M995,0h1M998,0h3M1002,0h1M1004,0h1M1013,0h1M1073,0h1M1075,0h1"/>
<path stroke="#efff00" d="M28,0h1M46,0h1M57,0h1M76,0h1M97,0h1M106,0h1M118,0h1M134,0h1M142,0h1M153,0h1M157,0h1M197,0h1M201,0h1M232,0h1M284,0h1M294,0h1M296,0h1M298,0h3M303,0h1M305,0h2M340,0h1M350,0h2M398,0h1M416,0h1M418,0h1M421,0h1M423,0h1M427,0h1M432,0h1M439,0h2M577,0h1M580,0h1M582,0h1M588,0h2M592,0h1M599,0h2M620,0h1M623,0h1M629,0h2M634,0h3M639,0h3M644,0h1M683,0h2M723,0h1M730,0h4M740,0h2M760,0h1M764,0h1M767,0h1M769,0h1M771,0h1M774,0h3M811,0h1M823,0h2M830,0h1M835,0h1M838,0h1M841,0h2M857,0h1M860,0h1M891,0h3M895,0h1M898,0h1M900,0h2M909,0h1M911,0h1M921,0h1M923,0h1M932,0h1M935,0h1M937,0h1M964,0h1M967,0h1M974,0h1M996,0h1M1007,0h1M1009,0h1M1074,0h1"/>
<path stroke="#fff200" d="M99,0h1M143,0h1M151,0h1M154,0h1M283,0h1M285,0h1M287,0h1M297,0h1M308,0h1M336,0h1M396,0h2M402,0h2M428,0h1M431,0h1M436,0h1M441,0h2M576,0h1M578,0h1M583,0h1M590,0h2M593,0h1M595,0h2M598,0h1M621,0h2M624,0h1M675,0h1M715,0h1M717,0h2M721,0h1M724,0h1M737,0h1M742,0h1M761,0h3M765,0h1M772,0h1M801,0h1M808,0h2M836,0h2M861,0h3M869,0h2M889,0h1M896,0h2M912,0h1M922,0h1M924,0h2M930,0h2M936,0h1M966,0h1M976,0h2M981,0h1M1008,0h1M1010,0h3"/>
<path stroke="#ffd800" d="M47,0h1M54,0h2M98,0h1M100,0h1M105,0h1M132,0h2M144,0h1M286,0h1M307,0h1M309,0h1M401,0h1M405,0h1M433,0h3M437,0h2M444,0h1M575,0h1M587,0h1M594,0h1M625,0h2M638,0h1M645,0h2M674,0h1M682,0h1M719,0h2M735,0h1M739,0h1M743,0h2M766,0h1M768,0h1M770,0h1M773,0h1M777,0h1M780,0h3M795,0h1M806,0h1M810,0h1M825,0h1M828,0h1M839,0h2M886,0h2M890,0h1M910,0h1M918,0h1M926,0h1M929,0h1M965,0h1M982,0h1"/>
<path stroke="#ffbf00" d="M48,0h3M53,0h1M101,0h4M119,0h2M149,0h1M152,0h1M293,0h1M310,0h1M328,0h1M331,0h1M334,0h1M399,0h1M408,0h1M413,0h3M430,0h1M443,0h1M446,0h1M559,0h1M561,0h1M584,0h3M597,0h1M627,0h1M647,0h2M670,0h2M673,0h1M722,0h1M738,0h1M745,0h1M778,0h2M784,0h1M787,0h1M791,0h1M793,0h2M797,0h1M799,0h2M807,0h1M826,0h1M871,0h1M873,0h1M882,0h2M888,0h1M927,0h2M975,0h1M978,0h1"/>
<path stroke="#ffa500" d="M51,0h2M124,0h3M145,0h1M147,0h1M150,0h1M292,0h1M326,0h2M329,0h1M332,0h1M335,0h1M400,0h1M404,0h1M406,0h1M409,0h3M429,0h1M553,0h1M564,0h1M567,0h2M628,0h1M649,0h1M666,0h1M669,0h1M672,0h1M676,0h2M747,0h1M757,0h3M783,0h1M785,0h2M788,0h1M792,0h1M796,0h1M798,0h1M802,0h4M827,0h1M872,0h1M880,0h1M885,0h1M979,0h2"/>
<path stroke="#ff8c00" d="M121,0h1M127,0h2M130,0h2M146,0h1M291,0h1M322,0h1M324,0h1M333,0h1M407,0h1M412,0h1M445,0h1M447,0h1M458,0h1M552,0h1M554,0h2M557,0h2M560,0h1M562,0h1M566,0h1M569,0h2M572,0h1M574,0h1M650,0h1M661,0h2M664,0h1M679,0h3M746,0h1M748,0h1M750,0h2M753,0h1M755,0h2M874,0h1M881,0h1M884,0h1"/>
<path stroke="#ff7300" d="M122,0h2M129,0h1M148,0h1M288,0h2M311,0h3M319,0h3M323,0h1M325,0h1M330,0h1M448,0h3M453,0h3M457,0h1M460,0h2M563,0h1M565,0h1M571,0h1M573,0h1M652,0h1M660,0h1M663,0h1M665,0h1M667,0h1M749,0h1M754,0h1M790,0h1M877,0h3"/>
<path stroke="#ff5900" d="M290,0h1M315,0h1M317,0h2M452,0h1M462,0h3M466,0h1M468,0h1M477,0h1M543,0h1M549,0h3M556,0h1M653,0h7M668,0h1M678,0h1M752,0h1M789,0h1M875,0h2"/>
<path stroke="#ff4000" d="M314,0h1M316,0h1M451,0h1M456,0h1M459,0h1M469,0h3M473,0h1M475,0h2M479,0h1M507,0h1M516,0h1M536,0h1M539,0h2M545,0h3M651,0h1"/>
<path stroke="#ff2600" d="M465,0h1M467,0h1M472,0h1M474,0h1M478,0h1M489,0h1M493,0h1M496,0h1M501,0h1M503,0h1M505,0h1M509,0h1M513,0h2M526,0h1M528,0h1M532,0h1M538,0h1M542,0h1M544,0h1M548,0h1"/>
<path stroke="#ff0d00" d="M480,0h3M484,0h5M495,0h1M497,0h4M502,0h1M506,0h1M508,0h1M511,0h2M515,0h1M517,0h2M520,0h2M525,0h1M527,0h1M529,0h1M531,0h1M533,0h1M537,0h1M541,0h1"/>
<path stroke="#f20000" d="M483,0h1M490,0h3M494,0h1M504,0h1M522,0h3M530,0h1M534,0h2"/>
<path stroke="#d90000" d="M510,0h1M519,0h1"/>
<path stroke="#1f1fb1" d="M1031,0h1M1058,0h1"/>
<path stroke="#1f1fc7" d="M1037,0h1"/>
<path stroke="#1f2aff" d="M1024,0h1M1029,0h1"/>
<path stroke="#1f40ff" d="M1026,0h1"/>
<path stroke="#1fddff" d="M1021,0h1"/>
</g>
<g transform="translate(188.7,787) scale(1.33315,1)" stroke-width="10">
<path stroke="#0000c0" d="M1033,0h1M1040,0h1M1043,0h1M1049,0h1M1053,0h2"/>
<path stroke="#0000d9" d="M1034,0h2M1047,0h1M1056,0h1M1060,0h2"/>
<path stroke="#0000f2" d="M1041,0h1M1046,0h1M1048,0h1M1052,0h1M1062,0h1"/>
<path stroke="#0026ff" d="M1044,0h1"/>
<path stroke="#0040ff" d="M1063,0h1"/>
<path stroke="#0059ff" d="M1055,0h1"/>
<path stroke="#00f2ff" d="M948,0h1M1018,0h1"/>
<path stroke="#00fff2" d="M110,0h1M949,0h2M952,0h1M1019,0h1"/>
<path stroke="#00ffd7" d="M80,0h2M170,0h1M373,0h1M691,0h1M693,0h1M696,0h1M698,0h1M947,0h1M951,0h1M989,0h1M1065,0h2"/>
<path stroke="#00ffbb" d="M79,0h1M83,0h1M111,0h2M172,0h1M368,0h3M689,0h1M692,0h1M694,0h2M699,0h1M701,0h2M704,0h1M820,0h1M849,0h1M942,0h3M946,0h1M988,0h1M990,0h1M1017,0h1"/>
<path stroke="#00ff9c" d="M11,0h1M15,0h1M17,0h1M82,0h1M109,0h1M114,0h2M168,0h1M173,0h2M180,0h1M270,0h1M273,0h2M364,0h4M371,0h2M374,0h3M690,0h1M703,0h1M705,0h3M851,0h1M945,0h1M953,0h1M987,0h1M991,0h1M1067,0h1"/>
<path stroke="#00fc7b" d="M5,0h1M9,0h1M12,0h1M16,0h1M21,0h1M67,0h1M70,0h1M86,0h1M88,0h1M113,0h1M169,0h1M171,0h1M175,0h3M179,0h1M183,0h1M185,0h1M189,0h1M222,0h2M241,0h1M260,0h1M263,0h1M265,0h2M271,0h2M275,0h1M344,0h1M363,0h1M378,0h1M381,0h1M389,0h1M606,0h1M687,0h2M697,0h1M700,0h1M708,0h2M814,0h1M816,0h2M819,0h1M832,0h1M845,0h1M850,0h1M941,0h1M954,0h2M957,0h1M986,0h1M1015,0h1M1077,0h1"/>
<path stroke="#5fff55" d="M3,0h1M7,0h2M10,0h1M13,0h1M18,0h3M23,0h1M30,0h1M38,0h1M41,0h1M43,0h1M58,0h1M60,0h3M65,0h2M68,0h1M71,0h1M78,0h1M84,0h2M108,0h1M166,0h2M178,0h1M181,0h2M184,0h1M186,0h2M211,0h1M215,0h1M219,0h2M224,0h1M239,0h2M242,0h1M244,0h2M247,0h1M258,0h1M262,0h1M267,0h2M341,0h2M359,0h4M379,0h1M382,0h1M384,0h1M386,0h1M388,0h1M390,0h1M393,0h1M602,0h1M608,0h1M610,0h1M614,0h1M616,0h1M710,0h1M712,0h1M815,0h1M818,0h1M821,0h1M833,0h1M844,0h1M846,0h3M913,0h1M939,0h1M956,0h1M959,0h1M992,0h2M1014,0h1M1016,0h1M1068,0h4M1076,0h1M1078,0h2"/>
<path stroke="#7aff3e" d="M0,0h1M4,0h1M6,0h1M14,0h1M22,0h1M24,0h2M27,0h1M31,0h1M34,0h3M39,0h2M42,0h1M44,0h1M59,0h1M63,0h2M69,0h1M74,0h1M87,0h1M89,0h2M92,0h2M116,0h2M137,0h2M165,0h1M188,0h1M190,0h2M195,0h1M199,0h2M208,0h1M210,0h1M213,0h2M217,0h2M221,0h1M225,0h3M237,0h1M243,0h1M246,0h1M254,0h1M256,0h2M259,0h1M261,0h1M264,0h1M269,0h1M276,0h2M347,0h1M349,0h1M352,0h1M354,0h2M377,0h1M383,0h1M385,0h1M387,0h1M391,0h1M394,0h2M420,0h1M601,0h1M607,0h1M609,0h1M611,0h3M615,0h1M617,0h3M685,0h2M726,0h2M729,0h1M812,0h2M822,0h1M830,0h2M852,0h3M865,0h1M905,0h2M958,0h1M968,0h1M971,0h1M983,0h1M985,0h1M994,0h2M1001,0h1M1003,0h1M1072,0h1M1075,0h1"/>
<path stroke="#a5ff16" d="M1,0h2M29,0h1M32,0h1M37,0h1M72,0h2M77,0h1M91,0h1M94,0h1M135,0h2M157,0h2M160,0h1M194,0h1M197,0h1M202,0h6M209,0h1M212,0h1M216,0h1M228,0h1M231,0h1M234,0h3M238,0h1M249,0h1M251,0h1M253,0h1M255,0h1M278,0h1M282,0h1M302,0h1M338,0h2M343,0h1M345,0h2M348,0h1M350,0h1M353,0h1M356,0h3M380,0h1M392,0h1M419,0h1M423,0h1M425,0h2M603,0h3M620,0h1M631,0h1M711,0h1M725,0h1M728,0h1M730,0h2M834,0h2M858,0h1M864,0h1M866,0h2M899,0h1M902,0h1M904,0h1M907,0h2M915,0h1M917,0h1M940,0h1M960,0h1M969,0h2M972,0h1M984,0h1M997,0h4M1002,0h1M1073,0h2"/>
<path stroke="#cdff00" d="M26,0h1M28,0h1M33,0h1M45,0h1M57,0h1M75,0h2M95,0h3M107,0h1M118,0h1M139,0h3M153,0h1M155,0h2M159,0h1M161,0h4M192,0h2M196,0h1M198,0h1M201,0h1M229,0h2M233,0h1M248,0h1M250,0h1M252,0h1M279,0h3M284,0h1M298,0h1M301,0h1M305,0h1M340,0h1M351,0h1M416,0h3M421,0h2M424,0h1M580,0h2M589,0h1M592,0h1M599,0h1M629,0h1M632,0h2M635,0h1M638,0h6M713,0h2M716,0h1M733,0h2M741,0h1M765,0h1M774,0h1M829,0h1M836,0h1M842,0h2M856,0h2M859,0h1M868,0h1M898,0h1M900,0h1M903,0h1M914,0h1M916,0h1M919,0h2M933,0h2M938,0h1M961,0h3M996,0h1M1004,0h4M1013,0h1"/>
<path stroke="#efff00" d="M46,0h1M56,0h1M106,0h1M132,0h3M142,0h2M154,0h1M232,0h1M294,0h4M299,0h2M303,0h2M337,0h1M396,0h2M427,0h1M434,0h1M436,0h1M440,0h1M576,0h4M582,0h1M590,0h1M600,0h1M622,0h3M634,0h1M636,0h2M644,0h1M683,0h2M723,0h2M732,0h1M736,0h3M764,0h1M767,0h1M769,0h4M775,0h1M801,0h1M808,0h1M811,0h1M823,0h1M838,0h2M841,0h1M860,0h2M869,0h1M889,0h1M891,0h4M896,0h2M901,0h1M918,0h1M921,0h1M924,0h2M930,0h3M935,0h1M937,0h1M964,0h1M966,0h2M973,0h1M982,0h1M1008,0h2"/>
<path stroke="#fff200" d="M98,0h3M151,0h1M283,0h1M285,0h2M306,0h2M336,0h1M401,0h1M403,0h1M433,0h1M435,0h1M438,0h2M441,0h1M575,0h1M584,0h1M588,0h1M591,0h1M593,0h1M595,0h2M625,0h2M630,0h1M645,0h1M671,0h1M682,0h1M715,0h1M717,0h1M720,0h2M735,0h1M740,0h1M742,0h3M761,0h3M766,0h1M773,0h1M776,0h1M794,0h1M799,0h1M810,0h1M824,0h2M837,0h1M840,0h1M855,0h1M862,0h2M890,0h1M895,0h1M909,0h2M912,0h1M923,0h1M929,0h1M936,0h1M974,0h1M1010,0h3"/>
<path stroke="#ffd800" d="M47,0h2M53,0h3M101,0h1M103,0h3M119,0h1M152,0h1M287,0h1M293,0h1M308,0h2M327,0h2M398,0h1M405,0h1M413,0h1M415,0h1M428,0h1M430,0h3M437,0h1M442,0h1M444,0h1M583,0h1M587,0h1M594,0h1M597,0h2M621,0h1M627,0h2M646,0h1M675,0h1M718,0h1M722,0h1M739,0h1M745,0h1M760,0h1M768,0h1M780,0h2M795,0h1M798,0h1M800,0h1M809,0h1M826,0h1M870,0h1M887,0h1M911,0h1M922,0h1M926,0h1M965,0h1M975,0h3M981,0h1"/>
<path stroke="#ffbf00" d="M49,0h2M102,0h1M125,0h2M144,0h2M149,0h2M335,0h1M399,0h1M402,0h1M404,0h1M410,0h1M443,0h1M446,0h1M585,0h2M647,0h1M669,0h2M673,0h2M676,0h1M719,0h1M759,0h1M777,0h3M782,0h3M786,0h2M791,0h1M793,0h1M796,0h1M803,0h1M806,0h2M828,0h1M871,0h3M882,0h3M886,0h1M888,0h1M928,0h1M978,0h1M980,0h1"/>
<path stroke="#ffa500" d="M51,0h2M120,0h2M124,0h1M127,0h1M131,0h1M147,0h2M292,0h1M310,0h2M324,0h1M326,0h1M329,0h1M331,0h1M333,0h2M408,0h1M411,0h2M414,0h1M429,0h1M447,0h1M557,0h1M559,0h3M567,0h2M648,0h2M672,0h1M679,0h3M746,0h1M757,0h2M785,0h1M788,0h2M792,0h1M797,0h1M802,0h1M805,0h1M827,0h1M879,0h2M885,0h1M927,0h1M979,0h1"/>
<path stroke="#ff8c00" d="M123,0h1M130,0h1M146,0h1M288,0h1M291,0h1M322,0h1M325,0h1M332,0h1M400,0h1M407,0h1M409,0h1M445,0h1M460,0h1M552,0h4M558,0h1M562,0h5M571,0h1M573,0h1M661,0h2M668,0h1M677,0h1M747,0h3M751,0h1M753,0h1M755,0h1M790,0h1M804,0h1M874,0h1M877,0h1M881,0h1"/>
<path stroke="#ff7300" d="M122,0h1M128,0h1M289,0h1M312,0h1M320,0h1M323,0h1M330,0h1M406,0h1M449,0h1M451,0h1M454,0h2M457,0h2M569,0h2M574,0h1M650,0h2M656,0h1M663,0h5M678,0h1M750,0h1M752,0h1M754,0h1M756,0h1M875,0h2"/>
<path stroke="#ff5900" d="M129,0h1M290,0h1M313,0h1M317,0h3M321,0h1M448,0h1M450,0h1M453,0h1M456,0h1M461,0h4M466,0h1M473,0h1M477,0h1M507,0h1M550,0h1M556,0h1M572,0h1M652,0h2M658,0h3"/>
<path stroke="#ff4000" d="M314,0h2M452,0h1M459,0h1M468,0h2M472,0h1M475,0h2M481,0h1M539,0h2M542,0h1M544,0h1M546,0h1M548,0h2M551,0h1M654,0h2M657,0h1M878,0h1"/>
<path stroke="#ff2600" d="M316,0h1M465,0h1M467,0h1M470,0h2M474,0h1M478,0h2M486,0h1M488,0h1M500,0h2M503,0h1M513,0h2M525,0h3M532,0h1M536,0h3M543,0h1M545,0h1"/>
<path stroke="#ff0d00" d="M480,0h1M482,0h2M487,0h1M489,0h1M491,0h1M493,0h2M499,0h1M502,0h1M505,0h2M508,0h2M511,0h2M516,0h2M522,0h2M528,0h1M533,0h1M535,0h1M541,0h1M547,0h1"/>
<path stroke="#f20000" d="M484,0h1M492,0h1M495,0h4M504,0h1M510,0h1M515,0h1M519,0h3M524,0h1M529,0h3M534,0h1"/>
<path stroke="#d90000" d="M485,0h1M490,0h1M518,0h1"/>
<path stroke="#1f1fb1" d="M1024,0h1"/>
<path stroke="#1f1fdd" d="M1029,0h1"/>
<path stroke="#1f1ff4" d="M1026,0h1"/>
<path stroke="#1f84ff" d="M1037,0h1"/>
</g>
<g transform="translate(188.7,777.5) scale(1.33315,1)" stroke-width="9">
<path stroke="#0000d9" d="M1048,0h1"/>
<path stroke="#0000f2" d="M1033,0h3M1041,0h1M1049,0h1M1062,0h2"/>
<path stroke="#000dff" d="M1052,0h1M1054,0h1M1060,0h1"/>
<path stroke="#0026ff" d="M1053,0h1"/>
<path stroke="#0040ff" d="M1040,0h1"/>
<path stroke="#0059ff" d="M1061,0h1"/>
<path stroke="#0073ff" d="M950,0h1"/>
<path stroke="#008cff" d="M949,0h1"/>
<path stroke="#00bfff" d="M948,0h1"/>
<path stroke="#00d9ff" d="M1019,0h1"/>
<path stroke="#00f2ff" d="M111,0h1M693,0h1M698,0h1M951,0h1M1065,0h1"/>
<path stroke="#00fff2" d="M689,0h1M699,0h1M947,0h1M952,0h1M988,0h2M1018,0h1M1066,0h1"/>
<path stroke="#00ffd7" d="M81,0h1M83,0h1M110,0h1M112,0h1M273,0h1M368,0h2M371,0h1M373,0h1M375,0h1M691,0h2M694,0h3M701,0h2M704,0h1M942,0h2M946,0h1M1017,0h1"/>
<path stroke="#00ffbb" d="M10,0h1M79,0h2M82,0h1M108,0h2M113,0h2M170,0h3M175,0h1M274,0h1M364,0h2M367,0h1M370,0h1M372,0h1M374,0h1M688,0h1M690,0h1M697,0h1M700,0h1M703,0h1M816,0h1M849,0h1M851,0h1M941,0h1M944,0h2M953,0h2M987,0h1M990,0h2M1015,0h1M1067,0h1"/>
<path stroke="#00ff9c" d="M11,0h1M16,0h1M70,0h1M84,0h1M115,0h1M166,0h1M169,0h1M173,0h1M176,0h2M180,0h2M183,0h1M241,0h1M260,0h1M267,0h1M270,0h2M275,0h1M362,0h1M366,0h1M376,0h1M386,0h1M687,0h1M705,0h3M709,0h1M815,0h1M817,0h1M820,0h1M847,0h1M850,0h1M852,0h1M955,0h1M957,0h1M992,0h1M1016,0h1M1079,0h1"/>
<path stroke="#00fc7b" d="M1,0h3M5,0h1M7,0h3M13,0h1M15,0h1M17,0h1M21,0h1M41,0h1M58,0h4M65,0h1M67,0h2M71,0h1M78,0h1M85,0h2M88,0h1M116,0h1M138,0h1M167,0h2M174,0h1M178,0h2M182,0h1M184,0h2M188,0h2M222,0h2M239,0h1M242,0h2M258,0h1M262,0h2M265,0h2M268,0h2M272,0h1M342,0h1M363,0h1M379,0h1M384,0h2M388,0h3M617,0h2M708,0h1M813,0h2M818,0h1M821,0h1M832,0h1M844,0h1M848,0h1M854,0h1M939,0h1M956,0h1M985,0h2M1014,0h1M1068,0h1M1070,0h1M1077,0h1"/>
<path stroke="#5fff55" d="M0,0h1M4,0h1M6,0h1M12,0h1M14,0h1M18,0h3M25,0h1M27,0h1M30,0h2M35,0h1M38,0h2M42,0h1M44,0h1M62,0h2M66,0h1M72,0h3M87,0h1M90,0h1M93,0h1M136,0h1M186,0h2M190,0h1M194,0h1M212,0h2M215,0h1M217,0h1M221,0h1M225,0h1M227,0h1M240,0h1M244,0h2M253,0h1M256,0h2M259,0h1M261,0h1M264,0h1M276,0h3M343,0h3M347,0h1M349,0h1M352,0h4M357,0h1M359,0h3M378,0h1M381,0h2M387,0h1M393,0h1M395,0h1M601,0h2M606,0h1M608,0h1M610,0h7M685,0h2M710,0h1M712,0h1M726,0h3M819,0h1M831,0h1M833,0h1M845,0h1M853,0h1M913,0h1M940,0h1M959,0h1M969,0h1M993,0h1M995,0h1M1001,0h3M1069,0h1M1071,0h2M1078,0h1"/>
<path stroke="#7aff3e" d="M22,0h3M26,0h1M32,0h1M34,0h1M37,0h1M40,0h1M43,0h1M64,0h1M69,0h1M75,0h1M77,0h1M89,0h1M91,0h2M94,0h1M137,0h1M156,0h1M158,0h1M163,0h1M191,0h1M195,0h1M198,0h3M207,0h5M214,0h1M216,0h1M218,0h3M224,0h1M226,0h1M231,0h1M238,0h1M246,0h2M254,0h1M279,0h3M348,0h1M350,0h2M356,0h1M358,0h1M377,0h1M380,0h1M383,0h1M391,0h2M394,0h1M420,0h1M604,0h1M607,0h1M609,0h1M619,0h1M633,0h1M711,0h1M725,0h1M729,0h1M812,0h1M822,0h1M834,0h1M846,0h1M902,0h1M904,0h2M908,0h1M915,0h1M938,0h1M958,0h1M960,0h2M963,0h1M966,0h1M970,0h2M984,0h1M994,0h1M997,0h4M1004,0h2M1073,0h1M1075,0h2"/>
<path stroke="#a5ff16" d="M28,0h2M33,0h1M36,0h1M56,0h2M76,0h1M95,0h1M106,0h2M117,0h1M135,0h1M139,0h1M142,0h1M157,0h1M160,0h1M164,0h2M192,0h2M196,0h1M202,0h5M228,0h1M230,0h1M232,0h1M234,0h4M248,0h3M252,0h1M255,0h1M282,0h1M295,0h1M297,0h1M299,0h1M301,0h2M337,0h5M346,0h1M396,0h1M417,0h3M423,0h1M425,0h2M440,0h1M579,0h1M599,0h2M603,0h1M605,0h1M631,0h2M634,0h3M638,0h2M641,0h3M684,0h1M713,0h1M716,0h1M723,0h1M730,0h2M733,0h2M830,0h1M835,0h1M841,0h1M843,0h1M856,0h1M858,0h1M866,0h2M896,0h1M898,0h2M903,0h1M906,0h2M916,0h1M933,0h2M936,0h1M968,0h1M972,0h2M983,0h1M1006,0h1M1009,0h1M1012,0h2M1074,0h1"/>
<path stroke="#cdff00" d="M45,0h1M96,0h2M118,0h1M134,0h1M140,0h2M155,0h1M159,0h1M161,0h2M197,0h1M201,0h1M229,0h1M233,0h1M251,0h1M284,0h1M296,0h1M298,0h1M300,0h1M304,0h1M307,0h1M416,0h1M421,0h2M424,0h1M578,0h1M581,0h2M588,0h2M597,0h1M620,0h3M629,0h1M637,0h1M640,0h1M644,0h1M714,0h2M724,0h1M732,0h1M740,0h2M765,0h1M767,0h1M771,0h1M774,0h1M823,0h1M829,0h1M838,0h1M842,0h1M855,0h1M857,0h1M859,0h2M864,0h2M868,0h1M891,0h2M900,0h2M911,0h1M914,0h1M917,0h5M924,0h1M932,0h1M935,0h1M937,0h1M967,0h1M981,0h2M996,0h1M1007,0h2M1010,0h1"/>
<path stroke="#efff00" d="M98,0h2M132,0h2M143,0h1M153,0h1M283,0h1M285,0h1M303,0h1M305,0h1M336,0h1M397,0h1M403,0h1M436,0h1M439,0h1M441,0h1M576,0h2M580,0h1M590,0h2M593,0h1M598,0h1M623,0h2M627,0h1M630,0h1M683,0h1M717,0h1M721,0h1M735,0h3M742,0h1M744,0h1M760,0h5M766,0h1M769,0h1M772,0h1M775,0h2M808,0h1M810,0h2M825,0h1M836,0h2M862,0h1M869,0h2M889,0h2M893,0h3M897,0h1M909,0h2M912,0h1M931,0h1M962,0h1M964,0h1M974,0h1M976,0h1M1011,0h1"/>
<path stroke="#fff200" d="M46,0h3M55,0h1M100,0h1M104,0h2M151,0h1M154,0h1M294,0h1M306,0h1M308,0h2M398,0h1M402,0h1M427,0h2M431,0h2M435,0h1M438,0h1M442,0h1M584,0h1M592,0h1M595,0h2M626,0h1M628,0h1M673,0h1M675,0h1M718,0h3M722,0h1M738,0h2M743,0h1M768,0h1M770,0h1M773,0h1M807,0h1M809,0h1M824,0h1M839,0h2M861,0h1M863,0h1M887,0h1M922,0h1M929,0h2M965,0h1M975,0h1M977,0h1"/>
<path stroke="#ffd800" d="M49,0h2M53,0h2M101,0h1M103,0h1M119,0h1M150,0h1M152,0h1M286,0h1M293,0h1M335,0h1M399,0h1M401,0h1M413,0h3M433,0h2M437,0h1M443,0h1M575,0h1M583,0h1M586,0h2M594,0h1M625,0h1M645,0h3M670,0h3M674,0h1M682,0h1M745,0h1M777,0h6M787,0h1M793,0h5M800,0h2M806,0h1M828,0h1M883,0h1M886,0h1M888,0h1M923,0h1M925,0h2M928,0h1M978,0h1"/>
<path stroke="#ffbf00" d="M51,0h2M102,0h1M120,0h1M124,0h1M131,0h1M144,0h3M149,0h1M287,0h1M327,0h1M332,0h3M404,0h2M429,0h2M568,0h1M755,0h1M759,0h1M784,0h2M798,0h2M802,0h4M826,0h2M882,0h1M884,0h2M927,0h1"/>
<path stroke="#ffa500" d="M125,0h2M291,0h2M310,0h1M324,0h3M328,0h2M400,0h1M406,0h2M410,0h3M445,0h3M557,0h1M559,0h3M563,0h1M574,0h1M585,0h1M648,0h2M662,0h1M665,0h2M669,0h1M676,0h2M679,0h1M746,0h2M754,0h1M758,0h1M783,0h1M786,0h1M791,0h2M871,0h3M879,0h2M979,0h2"/>
<path stroke="#ff8c00" d="M121,0h3M127,0h4M147,0h2M311,0h2M323,0h1M331,0h1M408,0h2M444,0h1M552,0h5M558,0h1M562,0h1M564,0h1M566,0h2M571,0h1M573,0h1M650,0h1M660,0h2M664,0h1M667,0h2M680,0h2M748,0h1M750,0h1M752,0h2M757,0h1M788,0h3M874,0h1M881,0h1"/>
<path stroke="#ff7300" d="M288,0h1M290,0h1M319,0h4M330,0h1M453,0h1M458,0h1M463,0h1M565,0h1M569,0h2M572,0h1M653,0h3M658,0h2M678,0h1M751,0h1M756,0h1M875,0h1M878,0h1"/>
<path stroke="#ff5900" d="M313,0h2M317,0h2M448,0h3M452,0h1M454,0h2M460,0h3M466,0h1M468,0h1M507,0h1M539,0h1M549,0h2M652,0h1M656,0h1M749,0h1M876,0h2"/>
<path stroke="#ff4000" d="M289,0h1M315,0h1M451,0h1M456,0h2M459,0h1M464,0h2M467,0h1M469,0h2M472,0h2M475,0h2M508,0h1M538,0h1M540,0h1M543,0h3M547,0h1M551,0h1M651,0h1M657,0h1M663,0h1"/>
<path stroke="#ff2600" d="M316,0h1M471,0h1M474,0h1M477,0h3M481,0h1M486,0h1M493,0h1M496,0h1M500,0h1M503,0h1M509,0h1M516,0h1M521,0h1M542,0h1M546,0h1M548,0h1"/>
<path stroke="#ff0d00" d="M480,0h1M482,0h1M484,0h1M487,0h2M495,0h1M497,0h1M499,0h1M504,0h1M506,0h1M512,0h1M514,0h2M517,0h1M520,0h1M524,0h6M536,0h2"/>
<path stroke="#f20000" d="M483,0h1M485,0h1M489,0h1M491,0h2M501,0h2M505,0h1M510,0h2M513,0h1M518,0h2M522,0h2M532,0h4M541,0h1"/>
<path stroke="#d90000" d="M490,0h1M494,0h1M498,0h1M530,0h2"/>
<path stroke="#1f1fdd" d="M1024,0h1"/>
<path stroke="#1f2aff" d="M1029,0h1M1046,0h1"/>
<path stroke="#1f40ff" d="M1026,0h1M1056,0h1"/>
<path stroke="#1f6dff" d="M1037,0h1"/>
</g>
<g transform="translate(188.7,765.5) scale(1.33315,1)" stroke-width="15">
<path stroke="#0040ff" d="M1033,0h1"/>
<path stroke="#0059ff" d="M949,0h2"/>
<path stroke="#0073ff" d="M948,0h1"/>
<path stroke="#008cff" d="M951,0h1M1019,0h1M1034,0h1M1052,0h2M1065,0h1"/>
<path stroke="#00bfff" d="M1018,0h1"/>
<path stroke="#00d9ff" d="M693,0h2M989,0h1M1066,0h1"/>
<path stroke="#00f2ff" d="M369,0h1M371,0h1M373,0h1M689,0h1M691,0h1M698,0h2M701,0h3M947,0h1M952,0h1M1017,0h1"/>
<path stroke="#00fff2" d="M79,0h5M110,0h3M274,0h1M364,0h1M367,0h2M370,0h1M372,0h1M690,0h1M692,0h1M695,0h2M704,0h1M706,0h1M849,0h1M943,0h4M988,0h1M990,0h2M1015,0h1"/>
<path stroke="#00ffd7" d="M113,0h2M171,0h1M174,0h1M272,0h2M275,0h1M360,0h1M366,0h1M375,0h1M687,0h2M705,0h1M844,0h1M851,0h1M942,0h1M953,0h1M1016,0h1M1079,0h1"/>
<path stroke="#00ffbb" d="M12,0h1M15,0h1M61,0h1M109,0h1M115,0h1M168,0h2M172,0h2M175,0h1M178,0h1M180,0h2M183,0h1M260,0h1M267,0h1M270,0h2M365,0h1M374,0h1M606,0h1M700,0h1M707,0h3M814,0h3M820,0h1M848,0h1M941,0h1M954,0h1M986,0h2M992,0h1M1014,0h1M1067,0h1M1077,0h1"/>
<path stroke="#00ff9c" d="M1,0h1M3,0h1M8,0h1M11,0h1M13,0h2M16,0h2M27,0h1M37,0h1M58,0h3M62,0h1M65,0h4M70,0h1M84,0h3M89,0h1M108,0h1M137,0h1M167,0h1M170,0h1M176,0h2M179,0h1M185,0h3M189,0h1M222,0h1M241,0h1M262,0h1M264,0h2M268,0h2M276,0h2M347,0h1M354,0h3M358,0h1M361,0h3M376,0h2M384,0h2M388,0h3M615,0h1M617,0h1M619,0h1M686,0h1M697,0h1M710,0h1M726,0h1M813,0h1M817,0h2M833,0h1M846,0h2M852,0h1M940,0h1M955,0h1M957,0h2M1068,0h2M1076,0h1M1078,0h1"/>
<path stroke="#00fc7b" d="M2,0h1M4,0h4M9,0h2M18,0h3M24,0h2M40,0h3M63,0h2M69,0h1M74,0h1M77,0h2M90,0h2M136,0h1M138,0h1M166,0h1M182,0h1M184,0h1M188,0h1M190,0h1M201,0h1M203,0h1M208,0h1M210,0h1M213,0h5M221,0h1M224,0h1M226,0h1M240,0h1M242,0h1M244,0h1M255,0h4M261,0h1M263,0h1M266,0h1M278,0h1M341,0h3M345,0h1M349,0h1M352,0h2M357,0h1M359,0h1M378,0h2M382,0h2M386,0h1M393,0h1M601,0h2M608,0h1M610,0h5M616,0h1M618,0h1M685,0h1M711,0h1M725,0h1M727,0h1M819,0h1M832,0h1M834,0h1M845,0h1M850,0h1M853,0h1M913,0h1M939,0h1M956,0h1M959,0h1M968,0h1M985,0h1M993,0h1M1071,0h3"/>
<path stroke="#5fff55" d="M0,0h1M21,0h3M26,0h1M29,0h3M34,0h3M38,0h2M43,0h2M71,0h3M75,0h1M87,0h2M92,0h2M116,0h1M191,0h1M195,0h2M198,0h2M205,0h3M211,0h2M218,0h3M223,0h1M225,0h1M227,0h1M239,0h1M243,0h1M245,0h3M253,0h2M259,0h1M339,0h2M344,0h1M346,0h1M348,0h1M350,0h2M380,0h2M387,0h1M391,0h2M419,0h2M604,0h2M607,0h1M609,0h1M712,0h1M728,0h2M812,0h1M821,0h2M830,0h2M843,0h1M854,0h1M866,0h2M904,0h1M960,0h2M969,0h1M971,0h2M984,0h1M994,0h1M997,0h9M1013,0h1M1070,0h1M1074,0h2"/>
<path stroke="#7aff3e" d="M28,0h1M32,0h1M56,0h2M76,0h1M94,0h1M107,0h1M135,0h1M139,0h1M160,0h1M162,0h4M192,0h3M200,0h1M202,0h1M204,0h1M209,0h1M229,0h1M231,0h1M236,0h2M250,0h2M280,0h2M284,0h1M296,0h1M299,0h4M337,0h2M394,0h2M416,0h1M418,0h1M603,0h1M620,0h1M631,0h1M633,0h1M635,0h1M639,0h1M641,0h2M713,0h1M730,0h2M733,0h1M764,0h2M811,0h1M829,0h1M836,0h1M856,0h2M859,0h1M864,0h2M892,0h1M898,0h3M902,0h2M905,0h4M915,0h3M938,0h1M962,0h2M966,0h2M973,0h1M983,0h1M995,0h2M1006,0h3M1012,0h1"/>
<path stroke="#a5ff16" d="M33,0h1M45,0h1M95,0h2M106,0h1M117,0h1M155,0h5M161,0h1M197,0h1M228,0h1M232,0h4M248,0h2M252,0h1M279,0h1M283,0h1M295,0h1M297,0h1M396,0h1M417,0h1M423,0h2M426,0h1M440,0h1M577,0h1M579,0h2M582,0h1M598,0h3M622,0h2M630,0h1M632,0h1M640,0h1M683,0h2M714,0h3M723,0h2M734,0h1M736,0h1M769,0h1M774,0h1M823,0h1M835,0h1M838,0h1M841,0h2M855,0h1M858,0h1M861,0h2M868,0h1M891,0h1M895,0h3M901,0h1M910,0h1M912,0h1M914,0h1M919,0h3M933,0h2M937,0h1M970,0h1"/>
<path stroke="#cdff00" d="M46,0h1M55,0h1M97,0h1M118,0h1M133,0h2M140,0h3M154,0h1M230,0h1M238,0h1M282,0h1M294,0h1M298,0h1M303,0h3M336,0h1M397,0h1M421,0h2M439,0h1M576,0h1M578,0h1M583,0h1M589,0h1M592,0h1M595,0h1M597,0h1M621,0h1M629,0h1M634,0h1M636,0h3M643,0h2M717,0h1M721,0h1M732,0h1M735,0h1M738,0h1M740,0h2M760,0h1M763,0h1M766,0h2M770,0h4M775,0h1M808,0h1M824,0h1M837,0h1M839,0h1M860,0h1M863,0h1M889,0h2M893,0h2M909,0h1M911,0h1M918,0h1M929,0h4M935,0h2M964,0h1M981,0h2M1009,0h3"/>
<path stroke="#efff00" d="M98,0h1M104,0h1M132,0h1M143,0h1M153,0h1M285,0h1M398,0h1M415,0h1M425,0h1M427,0h1M432,0h3M436,0h3M441,0h2M581,0h1M587,0h2M590,0h2M593,0h2M596,0h1M624,0h1M626,0h1M671,0h1M719,0h2M722,0h1M737,0h1M742,0h2M761,0h1M776,0h1M810,0h1M825,0h1M828,0h1M840,0h1M869,0h1M886,0h2M924,0h2M965,0h1M974,0h1M976,0h1"/>
<path stroke="#fff200" d="M53,0h2M99,0h2M103,0h1M105,0h1M119,0h1M151,0h2M286,0h1M306,0h4M334,0h2M399,0h1M401,0h3M413,0h1M428,0h1M431,0h1M435,0h1M575,0h1M627,0h2M645,0h2M673,0h1M675,0h1M682,0h1M718,0h1M744,0h1M759,0h1M762,0h1M768,0h1M777,0h1M781,0h1M794,0h2M798,0h1M801,0h1M803,0h1M806,0h2M809,0h1M826,0h2M870,0h1M888,0h1M922,0h2M927,0h2M975,0h1M977,0h2"/>
<path stroke="#ffd800" d="M47,0h2M52,0h1M101,0h2M144,0h1M292,0h2M328,0h1M430,0h1M443,0h2M584,0h2M625,0h1M647,0h1M669,0h1M672,0h1M674,0h1M739,0h1M745,0h1M778,0h3M782,0h1M784,0h1M787,0h1M792,0h2M796,0h1M799,0h2M871,0h1M882,0h2M885,0h1M926,0h1M979,0h2"/>
<path stroke="#ffbf00" d="M49,0h2M120,0h2M125,0h2M131,0h1M147,0h4M287,0h1M310,0h1M327,0h1M333,0h1M400,0h1M405,0h1M410,0h1M414,0h1M446,0h1M555,0h1M559,0h4M567,0h2M586,0h1M648,0h2M668,0h1M670,0h1M676,0h2M679,0h1M755,0h1M757,0h2M786,0h1M791,0h1M797,0h1M802,0h1M804,0h2M872,0h1M880,0h1M884,0h1"/>
<path stroke="#ffa500" d="M51,0h1M122,0h3M127,0h4M145,0h2M311,0h1M323,0h4M329,0h1M331,0h2M404,0h1M406,0h1M409,0h1M412,0h1M429,0h1M445,0h1M447,0h1M554,0h1M556,0h1M558,0h1M566,0h1M569,0h1M573,0h2M650,0h1M661,0h2M665,0h2M681,0h1M746,0h2M750,0h2M783,0h1M785,0h1M789,0h1M873,0h2"/>
<path stroke="#ff8c00" d="M288,0h1M291,0h1M312,0h1M320,0h2M330,0h1M407,0h2M411,0h1M553,0h1M557,0h1M563,0h3M570,0h3M659,0h1M680,0h1M748,0h1M753,0h2M756,0h1M788,0h1M790,0h1M877,0h1M879,0h1M881,0h1"/>
<path stroke="#ff7300" d="M289,0h1M317,0h1M319,0h1M322,0h1M448,0h1M450,0h1M453,0h4M458,0h1M460,0h3M552,0h1M660,0h1M664,0h1M667,0h1M678,0h1M749,0h1M752,0h1M875,0h1M878,0h1"/>
<path stroke="#ff5900" d="M290,0h1M313,0h1M316,0h1M318,0h1M449,0h1M451,0h2M457,0h1M466,0h1M472,0h2M475,0h1M477,0h1M549,0h3M651,0h4M656,0h3M663,0h1M876,0h1"/>
<path stroke="#ff4000" d="M314,0h2M463,0h1M468,0h3M474,0h1M476,0h1M479,0h1M506,0h3M527,0h1M539,0h6M546,0h1M548,0h1M655,0h1"/>
<path stroke="#ff2600" d="M459,0h1M464,0h2M467,0h1M471,0h1M509,0h1M513,0h1M525,0h1M528,0h1M537,0h2M547,0h1"/>
<path stroke="#ff0d00" d="M478,0h1M480,0h2M484,0h1M486,0h1M489,0h1M491,0h1M493,0h1M499,0h1M501,0h5M511,0h1M514,0h3M519,0h2M526,0h1M532,0h3M536,0h1M545,0h1"/>
<path stroke="#f20000" d="M482,0h2M488,0h1M490,0h1M492,0h1M495,0h4M500,0h1M512,0h1M521,0h4M529,0h1M535,0h1"/>
<path stroke="#d90000" d="M485,0h1M487,0h1M510,0h1M517,0h2"/>
<path stroke="#c00000" d="M494,0h1M530,0h2"/>
<path stroke="#1f57ff" d="M1048,0h1"/>
<path stroke="#1f6dff" d="M1046,0h1"/>
<path stroke="#1f84ff" d="M1029,0h1M1040,0h1M1062,0h1"/>
<path stroke="#1f9aff" d="M1024,0h1M1060,0h1"/>
</g>
<g transform="translate(188.7,748.5) scale(1.33315,1)" stroke-width="19">
<path stroke="#0059ff" d="M112,0h1M693,0h1M947,0h1M1017,0h1M1066,0h1"/>
<path stroke="#0073ff" d="M368,0h2M371,0h1M373,0h1M689,0h1M692,0h1M694,0h1M701,0h2M943,0h1M945,0h1M952,0h1M989,0h2M1018,0h2"/>
<path stroke="#008cff" d="M81,0h1M111,0h1M113,0h1M367,0h1M370,0h1M687,0h2M690,0h2M695,0h2M698,0h2M703,0h2M942,0h1M946,0h1M988,0h1M1016,0h1M1076,0h1"/>
<path stroke="#00a6ff" d="M80,0h1M272,0h2M364,0h3M372,0h1M700,0h1M706,0h1M944,0h1M951,0h1M953,0h1M991,0h1M1015,0h1"/>
<path stroke="#00bfff" d="M109,0h1M374,0h1M697,0h1M705,0h1M1067,0h1"/>
<path stroke="#00f2ff" d="M79,0h1M82,0h2M114,0h1M170,0h1M175,0h1M270,0h1M274,0h1M375,0h1M815,0h1M1079,0h1"/>
<path stroke="#00fff2" d="M11,0h1M58,0h1M168,0h1M171,0h2M174,0h1M260,0h1M267,0h1M271,0h1M686,0h1M707,0h1M709,0h1M817,0h1M820,0h1M849,0h1M941,0h1M957,0h1M987,0h1M1069,0h1M1077,0h2"/>
<path stroke="#00ffd7" d="M3,0h1M5,0h1M9,0h1M14,0h4M20,0h1M60,0h2M67,0h2M70,0h1M77,0h2M84,0h3M108,0h1M115,0h1M169,0h1M173,0h1M176,0h2M179,0h3M183,0h2M241,0h2M262,0h1M268,0h1M275,0h1M347,0h1M352,0h1M354,0h2M358,0h3M362,0h2M376,0h1M378,0h1M388,0h1M390,0h1M608,0h1M610,0h1M685,0h1M813,0h1M816,0h1M818,0h1M844,0h1M848,0h1M851,0h1M940,0h1M954,0h2M986,0h1M1014,0h1M1068,0h1"/>
<path stroke="#00ffbb" d="M6,0h3M10,0h1M12,0h2M18,0h2M21,0h1M35,0h1M38,0h1M41,0h1M59,0h1M62,0h2M65,0h2M71,0h1M87,0h1M90,0h1M93,0h1M136,0h3M167,0h1M178,0h1M182,0h1M185,0h1M187,0h1M189,0h1M210,0h1M215,0h1M240,0h1M243,0h1M256,0h1M258,0h2M261,0h1M263,0h4M269,0h1M276,0h2M342,0h3M346,0h1M349,0h1M351,0h1M357,0h1M361,0h1M377,0h1M379,0h1M381,0h1M384,0h2M601,0h1M606,0h1M611,0h3M615,0h1M617,0h3M710,0h1M712,0h1M727,0h1M819,0h1M821,0h1M832,0h2M845,0h3M850,0h1M852,0h3M984,0h2M993,0h3M998,0h1M1002,0h1M1070,0h2"/>
<path stroke="#00ff9c" d="M0,0h3M22,0h1M30,0h2M34,0h1M36,0h2M39,0h2M42,0h2M64,0h1M69,0h1M72,0h1M88,0h2M91,0h1M116,0h1M135,0h1M166,0h1M186,0h1M188,0h1M191,0h2M208,0h2M211,0h3M217,0h2M239,0h1M244,0h1M254,0h2M257,0h1M278,0h1M341,0h1M345,0h1M348,0h1M350,0h1M353,0h1M356,0h1M380,0h1M382,0h2M386,0h2M389,0h1M391,0h1M393,0h1M395,0h1M602,0h1M605,0h1M609,0h1M614,0h1M616,0h1M620,0h1M726,0h1M729,0h1M731,0h1M812,0h1M822,0h1M831,0h1M834,0h1M867,0h1M899,0h1M905,0h1M907,0h1M939,0h1M956,0h1M959,0h1M968,0h2M972,0h1M996,0h2M999,0h1M1005,0h1M1013,0h1M1072,0h4"/>
<path stroke="#00fc7b" d="M4,0h1M23,0h7M32,0h2M44,0h1M57,0h1M74,0h1M76,0h1M92,0h1M94,0h2M106,0h1M134,0h1M162,0h1M165,0h1M190,0h1M193,0h4M199,0h2M202,0h5M214,0h1M216,0h1M219,0h6M226,0h1M237,0h2M245,0h1M247,0h1M252,0h2M280,0h2M300,0h1M337,0h4M392,0h1M394,0h1M420,0h1M599,0h2M603,0h2M607,0h1M711,0h1M725,0h1M728,0h1M730,0h1M732,0h2M811,0h1M829,0h2M835,0h1M857,0h3M864,0h3M898,0h1M902,0h1M904,0h1M906,0h1M913,0h2M933,0h1M938,0h1M958,0h1M960,0h4M966,0h2M970,0h1M983,0h1M1000,0h2M1003,0h1"/>
<path stroke="#5fff55" d="M45,0h1M56,0h1M73,0h1M75,0h1M96,0h1M107,0h1M117,0h1M133,0h1M155,0h1M157,0h1M160,0h2M163,0h2M197,0h2M201,0h1M207,0h1M225,0h1M227,0h1M231,0h1M233,0h1M236,0h1M246,0h1M249,0h3M279,0h1M282,0h1M295,0h1M297,0h3M301,0h2M417,0h3M421,0h1M423,0h1M577,0h1M579,0h1M630,0h2M635,0h1M642,0h1M684,0h1M713,0h2M716,0h1M734,0h1M764,0h2M774,0h1M823,0h1M841,0h1M843,0h1M856,0h1M892,0h1M900,0h2M903,0h1M908,0h2M915,0h1M917,0h1M919,0h2M932,0h1M934,0h4M971,0h1M973,0h1M1004,0h1M1007,0h1"/>
<path stroke="#7aff3e" d="M46,0h1M97,0h1M139,0h3M154,0h1M156,0h1M158,0h2M228,0h3M234,0h2M248,0h1M283,0h2M294,0h1M303,0h1M336,0h1M396,0h1M416,0h1M422,0h1M424,0h2M440,0h1M578,0h1M580,0h3M589,0h1M621,0h2M629,0h1M632,0h3M636,0h2M640,0h2M643,0h2M715,0h1M723,0h2M736,0h1M741,0h2M763,0h1M766,0h2M770,0h3M836,0h1M838,0h3M842,0h1M855,0h1M860,0h1M863,0h1M868,0h1M891,0h1M893,0h5M911,0h1M916,0h1M918,0h1M930,0h2M964,0h1M982,0h1M1006,0h1M1008,0h3M1012,0h1"/>
<path stroke="#a5ff16" d="M55,0h1M118,0h1M132,0h1M232,0h1M296,0h1M304,0h2M397,0h1M415,0h1M426,0h2M436,0h4M441,0h1M576,0h1M591,0h2M596,0h1M598,0h1M623,0h2M638,0h2M683,0h1M717,0h1M720,0h1M737,0h2M740,0h1M762,0h1M768,0h2M773,0h1M776,0h1M808,0h3M837,0h1M861,0h2M889,0h1M910,0h1M921,0h1M929,0h1M965,0h1M981,0h1M1011,0h1"/>
<path stroke="#cdff00" d="M54,0h1M98,0h3M105,0h1M142,0h2M153,0h1M285,0h1M306,0h2M335,0h1M398,0h1M434,0h1M575,0h1M587,0h2M590,0h1M593,0h1M595,0h1M645,0h1M682,0h1M721,0h2M735,0h1M739,0h1M761,0h1M775,0h1M801,0h1M824,0h2M869,0h1M888,0h1M890,0h1M912,0h1M923,0h3M974,0h1"/>
<path stroke="#efff00" d="M48,0h1M53,0h1M101,0h2M104,0h1M151,0h1M287,0h1M293,0h1M309,0h1M399,0h1M402,0h2M414,0h1M428,0h1M431,0h3M443,0h1M583,0h1M594,0h1M597,0h1M625,0h4M671,0h2M674,0h1M718,0h2M743,0h2M760,0h1M794,0h2M800,0h1M804,0h1M806,0h2M827,0h2M870,0h1M883,0h1M886,0h2M922,0h1M926,0h1M975,0h3"/>
<path stroke="#fff200" d="M47,0h1M50,0h1M103,0h1M119,0h1M125,0h1M144,0h1M152,0h1M286,0h1M292,0h1M308,0h1M334,0h1M401,0h1M413,0h1M430,0h1M435,0h1M442,0h1M561,0h1M584,0h3M646,0h2M669,0h2M673,0h1M675,0h1M681,0h1M745,0h1M759,0h1M777,0h6M787,0h1M793,0h1M796,0h3M802,0h2M826,0h1M871,0h2M884,0h2M927,0h1M978,0h2"/>
<path stroke="#ffd800" d="M49,0h1M51,0h2M120,0h1M124,0h1M127,0h1M131,0h1M149,0h2M310,0h1M327,0h2M331,0h1M400,0h1M404,0h1M412,0h1M444,0h1M559,0h1M574,0h1M648,0h1M746,0h2M757,0h2M784,0h3M799,0h1M805,0h1M880,0h1M882,0h1M928,0h1M980,0h1"/>
<path stroke="#ffbf00" d="M121,0h1M123,0h1M126,0h1M129,0h1M145,0h1M147,0h1M291,0h1M324,0h3M329,0h1M332,0h2M405,0h1M411,0h1M429,0h1M445,0h3M553,0h6M560,0h1M563,0h2M566,0h3M659,0h1M661,0h2M667,0h2M676,0h1M680,0h1M748,0h1M751,0h1M753,0h1M755,0h1M783,0h1M788,0h5M873,0h1M881,0h1"/>
<path stroke="#ffa500" d="M122,0h1M128,0h1M130,0h1M146,0h1M148,0h1M288,0h1M311,0h1M320,0h1M323,0h1M406,0h1M409,0h2M458,0h1M562,0h1M569,0h2M573,0h1M649,0h2M660,0h1M664,0h1M666,0h1M677,0h1M679,0h1M750,0h1M754,0h1M756,0h1M874,0h2M879,0h1"/>
<path stroke="#ff8c00" d="M312,0h1M319,0h1M321,0h2M330,0h1M407,0h2M457,0h1M552,0h1M565,0h1M571,0h2M651,0h2M656,0h1M663,0h1M665,0h1M678,0h1M752,0h1M877,0h1"/>
<path stroke="#ff7300" d="M289,0h1M313,0h1M317,0h2M448,0h1M450,0h1M453,0h3M507,0h1M549,0h1M653,0h2M657,0h1M749,0h1M876,0h1M878,0h1"/>
<path stroke="#ff5900" d="M290,0h1M314,0h1M451,0h2M460,0h4M473,0h1M477,0h1M540,0h1M548,0h1M550,0h2M655,0h1M658,0h1"/>
<path stroke="#ff4000" d="M315,0h2M449,0h1M456,0h1M459,0h1M464,0h1M466,0h6M475,0h2M478,0h2M506,0h1M508,0h1M539,0h1M541,0h3M546,0h2"/>
<path stroke="#ff2600" d="M472,0h1M474,0h1M481,0h2M502,0h2M505,0h1M509,0h1M513,0h1M515,0h1M524,0h1M527,0h1M532,0h1M536,0h2M544,0h2"/>
<path stroke="#ff0d00" d="M465,0h1M480,0h1M486,0h1M488,0h2M496,0h1M501,0h1M512,0h1M514,0h1M516,0h2M521,0h1M525,0h1M528,0h2M534,0h2M538,0h1"/>
<path stroke="#f20000" d="M484,0h2M491,0h3M495,0h1M497,0h4M504,0h1M510,0h2M519,0h2M522,0h2M526,0h1M531,0h1M533,0h1"/>
<path stroke="#d90000" d="M483,0h1M487,0h1M494,0h1M518,0h1M530,0h1"/>
<path stroke="#c00000" d="M490,0h1"/>
<path stroke="#1fb0ff" d="M949,0h1"/>
<path stroke="#1fc7ff" d="M1060,0h1"/>
</g>
<g transform="translate(188.7,729.5) scale(1.33315,1)" stroke-width="19">
<path stroke="#0059ff" d="M174,0h1M1014,0h1"/>
<path stroke="#0073ff" d="M11,0h1M114,0h1M170,0h3M175,0h1M369,0h1M689,0h1M698,0h2M816,0h1M851,0h1M1077,0h1"/>
<path stroke="#008cff" d="M3,0h1M18,0h2M41,0h1M60,0h1M62,0h1M70,0h1M81,0h2M85,0h1M168,0h1M181,0h1M263,0h1M265,0h1M276,0h1M356,0h2M388,0h1M601,0h1M610,0h1M812,0h2M815,0h1M818,0h1M820,0h1M844,0h1M847,0h1M852,0h1M941,0h2M944,0h1M1015,0h1M1018,0h1"/>
<path stroke="#00a6ff" d="M0,0h2M4,0h2M7,0h4M12,0h1M14,0h1M17,0h1M21,0h1M58,0h1M77,0h2M87,0h1M115,0h1M136,0h1M178,0h1M183,0h1M240,0h2M243,0h1M259,0h1M262,0h1M271,0h1M342,0h1M347,0h1M349,0h1M353,0h3M358,0h1M364,0h1M377,0h2M389,0h1M608,0h1M611,0h2M614,0h3M618,0h1M690,0h1M702,0h3M709,0h1M819,0h1M832,0h1M845,0h2M939,0h2M956,0h1M1001,0h1M1071,0h1M1075,0h1"/>
<path stroke="#00bfff" d="M2,0h1M13,0h1M16,0h1M20,0h1M30,0h1M34,0h1M36,0h1M38,0h3M59,0h1M68,0h2M84,0h1M88,0h2M91,0h1M135,0h1M165,0h1M167,0h1M169,0h1M179,0h1M182,0h1M185,0h1M189,0h1M208,0h1M211,0h1M219,0h1M242,0h1M254,0h1M256,0h1M258,0h1M264,0h1M272,0h1M277,0h2M341,0h1M343,0h2M346,0h1M348,0h1M351,0h2M365,0h1M376,0h1M379,0h1M384,0h2M387,0h1M602,0h1M606,0h1M613,0h1M617,0h1M619,0h1M701,0h1M710,0h1M726,0h1M729,0h1M817,0h1M833,0h1M954,0h2M968,0h2M995,0h1M1013,0h1M1068,0h2M1072,0h2M1078,0h1"/>
<path stroke="#00d9ff" d="M27,0h2M32,0h1M35,0h1M37,0h1M63,0h2M71,0h1M76,0h1M107,0h1M134,0h1M166,0h1M184,0h1M186,0h3M191,0h1M207,0h1M210,0h1M212,0h3M239,0h1M257,0h1M261,0h1M266,0h1M337,0h1M339,0h1M350,0h1M368,0h1M375,0h1M383,0h1M386,0h1M391,0h1M603,0h1M605,0h1M607,0h1M685,0h2M688,0h1M694,0h2M711,0h1M725,0h1M727,0h1M821,0h1M830,0h2M853,0h1M938,0h1M943,0h1M957,0h1M959,0h1M994,0h1M996,0h5M1003,0h1M1070,0h1"/>
<path stroke="#00f2ff" d="M15,0h1M29,0h1M31,0h1M57,0h1M90,0h1M94,0h1M164,0h1M173,0h1M206,0h1M209,0h1M255,0h1M338,0h1M340,0h1M600,0h1M604,0h1M609,0h1M684,0h1M687,0h1M700,0h1M724,0h1M728,0h1M731,0h1M811,0h1M843,0h1M937,0h1M958,0h1M967,0h1M970,0h1M1002,0h1M1019,0h1M1074,0h1"/>
<path stroke="#00fff2" d="M23,0h1M205,0h1M215,0h1M217,0h1M244,0h1M279,0h1M345,0h1M380,0h1M382,0h1M393,0h1M712,0h1M834,0h1M1004,0h1"/>
<path stroke="#00ffd7" d="M22,0h1M25,0h2M42,0h1M138,0h1M192,0h2M200,0h1M203,0h2M216,0h1M253,0h1M381,0h1M854,0h1M864,0h1M866,0h1M898,0h1M903,0h4M963,0h1M971,0h1M983,0h1"/>
<path stroke="#00ffbb" d="M24,0h1M43,0h2M56,0h1M74,0h2M116,0h1M163,0h1M194,0h2M198,0h1M201,0h2M218,0h1M220,0h3M225,0h1M237,0h1M245,0h1M247,0h1M251,0h2M280,0h3M295,0h1M297,0h3M302,0h1M392,0h1M394,0h2M418,0h3M599,0h1M620,0h1M641,0h1M723,0h1M733,0h1M822,0h1M829,0h1M842,0h1M856,0h2M865,0h1M867,0h1M899,0h1M902,0h1M907,0h2M913,0h1M917,0h1M934,0h1M972,0h1M1005,0h1M1012,0h1"/>
<path stroke="#00ff9c" d="M72,0h2M95,0h2M106,0h1M133,0h1M158,0h1M162,0h1M196,0h2M199,0h1M223,0h2M226,0h2M236,0h1M238,0h1M294,0h1M296,0h1M300,0h2M416,0h2M421,0h1M423,0h2M577,0h1M579,0h1M631,0h3M635,0h1M637,0h1M640,0h1M642,0h1M683,0h1M713,0h2M732,0h1M734,0h1M764,0h1M769,0h1M771,0h1M823,0h1M835,0h2M838,0h1M841,0h1M855,0h1M859,0h1M862,0h1M895,0h2M900,0h2M914,0h3M919,0h1M932,0h2M935,0h2M960,0h3M964,0h1M966,0h1M973,0h1M1006,0h2"/>
<path stroke="#00fc7b" d="M46,0h1M97,0h1M105,0h1M139,0h2M155,0h3M161,0h1M231,0h1M234,0h2M246,0h1M248,0h3M283,0h2M303,0h2M336,0h1M396,0h1M422,0h1M425,0h1M440,0h1M578,0h1M598,0h1M622,0h1M630,0h1M636,0h1M639,0h1M643,0h1M715,0h2M761,0h1M765,0h2M772,0h3M810,0h1M839,0h1M858,0h1M860,0h2M863,0h1M868,0h1M892,0h3M897,0h1M909,0h4M920,0h2M931,0h1M982,0h1M1008,0h4"/>
<path stroke="#5fff55" d="M45,0h1M55,0h1M104,0h1M117,0h1M132,0h1M141,0h2M153,0h1M159,0h2M228,0h3M233,0h1M415,0h1M426,0h1M436,0h1M438,0h2M580,0h2M588,0h2M592,0h2M596,0h2M621,0h1M623,0h1M627,0h3M634,0h1M644,0h1M682,0h1M717,0h2M721,0h2M735,0h4M741,0h1M762,0h2M767,0h2M770,0h1M775,0h1M808,0h2M837,0h1M840,0h1M889,0h3M918,0h1M924,0h1M930,0h1M965,0h1"/>
<path stroke="#7aff3e" d="M118,0h1M154,0h1M232,0h1M293,0h1M305,0h3M335,0h1M397,0h1M399,0h1M427,0h1M437,0h1M441,0h2M576,0h1M582,0h1M587,0h1M590,0h2M595,0h1M626,0h1M671,0h1M720,0h1M739,0h1M742,0h1M760,0h1M776,0h1M807,0h1M825,0h1M828,0h1M869,0h2M886,0h1M888,0h1M922,0h2M975,0h1M981,0h1"/>
<path stroke="#a5ff16" d="M47,0h1M54,0h1M98,0h1M100,0h2M103,0h1M143,0h1M151,0h1M285,0h1M308,0h1M334,0h1M398,0h1M403,0h1M434,0h2M575,0h1M583,0h1M586,0h1M594,0h1M624,0h2M670,0h1M719,0h1M740,0h1M743,0h1M759,0h1M794,0h1M806,0h1M824,0h1M827,0h1M887,0h1M928,0h2M974,0h1M976,0h2"/>
<path stroke="#cdff00" d="M48,0h1M50,0h1M53,0h1M99,0h1M102,0h1M152,0h1M286,0h1M402,0h1M413,0h2M432,0h2M443,0h2M585,0h1M645,0h1M669,0h1M672,0h3M744,0h1M779,0h2M782,0h1M795,0h2M799,0h3M871,0h1M884,0h2M925,0h2M978,0h1M980,0h1"/>
<path stroke="#efff00" d="M49,0h1M51,0h1M120,0h1M123,0h1M125,0h1M131,0h1M149,0h2M287,0h1M292,0h1M309,0h2M333,0h1M401,0h1M428,0h1M430,0h1M574,0h1M584,0h1M646,0h1M675,0h1M777,0h2M781,0h1M785,0h1M787,0h1M791,0h3M797,0h2M802,0h4M826,0h1M882,0h2M927,0h1M979,0h1"/>
<path stroke="#fff200" d="M52,0h1M119,0h1M124,0h1M144,0h2M147,0h1M291,0h1M326,0h1M331,0h1M400,0h1M405,0h1M412,0h1M429,0h1M431,0h1M445,0h1M556,0h1M558,0h1M561,0h1M563,0h1M647,0h2M666,0h3M681,0h1M745,0h3M751,0h1M757,0h2M783,0h2M786,0h1M788,0h1M872,0h1M880,0h2"/>
<path stroke="#ffd800" d="M122,0h1M126,0h2M129,0h2M146,0h1M148,0h1M322,0h1M324,0h2M327,0h3M332,0h1M404,0h1M555,0h1M559,0h2M562,0h1M565,0h1M567,0h2M573,0h1M650,0h1M661,0h2M665,0h1M676,0h2M679,0h2M748,0h1M750,0h1M754,0h3M789,0h2M873,0h2M879,0h1"/>
<path stroke="#ffbf00" d="M121,0h1M128,0h1M288,0h1M311,0h1M320,0h2M323,0h1M330,0h1M409,0h2M446,0h1M552,0h3M557,0h1M564,0h1M566,0h1M569,0h1M571,0h1M663,0h2M749,0h1M753,0h1"/>
<path stroke="#ffa500" d="M317,0h1M319,0h1M406,0h1M408,0h1M411,0h1M447,0h1M549,0h1M551,0h1M570,0h1M572,0h1M649,0h1M651,0h1M659,0h2M678,0h1M752,0h1M875,0h3"/>
<path stroke="#ff8c00" d="M289,0h2M312,0h2M318,0h1M407,0h1M455,0h2M458,0h1M550,0h1M654,0h1M658,0h1M878,0h1"/>
<path stroke="#ff7300" d="M314,0h3M449,0h2M453,0h2M457,0h1M460,0h2M463,0h1M507,0h1M652,0h2M655,0h1M657,0h1"/>
<path stroke="#ff5900" d="M448,0h1M451,0h2M465,0h2M468,0h1M470,0h1M472,0h2M475,0h3M539,0h3M543,0h2M546,0h3M656,0h1"/>
<path stroke="#ff4000" d="M462,0h1M464,0h1M469,0h1M471,0h1M474,0h1M478,0h2M503,0h1M506,0h1M508,0h2M516,0h1M542,0h1"/>
<path stroke="#ff2600" d="M459,0h1M467,0h1M488,0h1M499,0h2M502,0h1M505,0h1M513,0h1M521,0h1M525,0h2M536,0h3M545,0h1"/>
<path stroke="#ff0d00" d="M481,0h1M486,0h1M504,0h1M510,0h2M514,0h2M517,0h4M522,0h3M527,0h1M529,0h1M531,0h2"/>
<path stroke="#f20000" d="M480,0h1M482,0h1M484,0h2M487,0h1M489,0h1M491,0h3M496,0h3M501,0h1M512,0h1M528,0h1M533,0h3"/>
<path stroke="#d90000" d="M483,0h1M490,0h1M494,0h2M530,0h1"/>
<path stroke="#1f84ff" d="M268,0h1M849,0h1M987,0h1M989,0h1"/>
<path stroke="#1f9aff" d="M274,0h1M706,0h1"/>
<path stroke="#1fb0ff" d="M362,0h1M372,0h1M991,0h1"/>
<path stroke="#1fc7ff" d="M952,0h1M985,0h1"/>
<path stroke="#1fddff" d="M66,0h1M1060,0h1"/>
<path stroke="#1ff4ff" d="M360,0h1"/>
<path stroke="#1ffff3" d="M692,0h1"/>
</g>
<g transform="translate(188.7,710) scale(1.33315,1)" stroke-width="20">
<path stroke="#0073ff" d="M844,0h1"/>
<path stroke="#008cff" d="M77,0h1M138,0h1M183,0h1M191,0h1M297,0h1"/>
<path stroke="#00a6ff" d="M24,0h1M43,0h1M76,0h1M88,0h3M184,0h1M203,0h1M256,0h1M338,0h1M379,0h1M393,0h2M599,0h1M629,0h1M640,0h1M829,0h1M832,0h1M836,0h1M842,0h2M857,0h1M904,0h1M907,0h1M913,0h2M955,0h1M966,0h1M972,0h1M983,0h1M1013,0h1"/>
<path stroke="#00bfff" d="M5,0h1M15,0h1M23,0h1M25,0h2M31,0h1M35,0h1M44,0h1M56,0h1M62,0h1M84,0h2M106,0h1M157,0h1M185,0h1M195,0h2M202,0h1M208,0h1M214,0h1M222,0h1M224,0h1M251,0h1M257,0h2M296,0h1M344,0h1M380,0h1M382,0h1M384,0h1M395,0h1M420,0h1M631,0h1M713,0h1M716,0h1M733,0h1M763,0h1M767,0h1M771,0h2M820,0h1M834,0h1M841,0h1M852,0h4M858,0h2M863,0h2M867,0h1M892,0h1M899,0h2M903,0h1M906,0h1M915,0h1M934,0h1M939,0h1M961,0h1M963,0h1M1002,0h1M1005,0h1M1010,0h1"/>
<path stroke="#00d9ff" d="M4,0h1M14,0h1M22,0h1M34,0h1M37,0h1M45,0h1M162,0h1M186,0h1M192,0h2M197,0h2M200,0h2M207,0h1M209,0h1M216,0h1M223,0h1M225,0h1M236,0h1M241,0h2M246,0h1M252,0h1M272,0h1M299,0h1M302,0h1M336,0h2M358,0h1M381,0h1M383,0h1M387,0h1M396,0h1M417,0h1M419,0h1M421,0h2M578,0h1M600,0h1M610,0h1M622,0h1M630,0h1M639,0h1M642,0h1M683,0h1M686,0h1M702,0h1M714,0h1M722,0h2M734,0h1M764,0h3M769,0h1M773,0h1M819,0h1M822,0h2M835,0h1M845,0h1M856,0h1M860,0h2M893,0h1M895,0h1M905,0h1M917,0h1M930,0h3M935,0h2M938,0h1M956,0h1M962,0h1M964,0h1M968,0h4M973,0h1M995,0h1M1000,0h2M1006,0h2M1009,0h1"/>
<path stroke="#00f2ff" d="M16,0h1M32,0h1M36,0h1M40,0h1M55,0h1M63,0h1M78,0h1M97,0h1M139,0h1M155,0h1M161,0h1M215,0h1M226,0h1M247,0h1M249,0h2M253,0h2M271,0h1M283,0h1M300,0h1M303,0h1M340,0h1M342,0h2M376,0h2M388,0h1M416,0h1M423,0h1M579,0h2M608,0h1M611,0h1M621,0h1M632,0h4M641,0h1M685,0h1M703,0h1M715,0h1M717,0h1M719,0h1M721,0h1M740,0h1M761,0h1M768,0h1M770,0h1M774,0h1M816,0h2M837,0h3M868,0h1M889,0h3M894,0h1M896,0h1M901,0h1M909,0h1M916,0h1M919,0h2M922,0h1M937,0h1M940,0h1M954,0h1M965,0h1M982,0h1M996,0h1M1003,0h1M1018,0h1M1072,0h1"/>
<path stroke="#00fff2" d="M105,0h1M132,0h1M140,0h1M154,0h1M158,0h1M248,0h1M298,0h1M304,0h1M335,0h1M341,0h1M357,0h1M415,0h1M425,0h1M437,0h3M597,0h1M601,0h1M607,0h1M637,0h1M643,0h1M682,0h1M687,0h1M710,0h1M720,0h1M735,0h2M741,0h1M808,0h1M830,0h2M866,0h1M910,0h1M918,0h1M967,0h1M1014,0h1M1019,0h1M1071,0h1"/>
<path stroke="#00ffd7" d="M41,0h1M440,0h1M589,0h1M628,0h1M718,0h1M732,0h1M739,0h1M828,0h1M888,0h1M994,0h1"/>
<path stroke="#00ffbb" d="M159,0h2M227,0h2M231,0h1M233,0h1M235,0h1M305,0h1M592,0h1M711,0h1M760,0h1M775,0h1"/>
<path stroke="#00ff9c" d="M46,0h1M54,0h1M141,0h1M232,0h1M234,0h1M284,0h1M334,0h1M397,0h1M426,0h1M581,0h1M590,0h2M596,0h1M624,0h1M626,0h1M636,0h1M644,0h1M737,0h2M743,0h1M776,0h1M807,0h1M921,0h1M974,0h1M981,0h1"/>
<path stroke="#00fc7b" d="M98,0h3M118,0h1M142,0h1M153,0h1M229,0h2M306,0h1M308,0h1M398,0h1M434,0h1M441,0h1M575,0h1M583,0h1M588,0h1M594,0h2M742,0h1M806,0h1M824,0h2M869,0h1M886,0h2M924,0h1M976,0h1"/>
<path stroke="#5fff55" d="M47,0h1M101,0h1M103,0h1M143,0h1M151,0h2M307,0h1M402,0h1M427,0h1M435,0h1M442,0h2M582,0h1M584,0h1M587,0h1M623,0h1M625,0h1M627,0h1M669,0h1M671,0h1M744,0h1M780,0h1M794,0h4M799,0h1M801,0h1M827,0h1M871,0h1M923,0h1M928,0h2M977,0h1M980,0h1"/>
<path stroke="#7aff3e" d="M48,0h1M53,0h1M102,0h1M149,0h1M285,0h2M292,0h1M309,0h1M400,0h2M403,0h1M414,0h1M428,0h1M432,0h1M574,0h1M586,0h1M645,0h2M670,0h1M672,0h2M681,0h1M759,0h1M777,0h3M781,0h3M793,0h1M800,0h1M804,0h1M826,0h1M870,0h1M882,0h4M925,0h3M975,0h1M978,0h1"/>
<path stroke="#a5ff16" d="M49,0h1M119,0h1M124,0h1M126,0h1M131,0h1M150,0h1M324,0h1M413,0h1M431,0h1M433,0h1M564,0h1M668,0h1M674,0h1M745,0h1M747,0h1M758,0h1M784,0h1M787,0h1M792,0h1M798,0h1M802,0h2M805,0h1M872,0h1M979,0h1"/>
<path stroke="#cdff00" d="M50,0h3M120,0h2M123,0h1M125,0h1M130,0h1M144,0h4M287,0h1M310,0h1M327,0h1M333,0h1M399,0h1M404,0h1M429,0h2M444,0h1M557,0h1M559,0h1M561,0h2M647,0h1M667,0h1M675,0h1M755,0h3M785,0h2M788,0h4M873,0h1M881,0h1"/>
<path stroke="#efff00" d="M122,0h1M129,0h1M148,0h1M291,0h1M323,0h1M325,0h1M332,0h1M405,0h1M412,0h1M446,0h1M552,0h4M560,0h1M563,0h1M565,0h2M572,0h2M648,0h1M650,0h1M661,0h1M664,0h1M666,0h1M676,0h1M679,0h1M746,0h1M874,0h1M879,0h2"/>
<path stroke="#fff200" d="M127,0h2M288,0h1M311,0h1M320,0h1M322,0h1M326,0h1M328,0h4M411,0h1M556,0h1M558,0h1M567,0h2M570,0h2M662,0h1M665,0h1M677,0h1M680,0h1M748,0h1M750,0h2M753,0h2"/>
<path stroke="#ffd800" d="M289,0h2M312,0h1M321,0h1M406,0h1M409,0h2M445,0h1M447,0h1M550,0h1M569,0h1M649,0h1M659,0h1M663,0h1M678,0h1M749,0h1M875,0h3"/>
<path stroke="#ffbf00" d="M317,0h1M319,0h1M408,0h1M458,0h1M549,0h1M551,0h1M651,0h1M653,0h1M656,0h1M658,0h1M660,0h1M752,0h1M878,0h1"/>
<path stroke="#ffa500" d="M313,0h1M318,0h1M407,0h1M453,0h2M472,0h1M652,0h1M657,0h1"/>
<path stroke="#ff8c00" d="M314,0h3M449,0h4M455,0h3M460,0h2M465,0h2M468,0h1M473,0h1M477,0h1M507,0h1M540,0h1M543,0h1M546,0h3M654,0h2"/>
<path stroke="#ff7300" d="M448,0h1M462,0h2M467,0h1M469,0h3M475,0h2M478,0h1M503,0h1M539,0h1M541,0h2M544,0h2"/>
<path stroke="#ff5900" d="M459,0h1M464,0h1M474,0h1M479,0h1M502,0h1M505,0h2M509,0h1M514,0h1M525,0h1M527,0h1M538,0h1"/>
<path stroke="#ff4000" d="M486,0h1M500,0h1M504,0h1M508,0h1M511,0h3M515,0h2M520,0h1M522,0h1M528,0h1M537,0h1"/>
<path stroke="#ff2600" d="M481,0h1M487,0h1M493,0h1M496,0h1M498,0h2M510,0h1M517,0h1M519,0h1M521,0h1M523,0h1M526,0h1M529,0h3M536,0h1"/>
<path stroke="#ff0d00" d="M480,0h1M482,0h1M484,0h2M488,0h2M491,0h2M494,0h1M497,0h1M501,0h1M518,0h1M524,0h1M532,0h1M534,0h2"/>
<path stroke="#f20000" d="M490,0h1M495,0h1M533,0h1"/>
<path stroke="#d90000" d="M483,0h1"/>
<path stroke="#1f9aff" d="M372,0h1"/>
<path stroke="#1fb0ff" d="M11,0h1M68,0h1M211,0h1M262,0h1M276,0h1M347,0h1M959,0h1"/>
<path stroke="#1fc7ff" d="M18,0h1M20,0h1M114,0h1M116,0h1M181,0h1M205,0h1M220,0h1M244,0h1M294,0h1M604,0h1M617,0h1M727,0h1"/>
<path stroke="#1fddff" d="M73,0h1M136,0h1M169,0h1M188,0h1M218,0h1M353,0h1M615,0h1M729,0h1"/>
<path stroke="#1ff4ff" d="M60,0h1M165,0h1M173,0h1M265,0h1M279,0h1M360,0h1M725,0h1M1075,0h1"/>
<path stroke="#1ffff3" d="M350,0h1M692,0h1"/>
<path stroke="#1fffdc" d="M810,0h1"/>
<path stroke="#1fffc3" d="M28,0h1"/>
</g>
<g transform="translate(188.7,690.5) scale(1.33315,1)" stroke-width="19">
<path stroke="#00bfff" d="M46,0h1M202,0h1M774,0h1M1001,0h1"/>
<path stroke="#00d9ff" d="M15,0h1M88,0h1M132,0h1M203,0h1M440,0h1M623,0h1M631,0h1M738,0h1M820,0h1M909,0h1M929,0h1M955,0h1M972,0h1"/>
<path stroke="#00f2ff" d="M16,0h1M44,0h2M76,0h2M98,0h1M153,0h1M200,0h2M223,0h1M226,0h2M229,0h1M231,0h1M234,0h2M249,0h1M303,0h1M426,0h1M438,0h1M608,0h1M622,0h1M641,0h4M671,0h1M683,0h1M710,0h1M719,0h2M723,0h1M741,0h1M768,0h1M770,0h1M806,0h1M866,0h2M884,0h1M886,0h1M889,0h1M916,0h1M930,0h1M956,0h1M971,0h1M981,0h1M995,0h1"/>
<path stroke="#00fff2" d="M14,0h1M48,0h1M84,0h2M89,0h1M99,0h1M142,0h1M159,0h2M222,0h1M225,0h1M228,0h1M230,0h1M250,0h1M285,0h1M304,0h2M397,0h1M427,0h1M437,0h1M439,0h1M581,0h1M584,0h1M595,0h2M607,0h1M624,0h4M632,0h1M635,0h1M739,0h1M769,0h1M775,0h1M795,0h1M797,0h1M816,0h1M819,0h1M824,0h1M868,0h3M887,0h1M890,0h1M915,0h1M924,0h1M975,0h1M977,0h1M996,0h1M1002,0h2"/>
<path stroke="#00ffd7" d="M47,0h1M54,0h1M118,0h1M143,0h1M152,0h1M307,0h2M399,0h1M401,0h2M433,0h1M582,0h2M634,0h1M645,0h1M672,0h2M682,0h1M711,0h1M718,0h1M722,0h1M740,0h1M743,0h2M757,0h1M777,0h2M781,0h1M794,0h1M796,0h1M804,0h1M817,0h1M825,0h1M872,0h1M883,0h1M885,0h1M925,0h1M976,0h1M994,0h1M1000,0h1"/>
<path stroke="#00ffbb" d="M53,0h1M131,0h1M398,0h1M403,0h1M442,0h2M586,0h3M594,0h1M756,0h1M779,0h2M798,0h1M803,0h1M826,0h1M910,0h1M926,0h1M979,0h2"/>
<path stroke="#00ff9c" d="M150,0h1M574,0h1M758,0h2M782,0h1M802,0h1M805,0h1"/>
<path stroke="#00fc7b" d="M49,0h1M149,0h1M430,0h1M432,0h1M444,0h1M646,0h1M792,0h1M882,0h1"/>
<path stroke="#5fff55" d="M50,0h1M52,0h1M125,0h1M286,0h1M324,0h1M428,0h1M675,0h1M745,0h1M783,0h2M787,0h1M871,0h1"/>
<path stroke="#7aff3e" d="M51,0h1M119,0h2M123,0h2M144,0h2M291,0h1M309,0h2M325,0h1M555,0h3M559,0h1M565,0h1M568,0h1M647,0h1M747,0h1M786,0h1M790,0h2M880,0h2"/>
<path stroke="#a5ff16" d="M121,0h1M126,0h1M128,0h1M130,0h1M146,0h3M287,0h1M322,0h2M326,0h2M331,0h1M404,0h1M411,0h2M429,0h1M560,0h4M567,0h1M573,0h1M648,0h1M661,0h1M664,0h1M666,0h1M677,0h1M679,0h1M746,0h1M785,0h1M788,0h1M873,0h1M879,0h1"/>
<path stroke="#cdff00" d="M127,0h1M129,0h1M311,0h1M328,0h3M332,0h1M405,0h1M446,0h1M553,0h2M558,0h1M566,0h1M572,0h1M660,0h1M662,0h1M665,0h1M676,0h1M678,0h1M749,0h1M753,0h2M789,0h1M874,0h1"/>
<path stroke="#efff00" d="M288,0h1M320,0h2M551,0h2M569,0h1M571,0h1M649,0h2M659,0h1M663,0h1M748,0h1M750,0h3M875,0h1M877,0h2"/>
<path stroke="#fff200" d="M289,0h2M312,0h1M317,0h3M408,0h1M447,0h1M570,0h1M652,0h2M658,0h1M876,0h1"/>
<path stroke="#ffd800" d="M313,0h2M316,0h1M406,0h1M409,0h1M450,0h1M458,0h1M550,0h1M651,0h1M657,0h1"/>
<path stroke="#ffbf00" d="M315,0h1M407,0h1M448,0h1M453,0h4M466,0h1M475,0h1M477,0h1M539,0h1M541,0h1M549,0h1M654,0h3"/>
<path stroke="#ffa500" d="M449,0h1M451,0h2M457,0h1M463,0h1M470,0h2M473,0h1M476,0h1M507,0h2M540,0h1M542,0h3M546,0h3"/>
<path stroke="#ff8c00" d="M459,0h4M464,0h2M468,0h1M472,0h1M474,0h1M479,0h1M503,0h1M505,0h2M538,0h1M545,0h1"/>
<path stroke="#ff7300" d="M467,0h1M469,0h1M499,0h1M504,0h1M512,0h2M524,0h2"/>
<path stroke="#ff5900" d="M478,0h1M480,0h1M484,0h1M486,0h1M489,0h1M498,0h1M502,0h1M509,0h1M511,0h1M514,0h3M520,0h3M526,0h4M532,0h1M536,0h2"/>
<path stroke="#ff4000" d="M481,0h1M485,0h1M487,0h2M491,0h1M493,0h2M496,0h1M500,0h1M510,0h1M517,0h1M519,0h1M523,0h1M530,0h2M533,0h3"/>
<path stroke="#ff2600" d="M482,0h2M495,0h1M497,0h1M501,0h1M518,0h1"/>
<path stroke="#ff0d00" d="M490,0h1M492,0h1"/>
<path stroke="#1fc7ff" d="M23,0h1M838,0h1"/>
<path stroke="#1fddff" d="M5,0h1M162,0h1M209,0h1M214,0h1M246,0h1M344,0h1M382,0h1M423,0h1M832,0h1M934,0h1M939,0h1M1018,0h1"/>
<path stroke="#1ff4ff" d="M41,0h1M183,0h1M218,0h1M220,0h1M256,0h1M384,0h1M421,0h1M579,0h1M716,0h1M736,0h1M856,0h1M861,0h1M895,0h1M907,0h1M932,0h1M963,0h1"/>
<path stroke="#1ffff3" d="M116,0h1M140,0h1M211,0h1M252,0h1M258,0h1M272,0h1M298,0h1M591,0h1M600,0h1M732,0h1M836,0h1M843,0h1M921,0h1M966,0h1"/>
<path stroke="#1fffdc" d="M102,0h1M334,0h1M336,0h1M435,0h1M800,0h1M808,0h1M901,0h1"/>
<path stroke="#1fffc3" d="M105,0h1M669,0h1"/>
</g>
<g transform="translate(188.7,666.5) scale(1.33315,1)" stroke-width="29">
<path stroke="#00bfff" d="M820,0h1"/>
<path stroke="#00d9ff" d="M595,0h1M816,0h1"/>
<path stroke="#00f2ff" d="M44,0h3M48,0h1M741,0h1M867,0h2M887,0h1"/>
<path stroke="#00fff2" d="M149,0h1M403,0h1M671,0h2M740,0h1M819,0h1M877,0h1M885,0h1"/>
<path stroke="#00ffd7" d="M51,0h1M226,0h1M286,0h1M291,0h1M308,0h1M557,0h1M561,0h1M594,0h1M644,0h2M779,0h1M786,0h1M795,0h2M805,0h2M817,0h1M873,0h1M886,0h1M926,0h1M979,0h2"/>
<path stroke="#00ffbb" d="M47,0h1M120,0h1M147,0h2M227,0h1M229,0h2M285,0h1M401,0h1M404,0h1M560,0h1M568,0h1M646,0h1M747,0h1M778,0h1M780,0h1M925,0h1"/>
<path stroke="#00ff9c" d="M52,0h1M121,0h1M128,0h1M309,0h2M322,0h1M325,0h3M402,0h1M412,0h1M556,0h1M563,0h1M647,0h1M661,0h1M677,0h1M752,0h1M787,0h1M880,0h1"/>
<path stroke="#00fc7b" d="M323,0h1M332,0h1M411,0h1M554,0h2M562,0h1M676,0h1M746,0h1M753,0h2M788,0h1M874,0h1M878,0h2M881,0h1"/>
<path stroke="#5fff55" d="M127,0h1M287,0h1M552,0h1M749,0h1M751,0h1"/>
<path stroke="#7aff3e" d="M329,0h3M648,0h1M650,0h1M748,0h1M750,0h1M876,0h1"/>
<path stroke="#a5ff16" d="M289,0h2M320,0h2M405,0h1M446,0h1M551,0h1M569,0h3M659,0h2M875,0h1"/>
<path stroke="#cdff00" d="M288,0h1M311,0h2M317,0h3M408,0h1M447,0h1M456,0h1M549,0h1M658,0h1"/>
<path stroke="#efff00" d="M313,0h2M316,0h1M406,0h1M409,0h1M458,0h1M507,0h1M550,0h1M651,0h1M653,0h2M657,0h1"/>
<path stroke="#fff200" d="M315,0h1M407,0h1M449,0h2M453,0h2M457,0h1M463,0h1M472,0h1M477,0h1M540,0h2M547,0h1M652,0h1M655,0h2"/>
<path stroke="#ffd800" d="M448,0h1M451,0h2M460,0h1M464,0h1M466,0h1M468,0h1M470,0h1M473,0h3M539,0h1M542,0h5M548,0h1"/>
<path stroke="#ffbf00" d="M455,0h1M459,0h1M461,0h2M467,0h1M471,0h1M476,0h1M478,0h1M503,0h1M505,0h2M509,0h1M520,0h1M537,0h2"/>
<path stroke="#ffa500" d="M465,0h1M469,0h1M479,0h1M514,0h2M525,0h1"/>
<path stroke="#ff8c00" d="M481,0h1M485,0h2M500,0h1M502,0h1M504,0h1M508,0h1M510,0h2M513,0h1M516,0h1M519,0h1M521,0h2M524,0h1M527,0h3M531,0h1M536,0h1"/>
<path stroke="#ff7300" d="M482,0h1M484,0h1M487,0h2M492,0h2M496,0h1M498,0h2M501,0h1M512,0h1M517,0h2M523,0h1M526,0h1M532,0h4"/>
<path stroke="#ff5900" d="M480,0h1M483,0h1M489,0h3M494,0h2M497,0h1M530,0h1"/>
<path stroke="#1fc7ff" d="M1000,0h1"/>
<path stroke="#1fddff" d="M23,0h1M116,0h1M222,0h1M256,0h1M1018,0h1"/>
<path stroke="#1ff4ff" d="M14,0h1M16,0h1M153,0h1M183,0h1M234,0h1M250,0h1M384,0h1M427,0h1M439,0h1M682,0h1M770,0h1M824,0h1M916,0h1"/>
<path stroke="#1ffff3" d="M84,0h1M214,0h1M258,0h1M336,0h1M382,0h1M581,0h1M584,0h1M635,0h1M669,0h1M890,0h1M907,0h1M921,0h1M932,0h1M994,0h1"/>
<path stroke="#1fffdc" d="M145,0h1M218,0h1M399,0h1M444,0h1M600,0h1M623,0h1M722,0h1M758,0h1M768,0h1M800,0h1M883,0h1"/>
<path stroke="#1fffc3" d="M102,0h1M105,0h1M432,0h1M718,0h1"/>
<path stroke="#1fffa8" d="M123,0h1M566,0h1M587,0h1M679,0h1M792,0h1"/>
<path stroke="#1ffd8b" d="M663,0h1M665,0h1M790,0h1"/>
</g>
<g transform="translate(188.7,632.5) scale(1.33315,1)" stroke-width="39">
<path stroke="#00d9ff" d="M405,0h1"/>
<path stroke="#00f2ff" d="M482,0h1M539,0h2M672,0h1M979,0h2"/>
<path stroke="#00fff2" d="M406,0h1M507,0h1M550,0h3M568,0h2M671,0h1M752,0h1"/>
<path stroke="#00ffd7" d="M409,0h1M452,0h1M490,0h1M751,0h1M753,0h1"/>
<path stroke="#00ffbb" d="M469,0h1"/>
<path stroke="#5fff55" d="M408,0h1"/>
<path stroke="#7aff3e" d="M407,0h1M454,0h1M457,0h1M460,0h1M476,0h1"/>
<path stroke="#a5ff16" d="M450,0h1M455,0h1M458,0h1M463,0h1M466,0h2M470,0h1M477,0h1M479,0h1M508,0h1M524,0h1M538,0h1M541,0h1M543,0h2M546,0h1"/>
<path stroke="#cdff00" d="M451,0h1M453,0h1M461,0h2M468,0h1M504,0h3M509,0h1M521,0h1M527,0h1M532,0h1M537,0h1M545,0h1"/>
<path stroke="#efff00" d="M464,0h1M478,0h1M499,0h2M503,0h1M511,0h4M516,0h1M520,0h1M522,0h1M525,0h1M528,0h1"/>
<path stroke="#fff200" d="M459,0h1M480,0h2M484,0h1M486,0h1M489,0h1M496,0h1M502,0h1M510,0h1M515,0h1M517,0h3M523,0h1M526,0h1M529,0h1M531,0h1M534,0h1M536,0h1"/>
<path stroke="#ffd800" d="M483,0h1M487,0h2M491,0h3M498,0h1M501,0h1M530,0h1M533,0h1M535,0h1"/>
<path stroke="#ffbf00" d="M485,0h1M495,0h1M497,0h1"/>
<path stroke="#ffa500" d="M494,0h1"/>
<path stroke="#1fddff" d="M446,0h1"/>
<path stroke="#1ff4ff" d="M105,0h1M256,0h1M444,0h1M746,0h1M780,0h1M824,0h1M887,0h1M921,0h1"/>
<path stroke="#1ffff3" d="M47,0h1M120,0h1M401,0h1M403,0h1M600,0h1M722,0h1M805,0h1M868,0h1M890,0h1"/>
<path stroke="#1fffdc" d="M291,0h1M321,0h1M325,0h1M669,0h1M740,0h1M883,0h1"/>
<path stroke="#1fffc3" d="M778,0h1M932,0h1"/>
<path stroke="#1fffa8" d="M412,0h1"/>
<path stroke="#72ff69" d="M316,0h1"/>
<path stroke="#8aff55" d="M314,0h1M448,0h1"/>
<path stroke="#b0ff32" d="M548,0h1"/>
<path stroke="#d3ff1f" d="M474,0h1"/>
</g>
<g transform="translate(188.7,594) scale(1.33315,1)" stroke-width="38">
<path stroke="#00bfff" d="M484,0h1M531,0h1M537,0h1"/>
<path stroke="#00d9ff" d="M482,0h1M488,0h2M500,0h1M502,0h1M513,0h2M529,0h1"/>
<path stroke="#00f2ff" d="M479,0h1M516,0h2M538,0h1"/>
<path stroke="#00fff2" d="M490,0h1M534,0h1"/>
<path stroke="#7aff3e" d="M486,0h1M494,0h1M515,0h1"/>
<path stroke="#a5ff16" d="M480,0h2M485,0h1M487,0h1M496,0h1M533,0h1"/>
<path stroke="#cdff00" d="M483,0h1M491,0h3M495,0h1M530,0h1"/>
<path stroke="#efff00" d="M501,0h1"/>
<path stroke="#1fddff" d="M256,0h1M405,0h1M446,0h1M463,0h1M510,0h1"/>
<path stroke="#1ff4ff" d="M401,0h1M407,0h1M453,0h1M457,0h1M467,0h1M523,0h1M526,0h1M540,0h1M546,0h1M671,0h1"/>
<path stroke="#1ffff3" d="M105,0h1M569,0h1M740,0h1M805,0h1"/>
<path stroke="#1fffdc" d="M409,0h1M600,0h1M722,0h1"/>
</g>
<g transform="translate(188.7,565) scale(1.33315,1)" stroke-width="20">
<path stroke="#00a6ff" d="M481,0h1M494,0h1"/>
<path stroke="#00bfff" d="M482,0h1M486,0h1"/>
<path stroke="#00d9ff" d="M485,0h1"/>
<path stroke="#00f2ff" d="M495,0h1"/>
<path stroke="#1fb0ff" d="M490,0h1M492,0h1"/>
<path stroke="#1fc7ff" d="M515,0h1"/>
<path stroke="#1fddff" d="M479,0h1M531,0h1M534,0h1"/>
<path stroke="#1ff4ff" d="M457,0h1M517,0h1"/>
</g>
</g>
<polyline clip-path="url(#clipa)" points="189.4,360.4 190.7,362.4 192,361.1 193.4,362 194.7,361.1 196,362.3 197.4,365.4 198.7,361.9 200,363.6 201.4,362 202.7,363.2 204,361.6 205.4,364.2 206.7,366.3 208,363.7 209.4,362.2 210.7,363 212,362.9 213.4,359.9 214.7,361.8 216,359.8 217.4,360.7 218.7,359 220,349 221.4,340.1 222.7,353.2 224,361.9 225.4,362.8 226.7,362.5 228,361.9 229.4,362.6 230.7,362.3 232,359.2 233.4,361.5 234.7,363.1 236,362.2 237.4,360.2 238.7,361.6 240,362.8 241.4,363.8 242.7,361.4 244,356.7 245.4,353.5 246.7,352.6 248,349.7 249.4,345.5 250.7,346.1 252,343.1 253.4,338.4 254.7,335.2 256,333.2 257.4,334.9 258.7,339.9 260,346.6 261.4,353.9 262.7,356.4 264,360.1 265.4,364.1 266.7,369.4 268,370.3 269.4,370.4 270.7,364.7 272,364.3 273.4,358.1 274.7,355 276,358.6 277.4,358.6 278.7,363 280,365.1 281.4,363.3 282.7,357.9 284,354.5 285.4,348.7 286.7,343.9 288,345.7 289.4,359.3 290.7,368.6 292,370.1 293.4,373 294.7,375.5 296,372.7 297.4,369.6 298.7,372.2 300,364 301.4,362.6 302.7,362.4 304,363.1 305.4,361.4 306.7,360.2 308,362.3 309.3,358.7 310.7,363.3 312,365.4 313.3,370.5 314.7,366.2 316,358.6 317.3,350.5 318.7,347.9 320,345.8 321.3,345.9 322.7,345 324,345.1 325.3,347.9 326.7,348.6 328,348.7 329.3,359 330.7,366.4 332,371.8 333.3,376 334.7,376.6 336,379.6 337.3,380.7 338.7,381 340,375.2 341.3,366.5 342.7,359 344,345.7 345.3,334 346.7,323.3 348,319.2 349.3,333.2 350.7,345.8 352,353.3 353.3,352.5 354.7,352.2 356,348.5 357.3,342.9 358.7,336.5 360,331.9 361.3,339.9 362.7,346.5 364,354.3 365.3,363.2 366.7,366.8 368,368.4 369.3,364.5 370.7,363.2 372,356.6 373.3,352.3 374.7,349.7 376,344.7 377.3,340.6 378.7,335.2 380,332.3 381.3,336 382.7,336.3 384,333.6 385.3,335.9 386.7,339.9 388,340 389.3,341.1 390.7,342.1 392,342.2 393.3,343.3 394.7,347.1 396,348.9 397.3,352.3 398.7,351.5 400,341.8 401.3,334.6 402.7,325.9 404,334.9 405.3,350.7 406.7,359.2 408,361 409.3,359.9 410.7,358.7 412,361.8 413.3,362.1 414.7,362.7 416,361.5 417.3,360.8 418.7,364.8 420,363.8 421.3,364 422.7,363.3 424,362.8 425.3,358.7 426.7,358.3 428,356.2 429.3,353.8 430.7,354.9 432,352.1 433.3,351.9 434.7,349.9 436,347.8 437.3,348.2 438.7,353.3 440,352.4 441.3,357.4 442.7,360.6 444,360.7 445.3,356.4 446.7,354.2 448,352.4 449.3,350.9 450.7,351.6 452,348.9 453.3,352.1 454.7,351.2 456,351.5 457.3,354.9 458.7,355.6 460,356.6 461.3,357.7 462.7,356.9 464,361.4 465.3,359.1 466.7,363.6 468,363.8 469.3,364.4 470.7,361.4 472,359.8 473.3,356.3 474.7,354.8 476,349.8 477.3,350.1 478.7,348.8 480,346.3 481.3,345.2 482.7,345.5 484,345.9 485.3,344.7 486.7,342.6 488,340.9 489.3,340.6 490.7,338.9 492,334.5 493.3,332.3 494.7,327.8 496,322.6 497.3,327.8 498.7,332.8 500,340.5 501.3,338.4 502.7,337.4 504,332.2 505.3,340.4 506.7,351.6 508,360.5 509.3,361.5 510.7,361.7 512,357.6 513.3,351.2 514.7,349.3 516,346.3 517.3,345.2 518.7,337.7 520,335.6 521.3,340.9 522.7,348.1 524,350.6 525.3,354.1 526.7,357.2 528,358.2 529.3,359.6 530.7,359.3 532,361.5 533.3,362.7 534.7,365.4 536,366.8 537.3,364.4 538.7,363.8 540,365 541.3,364.4 542.7,367.3 544,366.8 545.3,363.6 546.7,366 548,365.2 549.3,370.9 550.6,371.6 552,372.9 553.3,375 554.6,371.2 556,373.2 557.3,367.2 558.6,365.8 560,362.9 561.3,354.3 562.6,346.2 564,355.3 565.3,360.8 566.6,355.8 568,344.7 569.3,335.2 570.6,324.6 572,312.2 573.3,322.1 574.6,328.5 576,337 577.3,345.9 578.6,351.9 580,356.9 581.3,359.8 582.6,360.8 584,363.3 585.3,362.1 586.6,364.2 588,359.8 589.3,361.7 590.6,358 592,352.6 593.3,349.7 594.6,350 596,348.5 597.3,343.5 598.6,341.6 600,337.6 601.3,336.8 602.6,330.5 604,326.9 605.3,328.6 606.6,329.9 608,332.1 609.3,332.3 610.6,338.2 612,336 613.3,335.5 614.6,335.2 616,332.1 617.3,338 618.6,342.1 620,346.2 621.3,349.1 622.6,355.4 624,342.9 625.3,326 626.6,322 628,324.2 629.3,325.7 630.6,329.9 632,335.4 633.3,349.2 634.6,355.4 636,363.1 637.3,370.3 638.6,366.7 640,366.6 641.3,365.6 642.6,365.9 644,365.3 645.3,363.9 646.6,365.6 648,367 649.3,366.4 650.6,369.9 652,370.2 653.3,368.6 654.6,369.1 656,367.4 657.3,368.8 658.6,366.1 660,369 661.3,368.1 662.6,370.7 664,373 665.3,371.1 666.6,371.7 668,371.9 669.3,367.9 670.6,370.6 672,370.8 673.3,373.6 674.6,373.5 676,377 677.3,378.3 678.6,379.3 680,377.1 681.3,381.5 682.6,381 684,379.3 685.3,375.9 686.6,374.5 688,375 689.3,371.6 690.6,369.7 692,363.1 693.3,358.2 694.6,356 696,353.4 697.3,352.6 698.6,350.9 700,353.4 701.3,355.9 702.6,357.2 704,360.3 705.3,361.8 706.6,365.4 708,368.3 709.3,365.8 710.6,357.8 712,349.4 713.3,345.6 714.6,352.9 716,358.6 717.3,352.1 718.6,346.6 720,337.8 721.3,326.4 722.6,337.5 724,350.1 725.3,345.7 726.6,339.9 728,336.5 729.3,318.9 730.6,301.7 732,283.5 733.3,288.1 734.6,316.6 736,340.3 737.3,328.8 738.6,318.3 740,331.9 741.3,353.7 742.6,363.9 744,362.5 745.3,357.5 746.6,354.7 748,351.1 749.3,347.8 750.6,346.7 752,343.9 753.3,348.7 754.6,356.2 756,352.3 757.3,338.3 758.6,322.9 760,328.9 761.3,337.6 762.6,334.6 764,331.8 765.3,331.8 766.6,335.4 768,344.2 769.3,343.9 770.6,351.3 772,356.3 773.3,360.7 774.6,356.3 776,349.5 777.3,344.6 778.6,338.5 780,339.7 781.3,353.8 782.6,331.9 784,314.3 785.3,290.4 786.6,298.4 788,312.6 789.3,314 790.6,306.3 791.9,300.4 793.3,305.6 794.6,311.6 795.9,315.6 797.3,322.1 798.6,326.8 799.9,316.4 801.3,304 802.6,287.4 803.9,289 805.3,303.9 806.6,316 807.9,315 809.3,314.8 810.6,315.6 811.9,318.1 813.3,316.9 814.6,319.9 815.9,323.7 817.3,328.2 818.6,331 819.9,330.2 821.3,331 822.6,328.2 823.9,325.6 825.3,318.3 826.6,315.3 827.9,310 829.3,310.4 830.6,306.3 831.9,304.6 833.3,300.6 834.6,299.8 835.9,304.8 837.3,325.2 838.6,322.5 839.9,314.8 841.3,309.5 842.6,306.8 843.9,301.1 845.3,307.1 846.6,313.2 847.9,296.1 849.3,282.9 850.6,289.8 851.9,318.7 853.3,334.5 854.6,314.7 855.9,295.4 857.3,306.2 858.6,319.1 859.9,333 861.3,332.4 862.6,330 863.9,325.1 865.3,322.7 866.6,317.8 867.9,317.9 869.3,319.5 870.6,323.4 871.9,320.2 873.3,316.1 874.6,320 875.9,321 877.3,320.6 878.6,320.6 879.9,323 881.3,325 882.6,327.8 883.9,327.8 885.3,330.4 886.6,329.6 887.9,327.3 889.3,325.6 890.6,325.5 891.9,323.7 893.3,321.9 894.6,317.1 895.9,317 897.3,321.4 898.6,326.6 899.9,325.2 901.3,295.6 902.6,283.3 903.9,316.5 905.3,331 906.6,338.8 907.9,335.2 909.3,332.6 910.6,328.7 911.9,325.9 913.3,325.3 914.6,325.4 915.9,329.7 917.3,330.4 918.6,333.2 919.9,335.4 921.3,341.5 922.6,346.2 923.9,345.2 925.3,343.7 926.6,334.1 927.9,338.8 929.3,347.6 930.6,347.4 931.9,346.7 933.3,340.3 934.6,338.4 935.9,332.2 937.3,336.8 938.6,341.6 939.9,347.6 941.3,354.2 942.6,355.5 943.9,345.4 945.3,338.9 946.6,329.9 947.9,328.7 949.3,330.6 950.6,334.6 951.9,343.5 953.3,344.4 954.6,346.2 955.9,353.9 957.3,355.5 958.6,360.8 959.9,355.6 961.3,350.6 962.6,344.5 963.9,337.4 965.3,331.8 966.6,338.7 967.9,345.8 969.3,349.8 970.6,351.1 971.9,350.8 973.3,349.3 974.6,346.2 975.9,348.8 977.3,346.4 978.6,349.7 979.9,350.9 981.3,348.8 982.6,344.8 983.9,348.7 985.3,355.4 986.6,360.5 987.9,368.8 989.3,366.7 990.6,364.9 991.9,360.4 993.3,360.1 994.6,359.2 995.9,361.3 997.3,360.2 998.6,360.9 999.9,364.2 1001.3,365.3 1002.6,365.2 1003.9,365.2 1005.3,366.6 1006.6,365.1 1007.9,365.7 1009.3,364.4 1010.6,363.5 1011.9,362.3 1013.3,359 1014.6,358.6 1015.9,355 1017.3,353.8 1018.6,347.7 1019.9,349.3 1021.3,341 1022.6,337.4 1023.9,341.7 1025.3,350.1 1026.6,357.6 1027.9,357.2 1029.2,357.7 1030.6,361 1031.9,357.3 1033.2,352.9 1034.6,344 1035.9,336.5 1037.2,338.4 1038.6,345.6 1039.9,356.2 1041.2,359.7 1042.6,358.5 1043.9,356.3 1045.2,352.2 1046.6,347 1047.9,343.2 1049.2,337.6 1050.6,333.2 1051.9,325.3 1053.2,321.2 1054.6,324.2 1055.9,326.4 1057.2,331.6 1058.6,337 1059.9,329.2 1061.2,325.8 1062.6,322 1063.9,325 1065.2,333.2 1066.6,337 1067.9,343.2 1069.2,342.8 1070.6,345.5 1071.9,339.6 1073.2,336.2 1074.6,336.7 1075.9,346.8 1077.2,354.4 1078.6,352.1 1079.9,355 1081.2,354.5 1082.6,355.4 1083.9,353 1085.2,350.4 1086.6,344.3 1087.9,338.7 1089.2,333.5 1090.6,327.2 1091.9,331.8 1093.2,335.7 1094.6,340.6 1095.9,345.7 1097.2,355.5 1098.6,362.2 1099.9,367.9 1101.2,370 1102.6,370.1 1103.9,373.9 1105.2,378.8 1106.6,376.5 1107.9,376.8 1109.2,378.2 1110.6,376.3 1111.9,377.2 1113.2,376.9 1114.6,375.8 1115.9,378 1117.2,375.8 1118.6,377.7 1119.9,377.2 1121.2,374.5 1122.6,375.2 1123.9,375.7 1125.2,374.7 1126.6,373.7 1127.9,375.4 1129.2,372 1130.6,372.4 1131.9,371.8 1133.2,368 1134.6,362.2 1135.9,361.7 1137.2,353.8 1138.6,354.8 1139.9,351 1141.2,354.2 1142.6,350.5 1143.9,350.6 1145.2,348.8 1146.6,351.8 1147.9,356 1149.2,355.3 1150.6,358.3 1151.9,361.5 1153.2,361.2 1154.6,366.8 1155.9,364.9 1157.2,363.6 1158.6,366.5 1159.9,365 1161.2,366.2 1162.6,363.1 1163.9,363.5 1165.2,363.1 1166.6,361.3 1167.9,359.8 1169.2,351.6 1170.6,340.8 1171.9,332.5 1173.2,346.9 1174.6,363 1175.9,358.8 1177.2,351.9 1178.6,346.4 1179.9,341.1 1181.2,340.4 1182.6,337.6 1183.9,335.8 1185.2,335.5 1186.6,335.6 1187.9,337.9 1189.2,340.2 1190.6,339.1 1191.9,338.9 1193.2,337.5 1194.6,345.6 1195.9,345.1 1197.2,347.3 1198.6,347.4 1199.9,350.6 1201.2,350.9 1202.6,351.4 1203.9,355.5 1205.2,356.3 1206.6,355.7 1207.9,358.4 1209.2,362.1 1210.6,354 1211.9,354.6 1213.2,354.1 1214.6,356.1 1215.9,357.1 1217.2,358.5 1218.6,357.7 1219.9,360.6 1221.2,356 1222.6,347.7 1223.9,339.6 1225.2,342.2 1226.6,342.5 1227.9,348.5 1229.2,346.7 1230.6,342.4 1231.9,340.6 1233.2,338 1234.6,338.5 1235.9,338 1237.2,338.9 1238.6,337.3 1239.9,339.9 1241.2,344.4 1242.6,342.9 1243.9,343.4 1245.2,346.7 1246.6,345 1247.9,346.3 1249.2,346.6 1250.6,344.5 1251.9,344.4 1253.2,344.8 1254.6,341.2 1255.9,342.4 1257.2,345.2 1258.6,345.7 1259.9,347.9 1261.2,348.5 1262.6,348.8 1263.9,353.5 1265.2,356.1 1266.6,355 1267.9,356.3 1269.2,363 1270.5,366.1 1271.9,369 1273.2,369.8 1274.5,372.1 1275.9,375 1277.2,373.5 1278.5,371.8 1279.9,367.5 1281.2,364.3 1282.5,356.5 1283.9,352.1 1285.2,347 1286.5,345.1 1287.9,340.6 1289.2,345.7 1290.5,348.9 1291.9,352.8 1293.2,357.6 1294.5,360.7 1295.9,365.9 1297.2,366.6 1298.5,362.6 1299.9,360.3 1301.2,355.1 1302.5,349.9 1303.9,350.8 1305.2,353.2 1306.5,354.9 1307.9,355.2 1309.2,354.9 1310.5,359 1311.9,361.1 1313.2,364.9 1314.5,364.7 1315.9,366.3 1317.2,369.7 1318.5,370.6 1319.9,370.1 1321.2,366.9 1322.5,364.7 1323.9,364.7 1325.2,360.5 1326.5,353.1 1327.9,346.1 1329.2,350.5 1330.5,354.3 1331.9,357.9 1333.2,362.3 1334.5,358.2 1335.9,355.9 1337.2,352.2 1338.5,354.8 1339.9,358.9 1341.2,361.1 1342.5,366.1 1343.9,357.4 1345.2,354.5 1346.5,348.4 1347.9,339.6 1349.2,339.6 1350.5,335.5 1351.9,331.3 1353.2,328.5 1354.5,332.4 1355.9,338.9 1357.2,342.1 1358.5,342.7 1359.9,341.2 1361.2,342.2 1362.5,340.6 1363.9,339.4 1365.2,345 1366.5,345.1 1367.9,346.7 1369.2,351.6 1370.5,354.7 1371.9,351.5 1373.2,354.1 1374.5,353.5 1375.9,355.8 1377.2,354.8 1378.5,354.2 1379.9,352.5 1381.2,353 1382.5,356.9 1383.9,359.6 1385.2,361.2 1386.5,357.9 1387.9,356.4 1389.2,354.6 1390.5,353.2 1391.9,352 1393.2,356 1394.5,356.1 1395.9,360.5 1397.2,359.6 1398.5,355.4 1399.9,352.8 1401.2,350.1 1402.5,352.1 1403.9,357 1405.2,359.1 1406.5,355.6 1407.9,349.8 1409.2,347.4 1410.5,346.7 1411.9,347 1413.2,350.1 1414.5,351.7 1415.9,346.4 1417.2,344.8 1418.5,339.8 1419.9,338.7 1421.2,334.1 1422.5,332.9 1423.9,335.6 1425.2,337.2 1426.5,341.6 1427.9,348.4 1429.2,356.7 1430.5,361 1431.9,359.5 1433.2,354.2 1434.5,355.6 1435.9,352.5 1437.2,358.6 1438.5,360.2 1439.9,362.8 1441.2,369.2 1442.5,368.5 1443.9,375.2 1445.2,378.1 1446.5,378.6 1447.9,379.5 1449.2,375.7 1450.5,375.6 1451.9,382.2 1453.2,382.7 1454.5,384.1 1455.9,384.9 1457.2,389.1 1458.5,381.1 1459.9,361.1 1461.2,346.7 1462.5,347.7 1463.9,352.6 1465.2,352.1 1466.5,353.8 1467.9,355.9 1469.2,356.2 1470.5,354 1471.9,349.5 1473.2,354 1474.5,354.4 1475.9,360 1477.2,362 1478.5,363.4 1479.9,364.3 1481.2,364.3 1482.5,361.7 1483.9,356.2 1485.2,352.9 1486.5,348.6 1487.9,345.9 1489.2,343.8 1490.5,342.7 1491.9,345.8 1493.2,341.9 1494.5,341.4 1495.9,345.8 1497.2,351.3 1498.5,355.5 1499.9,355.4 1501.2,361.8 1502.5,365.4 1503.9,368.8 1505.2,373.9 1506.5,374 1507.9,370.2 1509.2,370.9 1510.5,365.8 1511.8,366 1513.2,364.1 1514.5,363.8 1515.8,364.6 1517.2,365.2 1518.5,366.6 1519.8,368.9 1521.2,365.8 1522.5,365.9 1523.8,364.6 1525.2,360.1 1526.5,358.2 1527.8,357.5 1529.2,356.4 1530.5,354.7 1531.8,351.9 1533.2,353.6 1534.5,354.2 1535.8,353.1 1537.2,357.5 1538.5,364.2 1539.8,370.6 1541.2,374.5 1542.5,378 1543.8,378.1 1545.2,376.3 1546.5,376.5 1547.8,375.3 1549.2,376.8 1550.5,382.5 1551.8,384.5 1553.2,387.6 1554.5,387.1 1555.8,385.2 1557.2,384.1 1558.5,385.4 1559.8,387.7 1561.2,390.5 1562.5,390.1 1563.8,396.6 1565.2,396.9 1566.5,392.6 1567.8,390.2 1569.2,385 1570.5,385.9 1571.8,392.7 1573.2,394.4 1574.5,399.1 1575.8,397.8 1577.2,394.8 1578.5,391.3 1579.8,389.5 1581.2,389.3 1582.5,387.7 1583.8,389.9 1585.2,389.5 1586.5,389 1587.8,390.5 1589.2,389.7 1590.5,390.9 1591.8,386.1 1593.2,389.3 1594.5,387 1595.8,388.1 1597.2,387.6 1598.5,388.6 1599.8,392.3 1601.2,395.6 1602.5,394.3 1603.8,389.1 1605.2,383.7 1606.5,379.6 1607.8,378.2 1609.2,374.4 1610.5,373.9 1611.8,376.4 1613.2,375.5 1614.5,374.4 1615.8,368.7 1617.2,368.5 1618.5,365.6 1619.8,365.7 1621.2,371.5 1622.5,375.2 1623.8,378 1625.2,377 1626.5,377.5 1627.8,373" fill="none" stroke="#000" stroke-width="5.4" stroke-linejoin="round" stroke-linecap="round"/>
<path clip-path="url(#clipc)" d="M188.7,1305.3V1299H190.03V1299H191.37V1299H192.7V1298.5H194.03V1299.4H195.37V1299H196.7V1299.1H198.03V1299.3H199.37V1299.8H200.7V1299.5H202.03V1300.1H203.36V1300.6H204.7V1299.3H206.03V1299.2H207.36V1298.9H208.7V1299.6H210.03V1300.8H211.36V1301.5H212.7V1300.1H214.03V1300.5H215.36V1299.2H216.7V1298.3H218.03V1300.7H219.36V1295.1H220.7V1297.9H222.03V1299H223.36V1296.4H224.69V1296.6H226.03V1295.5H227.36V1297.3H228.69V1296.1H230.03V1294.1H231.36V1295.3H232.69V1289.6H234.03V1294.6H235.36V1295.9H236.69V1297H238.03V1294.5H239.36V1294.9H240.69V1296.4H242.03V1296.5H243.36V1298.2H244.69V1299.2H246.03V1299.4H247.36V1299.2H248.69V1296.6H250.02V1288.7H251.36V1284.2H252.69V1280.9H254.02V1280.2H255.36V1273.7H256.69V1272.4H258.02V1268.8H259.36V1262.9H260.69V1271.5H262.02V1281.7H263.36V1291.7H264.69V1294.3H266.02V1298.2H267.36V1299.2H268.69V1298.5H270.02V1300.7H271.36V1298.2H272.69V1297.2H274.02V1298.2H275.35V1299.6H276.69V1301H278.02V1300.4H279.35V1300.5H280.69V1300.7H282.02V1299.4H283.35V1300.4H284.69V1300.2H286.02V1300.1H287.35V1298.8H288.69V1298.7H290.02V1287.3H291.35V1287.2H292.69V1301.1H294.02V1300.9H295.35V1301.8H296.69V1302.7H298.02V1302.5H299.35V1301.5H300.68V1300.9H302.02V1300.2H303.35V1299.5H304.68V1297.9H306.02V1297.6H307.35V1295.9H308.68V1295.6H310.02V1292.4H311.35V1296.2H312.68V1295.5H314.02V1296.7H315.35V1291.7H316.68V1286.2H318.02V1289.3H319.35V1285H320.68V1284.4H322.01V1284.8H323.35V1276.7H324.68V1273.5H326.01V1278.1H327.35V1267H328.68V1276.7H330.01V1277.2H331.35V1285.1H332.68V1297H334.01V1300.9H335.35V1302.4H336.68V1302.4H338.01V1302H339.35V1302.2H340.68V1302H342.01V1302.4H343.35V1301.7H344.68V1302.1H346.01V1294.9H347.34V1286.7H348.68V1277H350.01V1251.9H351.34V1217.2H352.68V1231.4H354.01V1242.9H355.34V1250.1H356.68V1257.5H358.01V1261.4H359.34V1253.7H360.68V1245.2H362.01V1256.8H363.34V1251.2H364.68V1267.3H366.01V1279.9H367.34V1291.2H368.68V1296.7H370.01V1298H371.34V1297.8H372.67V1299.2H374.01V1297.1H375.34V1296.1H376.67V1294.9H378.01V1294.3H379.34V1286.5H380.67V1276.2H382.01V1261H383.34V1242.7H384.67V1257.7H386.01V1258.3H387.34V1260.7H388.67V1274.2H390.01V1288.7H391.34V1287.1H392.67V1287.6H394V1290.1H395.34V1291.4H396.67V1297.7H398V1295.3H399.34V1295.8H400.67V1297.2H402V1298.9H403.34V1298.9H404.67V1296.7H406V1295.5H407.34V1291.4H408.67V1295.9H410V1301.3H411.34V1301.2H412.67V1302.5H414V1301.1H415.34V1302.3H416.67V1302.7H418V1303.2H419.33V1302.4H420.67V1302.4H422V1301.2H423.33V1301.9H424.67V1302.8H426V1302.7H427.33V1302.5H428.67V1302.4H430V1300.9H431.33V1302.9H432.67V1302.3H434V1302.1H435.33V1302.8H436.67V1302.2H438V1300.5H439.33V1301.9H440.67V1301H442V1298H443.33V1296.5H444.66V1293.6H446V1294.1H447.33V1297.8H448.66V1296.3H450V1298.5H451.33V1295.3H452.66V1295.1H454V1296.4H455.33V1296.8H456.66V1293.9H458V1297.1H459.33V1296.5H460.66V1293.6H462V1292.2H463.33V1293.6H464.66V1294.2H465.99V1295.3H467.33V1294.4H468.66V1297.6H469.99V1296.9H471.33V1298H472.66V1299.4H473.99V1300.7H475.33V1299.4H476.66V1300H477.99V1300H479.33V1298.9H480.66V1298.3H481.99V1300.8H483.33V1299.7H484.66V1300.9H485.99V1301.8H487.33V1301.6H488.66V1301.7H489.99V1301.3H491.32V1301.7H492.66V1300.2H493.99V1299.9H495.32V1300.1H496.66V1299.7H497.99V1299.4H499.32V1299H500.66V1300H501.99V1300.2H503.32V1299H504.66V1299.4H505.99V1299.8H507.32V1301H508.66V1300.5H509.99V1302.1H511.32V1300.7H512.65V1300H513.99V1301.5H515.32V1300.2H516.65V1299.6H517.99V1301.2H519.32V1299.4H520.65V1299.4H521.99V1291.7H523.32V1291.1H524.65V1296.5H525.99V1296.2H527.32V1297H528.65V1294.2H529.99V1297.2H531.32V1298.8H532.65V1297.9H533.99V1296.8H535.32V1296.4H536.65V1296.8H537.98V1299H539.32V1297.1H540.65V1296.5H541.98V1296.8H543.32V1299.4H544.65V1298.9H545.98V1299.3H547.32V1299.3H548.65V1301.2H549.98V1299.8H551.32V1301.2H552.65V1301.8H553.98V1299.9H555.32V1298.8H556.65V1298.4H557.98V1296.6H559.32V1298.2H560.65V1293H561.98V1295.1H563.31V1294.5H564.65V1293.1H565.98V1290.8H567.31V1292.3H568.65V1292.4H569.98V1290.8H571.31V1286.7H572.65V1263H573.98V1199.9H575.31V1226H576.65V1259.1H577.98V1257.2H579.31V1282.2H580.65V1290.7H581.98V1289H583.31V1289.6H584.64V1290.3H585.98V1286.9H587.31V1291.7H588.64V1291.3H589.98V1289.5H591.31V1293.2H592.64V1290.9H593.98V1290.3H595.31V1290H596.64V1290H597.98V1285.9H599.31V1285.1H600.64V1278.5H601.98V1267.5H603.31V1259.8H604.64V1233.2H605.98V1218H607.31V1203.4H608.64V1170.4H609.97V1161.1H611.31V1210.1H612.64V1239.8H613.97V1243.1H615.31V1241H616.64V1233.1H617.97V1241.6H619.31V1254.1H620.64V1246H621.97V1245.4H623.31V1269.8H624.64V1277.7H625.97V1279.8H627.31V1263.8H628.64V1246.5H629.97V1251.3H631.31V1261.6H632.64V1255H633.97V1251H635.3V1271.2H636.64V1277.3H637.97V1291.3H639.3V1292.5H640.64V1290.2H641.97V1288.8H643.3V1294.6H644.64V1297.4H645.97V1293.6H647.3V1295.3H648.64V1293.3H649.97V1291.7H651.3V1293.7H652.64V1295.4H653.97V1296.6H655.3V1289.8H656.63V1288.8H657.97V1291.9H659.3V1295.9H660.63V1295.4H661.97V1293.4H663.3V1296.4H664.63V1294.4H665.97V1293.6H667.3V1296.3H668.63V1293.8H669.97V1296.5H671.3V1299.4H672.63V1298.9H673.97V1299.4H675.3V1301.4H676.63V1299.1H677.97V1300.6H679.3V1301.1H680.63V1301.4H681.96V1300.1H683.3V1301.8H684.63V1300.4H685.96V1300.2H687.3V1301H688.63V1301.1H689.96V1300.2H691.3V1299.6H692.63V1299.7H693.96V1298H695.3V1298.3H696.63V1298.8H697.96V1300.1H699.3V1300.6H700.63V1298.9H701.96V1300.4H703.3V1299.7H704.63V1299.7H705.96V1300.3H707.29V1300.5H708.63V1299.7H709.96V1299.9H711.29V1298.5H712.63V1299.4H713.96V1299H715.29V1296.4H716.63V1295H717.96V1291.3H719.29V1287H720.63V1282.7H721.96V1278.5H723.29V1276.9H724.63V1287.8H725.96V1279.2H727.29V1276.7H728.62V1280.2H729.96V1267.4H731.29V1275H732.62V1276.8H733.96V1277.2H735.29V1266.9H736.62V1255.6H737.96V1274.1H739.29V1283.2H740.62V1274.3H741.96V1265.6H743.29V1280.3H744.62V1291.8H745.96V1291.7H747.29V1298.5H748.62V1297.4H749.96V1296H751.29V1290.7H752.62V1294.7H753.95V1295.1H755.29V1294.5H756.62V1296.6H757.95V1288.5H759.29V1280.4H760.62V1272.7H761.95V1281.4H763.29V1282.9H764.62V1287.6H765.95V1284.2H767.29V1280.3H768.62V1278.2H769.95V1279.2H771.29V1281.4H772.62V1282.3H773.95V1291.1H775.29V1291.7H776.62V1287.1H777.95V1281.3H779.28V1281.2H780.62V1262.2H781.95V1277.4H783.28V1271.5H784.62V1260.9H785.95V1239.4H787.28V1248.4H788.62V1226.7H789.95V1253H791.28V1242.3H792.62V1239.7H793.95V1239.5H795.28V1223H796.62V1211.4H797.95V1247.2H799.28V1233H800.61V1233.6H801.95V1244.6H803.28V1242.7H804.61V1231.3H805.95V1217.9H807.28V1205.3H808.61V1205.7H809.95V1203.2H811.28V1209.4H812.61V1191.1H813.95V1191.7H815.28V1160H816.61V1155.7H817.95V1177.1H819.28V1168.9H820.61V1197.4H821.95V1172.4H823.28V1176.1H824.61V1210.5H825.94V1179.9H827.28V1184.1H828.61V1120.9H829.94V1091.8H831.28V1084.1H832.61V1021.6H833.94V1067.1H835.28V1066.7H836.61V1047.5H837.94V1015.7H839.28V1048.8H840.61V1048.9H841.94V1084.7H843.28V1032.4H844.61V1034H845.94V1082.4H847.28V1105.9H848.61V1043H849.94V1031H851.27V1047.1H852.61V1074.4H853.94V1067H855.27V1079H856.61V1159.1H857.94V1115.6H859.27V1114.9H860.61V1110.8H861.94V1110.4H863.27V1179.2H864.61V1179.7H865.94V1142.5H867.27V1102.5H868.61V1096.5H869.94V1099.6H871.27V1076.1H872.6V1086.1H873.94V999.5H875.27V1029.1H876.6V1038H877.94V1049.3H879.27V1048.8H880.6V1034.3H881.94V1056.5H883.27V987.6H884.6V1026.8H885.94V1058.2H887.27V1037.4H888.6V1021.6H889.94V1033.8H891.27V1084.2H892.6V1051.6H893.94V1026.4H895.27V987.6H896.6V1028.4H897.93V1083.1H899.27V1089.1H900.6V1053.3H901.93V1092.2H903.27V1052H904.6V1100.2H905.93V1158.8H907.27V1165.5H908.6V1182.6H909.93V1181.7H911.27V1162H912.6V1195.8H913.93V1195.9H915.27V1138.6H916.6V1134.5H917.93V1146.4H919.27V1137.4H920.6V1153.3H921.93V1160.5H923.26V1210.5H924.6V1224.7H925.93V1262.1H927.26V1259.4H928.6V1241.9H929.93V1234.9H931.26V1251.5H932.6V1258.9H933.93V1256.5H935.26V1250.3H936.6V1264.9H937.93V1255.1H939.26V1250.5H940.6V1218.2H941.93V1239.1H943.26V1258.2H944.59V1259.9H945.93V1253.3H947.26V1250.3H948.59V1249.1H949.93V1230.8H951.26V1228.8H952.59V1234.1H953.93V1272.1H955.26V1281.2H956.59V1284.4H957.93V1286.5H959.26V1291.9H960.59V1295.2H961.93V1295.5H963.26V1296.1H964.59V1292.6H965.93V1286.7H967.26V1277.4H968.59V1258.6H969.92V1278.4H971.26V1282.6H972.59V1288H973.92V1287.7H975.26V1287.6H976.59V1284.5H977.92V1285.6H979.26V1279.6H980.59V1283.2H981.92V1288H983.26V1281.6H984.59V1274.8H985.92V1277.8H987.26V1287.9H988.59V1292.6H989.92V1296.6H991.26V1297.8H992.59V1297.9H993.92V1293.1H995.25V1296.9H996.59V1297H997.92V1305.3H999.25V1305.3H1000.59V1305.3H1001.92V1305.3H1003.25V1305.3H1004.59V1305.3H1005.92V1305.3H1007.25V1305.3H1008.59V1305.3H1009.92V1305.3H1011.25V1303.3H1012.59V1297.4H1013.92V1294.7H1015.25V1293.1H1016.58V1289.4H1017.92V1289.5H1019.25V1291.2H1020.58V1282.7H1021.92V1276.6H1023.25V1287.5H1024.58V1281.8H1025.92V1281.5H1027.25V1279.5H1028.58V1290.2H1029.92V1292.1H1031.25V1293.1H1032.58V1295.5H1033.92V1295.7H1035.25V1295.8H1036.58V1295.3H1037.92V1291.5H1039.25V1284.2H1040.58V1275.9H1041.91V1288.5H1043.25V1289.8H1044.58V1295.3H1045.91V1294H1047.25V1291.8H1048.58V1288.2H1049.91V1282.7H1051.25V1276.7H1052.58V1269.7H1053.91V1266.9H1055.25V1247.3H1056.58V1211.8H1057.91V1225.9H1059.25V1225H1060.58V1214.6H1061.91V1220H1063.25V1211.3H1064.58V1221.3H1065.91V1206.8H1067.24V1240.1H1068.58V1232.8H1069.91V1247.1H1071.24V1241.8H1072.58V1240.1H1073.91V1245.7H1075.24V1249.6H1076.58V1229.2H1077.91V1227.6H1079.24V1251.9H1080.58V1268.5H1081.91V1271.5H1083.24V1269H1084.58V1271.5H1085.91V1275.2H1087.24V1278.6H1088.58V1284.3H1089.91V1269.4H1091.24V1255.1H1092.57V1231.1H1093.91V1237H1095.24V1249.2H1096.57V1260.5H1097.91V1260.1H1099.24V1275.5H1100.57V1287.4H1101.91V1295.8H1103.24V1295.7H1104.57V1297.6H1105.91V1300.8H1107.24V1301.9H1108.57V1302.3H1109.91V1302.7H1111.24V1302.8H1112.57V1303.1H1113.9V1302.9H1115.24V1302.1H1116.57V1302.2H1117.9V1303.5H1119.24V1300.5H1120.57V1301.8H1121.9V1302.4H1123.24V1302.3H1124.57V1301.1H1125.9V1301.8H1127.24V1301.5H1128.57V1299.6H1129.9V1301.9H1131.24V1299.9H1132.57V1301.3H1133.9V1301.1H1135.24V1300.9H1136.57V1300.3H1137.9V1297.7H1139.23V1294.9H1140.57V1291.7H1141.9V1289.1H1143.23V1288.6H1144.57V1287.1H1145.9V1282.2H1147.23V1273.3H1148.57V1277.5H1149.9V1280.4H1151.23V1286.3H1152.57V1286.1H1153.9V1287.2H1155.23V1293.4H1156.57V1293.7H1157.9V1292.1H1159.23V1293.9H1160.57V1295.3H1161.9V1293.7H1163.23V1289.7H1164.56V1284.7H1165.9V1292.6H1167.23V1290H1168.56V1291.6H1169.9V1293.5H1171.23V1293H1172.56V1290.3H1173.9V1257.7H1175.23V1285.1H1176.56V1293.8H1177.9V1287.4H1179.23V1286.3H1180.56V1287.5H1181.9V1281.2H1183.23V1274H1184.56V1266.1H1185.89V1261.9H1187.23V1255.2H1188.56V1228.7H1189.89V1236.5H1191.23V1238.4H1192.56V1253.7H1193.89V1257.3H1195.23V1243.4H1196.56V1250H1197.89V1256.5H1199.23V1260.9H1200.56V1266.3H1201.89V1279.7H1203.23V1279.5H1204.56V1282.8H1205.89V1285.8H1207.23V1291.6H1208.56V1290.8H1209.89V1288.8H1211.22V1286.4H1212.56V1280.9H1213.89V1283.6H1215.22V1284.3H1216.56V1289H1217.89V1287.9H1219.22V1287.6H1220.56V1289.8H1221.89V1286.3H1223.22V1283.8H1224.56V1280.7H1225.89V1271H1227.22V1262.7H1228.56V1278.1H1229.89V1284H1231.22V1277H1232.56V1276.6H1233.89V1268.7H1235.22V1271.3H1236.55V1271.2H1237.89V1273.6H1239.22V1262.1H1240.55V1247.4H1241.89V1245H1243.22V1248.3H1244.55V1262H1245.89V1267.7H1247.22V1270.4H1248.55V1275.9H1249.89V1275.6H1251.22V1275.7H1252.55V1274.3H1253.89V1276.8H1255.22V1279.7H1256.55V1275.7H1257.88V1274.2H1259.22V1260.1H1260.55V1256.1H1261.88V1263.9H1263.22V1271.1H1264.55V1279H1265.88V1282.6H1267.22V1279.8H1268.55V1279.9H1269.88V1290.2H1271.22V1297.5H1272.55V1298.1H1273.88V1298.6H1275.22V1301.1H1276.55V1299.7H1277.88V1300.4H1279.22V1301.3H1280.55V1302.6H1281.88V1301.8H1283.21V1301.9H1284.55V1299.2H1285.88V1298.6H1287.21V1289.6H1288.55V1277.5H1289.88V1254.6H1291.21V1261.1H1292.55V1282.6H1293.88V1291.9H1295.21V1294.2H1296.55V1298H1297.88V1299.1H1299.21V1299.7H1300.55V1296.1H1301.88V1294.9H1303.21V1287.8H1304.55V1286.9H1305.88V1280.5H1307.21V1282.5H1308.54V1286.2H1309.88V1289.9H1311.21V1287.8H1312.54V1295.8H1313.88V1295.8H1315.21V1296H1316.54V1296.7H1317.88V1300.3H1319.21V1299.3H1320.54V1300.2H1321.88V1301.7H1323.21V1301.5H1324.54V1301.5H1325.88V1302.9H1327.21V1298.8H1328.54V1294.7H1329.87V1292.7H1331.21V1290.5H1332.54V1291.4H1333.87V1289.4H1335.21V1286.3H1336.54V1284.7H1337.87V1283.8H1339.21V1284.2H1340.54V1290.1H1341.87V1293.4H1343.21V1296.2H1344.54V1295.9H1345.87V1297.2H1347.21V1289.3H1348.54V1286.5H1349.87V1282.3H1351.21V1275.4H1352.54V1267.3H1353.87V1260.2H1355.2V1245.3H1356.54V1232.6H1357.87V1199.6H1359.2V1224.9H1360.54V1254.8H1361.87V1264.2H1363.2V1250.3H1364.54V1263.7H1365.87V1271.5H1367.2V1268.2H1368.54V1260.5H1369.87V1275.2H1371.2V1280.4H1372.54V1284.7H1373.87V1279.8H1375.2V1283.2H1376.54V1287.5H1377.87V1289.5H1379.2V1286.7H1380.53V1286.3H1381.87V1289.8H1383.2V1287.7H1384.53V1290.4H1385.87V1292.7H1387.2V1290.1H1388.53V1293.1H1389.87V1294.4H1391.2V1294.7H1392.53V1296.3H1393.87V1295.6H1395.2V1295.3H1396.53V1296.1H1397.87V1295.7H1399.2V1296.5H1400.53V1290.2H1401.86V1284.1H1403.2V1282.9H1404.53V1292.7H1405.86V1296H1407.2V1297.1H1408.53V1295.2H1409.86V1295.2H1411.2V1295.8H1412.53V1294.3H1413.86V1293.8H1415.2V1292.1H1416.53V1291H1417.86V1290.6H1419.2V1292.6H1420.53V1292.6H1421.86V1289.8H1423.2V1287.1H1424.53V1277.1H1425.86V1274.3H1427.19V1277.9H1428.53V1282.9H1429.86V1289.1H1431.19V1290.9H1432.53V1291H1433.86V1288.8H1435.19V1286.3H1436.53V1286.6H1437.86V1283.1H1439.19V1290.4H1440.53V1295.8H1441.86V1295.6H1443.19V1299.6H1444.53V1299.7H1445.86V1300.1H1447.19V1299.7H1448.53V1300.5H1449.86V1300.8H1451.19V1301.8H1452.52V1304H1453.86V1303.7H1455.19V1303.8H1456.52V1304.3H1457.86V1303.2H1459.19V1303.3H1460.52V1304H1461.86V1302.2H1463.19V1301.6H1464.52V1302.9H1465.86V1301.9H1467.19V1300.4H1468.52V1298.7H1469.86V1297.2H1471.19V1294H1472.52V1291H1473.85V1287.5H1475.19V1287.7H1476.52V1285H1477.85V1292.4H1479.19V1291.8H1480.52V1292.9H1481.85V1293.6H1483.19V1297.2H1484.52V1295.6H1485.85V1295.4H1487.19V1289.7H1488.52V1276.8H1489.85V1278.5H1491.19V1282.9H1492.52V1266.8H1493.85V1257.2H1495.19V1260.7H1496.52V1279.3H1497.85V1292.9H1499.18V1295.8H1500.52V1295.1H1501.85V1298.2H1503.18V1298.7H1504.52V1300.6H1505.85V1301.8H1507.18V1303.1H1508.52V1303.6H1509.85V1303.9H1511.18V1302.1H1512.52V1298.7H1513.85V1298.2H1515.18V1293.6H1516.52V1289.9H1517.85V1292.2H1519.18V1295.2H1520.52V1296.3H1521.85V1294.6H1523.18V1296.2H1524.51V1294.4H1525.85V1296.7H1527.18V1293.1H1528.51V1295.2H1529.85V1294.7H1531.18V1293.5H1532.51V1288.8H1533.85V1289.3H1535.18V1284.6H1536.51V1275.6H1537.85V1273.9H1539.18V1293.2H1540.51V1297.4H1541.85V1297.9H1543.18V1299.7H1544.51V1305.3H1545.84V1305.3H1547.18V1305.3H1548.51V1305.3H1549.84V1305.3H1551.18V1305.3H1552.51V1305.3H1553.84V1305.3H1555.18V1305.3H1556.51V1305.3H1557.84V1305.3H1559.18V1305.3H1560.51V1305.3H1561.84V1305.3H1563.18V1305.3H1564.51V1305.3H1565.84V1305.3H1567.18V1305.3H1568.51V1305.3H1569.84V1305.3H1571.17V1305.3H1572.51V1305.3H1573.84V1305.3H1575.17V1305.3H1576.51V1305.3H1577.84V1305.3H1579.17V1305.3H1580.51V1305.3H1581.84V1305.3H1583.17V1305.3H1584.51V1305.3H1585.84V1305.3H1587.17V1305.3H1588.51V1305.3H1589.84V1305.3H1591.17V1305.3H1592.51V1305.3H1593.84V1305.3H1595.17V1305.3H1596.5V1305.3H1597.84V1305.3H1599.17V1305.3H1600.5V1305.3H1601.84V1305.3H1603.17V1305.3H1604.5V1305.3H1605.84V1305.3H1607.17V1305.3H1608.5V1302H1609.84V1300.2H1611.17V1297.8H1612.5V1299.3H1613.84V1298.4H1615.17V1298H1616.5V1296.3H1617.83V1296.7H1619.17V1292H1620.5V1288.2H1621.83V1289.3H1623.17V1297.5H1624.5V1295.4H1625.83V1297.9H1627.17V1297.5H1628.5V1305.3Z" fill="#0f95d8"/>
<path clip-path="url(#clipc)" d="M188.7,1305.3V1299M192.7,1305.3V1299M216.7,1305.3V1299.2M220.7,1305.3V1297.9M224.7,1305.3V1296.6M228.7,1305.3V1297.3M232.7,1305.3V1295.3M236.7,1305.3V1297M240.7,1305.3V1296.4M248.7,1305.3V1299.2M252.7,1305.3V1284.2M256.7,1305.3V1273.7M260.7,1305.3V1271.5M264.7,1305.3V1294.3M268.7,1305.3V1299.2M272.7,1305.3V1298.2M288.7,1305.3V1298.8M304.7,1305.3V1299.5M308.7,1305.3V1295.9M312.7,1305.3V1296.2M316.7,1305.3V1291.7M320.7,1305.3V1285M324.7,1305.3V1276.7M328.7,1305.3V1276.7M332.7,1305.3V1297M348.7,1305.3V1286.7M352.7,1305.3V1231.4M356.7,1305.3V1257.5M360.7,1305.3V1253.7M364.7,1305.3V1267.3M368.7,1305.3V1296.7M376.7,1305.3V1296.1M380.7,1305.3V1286.5M384.7,1305.3V1257.7M388.7,1305.3V1274.2M392.7,1305.3V1287.6M396.7,1305.3V1297.7M400.7,1305.3V1297.2M404.7,1305.3V1298.9M408.7,1305.3V1295.9M444.7,1305.3V1296.5M448.7,1305.3V1297.8M452.7,1305.3V1295.3M456.7,1305.3V1296.8M460.7,1305.3V1296.5M464.7,1305.3V1294.2M468.7,1305.3V1297.6M480.7,1305.3V1298.9M524.7,1305.3V1296.5M528.7,1305.3V1297M532.7,1305.3V1298.8M536.7,1305.3V1296.8M540.7,1305.3V1297.1M544.7,1305.3V1299.4M556.6,1305.3V1298.8M560.6,1305.3V1298.2M564.6,1305.3V1294.5M568.6,1305.3V1292.4M572.6,1305.3V1286.7M576.6,1305.3V1259.1M580.6,1305.3V1290.7M584.6,1305.3V1290.3M588.6,1305.3V1291.7M592.6,1305.3V1293.2M596.6,1305.3V1290M600.6,1305.3V1285.1M604.6,1305.3V1259.8M608.6,1305.3V1203.4M612.6,1305.3V1239.8M616.6,1305.3V1241M620.6,1305.3V1254.1M624.6,1305.3V1277.7M628.6,1305.3V1263.8M632.6,1305.3V1261.6M636.6,1305.3V1277.3M640.6,1305.3V1292.5M644.6,1305.3V1297.4M648.6,1305.3V1295.3M652.6,1305.3V1295.4M656.6,1305.3V1289.8M660.6,1305.3V1295.9M664.6,1305.3V1296.4M668.6,1305.3V1296.3M672.6,1305.3V1299.4M696.6,1305.3V1298.8M700.6,1305.3V1300.6M716.6,1305.3V1296.4M720.6,1305.3V1287M724.6,1305.3V1287.8M728.6,1305.3V1280.2M732.6,1305.3V1276.8M736.6,1305.3V1266.9M740.6,1305.3V1283.2M744.6,1305.3V1291.8M748.6,1305.3V1298.5M752.6,1305.3V1294.7M756.6,1305.3V1296.6M760.6,1305.3V1280.4M764.6,1305.3V1287.6M768.6,1305.3V1280.3M772.6,1305.3V1282.3M776.6,1305.3V1291.7M780.6,1305.3V1281.2M784.6,1305.3V1271.5M788.6,1305.3V1248.4M792.6,1305.3V1242.3M796.6,1305.3V1223M800.6,1305.3V1233.6M804.6,1305.3V1242.7M808.6,1305.3V1205.7M812.6,1305.3V1209.4M816.6,1305.3V1160M820.6,1305.3V1197.4M824.6,1305.3V1210.5M828.6,1305.3V1184.1M832.6,1305.3V1084.1M836.6,1305.3V1066.7M840.6,1305.3V1048.9M844.6,1305.3V1034M848.6,1305.3V1105.9M852.6,1305.3V1074.4M856.6,1305.3V1159.1M860.6,1305.3V1114.9M864.6,1305.3V1179.7M868.6,1305.3V1102.5M872.6,1305.3V1086.1M876.6,1305.3V1038M880.6,1305.3V1048.8M884.6,1305.3V1026.8M888.6,1305.3V1037.4M892.6,1305.3V1084.2M896.6,1305.3V1028.4M900.6,1305.3V1089.1M904.6,1305.3V1100.2M908.6,1305.3V1182.6M912.6,1305.3V1195.8M916.6,1305.3V1138.6M920.6,1305.3V1153.3M924.6,1305.3V1224.7M928.6,1305.3V1259.4M932.6,1305.3V1258.9M936.6,1305.3V1264.9M940.6,1305.3V1250.5M944.6,1305.3V1259.9M948.6,1305.3V1250.3M952.6,1305.3V1234.1M956.6,1305.3V1284.4M960.6,1305.3V1295.2M964.6,1305.3V1296.1M968.6,1305.3V1277.4M972.6,1305.3V1288M976.6,1305.3V1287.6M980.6,1305.3V1283.2M984.6,1305.3V1281.6M988.6,1305.3V1292.6M992.6,1305.3V1297.9M996.6,1305.3V1297M1012.6,1305.3V1303.3M1016.6,1305.3V1293.1M1020.6,1305.3V1291.2M1024.6,1305.3V1287.5M1028.6,1305.3V1290.2M1032.6,1305.3V1295.5M1036.6,1305.3V1295.8M1040.6,1305.3V1284.2M1044.6,1305.3V1295.3M1048.6,1305.3V1291.8M1052.6,1305.3V1276.7M1056.6,1305.3V1247.3M1060.6,1305.3V1225M1064.6,1305.3V1221.3M1068.6,1305.3V1240.1M1072.6,1305.3V1241.8M1076.6,1305.3V1249.6M1080.6,1305.3V1268.5M1084.6,1305.3V1271.5M1088.6,1305.3V1284.3M1092.6,1305.3V1255.1M1096.6,1305.3V1260.5M1100.6,1305.3V1287.4M1104.6,1305.3V1297.6M1140.6,1305.3V1294.9M1144.6,1305.3V1288.6M1148.6,1305.3V1277.5M1152.6,1305.3V1286.3M1156.6,1305.3V1293.7M1160.6,1305.3V1295.3M1164.6,1305.3V1289.7M1168.6,1305.3V1291.6M1172.6,1305.3V1293M1176.6,1305.3V1293.8M1180.6,1305.3V1287.5M1184.6,1305.3V1274M1188.6,1305.3V1255.2M1192.6,1305.3V1253.7M1196.6,1305.3V1250M1200.6,1305.3V1266.3M1204.6,1305.3V1282.8M1208.6,1305.3V1291.6M1212.6,1305.3V1286.4M1216.6,1305.3V1289M1220.6,1305.3V1289.8M1224.6,1305.3V1283.8M1228.6,1305.3V1278.1M1232.6,1305.3V1277M1236.6,1305.3V1271.3M1240.6,1305.3V1262.1M1244.6,1305.3V1262M1248.6,1305.3V1275.9M1252.6,1305.3V1275.7M1256.6,1305.3V1279.7M1260.6,1305.3V1260.1M1264.6,1305.3V1279M1268.6,1305.3V1279.9M1272.5,1305.3V1298.1M1288.5,1305.3V1289.6M1292.5,1305.3V1282.6M1296.5,1305.3V1298M1300.5,1305.3V1299.7M1304.5,1305.3V1287.8M1308.5,1305.3V1286.2M1312.5,1305.3V1295.8M1316.5,1305.3V1296.7M1328.5,1305.3V1298.8M1332.5,1305.3V1291.4M1336.5,1305.3V1286.3M1340.5,1305.3V1290.1M1344.5,1305.3V1296.2M1348.5,1305.3V1289.3M1352.5,1305.3V1275.4M1356.5,1305.3V1245.3M1360.5,1305.3V1254.8M1364.5,1305.3V1263.7M1368.5,1305.3V1268.2M1372.5,1305.3V1284.7M1376.5,1305.3V1287.5M1380.5,1305.3V1286.7M1384.5,1305.3V1290.4M1388.5,1305.3V1293.1M1392.5,1305.3V1296.3M1396.5,1305.3V1296.1M1400.5,1305.3V1296.5M1404.5,1305.3V1292.7M1408.5,1305.3V1297.1M1412.5,1305.3V1295.8M1416.5,1305.3V1292.1M1420.5,1305.3V1292.6M1424.5,1305.3V1287.1M1428.5,1305.3V1282.9M1432.5,1305.3V1291M1436.5,1305.3V1286.6M1440.5,1305.3V1295.8M1468.5,1305.3V1300.4M1472.5,1305.3V1294M1476.5,1305.3V1287.7M1480.5,1305.3V1292.9M1484.5,1305.3V1297.2M1488.5,1305.3V1289.7M1492.5,1305.3V1282.9M1496.5,1305.3V1279.3M1500.5,1305.3V1295.8M1512.5,1305.3V1302.1M1516.5,1305.3V1293.6M1520.5,1305.3V1296.3M1524.5,1305.3V1296.2M1528.5,1305.3V1295.2M1532.5,1305.3V1293.5M1536.5,1305.3V1284.6M1540.5,1305.3V1297.4M1616.5,1305.3V1298M1620.5,1305.3V1292M1624.5,1305.3V1297.5" stroke="#0679c4" stroke-width="0.7" fill="none" opacity="0.8"/>
<polyline clip-path="url(#clipd)" points="189.4,1606.3 190.7,1612 192,1604.7 193.4,1608.2 194.7,1607.2 196,1607.1 197.4,1612.6 198.7,1609.7 200,1610.5 201.4,1607 202.7,1603.4 204,1608.1 205.4,1607.2 206.7,1612 208,1606.9 209.4,1605.7 210.7,1604.7 212,1601.7 213.4,1598.6 214.7,1603.2 216,1604.4 217.4,1612 218.7,1608.5 220,1612.4 221.4,1619.5 222.7,1614.7 224,1614.3 225.4,1606.7 226.7,1605.1 228,1603 229.4,1596.8 230.7,1601 232,1600.5 233.4,1598.7 234.7,1597.6 236,1601.1 237.4,1598.2 238.7,1599.6 240,1603.2 241.4,1606.9 242.7,1600.5 244,1598.8 245.4,1597.7 246.7,1595.2 248,1590.8 249.4,1592.7 250.7,1590.5 252,1596.6 253.4,1599.9 254.7,1598.8 256,1601 257.4,1600.1 258.7,1595.8 260,1598.5 261.4,1595.7 262.7,1591.6 264,1591.4 265.4,1594.9 266.7,1595.9 268,1587.2 269.4,1594.7 270.7,1597.2 272,1599.6 273.4,1593 274.7,1602.2 276,1600.9 277.4,1602.6 278.7,1600 280,1606.7 281.4,1602.3 282.7,1601.1 284,1597.5 285.4,1601.5 286.7,1599.6 288,1600.5 289.4,1597.8 290.7,1600.9 292,1607.2 293.4,1607.3 294.7,1615.5 296,1610.4 297.4,1611.4 298.7,1608.5 300,1603 301.4,1598.3 302.7,1602 304,1601.3 305.4,1600.4 306.7,1599.3 308,1603.6 309.3,1602.2 310.7,1602.4 312,1604.1 313.3,1602 314.7,1594 316,1593.1 317.3,1591.1 318.7,1583.8 320,1584.3 321.3,1588.6 322.7,1595.8 324,1606.5 325.3,1598 326.7,1593 328,1594.4 329.3,1588.2 330.7,1592.9 332,1588 333.3,1588.9 334.7,1589.2 336,1594.2 337.3,1591.1 338.7,1590.6 340,1592.8 341.3,1595.7 342.7,1593.9 344,1595.7 345.3,1595 346.7,1598.6 348,1605.7 349.3,1606.3 350.7,1601.1 352,1593.5 353.3,1592.7 354.7,1580.5 356,1577.4 357.3,1582.6 358.7,1580.5 360,1587.9 361.3,1585.1 362.7,1588.8 364,1590.1 365.3,1594.1 366.7,1591.5 368,1608 369.3,1602.9 370.7,1600.3 372,1597.8 373.3,1599.3 374.7,1598 376,1598.7 377.3,1596.4 378.7,1593.3 380,1585.1 381.3,1592.5 382.7,1583.7 384,1589.3 385.3,1594 386.7,1592 388,1592.4 389.3,1601.2 390.7,1605.5 392,1600.1 393.3,1609.9 394.7,1607.6 396,1608.8 397.3,1615.9 398.7,1610.2 400,1611.1 401.3,1609.8 402.7,1614 404,1615.9 405.3,1619.4 406.7,1624.4 408,1614.3 409.3,1609.5 410.7,1601.3 412,1602.4 413.3,1599.7 414.7,1605.1 416,1603.7 417.3,1598.9 418.7,1604.3 420,1606.8 421.3,1607.2 422.7,1614 424,1611.2 425.3,1612.3 426.7,1614.1 428,1615.5 429.3,1606.7 430.7,1609.4 432,1613.8 433.3,1620 434.7,1630.1 436,1637.1 437.3,1633 438.7,1625.4 440,1617.3 441.3,1611.7 442.7,1609.4 444,1601.7 445.3,1603.2 446.7,1609.2 448,1609.7 449.3,1608 450.7,1607.8 452,1605.3 453.3,1610.8 454.7,1611 456,1598.8 457.3,1603.8 458.7,1598.9 460,1600.2 461.3,1603.3 462.7,1595.7 464,1598.2 465.3,1595.4 466.7,1597.8 468,1602.2 469.3,1599.6 470.7,1596.7 472,1602.4 473.3,1601.6 474.7,1600.6 476,1608.8 477.3,1608.1 478.7,1608.3 480,1607.4 481.3,1611 482.7,1613.3 484,1610.5 485.3,1614.4 486.7,1612.2 488,1613.1 489.3,1616 490.7,1614.4 492,1614.9 493.3,1623 494.7,1620.4 496,1625.9 497.3,1629.8 498.7,1632.3 500,1631 501.3,1633.8 502.7,1633.5 504,1635.3 505.3,1631.5 506.7,1629.8 508,1628.9 509.3,1623.6 510.7,1617.9 512,1611.8 513.3,1615.1 514.7,1609.9 516,1613.6 517.3,1614.9 518.7,1616.7 520,1619 521.3,1621 522.7,1616.8 524,1613.8 525.3,1610.8 526.7,1604.4 528,1600.5 529.3,1601.9 530.7,1600 532,1603.9 533.3,1606.8 534.7,1601 536,1599.3 537.3,1595.5 538.7,1592.1 540,1597.3 541.3,1593.8 542.7,1593.8 544,1595.8 545.3,1593.7 546.7,1594.4 548,1590.8 549.3,1597.5 550.6,1600.5 552,1593.3 553.3,1590.7 554.6,1589.7 556,1593.1 557.3,1589.1 558.6,1591.4 560,1586.7 561.3,1589.6 562.6,1590.6 564,1591.1 565.3,1603.1 566.6,1609.2 568,1600.4 569.3,1599.6 570.6,1603.6 572,1591.4 573.3,1595.3 574.6,1590.5 576,1590.6 577.3,1586.6 578.6,1593.9 580,1593.1 581.3,1597.1 582.6,1593.1 584,1596.1 585.3,1590.1 586.6,1589.5 588,1589.7 589.3,1586.6 590.6,1585 592,1587 593.3,1589.6 594.6,1589 596,1596.7 597.3,1595.4 598.6,1597.6 600,1601.1 601.3,1599.1 602.6,1595.7 604,1595.2 605.3,1591.9 606.6,1586.9 608,1591.7 609.3,1580.7 610.6,1581.7 612,1583.1 613.3,1587.3 614.6,1586.4 616,1587.7 617.3,1585.1 618.6,1586 620,1585.4 621.3,1590.1 622.6,1598.1 624,1597.5 625.3,1598.2 626.6,1598.7 628,1606 629.3,1598.3 630.6,1583 632,1583.1 633.3,1583.1 634.6,1577.4 636,1584.7 637.3,1580.4 638.6,1586.2 640,1589.8 641.3,1587.4 642.6,1589.8 644,1588.6 645.3,1594.3 646.6,1587.1 648,1589.4 649.3,1584.5 650.6,1587.1 652,1588.2 653.3,1589.8 654.6,1586.8 656,1587.9 657.3,1589 658.6,1581.8 660,1587.3 661.3,1584.5 662.6,1582.9 664,1585.8 665.3,1585.2 666.6,1585.8 668,1585.2 669.3,1586.9 670.6,1587.8 672,1589.4 673.3,1591.8 674.6,1592 676,1590.8 677.3,1586.9 678.6,1582.3 680,1586.7 681.3,1584.1 682.6,1583.5 684,1582.1 685.3,1580.5 686.6,1585.5 688,1585.1 689.3,1593.5 690.6,1589 692,1590.5 693.3,1597.5 694.6,1604.2 696,1602.5 697.3,1607.8 698.6,1601.3 700,1606.4 701.3,1604 702.6,1603.2 704,1600.6 705.3,1604.5 706.6,1594.6 708,1596.2 709.3,1601.2 710.6,1604.3 712,1604.5 713.3,1607.6 714.6,1612.4 716,1614.1 717.3,1609.2 718.6,1607.7 720,1603.9 721.3,1600.6 722.6,1599.4 724,1605 725.3,1607.2 726.6,1606.7 728,1608.7 729.3,1612.3 730.6,1622.5 732,1617.5 733.3,1613.1 734.6,1610.3 736,1612.3 737.3,1614.9 738.6,1612.2 740,1609.3 741.3,1600.4 742.6,1601.3 744,1604.1 745.3,1599.4 746.6,1600.1 748,1608.1 749.3,1604.7 750.6,1600.6 752,1601.4 753.3,1607.8 754.6,1605.2 756,1603.5 757.3,1605.6 758.6,1610 760,1608.7 761.3,1608.2 762.6,1610.4 764,1616.1 765.3,1609 766.6,1613.1 768,1614.7 769.3,1608.6 770.6,1612.1 772,1603.6 773.3,1598.8 774.6,1590.6 776,1596.2 777.3,1595.4 778.6,1594 780,1595.1 781.3,1597 782.6,1592.6 784,1599.3 785.3,1601 786.6,1606.8 788,1616.5 789.3,1616 790.6,1614.2 791.9,1612.5 793.3,1608.6 794.6,1608.6 795.9,1608.6 797.3,1601.3 798.6,1601.2 799.9,1604.3 801.3,1606.8 802.6,1605.1 803.9,1608.7 805.3,1613.7 806.6,1618.6 807.9,1613.7 809.3,1607.8 810.6,1601.7 811.9,1599.6 813.3,1590.5 814.6,1584 815.9,1586.9 817.3,1586.8 818.6,1576.7 819.9,1581.8 821.3,1584.3 822.6,1580.3 823.9,1584.6 825.3,1583.6 826.6,1580 827.9,1584.3 829.3,1586.6 830.6,1580.8 831.9,1580.4 833.3,1585.4 834.6,1581.7 835.9,1576.8 837.3,1578.1 838.6,1575.5 839.9,1577 841.3,1579.5 842.6,1581.3 843.9,1582.6 845.3,1583.3 846.6,1593 847.9,1592.9 849.3,1589.8 850.6,1590 851.9,1595.5 853.3,1593.5 854.6,1592.4 855.9,1589.2 857.3,1581.1 858.6,1577.7 859.9,1578.1 861.3,1580.8 862.6,1577.6 863.9,1578.5 865.3,1579.6 866.6,1579.8 867.9,1580.9 869.3,1579.1 870.6,1578.9 871.9,1574.5 873.3,1574.9 874.6,1578.1 875.9,1580.6 877.3,1575 878.6,1577.6 879.9,1571.3 881.3,1578.6 882.6,1575.1 883.9,1569.2 885.3,1572.7 886.6,1571.7 887.9,1574.5 889.3,1580.2 890.6,1578.2 891.9,1582.4 893.3,1580.5 894.6,1573.7 895.9,1579.4 897.3,1577.5 898.6,1581 899.9,1574.2 901.3,1579.8 902.6,1578.9 903.9,1578.2 905.3,1579.8 906.6,1581.4 907.9,1578.4 909.3,1579 910.6,1577.9 911.9,1580.3 913.3,1580.1 914.6,1578.5 915.9,1577.7 917.3,1580.2 918.6,1579.3 919.9,1581.8 921.3,1580.3 922.6,1583.4 923.9,1585.8 925.3,1586.4 926.6,1591.1 927.9,1583.8 929.3,1584.9 930.6,1586 931.9,1586.3 933.3,1592.8 934.6,1587.9 935.9,1594.6 937.3,1598.8 938.6,1594.7 939.9,1590 941.3,1587 942.6,1581.3 943.9,1581.2 945.3,1582.8 946.6,1586 947.9,1591.9 949.3,1588.5 950.6,1590.2 951.9,1599.6 953.3,1595.9 954.6,1595.4 955.9,1596.5 957.3,1591.7 958.6,1593.2 959.9,1594.4 961.3,1598.5 962.6,1601.3 963.9,1599 965.3,1599.4 966.6,1600.3 967.9,1604.2 969.3,1603.3 970.6,1601 971.9,1599.7 973.3,1602.6 974.6,1602.5 975.9,1602.8 977.3,1602.4 978.6,1597.9 979.9,1602.1 981.3,1598.4 982.6,1601.3 983.9,1593.6 985.3,1593.7 986.6,1591.9 987.9,1593.1 989.3,1592.7 990.6,1595.8 991.9,1591.6 993.3,1588.8 994.6,1599.7 995.9,1587.7 997.3,1594.6 998.6,1591.1 999.9,1594.6 1001.3,1592.8 1002.6,1590.2 1003.9,1592.9 1005.3,1587.6 1006.6,1592.4 1007.9,1591 1009.3,1594.6 1010.6,1594.5 1011.9,1594.4 1013.3,1592.3 1014.6,1589.4 1015.9,1593.9 1017.3,1597.7 1018.6,1596.1 1019.9,1599.5 1021.3,1595.9 1022.6,1598.4 1023.9,1602.7 1025.3,1602.1 1026.6,1600 1027.9,1601.3 1029.2,1603.6 1030.6,1599.6 1031.9,1600.1 1033.2,1602.2 1034.6,1602 1035.9,1599.3 1037.2,1608.9 1038.6,1605.1 1039.9,1608.7 1041.2,1603.6 1042.6,1601.3 1043.9,1598.6 1045.2,1596.8 1046.6,1593.4 1047.9,1588.6 1049.2,1590.3 1050.6,1596.8 1051.9,1593 1053.2,1592 1054.6,1594.5 1055.9,1597.6 1057.2,1603.1 1058.6,1596 1059.9,1595.1 1061.2,1592.3 1062.6,1598.1 1063.9,1595.5 1065.2,1594.8 1066.6,1591.1 1067.9,1591.8 1069.2,1585.4 1070.6,1582.2 1071.9,1581.2 1073.2,1576.5 1074.6,1582.9 1075.9,1583 1077.2,1579.3 1078.6,1584.3 1079.9,1580.2 1081.2,1582.7 1082.6,1586.4 1083.9,1587.6 1085.2,1586.4 1086.6,1588.3 1087.9,1588.5 1089.2,1591.3 1090.6,1588.5 1091.9,1591.2 1093.2,1590 1094.6,1588.5 1095.9,1590.8 1097.2,1587.6 1098.6,1586.9 1099.9,1592.2 1101.2,1595.1 1102.6,1589 1103.9,1595 1105.2,1596.7 1106.6,1600 1107.9,1593.4 1109.2,1596.9 1110.6,1599.8 1111.9,1592.4 1113.2,1594.9 1114.6,1589.9 1115.9,1590.6 1117.2,1586.6 1118.6,1588.5 1119.9,1590.6 1121.2,1585.5 1122.6,1581.8 1123.9,1590.3 1125.2,1585.7 1126.6,1587.4 1127.9,1587 1129.2,1592.4 1130.6,1592.6 1131.9,1587.1 1133.2,1591.3 1134.6,1594.1 1135.9,1588.7 1137.2,1591.1 1138.6,1593.3 1139.9,1598.8 1141.2,1596.1 1142.6,1591.2 1143.9,1599.7 1145.2,1597.7 1146.6,1594.7 1147.9,1589 1149.2,1590.1 1150.6,1588.6 1151.9,1588.5 1153.2,1587.9 1154.6,1584.9 1155.9,1578.5 1157.2,1586.9 1158.6,1584.6 1159.9,1589.4 1161.2,1583.9 1162.6,1587.9 1163.9,1587.7 1165.2,1589.4 1166.6,1591.7 1167.9,1593.4 1169.2,1596.9 1170.6,1600.1 1171.9,1593.9 1173.2,1600 1174.6,1599.3 1175.9,1597.9 1177.2,1600.5 1178.6,1593.9 1179.9,1593.7 1181.2,1591.9 1182.6,1589.3 1183.9,1587.7 1185.2,1587.1 1186.6,1586.3 1187.9,1586.6 1189.2,1584.9 1190.6,1580.8 1191.9,1578.4 1193.2,1581.7 1194.6,1585.8 1195.9,1584.5 1197.2,1583.5 1198.6,1583.8 1199.9,1583.6 1201.2,1584 1202.6,1586.7 1203.9,1588.9 1205.2,1592.3 1206.6,1585.3 1207.9,1586.5 1209.2,1590.5 1210.6,1588.1 1211.9,1589.3 1213.2,1589.4 1214.6,1583.4 1215.9,1589.1 1217.2,1581.6 1218.6,1588.5 1219.9,1590.1 1221.2,1588.5 1222.6,1583.3 1223.9,1591.4 1225.2,1590.6 1226.6,1599.2 1227.9,1592.5 1229.2,1598.9 1230.6,1596.6 1231.9,1592.3 1233.2,1595.9 1234.6,1592.4 1235.9,1594.2 1237.2,1593.7 1238.6,1591.2 1239.9,1588.2 1241.2,1590.1 1242.6,1590.7 1243.9,1593.7 1245.2,1596.1 1246.6,1591.6 1247.9,1592.9 1249.2,1592.1 1250.6,1590.5 1251.9,1591.5 1253.2,1596.6 1254.6,1593.6 1255.9,1593.1 1257.2,1594.1 1258.6,1599.1 1259.9,1594.7 1261.2,1592.4 1262.6,1589.6 1263.9,1592.1 1265.2,1594.6 1266.6,1586.6 1267.9,1590.8 1269.2,1592.4 1270.5,1590.2 1271.9,1590.2 1273.2,1592.7 1274.5,1594.5 1275.9,1594.9 1277.2,1591.7 1278.5,1594.7 1279.9,1593.8 1281.2,1601.7 1282.5,1599.1 1283.9,1600.2 1285.2,1601.7 1286.5,1607.1 1287.9,1604.3 1289.2,1600.1 1290.5,1603.4 1291.9,1604.3 1293.2,1603.5 1294.5,1603.9 1295.9,1598.3 1297.2,1599.7 1298.5,1597.4 1299.9,1592.5 1301.2,1592.1 1302.5,1593.2 1303.9,1599.7 1305.2,1596.9 1306.5,1592.4 1307.9,1599 1309.2,1592.6 1310.5,1596.3 1311.9,1593.9 1313.2,1597.6 1314.5,1598.7 1315.9,1597.5 1317.2,1589.8 1318.5,1593.8 1319.9,1596.7 1321.2,1593 1322.5,1601.3 1323.9,1599.4 1325.2,1599.9 1326.5,1601.9 1327.9,1603.4 1329.2,1606.6 1330.5,1612.2 1331.9,1602.2 1333.2,1600.3 1334.5,1598.1 1335.9,1593.6 1337.2,1590.2 1338.5,1590.4 1339.9,1588.6 1341.2,1588.5 1342.5,1595.5 1343.9,1599 1345.2,1601.3 1346.5,1594.4 1347.9,1599.1 1349.2,1587.9 1350.5,1588 1351.9,1590.7 1353.2,1586.1 1354.5,1589 1355.9,1588.3 1357.2,1582.2 1358.5,1588.1 1359.9,1585.7 1361.2,1587.8 1362.5,1584.2 1363.9,1588.7 1365.2,1586.3 1366.5,1589.3 1367.9,1594.7 1369.2,1596.1 1370.5,1599 1371.9,1593.5 1373.2,1601.5 1374.5,1596.5 1375.9,1601.1 1377.2,1596.6 1378.5,1593.3 1379.9,1598 1381.2,1597.4 1382.5,1597.5 1383.9,1595.8 1385.2,1601.7 1386.5,1599 1387.9,1601.1 1389.2,1605.3 1390.5,1606.7 1391.9,1602.3 1393.2,1605.2 1394.5,1607.6 1395.9,1610.3 1397.2,1607.3 1398.5,1608.3 1399.9,1607.9 1401.2,1602.7 1402.5,1601.4 1403.9,1602.6 1405.2,1603.4 1406.5,1599.9 1407.9,1603.1 1409.2,1607 1410.5,1596.8 1411.9,1606.3 1413.2,1600.1 1414.5,1602.5 1415.9,1597 1417.2,1600.8 1418.5,1600.6 1419.9,1605.9 1421.2,1610 1422.5,1606.4 1423.9,1612.8 1425.2,1612.6 1426.5,1610.3 1427.9,1609.6 1429.2,1604.5 1430.5,1598.6 1431.9,1594.9 1433.2,1593.8 1434.5,1588.4 1435.9,1583.7 1437.2,1584.3 1438.5,1581.2 1439.9,1587.2 1441.2,1595.5 1442.5,1591.5 1443.9,1596.4 1445.2,1591.3 1446.5,1588.5 1447.9,1589.4 1449.2,1586.1 1450.5,1583.8 1451.9,1592.9 1453.2,1595.9 1454.5,1592.8 1455.9,1594.8 1457.2,1590.1 1458.5,1597.1 1459.9,1606.1 1461.2,1615.4 1462.5,1628.1 1463.9,1629.6 1465.2,1619.7 1466.5,1611.1 1467.9,1605.6 1469.2,1600.1 1470.5,1597.6 1471.9,1600.4 1473.2,1598.6 1474.5,1599.1 1475.9,1592.2 1477.2,1600 1478.5,1591.9 1479.9,1590.4 1481.2,1597.1 1482.5,1591.9 1483.9,1586.6 1485.2,1591 1486.5,1590.9 1487.9,1590.5 1489.2,1587.8 1490.5,1590.7 1491.9,1595.2 1493.2,1598.1 1494.5,1600.2 1495.9,1597.5 1497.2,1606.7 1498.5,1604.7 1499.9,1603.8 1501.2,1611 1502.5,1609.4 1503.9,1605.9 1505.2,1600.5 1506.5,1603.3 1507.9,1596.4 1509.2,1593.8 1510.5,1590.4 1511.8,1594.5 1513.2,1588.3 1514.5,1591.6 1515.8,1589.2 1517.2,1590.7 1518.5,1582.7 1519.8,1587.4 1521.2,1581.2 1522.5,1588.3 1523.8,1587.3 1525.2,1582.7 1526.5,1588 1527.8,1586 1529.2,1584.3 1530.5,1588.6 1531.8,1589.7 1533.2,1588.7 1534.5,1585.5 1535.8,1587.3 1537.2,1585.7 1538.5,1590.6 1539.8,1591.8 1541.2,1594.2 1542.5,1592.6 1543.8,1594.1 1545.2,1593.5 1546.5,1596.4 1547.8,1596.4 1549.2,1596.6 1550.5,1594.7 1551.8,1599.9 1553.2,1602.2 1554.5,1599.5 1555.8,1600.3 1557.2,1606.7 1558.5,1609.3 1559.8,1616.2 1561.2,1618.1 1562.5,1616.7 1563.8,1612.9 1565.2,1609.6 1566.5,1610.4 1567.8,1614.8 1569.2,1617.4 1570.5,1628.1 1571.8,1626.2 1573.2,1619.9 1574.5,1607.4 1575.8,1595.6 1577.2,1600.7 1578.5,1613.2 1579.8,1619.8 1581.2,1632.5 1582.5,1625.1 1583.8,1614.2 1585.2,1610.2 1586.5,1606.8 1587.8,1606.2 1589.2,1601.2 1590.5,1604.8 1591.8,1602.9 1593.2,1593.1 1594.5,1601.4 1595.8,1596.1 1597.2,1596.6 1598.5,1589.7 1599.8,1592.8 1601.2,1592 1602.5,1595.2 1603.8,1595.5 1605.2,1603.7 1606.5,1600.2 1607.8,1591.6 1609.2,1587.4 1610.5,1580.1 1611.8,1579.1 1613.2,1580.5 1614.5,1578.7 1615.8,1579 1617.2,1578.1 1618.5,1581.3 1619.8,1587.1 1621.2,1581.7 1622.5,1580.9 1623.8,1580.5 1625.2,1578.1 1626.5,1579.7 1627.8,1575.2" fill="none" stroke="#0072bd" stroke-width="5.4" stroke-linejoin="round" stroke-linecap="round"/>
<polyline points="189.4,2172.8 190.7,2172.8 192,2172.7 193.4,2172.7 194.7,2172.8 196,2172.9 197.4,2172.9 198.7,2173 200,2173.2 201.4,2173.2 202.7,2173.4 204,2173.5 205.4,2173.2 206.7,2172.9 208,2172.9 209.4,2173.2 210.7,2173.8 212,2174 213.4,2173.7 214.7,2173.4 216,2173 217.4,2172.9 218.7,2172.6 220,2171.7 221.4,2171.8 222.7,2172.2 224,2171.6 225.4,2171.1 226.7,2171.1 228,2171.3 229.4,2170.9 230.7,2170.3 232,2169.4 233.4,2168.6 234.7,2169.5 236,2170.8 237.4,2171 238.7,2170.5 240,2170.4 241.4,2171 242.7,2171.5 244,2172.2 245.4,2172.8 246.7,2173 248,2172.5 249.4,2170.5 250.7,2166.9 252,2163.8 253.4,2162 254.7,2160.2 256,2157.9 257.4,2155.9 258.7,2153.7 260,2152.6 261.4,2156 262.7,2162 264,2167.1 265.4,2170.1 266.7,2171.8 268,2172.6 269.4,2172.9 270.7,2173.1 272,2172.5 273.4,2172 274.7,2172.4 276,2173.2 277.4,2173.7 278.7,2173.8 280,2173.7 281.4,2173.6 282.7,2173.4 284,2173.5 285.4,2173.6 286.7,2173.3 288,2172.8 289.4,2170.8 290.7,2167.3 292,2167.6 293.4,2171.9 294.7,2174.1 296,2174.5 297.4,2174.9 298.7,2174.8 300,2174.4 301.4,2173.9 302.7,2173.5 304,2173 305.4,2172.3 306.7,2171.7 308,2171.1 309.3,2170.2 310.7,2169.8 312,2170.4 313.3,2170.9 314.7,2170.4 316,2168.2 317.3,2166.2 318.7,2165.6 320,2164.7 321.3,2163.9 322.7,2162.6 324,2159.7 325.3,2158.1 326.7,2157.3 328,2156.1 329.3,2157.5 330.7,2160.4 332,2164.8 333.3,2170.3 334.7,2173.6 336,2174.7 337.3,2174.8 338.7,2174.7 340,2174.7 341.3,2174.7 342.7,2174.7 344,2174.6 345.3,2173.5 346.7,2170.1 348,2164.9 349.3,2156.7 350.7,2142 352,2129.6 353.3,2130.4 354.7,2137.3 356,2142.4 357.3,2146.5 358.7,2147.6 360,2144.5 361.3,2142.5 362.7,2143.9 364,2146.5 365.3,2152.5 366.7,2160.7 368,2167 369.3,2170.7 370.7,2171.9 372,2172.3 373.3,2172.4 374.7,2171.8 376,2170.9 377.3,2170.3 378.7,2168.7 380,2164.6 381.3,2157.9 382.7,2148.7 384,2143 385.3,2144.9 386.7,2147.8 388,2150.7 389.3,2157.5 390.7,2163.9 392,2165.7 393.3,2166 394.7,2167.1 396,2168.8 397.3,2170.6 398.7,2171 400,2170.9 401.3,2171.7 402.7,2172.5 404,2172.4 405.3,2171.5 406.7,2170.2 408,2169.4 409.3,2171 410.7,2173.4 412,2174.4 413.3,2174.5 414.7,2174.5 416,2174.7 417.3,2175.1 418.7,2175.2 420,2175 421.3,2174.7 422.7,2174.5 424,2174.6 425.3,2175 426.7,2175.1 428,2175 429.3,2174.7 430.7,2174.5 432,2174.8 433.3,2174.9 434.7,2174.8 436,2174.9 437.3,2174.6 438.7,2174.2 440,2174.2 441.3,2173.7 442.7,2172.4 444,2171 445.3,2169.9 446.7,2170.2 448,2171.2 449.3,2171.7 450.7,2171.6 452,2171 453.3,2170.6 454.7,2171 456,2170.9 457.3,2170.6 458.7,2171 460,2170.9 461.3,2169.7 462.7,2169 464,2169.3 465.3,2169.9 466.7,2170.2 468,2170.6 469.3,2171.3 470.7,2171.8 472,2172.2 473.3,2173 474.7,2173.5 476,2173.3 477.3,2173.3 478.7,2173.2 480,2172.8 481.3,2172.8 482.7,2173.3 484,2173.6 485.3,2173.9 486.7,2174.4 488,2174.4 489.3,2174.4 490.7,2174.3 492,2174.2 493.3,2173.7 494.7,2173.4 496,2173.4 497.3,2173.2 498.7,2173 500,2173 501.3,2173.3 502.7,2173.3 504,2173 505.3,2173 506.7,2173.4 508,2173.8 509.3,2174.1 510.7,2174.2 512,2173.9 513.3,2173.8 514.7,2173.9 516,2173.6 517.3,2173.5 518.7,2173.6 520,2173.3 521.3,2171.8 522.7,2169.4 524,2168.8 525.3,2170.4 526.7,2171.2 528,2171 529.3,2170.7 530.7,2171.4 532,2172.3 533.3,2172.1 534.7,2171.5 536,2171.3 537.3,2171.7 538.7,2172.1 540,2171.8 541.3,2171.4 542.7,2171.8 544,2172.5 545.3,2172.9 546.7,2172.9 548,2173.3 549.3,2173.6 550.6,2173.7 552,2174 553.3,2174.2 554.6,2173.5 556,2172.8 557.3,2172.2 558.6,2171.8 560,2171.2 561.3,2170.2 562.6,2169.9 564,2169.9 565.3,2169 566.6,2168.3 568,2168.4 569.3,2168.4 570.6,2167.3 572,2162.1 573.3,2144.3 574.6,2125.1 576,2128.5 577.3,2142.6 578.6,2151 580,2159.8 581.3,2166.1 582.6,2166.9 584,2167 585.3,2166.7 586.6,2166.5 588,2167.4 589.3,2167.8 590.6,2167.7 592,2168.3 593.3,2168 594.6,2167.4 596,2167.2 597.3,2166.6 598.6,2165.2 600,2163.2 601.3,2159.4 602.6,2153.7 604,2145.5 605.3,2133.7 606.6,2122.6 608,2110.6 609.3,2096.6 610.6,2096.2 612,2114.6 613.3,2131.9 614.6,2137.2 616,2135.8 617.3,2134.4 618.6,2137.7 620,2141.7 621.3,2141 622.6,2143.4 624,2152.1 625.3,2158.7 626.6,2158.1 628,2150.7 629.3,2143.6 630.6,2144 632,2146.9 633.3,2145.8 634.6,2146.7 636,2153.3 637.3,2160.5 638.6,2166 640,2168.2 641.3,2167.4 642.6,2167.6 644,2169.6 645.3,2170.8 646.6,2170.3 648,2169.9 649.3,2169.3 650.6,2168.8 652,2169.4 653.3,2170.5 654.6,2170 656,2168 657.3,2167.1 658.6,2168.5 660,2170.2 661.3,2170.3 662.6,2170.1 664,2170.4 665.3,2171.5 666.6,2170.1 668,2172.8 669.3,2174.2 670.6,2173.1 672,2169.8 673.3,2173 674.6,2173.1 676,2173.1 677.3,2174 678.6,2173.6 680,2173.8 681.3,2171.9 682.6,2172.8 684,2173.6 685.3,2173.2 686.6,2173.3 688,2174.9 689.3,2172.8 690.6,2174.5 692,2173.1 693.3,2173.4 694.6,2172 696,2170.9 697.3,2171 698.6,2171.3 700,2170.5 701.3,2169.3 702.6,2170.7 704,2171.1 705.3,2171.3 706.6,2171.9 708,2171.6 709.3,2172.9 710.6,2171.7 712,2171.8 713.3,2172.1 714.6,2169 716,2168.2 717.3,2168.9 718.6,2167 720,2166.8 721.3,2166.4 722.6,2161.9 724,2162.7 725.3,2159.6 726.6,2158 728,2159 729.3,2155.6 730.6,2156.9 732,2155.1 733.3,2157.3 734.6,2157.4 736,2149.5 737.3,2106.3 738.6,2142.5 740,2157 741.3,2156.1 742.6,2156.8 744,2164.6 745.3,2170.7 746.6,2169.8 748,2169.5 749.3,2169.5 750.6,2169.8 752,2168.7 753.3,2169.9 754.6,2168.7 756,2170.3 757.3,2165.4 758.6,2160.5 760,2157.2 761.3,2158.7 762.6,2161.4 764,2163 765.3,2161.5 766.6,2160.4 768,2159.9 769.3,2159.8 770.6,2161.6 772,2162 773.3,2166 774.6,2164.9 776,2161.4 777.3,2159.2 778.6,2157.5 780,2155.4 781.3,2152.8 782.6,2157.7 784,2161.9 785.3,2150.1 786.6,2141.9 788,2131.8 789.3,2128.6 790.6,2134.8 791.9,2135.5 793.3,2132.4 794.6,2134.1 795.9,2130.2 797.3,2127 798.6,2130.8 799.9,2137.2 801.3,2143.5 802.6,2142.5 803.9,2132.5 805.3,2124.7 806.6,2121.8 807.9,2126.3 809.3,2120.7 810.6,2114.4 811.9,2108.5 813.3,2107.9 814.6,2105.9 815.9,2094.6 817.3,2083.7 818.6,2089.2 819.9,2087.1 821.3,2075.4 822.6,2076.9 823.9,2082.5 825.3,2094 826.6,2103.8 827.9,2111.7 829.3,2093 830.6,2074 831.9,2047.2 833.3,2022.5 834.6,2016.8 835.9,2024.3 837.3,2006.4 838.6,1995.9 839.9,2022.7 841.3,2045.5 842.6,2033.6 843.9,2016.8 845.3,2007.8 846.6,2001.4 847.9,2012 849.3,2026.9 850.6,2003 851.9,1958.3 853.3,1933.2 854.6,1968.8 855.9,2086.5 857.3,2060.9 858.6,2039 859.9,2029.4 861.3,2046 862.6,2076.3 863.9,2089.1 865.3,2101.9 866.6,2081.7 867.9,2059.3 869.3,2039.9 870.6,2021.9 871.9,2015.4 873.3,2010.7 874.6,2002.8 875.9,1992.9 877.3,1982.1 878.6,1991.4 879.9,2020.4 881.3,1996.6 882.6,1995.5 883.9,2029.9 885.3,2000.3 886.6,1987.6 887.9,2015.5 889.3,2029.5 890.6,2029.5 891.9,2031.8 893.3,2032.3 894.6,2031.9 895.9,2013.5 897.3,1994.5 898.6,2008 899.9,2036.5 901.3,2029.4 902.6,2022.6 903.9,2040.2 905.3,2048.1 906.6,2056.3 907.9,2074.6 909.3,2079.6 910.6,2079.6 911.9,2080.9 913.3,2084.4 914.6,2093.5 915.9,2083.3 917.3,2059.8 918.6,2072.6 919.9,2079.6 921.3,2072.7 922.6,2087.3 923.9,2110.5 925.3,2129.9 926.6,2145.9 927.9,2137.4 929.3,2134.9 930.6,2129.5 931.9,2134.9 933.3,2143.2 934.6,2148.2 935.9,2143.2 937.3,2139 938.6,2137.3 939.9,2133 941.3,2126.8 942.6,2121 943.9,2135.7 945.3,2152.1 946.6,2146.4 947.9,2136 949.3,2138.8 950.6,2146.7 951.9,2143.2 953.3,2131.4 954.6,2134.3 955.9,2150 957.3,2161 958.6,2161 959.9,2163 961.3,2165.3 962.6,2166.6 963.9,2165.6 965.3,2164 966.6,2163.2 967.9,2156.6 969.3,2148.5 970.6,2154.2 971.9,2158.5 973.3,2162.3 974.6,2162.6 975.9,2162.1 977.3,2162.8 978.6,2160.2 979.9,2161.9 981.3,2158.6 982.6,2160.3 983.9,2159 985.3,2157.9 986.6,2158.2 987.9,2161.5 989.3,2164.7 990.6,2166.8 991.9,2165 993.3,2166.2 994.6,2166.1 995.9,2166.9 997.3,2167.5 998.6,2166.7 999.9,2167.4 1001.3,2166.9 1002.6,2168.2 1003.9,2170 1005.3,2168.3 1006.6,2169.3 1007.9,2169.9 1009.3,2172.8 1010.6,2170.9 1011.9,2170.1 1013.3,2171 1014.6,2170.4 1015.9,2170.3 1017.3,2171 1018.6,2168.7 1019.9,2163.5 1021.3,2159.7 1022.6,2158.6 1023.9,2164.3 1025.3,2163.2 1026.6,2158 1027.9,2159.7 1029.2,2165.1 1030.6,2167.6 1031.9,2169.9 1033.2,2170 1034.6,2170.9 1035.9,2171.6 1037.2,2172 1038.6,2168.8 1039.9,2163.8 1041.2,2159.1 1042.6,2164 1043.9,2164 1045.2,2168.1 1046.6,2165.6 1047.9,2162 1049.2,2160.5 1050.6,2157.6 1051.9,2155.4 1053.2,2151.1 1054.6,2147.3 1055.9,2139.1 1057.2,2125.3 1058.6,2125.2 1059.9,2128.7 1061.2,2133 1062.6,2124.2 1063.9,2123.4 1065.2,2121.8 1066.6,2122.9 1067.9,2125.6 1069.2,2127.6 1070.6,2125.8 1071.9,2126.1 1073.2,2131.6 1074.6,2136.1 1075.9,2132.9 1077.2,2131.3 1078.6,2129.9 1079.9,2139.5 1081.2,2144.9 1082.6,2146.8 1083.9,2148.4 1085.2,2150 1086.6,2151.8 1087.9,2154.7 1089.2,2156.5 1090.6,2149.3 1091.9,2139.9 1093.2,2133.3 1094.6,2133.8 1095.9,2136.6 1097.2,2142.8 1098.6,2151.1 1099.9,2157.5 1101.2,2161.7 1102.6,2166.9 1103.9,2170.9 1105.2,2170.5 1106.6,2172.5 1107.9,2174.2 1109.2,2174.1 1110.6,2174.6 1111.9,2174.3 1113.2,2174.6 1114.6,2174.9 1115.9,2174.2 1117.2,2174.7 1118.6,2173.2 1119.9,2172.9 1121.2,2174 1122.6,2174 1123.9,2172.9 1125.2,2173.4 1126.6,2171.3 1127.9,2175.5 1129.2,2175 1130.6,2173.7 1131.9,2172.1 1133.2,2170.7 1134.6,2170.6 1135.9,2168.8 1137.2,2167.7 1138.6,2165.7 1139.9,2162.9 1141.2,2165.8 1142.6,2160.8 1143.9,2161.1 1145.2,2164.9 1146.6,2161.7 1147.9,2158.8 1149.2,2159.2 1150.6,2161.7 1151.9,2163.9 1153.2,2165 1154.6,2166.2 1155.9,2168.4 1157.2,2169.2 1158.6,2169 1159.9,2169.5 1161.2,2170 1162.6,2169.1 1163.9,2166.8 1165.2,2165.9 1166.6,2167.2 1167.9,2167.8 1169.2,2168.2 1170.6,2169 1171.9,2168.7 1173.2,2162.7 1174.6,2156.5 1175.9,2161.3 1177.2,2167.2 1178.6,2166.4 1179.9,2165.3 1181.2,2164.5 1182.6,2161.6 1183.9,2157.1 1185.2,2152.9 1186.6,2149.3 1187.9,2142.5 1189.2,2134.4 1190.6,2133 1191.9,2137.2 1193.2,2142.8 1194.6,2144.1 1195.9,2141.4 1197.2,2142.3 1198.6,2146.1 1199.9,2149.3 1201.2,2153.7 1202.6,2158.7 1203.9,2161.2 1205.2,2162.7 1206.6,2165 1207.9,2167.2 1209.2,2167.5 1210.6,2166.4 1211.9,2164.5 1213.2,2162.8 1214.6,2162.9 1215.9,2164.3 1217.2,2165.7 1218.6,2166 1219.9,2166.1 1221.2,2166.2 1222.6,2165 1223.9,2163.2 1225.2,2160.4 1226.6,2155.6 1227.9,2153.9 1229.2,2158.3 1230.6,2161.5 1231.9,2160.1 1233.2,2157.7 1234.6,2155.6 1235.9,2155.2 1237.2,2155.9 1238.6,2154.8 1239.9,2149.4 1241.2,2142.7 1242.6,2140.1 1243.9,2142.9 1245.2,2148.5 1246.6,2152.9 1247.9,2155.4 1249.2,2157.5 1250.6,2158.3 1251.9,2158.1 1253.2,2158 1254.6,2159.1 1255.9,2159.7 1257.2,2158.7 1258.6,2155.4 1259.9,2150.2 1261.2,2148 1262.6,2150.9 1263.9,2155.6 1265.2,2159.7 1266.6,2161.6 1267.9,2161.3 1269.2,2162.5 1270.5,2166.9 1271.9,2170.8 1273.2,2172.2 1274.5,2172.8 1275.9,2173.5 1277.2,2173.6 1278.5,2173.7 1279.9,2174.3 1281.2,2174.7 1282.5,2174.7 1283.9,2174.1 1285.2,2173.2 1286.5,2171.2 1287.9,2166.5 1289.2,2157.8 1290.5,2149.8 1291.9,2151.6 1293.2,2160.7 1294.5,2167.3 1295.9,2170 1297.2,2171.7 1298.5,2172.8 1299.9,2172.6 1301.2,2171.3 1302.5,2169.3 1303.9,2166.8 1305.2,2164.4 1306.5,2162.6 1307.9,2162.8 1309.2,2164.8 1310.5,2166.2 1311.9,2167.4 1313.2,2169.6 1314.5,2170.8 1315.9,2171 1317.2,2171.8 1318.5,2172.9 1319.9,2173.3 1321.2,2173.6 1322.5,2174.2 1323.9,2174.4 1325.2,2174.6 1326.5,2174.4 1327.9,2172.7 1329.2,2170.4 1330.5,2168.8 1331.9,2168 1333.2,2167.6 1334.5,2166.6 1335.9,2165.1 1337.2,2164 1338.5,2163.5 1339.9,2164.5 1341.2,2166.9 1342.5,2169.2 1343.9,2170.6 1345.2,2171.1 1346.5,2170.2 1347.9,2167.6 1349.2,2164.8 1350.5,2162 1351.9,2157.9 1353.2,2153.2 1354.5,2147.4 1355.9,2139.8 1357.2,2128.4 1358.5,2120.1 1359.9,2127.5 1361.2,2142.1 1362.5,2147.6 1363.9,2146.8 1365.2,2150 1366.5,2154 1367.9,2153 1369.2,2152.3 1370.5,2156.5 1371.9,2161.1 1373.2,2162.5 1374.5,2162.2 1375.9,2163.1 1377.2,2165.3 1378.5,2166.1 1379.9,2165.5 1381.2,2165.5 1382.5,2166.2 1383.9,2166.5 1385.2,2167.4 1386.5,2168.1 1387.9,2168.1 1389.2,2168.8 1390.5,2169.8 1391.9,2170.3 1393.2,2170.8 1394.5,2170.7 1395.9,2170.7 1397.2,2170.8 1398.5,2170.9 1399.9,2170.1 1401.2,2167.3 1402.5,2164.3 1403.9,2164.5 1405.2,2167.8 1406.5,2170.6 1407.9,2171.1 1409.2,2170.7 1410.5,2170.5 1411.9,2170.5 1413.2,2170 1414.5,2169.4 1415.9,2168.6 1417.2,2167.9 1418.5,2167.9 1419.9,2168.5 1421.2,2168.4 1422.5,2167.1 1423.9,2164.3 1425.2,2160.3 1426.5,2158.4 1427.9,2159.9 1429.2,2163 1430.5,2165.9 1431.9,2167.5 1433.2,2167.4 1434.5,2166.4 1435.9,2165.3 1437.2,2164.5 1438.5,2164.6 1439.9,2167.2 1441.2,2169.9 1442.5,2171.3 1443.9,2172.5 1445.2,2173.3 1446.5,2173.3 1447.9,2173.4 1449.2,2173.6 1450.5,2174 1451.9,2174.7 1453.2,2175.5 1454.5,2175.8 1455.9,2175.8 1457.2,2175.8 1458.5,2175.6 1459.9,2175.5 1461.2,2175.5 1462.5,2175 1463.9,2174.7 1465.2,2174.9 1466.5,2174.5 1467.9,2173.6 1469.2,2172.6 1470.5,2171.4 1471.9,2169.7 1473.2,2167.8 1474.5,2166.2 1475.9,2165.3 1477.2,2165.6 1478.5,2167.4 1479.9,2168.6 1481.2,2169 1482.5,2169.9 1483.9,2170.9 1485.2,2170.9 1486.5,2169.7 1487.9,2165.9 1489.2,2161.3 1490.5,2160.5 1491.9,2159.6 1493.2,2153.8 1494.5,2148.8 1495.9,2151.3 1497.2,2159.8 1498.5,2167.3 1499.9,2170.2 1501.2,2171 1502.5,2171.9 1503.9,2172.8 1505.2,2173.7 1506.5,2174.5 1507.9,2175.2 1509.2,2175.6 1510.5,2175.5 1511.8,2174.5 1513.2,2173.1 1514.5,2171.7 1515.8,2169.6 1517.2,2168 1518.5,2168.7 1519.8,2170.1 1521.2,2170.7 1522.5,2170.6 1523.8,2170.5 1525.2,2170.6 1526.5,2170.4 1527.8,2170 1529.2,2170 1530.5,2170 1531.8,2168.8 1533.2,2167.2 1534.5,2165.9 1535.8,2163.2 1537.2,2159.4 1538.5,2160.5 1539.8,2166.8 1541.2,2171.2 1542.5,2172.3 1543.8,2173.8 1545.2,2178.6 1546.5,2178.6 1547.8,2178.6 1549.2,2178.6 1550.5,2178.6 1551.8,2178.6 1553.2,2178.6 1554.5,2178.6 1555.8,2178.6 1557.2,2178.6 1558.5,2178.6 1559.8,2178.6 1561.2,2178.6 1562.5,2178.6 1563.8,2178.6 1565.2,2178.6 1566.5,2178.6 1567.8,2178.6 1569.2,2178.6 1570.5,2178.6 1571.8,2178.6 1573.2,2178.6 1574.5,2178.6 1575.8,2178.6 1577.2,2178.6 1578.5,2178.6 1579.8,2178.6 1581.2,2178.6 1582.5,2178.6 1583.8,2178.6 1585.2,2178.6 1586.5,2178.6 1587.8,2178.6 1589.2,2178.6 1590.5,2178.6 1591.8,2178.6 1593.2,2178.6 1594.5,2178.6 1595.8,2178.6 1597.2,2178.6 1598.5,2178.6 1599.8,2178.6 1601.2,2178.6 1602.5,2178.6 1603.8,2176.7 1605.2,2176.7 1606.5,2176.7 1607.8,2176.2 1609.2,2174.9 1610.5,2173.5 1611.8,2172.7 1613.2,2172.6 1614.5,2172.5 1615.8,2172 1617.2,2171.4 1618.5,2170.6 1619.8,2168.6 1621.2,2166.9 1622.5,2167.9 1623.8,2170.3 1625.2,2171.3 1626.5,2171.7 1627.8,2171.9" fill="none" stroke="#0072bd" stroke-width="5.4" stroke-linejoin="round" stroke-linecap="round"/>
<path d="M828.5,428.9V398.1M828.5,364.1V333.3M828.5,299.4V268.6M828.5,234.6V203.8M828.5,169.9V139.1" stroke="#808080" stroke-width="7.8" fill="none"/>
<path d="M908.8,428.9V398.1M908.8,364.1V333.3M908.8,299.4V268.6M908.8,234.6V203.8M908.8,169.9V139.1" stroke="#f466d6" stroke-width="7.8" fill="none"/>
<path d="M828.5,864.6V833.8M828.5,799.9V769.1M828.5,735.1V704.3M828.5,670.4V639.6M828.5,605.6V574.8" stroke="#808080" stroke-width="7.8" fill="none"/>
<path d="M908.8,864.6V833.8M908.8,799.9V769.1M908.8,735.1V704.3M908.8,670.4V639.6M908.8,605.6V574.8" stroke="#f466d6" stroke-width="7.8" fill="none"/>
<path d="M828.5,1305.3V1274.5M828.5,1240.5V1209.8M828.5,1175.8V1145M828.5,1111V1080.2M828.5,1046.3V1015.5" stroke="#808080" stroke-width="7.8" fill="none"/>
<path d="M908.8,1305.3V1274.5M908.8,1240.5V1209.8M908.8,1175.8V1145M908.8,1111V1080.2M908.8,1046.3V1015.5" stroke="#f466d6" stroke-width="7.8" fill="none"/>
<path d="M828.5,1740.8V1710M828.5,1676V1645.2M828.5,1611.3V1580.5M828.5,1546.5V1515.8M828.5,1481.8V1451" stroke="#808080" stroke-width="7.8" fill="none"/>
<path d="M908.8,1740.8V1710M908.8,1676V1645.2M908.8,1611.3V1580.5M908.8,1546.5V1515.8M908.8,1481.8V1451" stroke="#f466d6" stroke-width="7.8" fill="none"/>
<path d="M828.5,2176.7V2145.9M828.5,2111.9V2081.1M828.5,2047.2V2016.4M828.5,1982.4V1951.6M828.5,1917.7V1886.9" stroke="#808080" stroke-width="7.8" fill="none"/>
<path d="M908.8,2176.7V2145.9M908.8,2111.9V2081.1M908.8,2047.2V2016.4M908.8,1982.4V1951.6M908.8,1917.7V1886.9" stroke="#f466d6" stroke-width="7.8" fill="none"/>
<path d="M548.6,432v-16.5M548.6,120.2v16.5M908.6,432v-16.5M908.6,120.2v16.5M1268.5,432v-16.5M1268.5,120.2v16.5M268.8,432v-8.5M268.8,120.2v8.5M340.8,432v-8.5M340.8,120.2v8.5M412.8,432v-8.5M412.8,120.2v8.5M484.8,432v-8.5M484.8,120.2v8.5M628.8,432v-8.5M628.8,120.2v8.5M700.8,432v-8.5M700.8,120.2v8.5M772.8,432v-8.5M772.8,120.2v8.5M844.8,432v-8.5M844.8,120.2v8.5M988.8,432v-8.5M988.8,120.2v8.5M1060.8,432v-8.5M1060.8,120.2v8.5M1132.8,432v-8.5M1132.8,120.2v8.5M1204.8,432v-8.5M1204.8,120.2v8.5M1348.8,432v-8.5M1348.8,120.2v8.5M1420.8,432v-8.5M1420.8,120.2v8.5M1492.8,432v-8.5M1492.8,120.2v8.5M1564.8,432v-8.5M1564.8,120.2v8.5M188.7,428.9h16.5M1628.5,428.9h-16.5M188.7,409.6h8.5M1628.5,409.6h-8.5M188.7,390.3h8.5M1628.5,390.3h-8.5M188.7,371h8.5M1628.5,371h-8.5M188.7,351.7h16.5M1628.5,351.7h-16.5M188.7,332.4h8.5M1628.5,332.4h-8.5M188.7,313.1h8.5M1628.5,313.1h-8.5M188.7,293.8h8.5M1628.5,293.8h-8.5M188.7,274.5h16.5M1628.5,274.5h-16.5M188.7,255.3h8.5M1628.5,255.3h-8.5M188.7,236h8.5M1628.5,236h-8.5M188.7,216.7h8.5M1628.5,216.7h-8.5M188.7,197.4h16.5M1628.5,197.4h-16.5M188.7,178.1h8.5M1628.5,178.1h-8.5M188.7,158.8h8.5M1628.5,158.8h-8.5M188.7,139.5h8.5M1628.5,139.5h-8.5" stroke="#1c1c1c" stroke-width="3.3" fill="none"/>
<rect x="188.7" y="120.2" width="1439.8" height="311.8" fill="none" stroke="#1c1c1c" stroke-width="3.8"/>
<path d="M548.6,868v-16.5M548.6,555.4v16.5M908.6,868v-16.5M908.6,555.4v16.5M1268.5,868v-16.5M1268.5,555.4v16.5M268.8,868v-8.5M268.8,555.4v8.5M340.8,868v-8.5M340.8,555.4v8.5M412.8,868v-8.5M412.8,555.4v8.5M484.8,868v-8.5M484.8,555.4v8.5M628.8,868v-8.5M628.8,555.4v8.5M700.8,868v-8.5M700.8,555.4v8.5M772.8,868v-8.5M772.8,555.4v8.5M844.8,868v-8.5M844.8,555.4v8.5M988.8,868v-8.5M988.8,555.4v8.5M1060.8,868v-8.5M1060.8,555.4v8.5M1132.8,868v-8.5M1132.8,555.4v8.5M1204.8,868v-8.5M1204.8,555.4v8.5M1348.8,868v-8.5M1348.8,555.4v8.5M1420.8,868v-8.5M1420.8,555.4v8.5M1492.8,868v-8.5M1492.8,555.4v8.5M1564.8,868v-8.5M1564.8,555.4v8.5M188.7,864.6h16.5M1628.5,864.6h-16.5M188.7,845.3h8.5M1628.5,845.3h-8.5M188.7,826h8.5M1628.5,826h-8.5M188.7,806.6h8.5M1628.5,806.6h-8.5M188.7,787.3h16.5M1628.5,787.3h-16.5M188.7,768h8.5M1628.5,768h-8.5M188.7,748.6h8.5M1628.5,748.6h-8.5M188.7,729.3h8.5M1628.5,729.3h-8.5M188.7,710h16.5M1628.5,710h-16.5M188.7,690.7h8.5M1628.5,690.7h-8.5M188.7,671.4h8.5M1628.5,671.4h-8.5M188.7,652h8.5M1628.5,652h-8.5M188.7,632.7h16.5M1628.5,632.7h-16.5M188.7,613.4h8.5M1628.5,613.4h-8.5M188.7,594h8.5M1628.5,594h-8.5M188.7,574.7h8.5M1628.5,574.7h-8.5" stroke="#1c1c1c" stroke-width="3.3" fill="none"/>
<rect x="188.7" y="555.4" width="1439.8" height="312.6" fill="none" stroke="#1c1c1c" stroke-width="3.8"/>
<path d="M548.6,1305.3v-16.5M548.6,992.8v16.5M908.6,1305.3v-16.5M908.6,992.8v16.5M1268.5,1305.3v-16.5M1268.5,992.8v16.5M268.8,1305.3v-8.5M268.8,992.8v8.5M340.8,1305.3v-8.5M340.8,992.8v8.5M412.8,1305.3v-8.5M412.8,992.8v8.5M484.8,1305.3v-8.5M484.8,992.8v8.5M628.8,1305.3v-8.5M628.8,992.8v8.5M700.8,1305.3v-8.5M700.8,992.8v8.5M772.8,1305.3v-8.5M772.8,992.8v8.5M844.8,1305.3v-8.5M844.8,992.8v8.5M988.8,1305.3v-8.5M988.8,992.8v8.5M1060.8,1305.3v-8.5M1060.8,992.8v8.5M1132.8,1305.3v-8.5M1132.8,992.8v8.5M1204.8,1305.3v-8.5M1204.8,992.8v8.5M1348.8,1305.3v-8.5M1348.8,992.8v8.5M1420.8,1305.3v-8.5M1420.8,992.8v8.5M1492.8,1305.3v-8.5M1492.8,992.8v8.5M1564.8,1305.3v-8.5M1564.8,992.8v8.5M188.7,1284.5h8.5M1628.5,1284.5h-8.5M188.7,1263.6h8.5M1628.5,1263.6h-8.5M188.7,1242.8h8.5M1628.5,1242.8h-8.5M188.7,1222h8.5M1628.5,1222h-8.5M188.7,1201.1h16.5M1628.5,1201.1h-16.5M188.7,1180.3h8.5M1628.5,1180.3h-8.5M188.7,1159.5h8.5M1628.5,1159.5h-8.5M188.7,1138.6h8.5M1628.5,1138.6h-8.5M188.7,1117.8h8.5M1628.5,1117.8h-8.5M188.7,1097h16.5M1628.5,1097h-16.5M188.7,1076.1h8.5M1628.5,1076.1h-8.5M188.7,1055.3h8.5M1628.5,1055.3h-8.5M188.7,1034.5h8.5M1628.5,1034.5h-8.5M188.7,1013.6h8.5M1628.5,1013.6h-8.5" stroke="#1c1c1c" stroke-width="3.3" fill="none"/>
<rect x="188.7" y="992.8" width="1439.8" height="312.5" fill="none" stroke="#1c1c1c" stroke-width="3.8"/>
<path d="M548.6,1740.8v-16.5M548.6,1428.9v16.5M908.6,1740.8v-16.5M908.6,1428.9v16.5M1268.5,1740.8v-16.5M1268.5,1428.9v16.5M268.8,1740.8v-8.5M268.8,1428.9v8.5M340.8,1740.8v-8.5M340.8,1428.9v8.5M412.8,1740.8v-8.5M412.8,1428.9v8.5M484.8,1740.8v-8.5M484.8,1428.9v8.5M628.8,1740.8v-8.5M628.8,1428.9v8.5M700.8,1740.8v-8.5M700.8,1428.9v8.5M772.8,1740.8v-8.5M772.8,1428.9v8.5M844.8,1740.8v-8.5M844.8,1428.9v8.5M988.8,1740.8v-8.5M988.8,1428.9v8.5M1060.8,1740.8v-8.5M1060.8,1428.9v8.5M1132.8,1740.8v-8.5M1132.8,1428.9v8.5M1204.8,1740.8v-8.5M1204.8,1428.9v8.5M1348.8,1740.8v-8.5M1348.8,1428.9v8.5M1420.8,1740.8v-8.5M1420.8,1428.9v8.5M1492.8,1740.8v-8.5M1492.8,1428.9v8.5M1564.8,1740.8v-8.5M1564.8,1428.9v8.5M188.7,1721.3h8.5M1628.5,1721.3h-8.5M188.7,1701.8h8.5M1628.5,1701.8h-8.5M188.7,1682.3h8.5M1628.5,1682.3h-8.5M188.7,1662.8h16.5M1628.5,1662.8h-16.5M188.7,1643.3h8.5M1628.5,1643.3h-8.5M188.7,1623.8h8.5M1628.5,1623.8h-8.5M188.7,1604.3h8.5M1628.5,1604.3h-8.5M188.7,1584.8h16.5M1628.5,1584.8h-16.5M188.7,1565.4h8.5M1628.5,1565.4h-8.5M188.7,1545.9h8.5M1628.5,1545.9h-8.5M188.7,1526.4h8.5M1628.5,1526.4h-8.5M188.7,1506.9h16.5M1628.5,1506.9h-16.5M188.7,1487.4h8.5M1628.5,1487.4h-8.5M188.7,1467.9h8.5M1628.5,1467.9h-8.5M188.7,1448.4h8.5M1628.5,1448.4h-8.5" stroke="#1c1c1c" stroke-width="3.3" fill="none"/>
<rect x="188.7" y="1428.9" width="1439.8" height="311.9" fill="none" stroke="#1c1c1c" stroke-width="3.8"/>
<path d="M548.6,2176.7v-16.5M548.6,1864.8v16.5M908.6,2176.7v-16.5M908.6,1864.8v16.5M1268.5,2176.7v-16.5M1268.5,1864.8v16.5M268.8,2176.7v-8.5M268.8,1864.8v8.5M340.8,2176.7v-8.5M340.8,1864.8v8.5M412.8,2176.7v-8.5M412.8,1864.8v8.5M484.8,2176.7v-8.5M484.8,1864.8v8.5M628.8,2176.7v-8.5M628.8,1864.8v8.5M700.8,2176.7v-8.5M700.8,1864.8v8.5M772.8,2176.7v-8.5M772.8,1864.8v8.5M844.8,2176.7v-8.5M844.8,1864.8v8.5M988.8,2176.7v-8.5M988.8,1864.8v8.5M1060.8,2176.7v-8.5M1060.8,1864.8v8.5M1132.8,2176.7v-8.5M1132.8,1864.8v8.5M1204.8,2176.7v-8.5M1204.8,1864.8v8.5M1348.8,2176.7v-8.5M1348.8,1864.8v8.5M1420.8,2176.7v-8.5M1420.8,1864.8v8.5M1492.8,2176.7v-8.5M1492.8,1864.8v8.5M1564.8,2176.7v-8.5M1564.8,1864.8v8.5M188.7,2145.5h8.5M1628.5,2145.5h-8.5M188.7,2114.3h8.5M1628.5,2114.3h-8.5M188.7,2083.1h8.5M1628.5,2083.1h-8.5M188.7,2051.9h8.5M1628.5,2051.9h-8.5M188.7,2020.8h16.5M1628.5,2020.8h-16.5M188.7,1989.6h8.5M1628.5,1989.6h-8.5M188.7,1958.4h8.5M1628.5,1958.4h-8.5M188.7,1927.2h8.5M1628.5,1927.2h-8.5M188.7,1896h8.5M1628.5,1896h-8.5" stroke="#1c1c1c" stroke-width="3.3" fill="none"/>
<rect x="188.7" y="1864.8" width="1439.8" height="311.9" fill="none" stroke="#1c1c1c" stroke-width="3.8"/>
<text x="188.7" y="497.6" font-size="51" text-anchor="middle">20 08:00</text>
<text x="548.6" y="497.6" font-size="51" text-anchor="middle">20 12:30</text>
<text x="908.6" y="497.6" font-size="51" text-anchor="middle">20 17:00</text>
<text x="1268.5" y="497.6" font-size="51" text-anchor="middle">20 21:30</text>
<text x="1628.5" y="497.6" font-size="51" text-anchor="middle">21 02:00</text>
<text x="170.5" y="447.3" font-size="51" text-anchor="end">0</text>
<text x="170.5" y="370.1" font-size="51" text-anchor="end">2</text>
<text x="170.5" y="292.9" font-size="51" text-anchor="end">4</text>
<text x="170.5" y="215.8" font-size="51" text-anchor="end">6</text>
<text x="170.5" y="138.6" font-size="51" text-anchor="end">8</text>
<text x="188.7" y="933.6" font-size="51" text-anchor="middle">20 08:00</text>
<text x="548.6" y="933.6" font-size="51" text-anchor="middle">20 12:30</text>
<text x="908.6" y="933.6" font-size="51" text-anchor="middle">20 17:00</text>
<text x="1268.5" y="933.6" font-size="51" text-anchor="middle">20 21:30</text>
<text x="1628.5" y="933.6" font-size="51" text-anchor="middle">21 02:00</text>
<text x="170.5" y="883" font-size="51" text-anchor="end">0</text>
<text x="170.5" y="805.7" font-size="51" text-anchor="end">2</text>
<text x="170.5" y="728.4" font-size="51" text-anchor="end">4</text>
<text x="170.5" y="651.1" font-size="51" text-anchor="end">6</text>
<text x="170.5" y="573.8" font-size="51" text-anchor="end">8</text>
<text x="188.7" y="1370.9" font-size="51" text-anchor="middle">20 08:00</text>
<text x="548.6" y="1370.9" font-size="51" text-anchor="middle">20 12:30</text>
<text x="908.6" y="1370.9" font-size="51" text-anchor="middle">20 17:00</text>
<text x="1268.5" y="1370.9" font-size="51" text-anchor="middle">20 21:30</text>
<text x="1628.5" y="1370.9" font-size="51" text-anchor="middle">21 02:00</text>
<text x="170.5" y="1323.7" font-size="51" text-anchor="end">0</text>
<text x="170.5" y="1219.5" font-size="51" text-anchor="end">100</text>
<text x="170.5" y="1115.4" font-size="51" text-anchor="end">200</text>
<text x="170.5" y="1011.2" font-size="51" text-anchor="end">300</text>
<text x="188.7" y="1806.4" font-size="51" text-anchor="middle">20 08:00</text>
<text x="548.6" y="1806.4" font-size="51" text-anchor="middle">20 12:30</text>
<text x="908.6" y="1806.4" font-size="51" text-anchor="middle">20 17:00</text>
<text x="1268.5" y="1806.4" font-size="51" text-anchor="middle">20 21:30</text>
<text x="1628.5" y="1806.4" font-size="51" text-anchor="middle">21 02:00</text>
<text x="170.5" y="1759.2" font-size="51" text-anchor="end">0</text>
<text x="170.5" y="1681.2" font-size="51" text-anchor="end">2</text>
<text x="170.5" y="1603.2" font-size="51" text-anchor="end">4</text>
<text x="170.5" y="1525.3" font-size="51" text-anchor="end">6</text>
<text x="170.5" y="1447.3" font-size="51" text-anchor="end">8</text>
<text x="188.7" y="2242.3" font-size="51" text-anchor="middle">20 08:00</text>
<text x="548.6" y="2242.3" font-size="51" text-anchor="middle">20 12:30</text>
<text x="908.6" y="2242.3" font-size="51" text-anchor="middle">20 17:00</text>
<text x="1268.5" y="2242.3" font-size="51" text-anchor="middle">20 21:30</text>
<text x="1628.5" y="2242.3" font-size="51" text-anchor="middle">21 02:00</text>
<text x="170.5" y="2195.1" font-size="51" text-anchor="end">0</text>
<text x="170.5" y="2039.2" font-size="51" text-anchor="end">10</text>
<text x="170.5" y="1883.2" font-size="51" text-anchor="end">20</text>
<text x="908.8" y="2308" font-size="55.8" text-anchor="middle">Time [dd HH:MM (BT)]</text>
<text x="228" y="180.1" font-size="64" text-anchor="start">(a)</text>
<text x="228" y="614.7" font-size="64" text-anchor="start">(b)</text>
<text x="228" y="1066.6" font-size="64" text-anchor="start">(c)</text>
<text x="228" y="1490.7" font-size="64" text-anchor="start">(d)</text>
<text x="228" y="1949.5" font-size="64" text-anchor="start">(e)</text>
<text x="1294" y="198" font-size="56.5" text-anchor="start">log<tspan font-size="41" dy="27" dx="3.5">10</tspan><tspan dy="-27" dx="2.5" font-size="1">​</tspan>[<tspan font-style="italic">N(D)</tspan>]</text>
<text x="1291" y="634" font-size="56.5" text-anchor="start">log<tspan font-size="41" dy="27" dx="3.5">10</tspan><tspan dy="-27" dx="2.5" font-size="1">​</tspan>[<tspan font-style="italic">m(D)</tspan>]</text>
<text x="1411.5" y="1074.8" font-size="56.5" text-anchor="start"><tspan font-style="italic">R</tspan></text>
<text x="1316" y="1508.8" font-size="56.5" text-anchor="start">log<tspan font-size="41" dy="27" dx="3.5">10</tspan><tspan dy="-27" dx="2.5" font-size="1">​</tspan>(<tspan font-style="italic">N</tspan><tspan font-size="41" dy="27" dx="3.5">w</tspan><tspan dy="-27" dx="2.5" font-size="1">​</tspan>)</text>
<text x="1371" y="1946.1" font-size="56.5" text-anchor="start"><tspan font-style="italic">LWC</tspan></text>
<text transform="translate(120.7,276) rotate(-90)" font-size="56" text-anchor="middle"><tspan font-style="italic">D</tspan> (mm)</text>
<text transform="translate(120.7,711.7) rotate(-90)" font-size="56" text-anchor="middle"><tspan font-style="italic">D</tspan> (mm)</text>
<text transform="translate(71.8,1149) rotate(-90)" font-size="56" text-anchor="middle"><tspan font-style="italic">R</tspan> (mm h<tspan font-size="42" dy="-27" dx="2">−1</tspan><tspan dy="27" font-size="1">​</tspan>)</text>
<text transform="translate(95.7,1585.5) rotate(-90)" font-size="56" text-anchor="middle">lg<tspan font-style="italic">N</tspan><tspan font-size="41" dy="27" dx="3.5">w</tspan><tspan dy="-27" dx="2.5" font-size="1">​</tspan> (mm<tspan font-size="42" dy="-27" dx="2">−1</tspan><tspan dy="27" font-size="1">​</tspan>m<tspan font-size="42" dy="-27" dx="2">−3</tspan><tspan dy="27" font-size="1">​</tspan>)</text>
<text transform="translate(95.7,2022.5) rotate(-90)" font-size="56" text-anchor="middle"><tspan font-style="italic">LWC</tspan> (g m<tspan font-size="42" dy="-27" dx="2">−3</tspan><tspan dy="27" font-size="1">​</tspan>)</text>
<rect x="1752" y="118.8" width="69.5" height="312.4" fill="url(#jet)" stroke="#222" stroke-width="1.2"/>
<text x="1837" y="446.4" font-size="44.5" text-anchor="start">0</text>
<path d="M1821.5,306.2h-4" stroke="#222" stroke-width="1.2"/>
<text x="1837" y="321.4" font-size="44.5" text-anchor="start">2</text>
<path d="M1821.5,181.3h-4" stroke="#222" stroke-width="1.2"/>
<text x="1837" y="196.5" font-size="44.5" text-anchor="start">4</text>
<rect x="1752" y="556.7" width="69.5" height="312.3" fill="url(#jet)" stroke="#222" stroke-width="1.2"/>
<text x="1837" y="884.2" font-size="44.5" text-anchor="start">−3</text>
<path d="M1821.5,790.9h-4" stroke="#222" stroke-width="1.2"/>
<text x="1837" y="806.1" font-size="44.5" text-anchor="start">−2</text>
<path d="M1821.5,712.9h-4" stroke="#222" stroke-width="1.2"/>
<text x="1837" y="728.1" font-size="44.5" text-anchor="start">−1</text>
<path d="M1821.5,634.8h-4" stroke="#222" stroke-width="1.2"/>
<text x="1837" y="650" font-size="44.5" text-anchor="start">0</text>
<text x="1837" y="571.9" font-size="44.5" text-anchor="start">1</text>
<text x="1690" y="93.3" font-size="45.4" text-anchor="start">m<tspan font-size="35" dy="-22.4" dx="0">−3</tspan><tspan dy="22.4" font-size="1">​</tspan> mm<tspan font-size="35" dy="-22.4" dx="0">−1</tspan><tspan dy="22.4" font-size="1">​</tspan></text>
<text x="1673.5" y="530.3" font-size="45.4" text-anchor="start">g m<tspan font-size="35" dy="-22.4" dx="0">−3</tspan><tspan dy="22.4" font-size="1">​</tspan> mm<tspan font-size="35" dy="-22.4" dx="0">−1</tspan><tspan dy="22.4" font-size="1">​</tspan></text>
</svg>
</body></html>
